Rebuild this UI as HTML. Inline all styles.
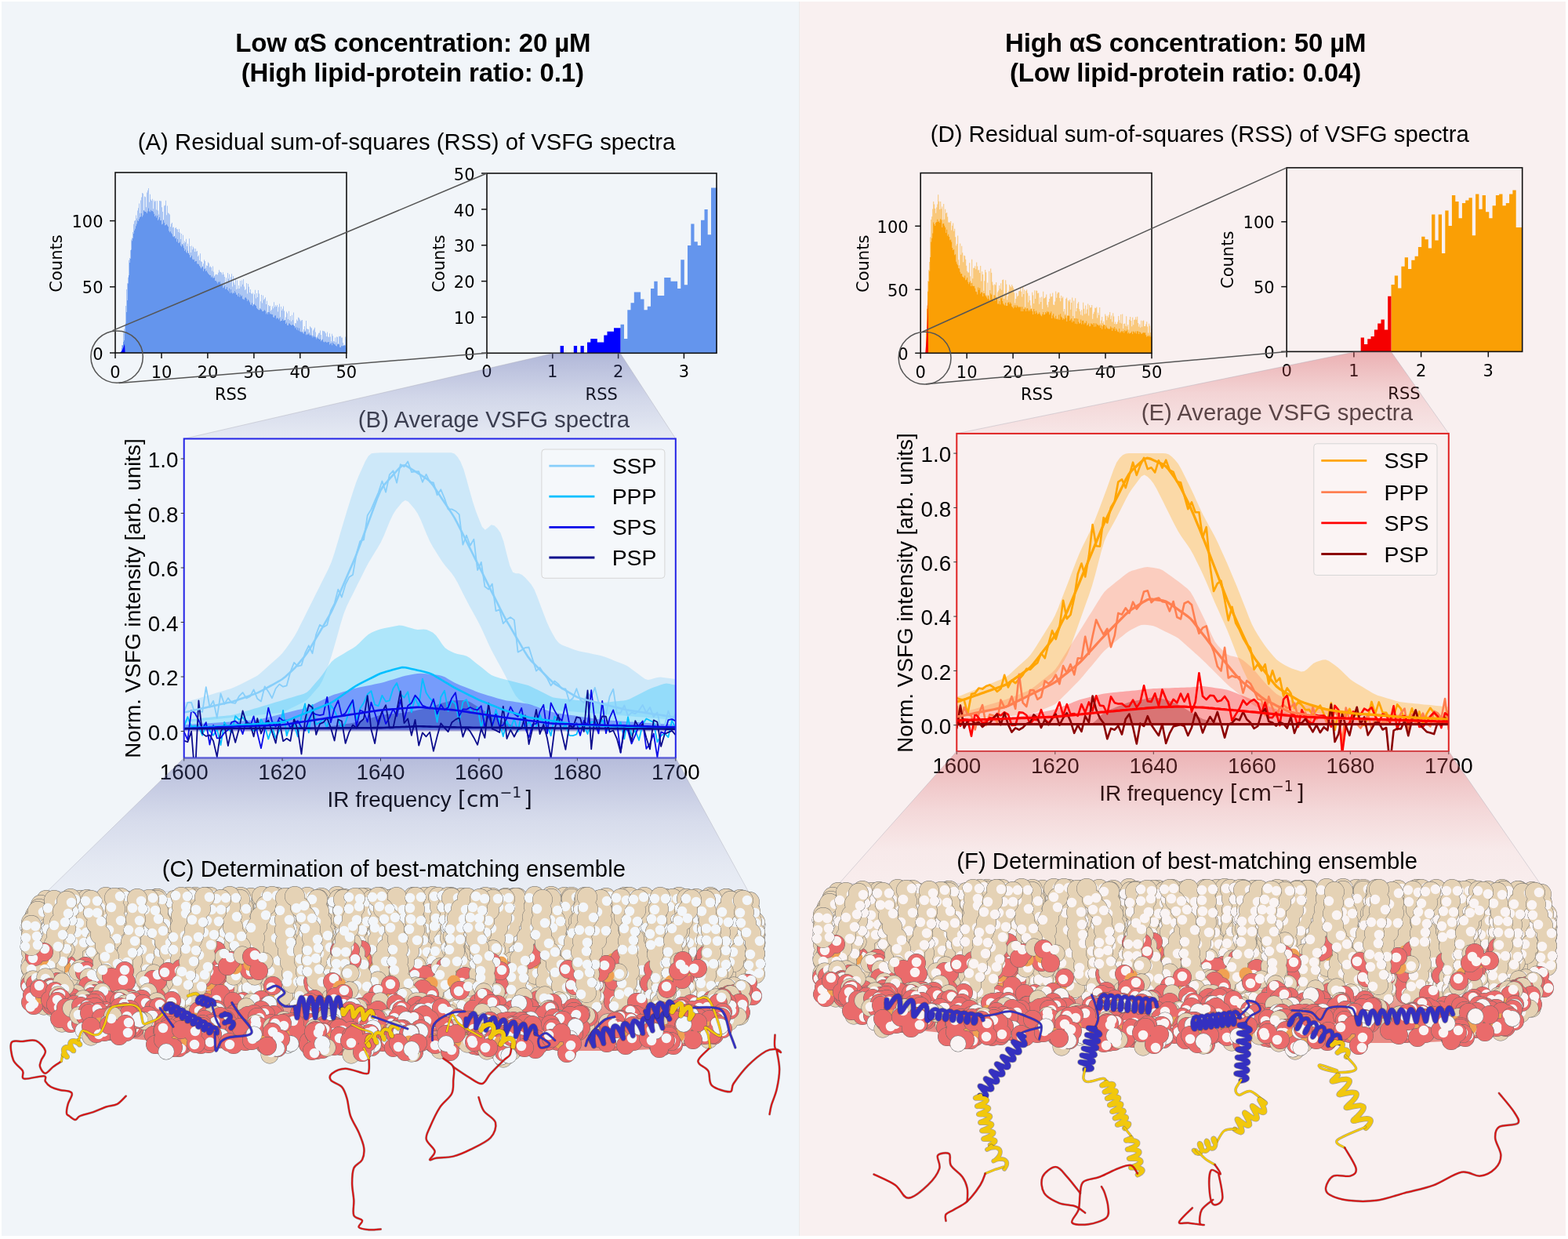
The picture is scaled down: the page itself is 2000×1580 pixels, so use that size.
<!DOCTYPE html><html><head><meta charset="utf-8"><title>VSFG figure</title><style>html,body{margin:0;padding:0;background:#fff;overflow:hidden}svg{display:block}</style></head><body><svg width="2000" height="1580" viewBox="0 0 2000 1580"><rect x="0" y="0" width="2000" height="1580" fill="#ffffff"/>
<rect x="2" y="2" width="1017" height="1574" fill="#f1f5f9"/>
<rect x="1019" y="2" width="1" height="1574" fill="#ebebeb"/>
<rect x="1020" y="2" width="977" height="1574" fill="#f9f0f0"/>
<text x="526.8" y="65.9" font-family="'Liberation Sans', Arial, Helvetica, sans-serif" font-size="33" font-weight="bold" text-anchor="middle" fill="#000" letter-spacing="-0.15">Low αS concentration: 20 µM</text>
<text x="526.3" y="103.9" font-family="'Liberation Sans', Arial, Helvetica, sans-serif" font-size="33" font-weight="bold" text-anchor="middle" fill="#000" letter-spacing="-0.15">(High lipid-protein ratio: 0.1)</text>
<text x="1512.2" y="66" font-family="'Liberation Sans', Arial, Helvetica, sans-serif" font-size="33" font-weight="bold" text-anchor="middle" fill="#000" letter-spacing="-0.15">High αS concentration: 50 µM</text>
<text x="1512" y="103.5" font-family="'Liberation Sans', Arial, Helvetica, sans-serif" font-size="33" font-weight="bold" text-anchor="middle" fill="#000" letter-spacing="-0.15">(Low lipid-protein ratio: 0.04)</text>
<text x="518.5" y="190.7" font-family="'Liberation Sans', Arial, Helvetica, sans-serif" font-size="29.3" font-weight="normal" text-anchor="middle" fill="#000" >(A) Residual sum-of-squares (RSS) of VSFG spectra</text>
<text x="1530.3" y="180.5" font-family="'Liberation Sans', Arial, Helvetica, sans-serif" font-size="29.3" font-weight="normal" text-anchor="middle" fill="#000" >(D) Residual sum-of-squares (RSS) of VSFG spectra</text>
<path d="M147 450v-0h1v-0h1v-0h1v-0h1v-0h1v-0h1v-0h1v-2.7h1v-7.2h1v-0.2h1v-15.7h1v-4.8h1v-4.1h1v-25.3h1v-21h1v-7.8h1v-7.4h1v-22h1v-2.9h1v-9.8h1v-13.7h1v-2.1h1v-7.2h1v-10.3h1v-4.1h1v-0.7h1v-6.5h1v4h1v-10.1h1v-3.1h1v-5.9h1v12.4h1v-16.2h1v-4h1v-5.7h1v0.8h1v21.5h1v-17.6h1v0.6h1v13.1h1v-18.8h1v-2.8h1v-2.6h1v17.6h1v-9.9h1v6.8h1v1.4h1v-2.2h1v12.5h1v-10.9h1v1.9h1v-1.2h1v11.4h1v-11.2h1v12.3h1v5h1v-17.6h1v0.3h1v0.3h1v7.7h1v5.6h1v15.6h1v-22.9h1v-0.9h1v-5.9h1v18.4h1v-11.7h1v9.1h1v0.6h1v1.2h1v15.9h1v-3.9h1v-1.5h1v6.3h1v-0.8h1v12.1h1v-10.6h1v-1h1v2h1v0.7h1v3.3h1v-3.8h1v4.7h1v8.2h1v-7.1h1v13.3h1v-11.5h1v10.5h1v-3h1v1.9h1v-4.4h1v9.4h1v-3.4h1v13.6h1v-20h1v9.6h1v8.2h1v-8.7h1v4.8h1v-3.5h1v2.1h1v4.1h1v-3.9h1v3.7h1v-0.6h1v6.9h1v-1.6h1v6.5h1v-8.6h1v9.9h1v0.8h1v5.3h1v-3.1h1v-5h1v1.7h1v8.9h1v-3.2h1v0.5h1v-4.7h1v1.3h1v5h1v-1.1h1v1.5h1v4.3h1v-5.9h1v7.1h1v5.3h1v-1.3h1v-0.8h1v0.2h1v0.6h1v-2.9h1v-3.5h1v2.4h1v0.3h1v0.9h1v2.4h1v-3h1v2.9h1v3h1v9.7h1v-8.5h1v5.7h1v-11.9h1v7.5h1v-5.8h1v10.5h1v-7.1h1v-3.9h1v16.2h1v-13.4h1v8.4h1v2.7h1v-8.3h1v14.2h1v-11.6h1v10.7h1v-4.2h1v4.1h1v-10h1v7.5h1v-8.1h1v5.2h1v-6.7h1v9.4h1v4.7h1v-1.3h1v-7.8h1v13.6h1v-12.5h1v3.7h1v7.2h1v-3.9h1v5h1v0.8h1v-1.4h1v14.8h1v-13.1h1v-5.4h1v10.6h1v-6.4h1v5h1v-9h1v4.6h1v18.3h1v-8.6h1v-8.2h1v10.4h1v-9.7h1v5.8h1v-1.5h1v-1.9h1v8.8h1v-4.3h1v14.3h1v-9.1h1v1.7h1v-0.7h1v6.7h1v-1.5h1v-4.5h1v2.7h1v-8.1h1v6.2h1v-2.2h1v1.7h1v-2h1v8.7h1v-6h1v-4h1v16.6h1v-13.2h1v5h1v-2.3h1v-3.1h1v5.8h1v12.8h1v-4.6h1v-7h1v1.9h1v7.5h1v-10.2h1v11.5h1v-5.4h1v6.9h1v-8.1h1v6.5h1v-9.7h1v16.9h1v-3.3h1v0.2h1v-4.7h1v1.7h1v-4.5h1v0.7h1v2h1v1.9h1v-1h1v-0.3h1v14.8h1v-3h1v-3.8h1v5.5h1v-12.7h1v10.3h1v0.5h1v0.2h1v4h1v-7.7h1v1.4h1v1h1v9.2h1v-6.3h1v-1.8h1v-1.9h1v5.7h1v7.1h1v-1.7h1v-2.2h1v-2h1v-0.1h1v-3h1v5.4h1v6.3h1v-11.6h1v0.5h1v-0h1v1h1v1.8h1v4.1h1v-5.7h1v5.8h1v0.8h1v-4.7h1v4.3h1v5.6h1v-9.5h1v2.6h1v6.8h1v0.3h1v-4.8h1v5.8h1v-7h1v0.4h1v9.3h1v-10.4h1v0.4h1v-0.7h1v2.1h1v-0h1v6.5h1v4.2h1v-1.4h1v-10.4h1v2.7h1V450Z" fill="#6495ed" opacity="0.5"/>
<path d="M147 450v-0h1v-0h1v-0h1v-0h1v-0h1v-0h1v-0h1v-1.8h1v-3.9h1v-3.8h1v-4.5h1v-1.9h1v-8.9h1v-13h1v-14.1h1v-15h1v-21.7h1v-10.3h1v-16h1v-5.2h1v-11.3h1v-11.4h1v-3.1h1v-6.1h1v-4h1v-2.3h1v-3.5h1v-2.6h1v-4.3h1v0.6h1v-2.6h1v-2.2h1v-0.9h1v-4.1h1v4.5h1v-2.1h1v-6h1v1.2h1v0.2h1v0.6h1v1.6h1v-2.7h1v-4h1v4h1v0.8h1v-2.5h1v1.5h1v-0.1h1v1.1h1v2.6h1v3.2h1v-1.3h1v2.9h1v-2.6h1v6h1v-1.6h1v-2.3h1v4.1h1v-0.3h1v5.3h1v-0.7h1v-5h1v3.5h1v3.6h1v-0.5h1v-1h1v1.5h1v1.3h1v5.6h1v1.7h1v-1.1h1v2.1h1v1.3h1v3h1v0.7h1v-1h1v3.1h1v-0.7h1v4.7h1v-3.3h1v4.8h1v-0.1h1v-1.1h1v4.6h1v1.3h1v-2.9h1v1.6h1v3.1h1v3.8h1v-1.9h1v3.2h1v1.4h1v-3.1h1v3h1v2.3h1v3.5h1v-0.6h1v-1.9h1v4.4h1v0.9h1v-0.6h1v3h1v-0.7h1v-0.1h1v3.6h1v-0h1v0.5h1v2.1h1v1.7h1v1.6h1v-1.3h1v-0.8h1v5.5h1v-3.1h1v0.5h1v2.9h1v-1h1v2.1h1v1.6h1v1.3h1v0.9h1v0.1h1v2.7h1v-1.3h1v1.9h1v-0h1v-0.5h1v4.2h1v-0h1v1.5h1v1.9h1v-2.2h1v0.7h1v-1.2h1v2.9h1v1.9h1v-2.1h1v5.8h1v-0.9h1v-1.9h1v4.3h1v-0.4h1v-2.3h1v3.9h1v1.4h1v-3.6h1v5.9h1v-4.6h1v4.2h1v1.3h1v-1.3h1v0.6h1v-2.7h1v2h1v2.6h1v-0.1h1v2.3h1v-4.1h1v4.8h1v-2.9h1v2.2h1v-1.3h1v4.6h1v0.1h1v0.9h1v-2.6h1v-0.4h1v1.5h1v3.3h1v-2h1v1.3h1v2.1h1v3h1v0.2h1v-2.5h1v4h1v-1.8h1v-1h1v1.6h1v0.9h1v2.8h1v1.4h1v1h1v0.5h1v-0.5h1v-1.4h1v1.4h1v1.8h1v-0h1v-0.4h1v-1.3h1v1.4h1v3.9h1v-1.8h1v2.1h1v-2.9h1v0.4h1v2.3h1v-0.4h1v0.9h1v-0.2h1v3.3h1v0.8h1v-2.2h1v-0.6h1v4.4h1v-1.3h1v0.6h1v1.5h1v-1.6h1v3.9h1v-0.7h1v0.1h1v-2.4h1v2.1h1v0.3h1v-1h1v4.9h1v-1.6h1v3.3h1v0.3h1v-2.4h1v-0.1h1v1.6h1v0.8h1v-0.5h1v-0.3h1v0.7h1v1.2h1v2.5h1v-1.2h1v3.3h1v-2.8h1v3.7h1v-3h1v4h1v0.7h1v0.2h1v-0.2h1v1.9h1v0.3h1v-2.5h1v0.2h1v4.1h1v-0.9h1v0.5h1v-1.4h1v1.2h1v1.5h1v-1.1h1v1.2h1v2h1v-1.9h1v1.7h1v-1.2h1v1.3h1v2.3h1v-1.9h1v1.1h1v0.5h1v0.9h1v-0.5h1v2.7h1v-1.3h1v-1.3h1v3.2h1v0.6h1v-0.6h1v-0.1h1v1h1v-0.1h1v-0.4h1v-0.1h1v3.3h1v-1.1h1v-0.7h1v2.7h1v-3.6h1v1.5h1v0.9h1v0.4h1v1.5h1v0.6h1v-2.3h1v-0.8h1v0.8h1v3.5h1v0.1h1v-1.7h1v-0h1v0.1h1v-0.9h1v0.2h1v-0.2h1v3h1V450Z" fill="#6495ed"/>
<path d="M152.5 450 L155 448.5 L157.5 443 L159 438.5 L159.6 450 Z" fill="#0000ff"/>
<rect x="147" y="220" width="295" height="230" fill="none" stroke="#111" stroke-width="1.6"/>
<line x1="147" y1="450" x2="147" y2="457" stroke="#111" stroke-width="1.5"/>
<text x="147" y="481.7" font-family="'DejaVu Sans', sans-serif" font-size="21" font-weight="normal" text-anchor="middle" fill="#000" >0</text>
<line x1="206" y1="450" x2="206" y2="457" stroke="#111" stroke-width="1.5"/>
<text x="206" y="481.7" font-family="'DejaVu Sans', sans-serif" font-size="21" font-weight="normal" text-anchor="middle" fill="#000" >10</text>
<line x1="264.9" y1="450" x2="264.9" y2="457" stroke="#111" stroke-width="1.5"/>
<text x="264.9" y="481.7" font-family="'DejaVu Sans', sans-serif" font-size="21" font-weight="normal" text-anchor="middle" fill="#000" >20</text>
<line x1="323.9" y1="450" x2="323.9" y2="457" stroke="#111" stroke-width="1.5"/>
<text x="323.9" y="481.7" font-family="'DejaVu Sans', sans-serif" font-size="21" font-weight="normal" text-anchor="middle" fill="#000" >30</text>
<line x1="382.8" y1="450" x2="382.8" y2="457" stroke="#111" stroke-width="1.5"/>
<text x="382.8" y="481.7" font-family="'DejaVu Sans', sans-serif" font-size="21" font-weight="normal" text-anchor="middle" fill="#000" >40</text>
<line x1="441.8" y1="450" x2="441.8" y2="457" stroke="#111" stroke-width="1.5"/>
<text x="441.8" y="481.7" font-family="'DejaVu Sans', sans-serif" font-size="21" font-weight="normal" text-anchor="middle" fill="#000" >50</text>
<line x1="140" y1="450" x2="147" y2="450" stroke="#111" stroke-width="1.5"/>
<text x="131.5" y="458.6" font-family="'DejaVu Sans', sans-serif" font-size="21" font-weight="normal" text-anchor="end" fill="#000" >0</text>
<line x1="140" y1="365.8" x2="147" y2="365.8" stroke="#111" stroke-width="1.5"/>
<text x="131.5" y="374.4" font-family="'DejaVu Sans', sans-serif" font-size="21" font-weight="normal" text-anchor="end" fill="#000" >50</text>
<line x1="140" y1="281.6" x2="147" y2="281.6" stroke="#111" stroke-width="1.5"/>
<text x="131.5" y="290.2" font-family="'DejaVu Sans', sans-serif" font-size="21" font-weight="normal" text-anchor="end" fill="#000" >100</text>
<text x="294.6" y="509.7" font-family="'DejaVu Sans', sans-serif" font-size="21" font-weight="normal" text-anchor="middle" fill="#000" >RSS</text>
<text x="79" y="336" font-family="'DejaVu Sans', sans-serif" font-size="21" font-weight="normal" text-anchor="middle" fill="#000" transform="rotate(-90 79 336)">Counts</text>
<path d="M791.5 450.3V413.7H796V450.3ZM796 450.3V432H800.3V450.3ZM800.3 450.3V395.3H804.5V450.3ZM804.5 450.3V386.2H808.8V450.3ZM808.8 450.3V372.4H817.1V450.3ZM817.1 450.3V381.6H821.5V450.3ZM821.5 450.3V395.3H825.8V450.3ZM825.8 450.3V390.8H830V450.3ZM830 450.3V367.9H834.3V450.3ZM834.3 450.3V358.7H838.7V450.3ZM838.7 450.3V377H847.2V450.3ZM847.2 450.3V354.1H855.5V450.3ZM855.5 450.3V358.7H864.1V450.3ZM864.1 450.3V367.9H868.3V450.3ZM868.3 450.3V331.2H872.8V450.3ZM872.8 450.3V363.3H877V450.3ZM877 450.3V312.9H881.3V450.3ZM881.3 450.3V285.4H885.5V450.3ZM885.5 450.3V308.3H889.8V450.3ZM889.8 450.3V312.9H894V450.3ZM894 450.3V280.8H898.5V450.3ZM898.5 450.3V267.1H902.7V450.3ZM902.7 450.3V299.2H907V450.3ZM907 450.3V239.6H914.7V450.3Z" fill="#6495ed"/>
<path d="M714.6 450.3V441.1H719V450.3ZM731.8 450.3V441.1H736.1V450.3ZM740.5 450.3V441.1H744.8V450.3ZM749 450.3V436.6H753.3V450.3ZM753.3 450.3V432H761.8V450.3ZM761.8 450.3V436.6H770.3V450.3ZM770.3 450.3V427.4H774.5V450.3ZM774.5 450.3V422.8H783V450.3ZM783 450.3V418.2H791.5V450.3Z" fill="#0000ff"/>
<rect x="621" y="221" width="293" height="229.3" fill="none" stroke="#111" stroke-width="1.6"/>
<line x1="621" y1="450.3" x2="621" y2="457.3" stroke="#111" stroke-width="1.5"/>
<text x="621" y="481" font-family="'DejaVu Sans', sans-serif" font-size="21" font-weight="normal" text-anchor="middle" fill="#000" >0</text>
<line x1="704.8" y1="450.3" x2="704.8" y2="457.3" stroke="#111" stroke-width="1.5"/>
<text x="704.8" y="481" font-family="'DejaVu Sans', sans-serif" font-size="21" font-weight="normal" text-anchor="middle" fill="#000" >1</text>
<line x1="788.6" y1="450.3" x2="788.6" y2="457.3" stroke="#111" stroke-width="1.5"/>
<text x="788.6" y="481" font-family="'DejaVu Sans', sans-serif" font-size="21" font-weight="normal" text-anchor="middle" fill="#000" >2</text>
<line x1="872.4" y1="450.3" x2="872.4" y2="457.3" stroke="#111" stroke-width="1.5"/>
<text x="872.4" y="481" font-family="'DejaVu Sans', sans-serif" font-size="21" font-weight="normal" text-anchor="middle" fill="#000" >3</text>
<line x1="614" y1="450.3" x2="621" y2="450.3" stroke="#111" stroke-width="1.5"/>
<text x="605.5" y="458.9" font-family="'DejaVu Sans', sans-serif" font-size="21" font-weight="normal" text-anchor="end" fill="#000" >0</text>
<line x1="614" y1="404.4" x2="621" y2="404.4" stroke="#111" stroke-width="1.5"/>
<text x="605.5" y="413" font-family="'DejaVu Sans', sans-serif" font-size="21" font-weight="normal" text-anchor="end" fill="#000" >10</text>
<line x1="614" y1="358.6" x2="621" y2="358.6" stroke="#111" stroke-width="1.5"/>
<text x="605.5" y="367.2" font-family="'DejaVu Sans', sans-serif" font-size="21" font-weight="normal" text-anchor="end" fill="#000" >20</text>
<line x1="614" y1="312.7" x2="621" y2="312.7" stroke="#111" stroke-width="1.5"/>
<text x="605.5" y="321.3" font-family="'DejaVu Sans', sans-serif" font-size="21" font-weight="normal" text-anchor="end" fill="#000" >30</text>
<line x1="614" y1="266.9" x2="621" y2="266.9" stroke="#111" stroke-width="1.5"/>
<text x="605.5" y="275.5" font-family="'DejaVu Sans', sans-serif" font-size="21" font-weight="normal" text-anchor="end" fill="#000" >40</text>
<line x1="614" y1="221" x2="621" y2="221" stroke="#111" stroke-width="1.5"/>
<text x="605.5" y="229.6" font-family="'DejaVu Sans', sans-serif" font-size="21" font-weight="normal" text-anchor="end" fill="#000" >50</text>
<text x="767.2" y="509.5" font-family="'DejaVu Sans', sans-serif" font-size="21" font-weight="normal" text-anchor="middle" fill="#000" >RSS</text>
<text x="567.3" y="336.2" font-family="'DejaVu Sans', sans-serif" font-size="21" font-weight="normal" text-anchor="middle" fill="#000" transform="rotate(-90 567.3 336.2)">Counts</text>
<path d="M1174.2 450.3v-0h1v-0h1v-0h1v-0h1v-0h1v-0h1v-0.4h1v-28.8h1v-31.7h1v-31.1h1v-14h1v-10.3h1v-31.5h1v-22.4h1v-3.8h1v-9.8h1v-9.4h1v3.5h1v5.4h1v5.7h1v-7.1h1v-4.2h1v-12.1h1v8.5h1v10.1h1v-9.9h1v9.2h1v-2.6h1v16.6h1v-20.2h1v19.7h1v-13h1v5.2h1v-1h1v5.6h1v7.3h1v-0.6h1v0.7h1v-2h1v11.7h1v-5.9h1v-3.1h1v10.1h1v-3h1v10.5h1v11.1h1v-2.3h1v-10.6h1v30.9h1v6.9h1v-27.7h1v14.3h1v-11h1v8.5h1v12h1v-8.6h1v0.6h1v4.5h1v7.9h1v7.1h1v1.6h1v0.1h1v-12.3h1v17h1v8.9h1v-30.3h1v24.4h1v-13.5h1v-0h1v-2.4h1v4h1v-8.8h1v4.9h1v5h1v-0.1h1v3.6h1v-8.9h1v19.4h1v-12.1h1v3.6h1v20.8h1v-12.4h1v-14.3h1v3.3h1v29.3h1v-16.1h1v17.7h1v-32.4h1v24.2h1v-27.4h1v5.2h1v11.6h1v4.1h1v12.8h1v-13.9h1v1.2h1v-3.5h1v23.3h1v-10.8h1v-2.1h1v-6.4h1v4.2h1v-7.1h1v8.6h1v-12.9h1v-0.3h1v24.3h1v-6.7h1v-17h1v5.4h1v20h1v-5h1v-6.7h1v-8h1v2h1v1.5h1v-3.3h1v2h1v2.5h1v5.9h1v13h1v-5.5h1v-7.2h1v4.4h1v-1.1h1v-5.8h1v-0.2h1v-4.1h1v4.7h1v6.8h1v-13.2h1v9.6h1v-5.3h1v21.8h1v-20.5h1v-1.6h1v4.5h1v11.6h1v-8.2h1v5.9h1v6.5h1v8.7h1v-25.6h1v3.9h1v10.4h1v-16.8h1v10.9h1v-10.7h1v0.4h1v3.2h1v-0.4h1v14.1h1v-8.2h1v5.5h1v-6.4h1v15.3h1v-22.1h1v8.7h1v-0.6h1v-1.1h1v-3.2h1v13.1h1v3.1h1v-6.9h1v-3.8h1v-6.5h1v4h1v-0.5h1v-4.5h1v15h1v0.3h1v-4.3h1v-13.2h1v8.4h1v-5.2h1v-1.9h1v0.2h1v7.2h1v4.2h1v-7.3h1v3.3h1v-1.9h1v18.9h1v-3.2h1v6.3h1v-19.4h1v-1.5h1v26.4h1v-22.9h1v1.4h1v-2.3h1v12.6h1v-8.7h1v-6.5h1v23.5h1v-19.5h1v22.2h1v-25.4h1v16.7h1v-4.1h1v-6h1v-1.9h1v9.3h1v2.7h1v4.5h1v-6.3h1v7.2h1v-16.6h1v8h1v6.8h1v-11h1v10.2h1v-5.4h1v-6.9h1v15.1h1v-13.3h1v3.3h1v-0.6h1v-3h1v17.8h1v-6.5h1v-2.6h1v-5.1h1v0.5h1v-1.6h1v13.9h1v-6.7h1v3h1v-9.6h1v20.3h1v-3.9h1v-4.5h1v8h1v-2.2h1v4.9h1v-14.2h1v2.3h1v5.4h1v-5.4h1v2h1v-3.4h1v-3.3h1v8.9h1v-4.6h1v8.1h1v-11.3h1v4.4h1v9.3h1v-2.3h1v2.8h1v-0.3h1v-2.7h1v-7.4h1v5.2h1v3.6h1v-10.9h1v11.7h1v-12.2h1v18.7h1v-6.2h1v-0.3h1v3.2h1v-12.6h1v13.1h1v-2.4h1v6.6h1v-12.8h1v-3.6h1v5h1v7.1h1v-11.5h1v9.6h1v-6.2h1v-0.5h1v-3.4h1v3.5h1v-4h1v8.2h1v4.6h1v-3h1v4.3h1v-9h1v8h1v-7.5h1v-0.9h1v7.5h1v0.2h1v-2.7h1v-3.2h1v6.4h1v7.8h1v-11.6h1v2.7h1v8.5h1v-5.1h1V450.3Z" fill="#fa9f05" opacity="0.5"/>
<path d="M1174.2 450.3v-0h1v-0h1v-0h1v-0h1v-0h1v-0h1v-0.4h1v-28.6h1v-27.6h1v-21.9h1v-12.8h1v-13.2h1v-17.9h1v-19.5h1v-4.6h1v-6.4h1v-14h1v2.3h1v2.2h1v-4h1v-0.9h1v-3.2h1v3.3h1v-1.4h1v2.3h1v-4.7h1v1.2h1v9.4h1v-4.6h1v-0.2h1v2.7h1v2.3h1v6.9h1v-4.3h1v8.1h1v-2h1v3.2h1v4.3h1v-0.7h1v2.9h1v7.6h1v2.8h1v-0.9h1v7.3h1v-1h1v9.4h1v2.9h1v1.7h1v3.7h1v0.4h1v4.3h1v2.5h1v-0.3h1v3.9h1v0.4h1v1.4h1v-3.1h1v5.7h1v-0.7h1v-2.5h1v5.6h1v2.6h1v-2.1h1v-1.9h1v6.7h1v-4.2h1v3.8h1v0.5h1v-0.3h1v3h1v4.1h1v0.5h1v3.1h1v-8.8h1v3.1h1v-2.5h1v7.3h1v-2h1v0.4h1v5.1h1v-3.9h1v-0h1v2.3h1v1.4h1v1.7h1v2.1h1v-4.8h1v4.6h1v1.7h1v-8.8h1v1.4h1v5.7h1v-0.7h1v3h1v-7.3h1v7.1h1v-4.8h1v1.2h1v7.5h1v0.1h1v-3.4h1v4.2h1v-8h1v-0h1v3.7h1v3.2h1v1.3h1v1.1h1v-3.5h1v4h1v-0.1h1v-3.9h1v-0.8h1v2.5h1v-2.2h1v1.6h1v3.5h1v1h1v1.6h1v-4h1v2.4h1v-2.5h1v3h1v-2.6h1v1.4h1v1.3h1v-1.1h1v0.3h1v5.5h1v-5.7h1v5.7h1v-3.2h1v0.7h1v-2h1v4.6h1v-3.7h1v-0.5h1v3.9h1v-1.7h1v1.6h1v-2.5h1v-0.7h1v3.2h1v4.2h1v-6.9h1v2.9h1v3.4h1v-4.1h1v2.5h1v2.4h1v-1h1v-1.9h1v2.4h1v1.7h1v0.9h1v-2.5h1v-2.6h1v3.3h1v-0.4h1v-3h1v1.5h1v-2.7h1v1.4h1v-0.8h1v3.9h1v-2.1h1v-1.9h1v8.8h1v-3.8h1v-2.3h1v4.8h1v1.6h1v-3.7h1v4.2h1v-0.7h1v1.2h1v-6h1v6.4h1v-7.6h1v3.5h1v1.6h1v2.5h1v-1.9h1v1.4h1v-5h1v3.3h1v4.5h1v-7.5h1v-0.1h1v0.2h1v6.3h1v-1.6h1v-1.5h1v5.2h1v-2.3h1v1.1h1v-4h1v6.8h1v-6.7h1v7.3h1v-6.7h1v3.8h1v2.3h1v-0.7h1v-4.4h1v5.9h1v-4.4h1v-0.3h1v4.6h1v-1.8h1v0.7h1v-2.7h1v5.6h1v-1.1h1v-1.8h1v4h1v-0.6h1v-3.5h1v1.1h1v0.8h1v-2h1v4.7h1v-4.6h1v4.4h1v-4h1v1.5h1v0.3h1v1h1v-1h1v3.5h1v-2.8h1v4.6h1v-3.6h1v-2.1h1v0.3h1v5.3h1v-4.4h1v2.3h1v1.3h1v0.6h1v-0.2h1v0.2h1v-3.2h1v1.5h1v4.3h1v-4h1v1.5h1v-2.5h1v4.9h1v-2.8h1v1.6h1v2.1h1v0.8h1v-4.7h1v5.7h1v-1.3h1v-1.2h1v1.3h1v-1.4h1v2.4h1v-3.4h1v1.4h1v-0.2h1v-1.7h1v4.8h1v-1.6h1v1.9h1v-0.6h1v-1.1h1v-1.3h1v3.5h1v-3.6h1v0.7h1v1.6h1v-2.2h1v2.8h1v-3.2h1v0.3h1v3.4h1v-3h1v1.2h1v1.6h1v-0.3h1v-0.9h1v-0.6h1v0.5h1v-0.1h1v3h1v2.1h1v-0.6h1v-1h1v1.5h1v-1.9h1v2h1v-0.7h1V450.3Z" fill="#fa9f05"/>
<path d="M1180.3 450.3 L1181 441 L1182 428 L1183 405 L1183.6 381 L1184 450.3 Z" fill="#f50000"/>
<rect x="1174.2" y="220.6" width="294.8" height="229.7" fill="none" stroke="#111" stroke-width="1.6"/>
<line x1="1174.2" y1="450.3" x2="1174.2" y2="457.3" stroke="#111" stroke-width="1.5"/>
<text x="1174.2" y="481.5" font-family="'DejaVu Sans', sans-serif" font-size="21" font-weight="normal" text-anchor="middle" fill="#000" >0</text>
<line x1="1233.2" y1="450.3" x2="1233.2" y2="457.3" stroke="#111" stroke-width="1.5"/>
<text x="1233.2" y="481.5" font-family="'DejaVu Sans', sans-serif" font-size="21" font-weight="normal" text-anchor="middle" fill="#000" >10</text>
<line x1="1292.1" y1="450.3" x2="1292.1" y2="457.3" stroke="#111" stroke-width="1.5"/>
<text x="1292.1" y="481.5" font-family="'DejaVu Sans', sans-serif" font-size="21" font-weight="normal" text-anchor="middle" fill="#000" >20</text>
<line x1="1351.1" y1="450.3" x2="1351.1" y2="457.3" stroke="#111" stroke-width="1.5"/>
<text x="1351.1" y="481.5" font-family="'DejaVu Sans', sans-serif" font-size="21" font-weight="normal" text-anchor="middle" fill="#000" >30</text>
<line x1="1410" y1="450.3" x2="1410" y2="457.3" stroke="#111" stroke-width="1.5"/>
<text x="1410" y="481.5" font-family="'DejaVu Sans', sans-serif" font-size="21" font-weight="normal" text-anchor="middle" fill="#000" >40</text>
<line x1="1469" y1="450.3" x2="1469" y2="457.3" stroke="#111" stroke-width="1.5"/>
<text x="1469" y="481.5" font-family="'DejaVu Sans', sans-serif" font-size="21" font-weight="normal" text-anchor="middle" fill="#000" >50</text>
<line x1="1167.2" y1="450.3" x2="1174.2" y2="450.3" stroke="#111" stroke-width="1.5"/>
<text x="1158.7" y="458.9" font-family="'DejaVu Sans', sans-serif" font-size="21" font-weight="normal" text-anchor="end" fill="#000" >0</text>
<line x1="1167.2" y1="369.3" x2="1174.2" y2="369.3" stroke="#111" stroke-width="1.5"/>
<text x="1158.7" y="377.9" font-family="'DejaVu Sans', sans-serif" font-size="21" font-weight="normal" text-anchor="end" fill="#000" >50</text>
<line x1="1167.2" y1="288.3" x2="1174.2" y2="288.3" stroke="#111" stroke-width="1.5"/>
<text x="1158.7" y="296.9" font-family="'DejaVu Sans', sans-serif" font-size="21" font-weight="normal" text-anchor="end" fill="#000" >100</text>
<text x="1322.6" y="509.7" font-family="'DejaVu Sans', sans-serif" font-size="21" font-weight="normal" text-anchor="middle" fill="#000" >RSS</text>
<text x="1107.8" y="336.3" font-family="'DejaVu Sans', sans-serif" font-size="21" font-weight="normal" text-anchor="middle" fill="#000" transform="rotate(-90 1107.8 336.3)">Counts</text>
<path d="M1774.5 448.4V363H1778.8V448.4ZM1778.8 448.4V351.4H1783.1V448.4ZM1783.1 448.4V367.4H1787.4V448.4ZM1787.4 448.4V339.8H1791.7V448.4ZM1791.7 448.4V328.3H1796V448.4ZM1796 448.4V342.9H1800.3V448.4ZM1800.3 448.4V331.7H1804.6V448.4ZM1804.6 448.4V326.7H1808.9V448.4ZM1808.9 448.4V315.1H1813.2V448.4ZM1813.2 448.4V301.8H1817.5V448.4ZM1817.5 448.4V305.2H1821.8V448.4ZM1821.8 448.4V316.4H1826.1V448.4ZM1826.1 448.4V273.4H1830.4V448.4ZM1830.4 448.4V306.6H1834.7V448.4ZM1834.7 448.4V273.4H1839V448.4ZM1839 448.4V322.9H1843.3V448.4ZM1843.3 448.4V268.6H1847.6V448.4ZM1847.6 448.4V288.1H1851.9V448.4ZM1851.9 448.4V249H1856.3V448.4ZM1856.3 448.4V257H1860.6V448.4ZM1860.6 448.4V278.3H1864.9V448.4ZM1864.9 448.4V259H1869.2V448.4ZM1869.2 448.4V255.5H1873.5V448.4ZM1873.5 448.4V252.2H1877.8V448.4ZM1877.8 448.4V300.2H1882.1V448.4ZM1882.1 448.4V247.4H1886.4V448.4ZM1886.4 448.4V266.7H1890.7V448.4ZM1890.7 448.4V249H1895V448.4ZM1895 448.4V270.2H1899.3V448.4ZM1899.3 448.4V278.3H1903.6V448.4ZM1903.6 448.4V262.3H1907.9V448.4ZM1907.9 448.4V249H1912.2V448.4ZM1912.2 448.4V247.4H1916.5V448.4ZM1916.5 448.4V262.3H1920.8V448.4ZM1920.8 448.4V259H1925.1V448.4ZM1925.1 448.4V247.4H1929.4V448.4ZM1929.4 448.4V242.4H1933.7V448.4ZM1933.7 448.4V290.1H1938V448.4ZM1938 448.4V290.1H1941.6V448.4Z" fill="#fa9f05"/>
<path d="M1735.7 448.4V430.5H1740V448.4ZM1740 448.4V439H1744.3V448.4ZM1744.3 448.4V432.3H1748.6V448.4ZM1748.6 448.4V428.9H1752.9V448.4ZM1752.9 448.4V420.6H1757.2V448.4ZM1757.2 448.4V412.6H1761.5V448.4ZM1761.5 448.4V407.5H1765.9V448.4ZM1765.9 448.4V420.6H1770.2V448.4ZM1770.2 448.4V377.7H1774.5V448.4Z" fill="#f50000"/>
<rect x="1641.2" y="213.9" width="300.5" height="234.5" fill="none" stroke="#111" stroke-width="1.6"/>
<line x1="1641.2" y1="448.4" x2="1641.2" y2="455.4" stroke="#111" stroke-width="1.5"/>
<text x="1641.2" y="480" font-family="'DejaVu Sans', sans-serif" font-size="21" font-weight="normal" text-anchor="middle" fill="#000" >0</text>
<line x1="1726.9" y1="448.4" x2="1726.9" y2="455.4" stroke="#111" stroke-width="1.5"/>
<text x="1726.9" y="480" font-family="'DejaVu Sans', sans-serif" font-size="21" font-weight="normal" text-anchor="middle" fill="#000" >1</text>
<line x1="1812.6" y1="448.4" x2="1812.6" y2="455.4" stroke="#111" stroke-width="1.5"/>
<text x="1812.6" y="480" font-family="'DejaVu Sans', sans-serif" font-size="21" font-weight="normal" text-anchor="middle" fill="#000" >2</text>
<line x1="1898.3" y1="448.4" x2="1898.3" y2="455.4" stroke="#111" stroke-width="1.5"/>
<text x="1898.3" y="480" font-family="'DejaVu Sans', sans-serif" font-size="21" font-weight="normal" text-anchor="middle" fill="#000" >3</text>
<line x1="1634.2" y1="448.4" x2="1641.2" y2="448.4" stroke="#111" stroke-width="1.5"/>
<text x="1625.7" y="457" font-family="'DejaVu Sans', sans-serif" font-size="21" font-weight="normal" text-anchor="end" fill="#000" >0</text>
<line x1="1634.2" y1="365.6" x2="1641.2" y2="365.6" stroke="#111" stroke-width="1.5"/>
<text x="1625.7" y="374.2" font-family="'DejaVu Sans', sans-serif" font-size="21" font-weight="normal" text-anchor="end" fill="#000" >50</text>
<line x1="1634.2" y1="282.8" x2="1641.2" y2="282.8" stroke="#111" stroke-width="1.5"/>
<text x="1625.7" y="291.4" font-family="'DejaVu Sans', sans-serif" font-size="21" font-weight="normal" text-anchor="end" fill="#000" >100</text>
<text x="1791" y="508.7" font-family="'DejaVu Sans', sans-serif" font-size="21" font-weight="normal" text-anchor="middle" fill="#000" >RSS</text>
<text x="1573" y="331.3" font-family="'DejaVu Sans', sans-serif" font-size="21" font-weight="normal" text-anchor="middle" fill="#000" transform="rotate(-90 1573 331.3)">Counts</text>
<circle cx="149.1" cy="455.1" r="33.2" fill="none" stroke="#555" stroke-width="1.5"/>
<line x1="143.5" y1="421.6" x2="621" y2="221" stroke="#555" stroke-width="1.5"/>
<line x1="151.5" y1="488.6" x2="621" y2="450.3" stroke="#555" stroke-width="1.5"/>
<circle cx="1179.6" cy="456.6" r="33.4" fill="none" stroke="#555" stroke-width="1.5"/>
<line x1="1176.5" y1="423.2" x2="1641.2" y2="213.9" stroke="#555" stroke-width="1.5"/>
<line x1="1181" y1="489.8" x2="1641.2" y2="448.4" stroke="#555" stroke-width="1.5"/>
<defs><linearGradient id="gL1" x1="0" y1="0" x2="0" y2="1"><stop offset="0" stop-color="#525ca8" stop-opacity="0.40"/><stop offset="0.5" stop-color="#525ca8" stop-opacity="0.20"/><stop offset="1" stop-color="#525ca8" stop-opacity="0.07"/></linearGradient><linearGradient id="gL2" x1="0" y1="0" x2="0" y2="1"><stop offset="0" stop-color="#525ca8" stop-opacity="0.37"/><stop offset="0.45" stop-color="#525ca8" stop-opacity="0.17"/><stop offset="0.8" stop-color="#525ca8" stop-opacity="0.08"/><stop offset="1" stop-color="#525ca8" stop-opacity="0.05"/></linearGradient><linearGradient id="gR1" x1="0" y1="0" x2="0" y2="1"><stop offset="0" stop-color="#d75257" stop-opacity="0.40"/><stop offset="0.5" stop-color="#d75257" stop-opacity="0.18"/><stop offset="1" stop-color="#d75257" stop-opacity="0.06"/></linearGradient><linearGradient id="gR2" x1="0" y1="0" x2="0" y2="1"><stop offset="0" stop-color="#d75257" stop-opacity="0.38"/><stop offset="0.45" stop-color="#d75257" stop-opacity="0.15"/><stop offset="0.75" stop-color="#d75257" stop-opacity="0.04"/><stop offset="1" stop-color="#d75257" stop-opacity="0.02"/></linearGradient></defs>
<path d="M704 451 L791.5 451 L861.8 559.5 L234.7 559.5 Z" fill="url(#gL1)" stroke="#a8a8b4" stroke-opacity="0.5" stroke-width="0.8"/>
<path d="M1726.9 449 L1774.7 449 L1847.8 552.9 L1220.3 552.9 Z" fill="url(#gR1)" stroke="#a8a8b4" stroke-opacity="0.5" stroke-width="0.8"/>
<clipPath id="clipB"><rect x="234.7" y="559.5" width="627.1" height="407"/></clipPath>
<g clip-path="url(#clipB)">
<path d="M234.7 895.8 L238.6 894.9 L242.5 893.7 L246.5 892.5 L250.4 891.4 L254.3 890.2 L258.2 889 L262.1 887.8 L266.1 886.7 L270 885.5 L273.9 884.3 L277.8 883.1 L281.7 882 L285.7 880.8 L289.6 879.6 L293.5 878.4 L297.4 877.1 L301.3 875.3 L305.2 873.4 L309.2 871.4 L313.1 869.4 L317 867.5 L320.9 865.5 L324.8 863.6 L328.8 861.2 L332.7 858.1 L336.6 854.6 L340.5 851.1 L344.4 847.5 L348.4 844 L352.3 840.5 L356.2 837 L360.1 833 L364 828 L368 822.5 L371.9 817.1 L375.8 811 L379.7 803.9 L383.6 796 L387.6 788.2 L391.5 780.3 L395.4 772.5 L399.3 764.7 L403.2 756.8 L407.2 749 L411.1 741.1 L415 733.3 L418.9 725.5 L422.8 716.4 L426.7 704.7 L430.7 691.4 L434.6 678 L438.5 664.9 L442.4 652.1 L446.3 639.6 L450.3 627 L454.2 615.3 L458.1 605.5 L462 596.9 L465.9 588.3 L469.9 581.4 L473.8 578.3 L477.7 577.7 L481.6 577.4 L485.5 577.3 L489.5 577.3 L493.4 577.3 L497.3 577.3 L501.2 577.3 L505.1 577.3 L509.1 577.3 L513 577.3 L516.9 577.3 L520.8 577.3 L524.7 577.3 L528.7 577.3 L532.6 577.3 L536.5 577.3 L540.4 577.3 L544.3 577.3 L548.2 577.3 L552.2 577.3 L556.1 577.3 L560 577.3 L563.9 577.3 L567.8 577.3 L571.8 577.3 L575.7 577.3 L579.6 578.5 L583.5 582.5 L587.4 588.8 L591.4 598.6 L595.3 612.1 L599.2 626.2 L603.1 640.1 L607 652.1 L611 662.3 L614.9 671.7 L618.8 675.8 L622.7 672.8 L626.6 669.3 L630.6 670.2 L634.5 674.1 L638.4 679.4 L642.3 690.2 L646.2 706 L650.2 721.2 L654.1 729.8 L658 731.2 L661.9 731.3 L665.8 732.9 L669.8 736.5 L673.7 740.8 L677.6 745.2 L681.5 751.8 L685.4 761.3 L689.3 771.8 L693.3 782.2 L697.2 792.5 L701.1 801.3 L705 808.5 L708.9 815.2 L712.9 820.1 L716.8 822.5 L720.7 824 L724.6 825.4 L728.5 826.9 L732.5 828.4 L736.4 829.7 L740.3 830.7 L744.2 831.5 L748.1 832.3 L752.1 833.1 L756 833.9 L759.9 834.7 L763.8 835.5 L767.7 836.4 L771.7 837.7 L775.6 839.2 L779.5 840.8 L783.4 842.4 L787.3 843.9 L791.3 845.5 L795.2 847.1 L799.1 848.8 L803 851.3 L806.9 854.2 L810.8 857.1 L814.8 860.1 L818.7 863 L822.6 865.8 L826.5 866.9 L830.4 866.2 L834.4 865 L838.3 863.9 L842.2 863.5 L846.1 863.9 L850 864.4 L854 865 L857.9 865.5 L861.8 866 L861.8 917.9 L857.9 917.7 L854 917.4 L850 917 L846.1 916.7 L842.2 916.4 L838.3 916.1 L834.4 915.8 L830.4 915.5 L826.5 915.2 L822.6 914.8 L818.7 914.5 L814.8 914.2 L810.8 913.9 L806.9 913.6 L803 913.3 L799.1 913 L795.2 912.6 L791.3 912.3 L787.3 912 L783.4 911.7 L779.5 911.4 L775.6 911.1 L771.7 910.8 L767.7 910.5 L763.8 910.1 L759.9 909.8 L756 909.5 L752.1 909.2 L748.1 908.9 L744.2 908.6 L740.3 908.3 L736.4 907.9 L732.5 907.6 L728.5 907.3 L724.6 907 L720.7 906.7 L716.8 906.4 L712.9 906.1 L708.9 905.7 L705 905.3 L701.1 904.6 L697.2 903.8 L693.3 903 L689.3 902.2 L685.4 901.4 L681.5 900.6 L677.6 899.8 L673.7 898.5 L669.8 896.5 L665.8 894.1 L661.9 891.7 L658 887.5 L654.1 880.7 L650.2 872.8 L646.2 865 L642.3 857.4 L638.4 850.2 L634.5 843.2 L630.6 836.1 L626.6 828.5 L622.7 820.2 L618.8 811.6 L614.9 803 L611 794.9 L607 787.5 L603.1 780.4 L599.2 773.4 L595.3 766.1 L591.4 758.4 L587.4 750.5 L583.5 742.7 L579.6 735.9 L575.7 730.6 L571.8 725.9 L567.8 721.2 L563.9 716 L560 710 L556.1 703.7 L552.2 697.4 L548.2 690.2 L544.3 681.4 L540.4 672 L536.5 662.6 L532.6 654.7 L528.7 649 L524.7 644.3 L520.8 639.7 L516.9 637.9 L513 640.6 L509.1 645.3 L505.1 650.1 L501.2 656.2 L497.3 664.6 L493.4 674 L489.5 683.4 L485.5 691.9 L481.6 698.8 L477.7 705.1 L473.8 711.4 L469.9 718.1 L465.9 725.6 L462 733.4 L458.1 741.3 L454.2 749.1 L450.3 757 L446.3 764.8 L442.4 772.7 L438.5 782.4 L434.6 795.1 L430.7 809.2 L426.7 823.3 L422.8 836.4 L418.9 848 L415 858.7 L411.1 868.3 L407.2 874.9 L403.2 879.5 L399.3 884.1 L395.4 888.6 L391.5 892.4 L387.6 895 L383.6 897 L379.7 898.9 L375.8 900.9 L371.9 902.8 L368 904.8 L364 906.8 L360.1 908.3 L356.2 909 L352.3 909.4 L348.4 909.8 L344.4 910.2 L340.5 910.6 L336.6 911 L332.7 911.4 L328.8 911.8 L324.8 912.2 L320.9 912.6 L317 913 L313.1 913.4 L309.2 913.7 L305.2 914.1 L301.3 914.5 L297.4 914.9 L293.5 915.3 L289.6 915.7 L285.7 916.1 L281.7 916.5 L277.8 916.9 L273.9 917.3 L270 917.7 L266.1 918.1 L262.1 918.5 L258.2 918.8 L254.3 919.2 L250.4 919.6 L246.5 920 L242.5 920.4 L238.6 920.8 L234.7 921.1 Z" fill="#87cefa" fill-opacity="0.33"/>
<path d="M234.7 918 L238.6 917.7 L242.5 917.3 L246.5 916.9 L250.4 916.5 L254.3 916.1 L258.2 915.7 L262.1 915.3 L266.1 914.9 L270 914.5 L273.9 914.1 L277.8 913.7 L281.7 913.3 L285.7 913 L289.6 912.6 L293.5 912.2 L297.4 911.6 L301.3 910.6 L305.2 909.4 L309.2 908.3 L313.1 907.1 L317 905.9 L320.9 904.7 L324.8 903.6 L328.8 902.4 L332.7 901.2 L336.6 900 L340.5 898.9 L344.4 897.7 L348.4 896.5 L352.3 895.3 L356.2 894.2 L360.1 893 L364 891.8 L368 890.6 L371.9 889.5 L375.8 888.3 L379.7 887.1 L383.6 885.9 L387.6 884.8 L391.5 882.8 L395.4 879.2 L399.3 874.6 L403.2 870.1 L407.2 865.5 L411.1 860.5 L415 854.9 L418.9 849 L422.8 843.9 L426.7 840.5 L430.7 838.1 L434.6 835.8 L438.5 833.4 L442.4 831.1 L446.3 828.7 L450.3 826.4 L454.2 823.7 L458.1 820.2 L462 816.3 L465.9 812.4 L469.9 809 L473.8 806.7 L477.7 805.1 L481.6 803.6 L485.5 802.2 L489.5 801.2 L493.4 800.5 L497.3 799.7 L501.2 799 L505.1 798.2 L509.1 797.6 L513 797.8 L516.9 798.8 L520.8 799.9 L524.7 801.1 L528.7 802.2 L532.6 802.9 L536.5 802.8 L540.4 802.4 L544.3 803 L548.2 804.8 L552.2 806.8 L556.1 810.3 L560 815.6 L563.9 821.5 L567.8 826.2 L571.8 829.1 L575.7 831 L579.6 832.8 L583.5 833.9 L587.4 834.7 L591.4 835.5 L595.3 836.7 L599.2 839.1 L603.1 842.2 L607 845.4 L611 848.5 L614.9 851.6 L618.8 854.8 L622.7 857.9 L626.6 860.7 L630.6 862.5 L634.5 863.7 L638.4 864.9 L642.3 866 L646.2 867.1 L650.2 868 L654.1 869 L658 870 L661.9 871 L665.8 872 L669.8 872.9 L673.7 874.1 L677.6 875.7 L681.5 877.7 L685.4 879.6 L689.3 881.6 L693.3 883.6 L697.2 885.5 L701.1 887.5 L705 889.2 L708.9 890.1 L712.9 890.5 L716.8 890.9 L720.7 891.3 L724.6 891.7 L728.5 892.1 L732.5 892.5 L736.4 892.9 L740.3 893.2 L744.2 893.6 L748.1 894 L752.1 894.4 L756 894.8 L759.9 895.2 L763.8 895.6 L767.7 895.9 L771.7 895.7 L775.6 895.4 L779.5 895 L783.4 894.6 L787.3 894.2 L791.3 893.8 L795.2 893.4 L799.1 892.8 L803 891.4 L806.9 889.4 L810.8 887.5 L814.8 885.5 L818.7 883.6 L822.6 881.6 L826.5 879.6 L830.4 877.8 L834.4 876.2 L838.3 874.9 L842.2 873.6 L846.1 872.3 L850 871.5 L854 871.9 L857.9 872.9 L861.8 873.6 L861.8 930 L857.9 930 L854 930 L850 930 L846.1 930 L842.2 930 L838.3 930 L834.4 930 L830.4 930 L826.5 930 L822.6 930 L818.7 930 L814.8 930 L810.8 930 L806.9 930 L803 930 L799.1 930 L795.2 930 L791.3 930 L787.3 930 L783.4 930 L779.5 930 L775.6 930 L771.7 930 L767.7 930 L763.8 930 L759.9 930 L756 930 L752.1 930 L748.1 930 L744.2 930 L740.3 930 L736.4 930 L732.5 930 L728.5 930 L724.6 930 L720.7 930 L716.8 930 L712.9 930 L708.9 930 L705 930 L701.1 930 L697.2 930 L693.3 930 L689.3 930 L685.4 930 L681.5 930 L677.6 930 L673.7 930 L669.8 930 L665.8 930 L661.9 930 L658 930 L654.1 930 L650.2 930 L646.2 930 L642.3 930 L638.4 930 L634.5 930 L630.6 930 L626.6 930 L622.7 930 L618.8 930 L614.9 930 L611 930 L607 930 L603.1 930 L599.2 930 L595.3 930 L591.4 930 L587.4 930 L583.5 930 L579.6 930 L575.7 930 L571.8 930 L567.8 930 L563.9 930 L560 930 L556.1 930 L552.2 930 L548.2 930 L544.3 930 L540.4 930 L536.5 930 L532.6 930 L528.7 930 L524.7 930 L520.8 930 L516.9 930 L513 930 L509.1 930 L505.1 930 L501.2 930 L497.3 930 L493.4 930 L489.5 930 L485.5 930 L481.6 930 L477.7 930 L473.8 930 L469.9 930 L465.9 930 L462 930 L458.1 930 L454.2 930 L450.3 930 L446.3 930 L442.4 930 L438.5 930 L434.6 930 L430.7 930 L426.7 930 L422.8 930 L418.9 930 L415 930 L411.1 930 L407.2 930 L403.2 930 L399.3 930 L395.4 930 L391.5 930 L387.6 930 L383.6 930 L379.7 930 L375.8 930 L371.9 930 L368 930 L364 930 L360.1 930 L356.2 930 L352.3 930 L348.4 930 L344.4 930 L340.5 930 L336.6 930 L332.7 930 L328.8 930 L324.8 930 L320.9 930 L317 930 L313.1 930 L309.2 930 L305.2 930 L301.3 930 L297.4 930 L293.5 930 L289.6 930 L285.7 930 L281.7 930 L277.8 930 L273.9 930 L270 930 L266.1 930 L262.1 930 L258.2 930 L254.3 930 L250.4 930 L246.5 930 L242.5 930 L238.6 930 L234.7 930 Z" fill="#00bfff" fill-opacity="0.28"/>
<path d="M234.7 924.3 L238.6 924.1 L242.5 923.8 L246.5 923.6 L250.4 923.3 L254.3 923 L258.2 922.8 L262.1 922.5 L266.1 922.2 L270 922 L273.9 921.7 L277.8 921.5 L281.7 921.2 L285.7 920.9 L289.6 920.7 L293.5 920.4 L297.4 920.2 L301.3 919.9 L305.2 919.6 L309.2 919.4 L313.1 919.1 L317 918.8 L320.9 918.6 L324.8 918.3 L328.8 917.9 L332.7 917.1 L336.6 916.1 L340.5 915.1 L344.4 914.2 L348.4 913.2 L352.3 912.2 L356.2 911.2 L360.1 910.2 L364 909.3 L368 908.3 L371.9 907.3 L375.8 906.3 L379.7 905.3 L383.6 904.4 L387.6 903.4 L391.5 902.2 L395.4 900.5 L399.3 898.5 L403.2 896.6 L407.2 894.6 L411.1 892.7 L415 890.7 L418.9 888.7 L422.8 887 L426.7 885.6 L430.7 884.4 L434.6 883.2 L438.5 882 L442.4 880.9 L446.3 879.7 L450.3 878.5 L454.2 877.4 L458.1 876.5 L462 875.7 L465.9 874.9 L469.9 874.2 L473.8 873.4 L477.7 872.6 L481.6 871.8 L485.5 870.9 L489.5 869.9 L493.4 868.7 L497.3 867.5 L501.2 866.4 L505.1 865.2 L509.1 864 L513 862.8 L516.9 861.8 L520.8 860.9 L524.7 860.3 L528.7 859.6 L532.6 859 L536.5 858.7 L540.4 858.9 L544.3 859.3 L548.2 859.7 L552.2 860.2 L556.1 860.6 L560 861 L563.9 861.9 L567.8 863.6 L571.8 865.9 L575.7 868.3 L579.6 870.5 L583.5 872.3 L587.4 873.9 L591.4 875.4 L595.3 877 L599.2 878.6 L603.1 880.1 L607 881.7 L611 883.2 L614.9 884.5 L618.8 885.7 L622.7 886.9 L626.6 888 L630.6 889.2 L634.5 890.4 L638.4 891.6 L642.3 892.6 L646.2 893.4 L650.2 894 L654.1 894.6 L658 895.2 L661.9 895.8 L665.8 896.4 L669.8 897 L673.7 897.7 L677.6 898.8 L681.5 900.2 L685.4 901.5 L689.3 902.9 L693.3 904.3 L697.2 905.6 L701.1 907 L705 908.2 L708.9 909.1 L712.9 909.7 L716.8 910.3 L720.7 910.9 L724.6 911.5 L728.5 912.1 L732.5 912.6 L736.4 913.2 L740.3 913.8 L744.2 914.4 L748.1 915 L752.1 915.6 L756 916.2 L759.9 916.8 L763.8 917.3 L767.7 917.9 L771.7 918.3 L775.6 918.5 L779.5 918.8 L783.4 919 L787.3 919.3 L791.3 919.6 L795.2 919.8 L799.1 920.1 L803 920.4 L806.9 920.6 L810.8 920.9 L814.8 921.1 L818.7 921.4 L822.6 921.7 L826.5 921.9 L830.4 922.2 L834.4 922.4 L838.3 922.7 L842.2 923 L846.1 923.2 L850 923.5 L854 923.7 L857.9 924 L861.8 924.2 L861.8 931.2 L857.9 931.2 L854 931.2 L850 931.2 L846.1 931.2 L842.2 931.2 L838.3 931.2 L834.4 931.2 L830.4 931.2 L826.5 931.2 L822.6 931.2 L818.7 931.2 L814.8 931.2 L810.8 931.2 L806.9 931.2 L803 931.2 L799.1 931.2 L795.2 931.2 L791.3 931.2 L787.3 931.2 L783.4 931.2 L779.5 931.2 L775.6 931.2 L771.7 931.2 L767.7 931.2 L763.8 931.2 L759.9 931.2 L756 931.2 L752.1 931.2 L748.1 931.2 L744.2 931.2 L740.3 931.2 L736.4 931.2 L732.5 931.2 L728.5 931.2 L724.6 931.2 L720.7 931.2 L716.8 931.2 L712.9 931.2 L708.9 931.2 L705 931.2 L701.1 931.2 L697.2 931.2 L693.3 931.2 L689.3 931.2 L685.4 931.2 L681.5 931.2 L677.6 931.2 L673.7 931.2 L669.8 931.2 L665.8 931.2 L661.9 931.2 L658 931.2 L654.1 931.2 L650.2 931.2 L646.2 931.2 L642.3 931.2 L638.4 931.2 L634.5 931.2 L630.6 931.2 L626.6 931.2 L622.7 931.2 L618.8 931.2 L614.9 931.2 L611 931.2 L607 931.2 L603.1 931.2 L599.2 931.2 L595.3 931.2 L591.4 931.2 L587.4 931.2 L583.5 931.2 L579.6 931.2 L575.7 931.2 L571.8 931.2 L567.8 931.2 L563.9 931.2 L560 931.2 L556.1 931.2 L552.2 931.2 L548.2 931.2 L544.3 931.2 L540.4 931.2 L536.5 931.2 L532.6 931.2 L528.7 931.2 L524.7 931.2 L520.8 931.2 L516.9 931.2 L513 931.2 L509.1 931.2 L505.1 931.2 L501.2 931.2 L497.3 931.2 L493.4 931.2 L489.5 931.2 L485.5 931.2 L481.6 931.2 L477.7 931.2 L473.8 931.2 L469.9 931.2 L465.9 931.2 L462 931.2 L458.1 931.2 L454.2 931.2 L450.3 931.2 L446.3 931.2 L442.4 931.2 L438.5 931.2 L434.6 931.2 L430.7 931.2 L426.7 931.2 L422.8 931.2 L418.9 931.2 L415 931.2 L411.1 931.2 L407.2 931.2 L403.2 931.2 L399.3 931.2 L395.4 931.2 L391.5 931.2 L387.6 931.2 L383.6 931.2 L379.7 931.2 L375.8 931.2 L371.9 931.2 L368 931.2 L364 931.2 L360.1 931.2 L356.2 931.2 L352.3 931.2 L348.4 931.2 L344.4 931.2 L340.5 931.2 L336.6 931.2 L332.7 931.2 L328.8 931.2 L324.8 931.2 L320.9 931.2 L317 931.2 L313.1 931.2 L309.2 931.2 L305.2 931.2 L301.3 931.2 L297.4 931.2 L293.5 931.2 L289.6 931.2 L285.7 931.2 L281.7 931.2 L277.8 931.2 L273.9 931.2 L270 931.2 L266.1 931.2 L262.1 931.2 L258.2 931.2 L254.3 931.2 L250.4 931.2 L246.5 931.2 L242.5 931.2 L238.6 931.2 L234.7 931.2 Z" fill="#0000ff" fill-opacity="0.32"/>
<path d="M234.7 931.2 L238.6 931.2 L242.5 931.2 L246.5 931.2 L250.4 931.2 L254.3 931.2 L258.2 931.1 L262.1 931.1 L266.1 931.1 L270 931.1 L273.9 931.1 L277.8 931.1 L281.7 931.1 L285.7 931 L289.6 931 L293.5 931 L297.4 931 L301.3 931 L305.2 931 L309.2 930.9 L313.1 930.9 L317 930.9 L320.9 930.9 L324.8 930.9 L328.8 930.9 L332.7 930.9 L336.6 930.8 L340.5 930.8 L344.4 930.8 L348.4 930.8 L352.3 930.8 L356.2 930.8 L360.1 930.7 L364 930.7 L368 930.7 L371.9 930.7 L375.8 930.7 L379.7 930.7 L383.6 930.6 L387.6 930.6 L391.5 930.5 L395.4 930.1 L399.3 929.5 L403.2 928.9 L407.2 928.3 L411.1 927.7 L415 927.1 L418.9 926.5 L422.8 925.9 L426.7 925.4 L430.7 924.8 L434.6 924.2 L438.5 923.6 L442.4 923 L446.3 922.4 L450.3 921.8 L454.2 921.1 L458.1 920.1 L462 918.9 L465.9 917.8 L469.9 916.6 L473.8 915.4 L477.7 914.2 L481.6 913.1 L485.5 912.1 L489.5 911.4 L493.4 911 L497.3 910.6 L501.2 910.2 L505.1 909.9 L509.1 909.5 L513 909.1 L516.9 908.6 L520.8 907.9 L524.7 907.1 L528.7 906.4 L532.6 905.6 L536.5 904.8 L540.4 904 L544.3 903.2 L548.2 902.3 L552.2 901 L556.1 899.4 L560 897.8 L563.9 896.4 L567.8 895.4 L571.8 894.6 L575.7 893.8 L579.6 893.2 L583.5 892.9 L587.4 892.9 L591.4 892.9 L595.3 893.4 L599.2 895 L603.1 897.3 L607 899.7 L611 902.1 L614.9 904.6 L618.8 907.2 L622.7 909.8 L626.6 912.4 L630.6 914.8 L634.5 916.7 L638.4 918.5 L642.3 920.2 L646.2 922 L650.2 923.7 L654.1 925.5 L658 926.9 L661.9 927.5 L665.8 927.6 L669.8 927.7 L673.7 927.8 L677.6 927.8 L681.5 927.9 L685.4 928 L689.3 928 L693.3 928.1 L697.2 928.2 L701.1 928.3 L705 928.3 L708.9 928.4 L712.9 928.5 L716.8 928.5 L720.7 928.6 L724.6 928.7 L728.5 928.8 L732.5 928.8 L736.4 928.9 L740.3 929 L744.2 929.1 L748.1 929.1 L752.1 929.2 L756 929.3 L759.9 929.3 L763.8 929.4 L767.7 929.5 L771.7 929.6 L775.6 929.6 L779.5 929.7 L783.4 929.8 L787.3 929.9 L791.3 929.9 L795.2 930 L799.1 930.1 L803 930.1 L806.9 930.2 L810.8 930.3 L814.8 930.4 L818.7 930.4 L822.6 930.5 L826.5 930.6 L830.4 930.6 L834.4 930.7 L838.3 930.8 L842.2 930.9 L846.1 930.9 L850 931 L854 931.1 L857.9 931.2 L861.8 931.2 L861.8 932.5 L857.9 932.5 L854 932.5 L850 932.5 L846.1 932.5 L842.2 932.5 L838.3 932.5 L834.4 932.5 L830.4 932.5 L826.5 932.5 L822.6 932.5 L818.7 932.5 L814.8 932.5 L810.8 932.5 L806.9 932.5 L803 932.5 L799.1 932.5 L795.2 932.5 L791.3 932.5 L787.3 932.5 L783.4 932.5 L779.5 932.5 L775.6 932.5 L771.7 932.5 L767.7 932.5 L763.8 932.5 L759.9 932.5 L756 932.5 L752.1 932.5 L748.1 932.5 L744.2 932.5 L740.3 932.5 L736.4 932.5 L732.5 932.5 L728.5 932.5 L724.6 932.5 L720.7 932.5 L716.8 932.5 L712.9 932.5 L708.9 932.5 L705 932.5 L701.1 932.5 L697.2 932.5 L693.3 932.5 L689.3 932.5 L685.4 932.5 L681.5 932.5 L677.6 932.5 L673.7 932.5 L669.8 932.5 L665.8 932.5 L661.9 932.5 L658 932.5 L654.1 932.5 L650.2 932.5 L646.2 932.5 L642.3 932.5 L638.4 932.5 L634.5 932.5 L630.6 932.5 L626.6 932.5 L622.7 932.5 L618.8 932.5 L614.9 932.5 L611 932.5 L607 932.5 L603.1 932.5 L599.2 932.5 L595.3 932.5 L591.4 932.5 L587.4 932.5 L583.5 932.5 L579.6 932.5 L575.7 932.5 L571.8 932.5 L567.8 932.5 L563.9 932.5 L560 932.5 L556.1 932.5 L552.2 932.5 L548.2 932.5 L544.3 932.5 L540.4 932.5 L536.5 932.5 L532.6 932.5 L528.7 932.5 L524.7 932.5 L520.8 932.5 L516.9 932.5 L513 932.5 L509.1 932.5 L505.1 932.5 L501.2 932.5 L497.3 932.5 L493.4 932.5 L489.5 932.5 L485.5 932.5 L481.6 932.5 L477.7 932.5 L473.8 932.5 L469.9 932.5 L465.9 932.5 L462 932.5 L458.1 932.5 L454.2 932.5 L450.3 932.5 L446.3 932.5 L442.4 932.5 L438.5 932.5 L434.6 932.5 L430.7 932.5 L426.7 932.5 L422.8 932.5 L418.9 932.5 L415 932.5 L411.1 932.5 L407.2 932.5 L403.2 932.5 L399.3 932.5 L395.4 932.5 L391.5 932.5 L387.6 932.5 L383.6 932.5 L379.7 932.5 L375.8 932.5 L371.9 932.5 L368 932.5 L364 932.5 L360.1 932.5 L356.2 932.5 L352.3 932.5 L348.4 932.5 L344.4 932.5 L340.5 932.5 L336.6 932.5 L332.7 932.5 L328.8 932.5 L324.8 932.5 L320.9 932.5 L317 932.5 L313.1 932.5 L309.2 932.5 L305.2 932.5 L301.3 932.5 L297.4 932.5 L293.5 932.5 L289.6 932.5 L285.7 932.5 L281.7 932.5 L277.8 932.5 L273.9 932.5 L270 932.5 L266.1 932.5 L262.1 932.5 L258.2 932.5 L254.3 932.5 L250.4 932.5 L246.5 932.5 L242.5 932.5 L238.6 932.5 L234.7 932.5 Z" fill="#000080" fill-opacity="0.3"/>
<path d="M234.7 908.1 L239.4 895.8 L244.1 895.9 L248.7 909.9 L253.4 907 L258.1 907.9 L262.8 876.2 L267.5 901.7 L272.1 893.7 L276.8 915.2 L281.5 884.5 L286.2 897.9 L290.9 890.1 L295.5 896.1 L300.2 896.8 L304.9 887.9 L309.6 883.1 L314.3 890.4 L318.9 888.3 L323.6 879.4 L328.3 891.1 L333 894.4 L337.7 875.3 L342.3 881.9 L347 890.2 L351.7 878 L356.4 872.5 L361.1 875.7 L365.7 874.3 L370.4 856.8 L375.1 844.9 L379.8 849.6 L384.5 848.4 L389.1 832.9 L393.8 823.3 L398.5 833.2 L403.2 809 L407.9 796.8 L412.5 799.7 L417.2 797 L421.9 778.6 L426.6 769.7 L431.3 751.6 L435.9 761.5 L440.6 745.4 L445.3 736.1 L450 733.1 L454.7 705.8 L459.3 690 L464 688.4 L468.7 657.3 L473.4 649.6 L478.1 638.6 L482.7 628 L487.4 613.5 L492.1 627.6 L496.8 605.4 L501.5 600.3 L506.1 615.7 L510.8 592.2 L515.5 595.3 L520.2 588.5 L524.9 602 L529.5 601.4 L534.2 601.2 L538.9 614.8 L543.6 604.9 L548.2 614.7 L552.9 615.5 L557.6 631.3 L562.3 624.3 L567 635.5 L571.6 649.4 L576.3 649.4 L581 651.7 L585.7 656.1 L590.4 694.7 L595 682.7 L599.7 695.7 L604.4 687.8 L609.1 727.2 L613.8 716.9 L618.4 748.1 L623.1 751.5 L627.8 744.6 L632.5 779.2 L637.2 777.3 L641.8 795.2 L646.5 790.1 L651.2 787.1 L655.9 790.6 L660.6 831.6 L665.2 829.1 L669.9 825.9 L674.6 825.5 L679.3 840.8 L684 855.7 L688.6 851.3 L693.3 858.7 L698 865 L702.7 874.3 L707.4 868.4 L712 872.1 L716.7 878.3 L721.4 878.5 L726.1 894.3 L730.8 890.2 L735.4 878.2 L740.1 892.2 L744.8 896.2 L749.5 883.3 L754.2 889.4 L758.8 876.9 L763.5 895.8 L768.2 901.6 L772.9 911.3 L777.6 888.4 L782.2 878.7 L786.9 909.4 L791.6 909 L796.3 899.4 L801 912.8 L805.6 908.7 L810.3 910.1 L815 906.1 L819.7 898.9 L824.4 909 L829 901.9 L833.7 914.2 L838.4 908.4 L843.1 930.5 L847.8 925.3 L852.4 906.5 L857.1 919.2 L861.8 909.6" fill="none" stroke="#87cefa" stroke-width="1.8" stroke-linejoin="round"/>
<path d="M234.7 926.8 L239.4 914.1 L244.1 926.6 L248.7 925.6 L253.4 926.1 L258.1 937.6 L262.8 924 L267.5 931.6 L272.1 937.8 L276.8 929.6 L281.5 950 L286.2 921 L290.9 929.1 L295.5 934 L300.2 913.2 L304.9 917.9 L309.6 914.8 L314.3 921.5 L318.9 928.8 L323.6 931.9 L328.3 930.3 L333 917.3 L337.7 925.9 L342.3 942.4 L347 927.1 L351.7 941.3 L356.4 931.2 L361.1 906 L365.7 938.3 L370.4 922.8 L375.1 923.8 L379.8 939.3 L384.5 913.2 L389.1 897.4 L393.8 934.4 L398.5 898.9 L403.2 924 L407.9 921 L412.5 916.7 L417.2 928.8 L421.9 899.1 L426.6 906 L431.3 917.2 L435.9 929.2 L440.6 921.5 L445.3 907.5 L450 892.4 L454.7 918.3 L459.3 903.6 L464 896.2 L468.7 885.5 L473.4 881.1 L478.1 898.7 L482.7 900.3 L487.4 886.9 L492.1 894.6 L496.8 893.3 L501.5 878.1 L506.1 871 L510.8 885.2 L515.5 889.7 L520.2 882.2 L524.9 908.4 L529.5 889.5 L534.2 901 L538.9 865.6 L543.6 883.6 L548.2 890.4 L552.9 895.2 L557.6 920.9 L562.3 888.8 L567 880.8 L571.6 906.9 L576.3 893.7 L581 897.7 L585.7 919.8 L590.4 895.2 L595 892.1 L599.7 905.1 L604.4 909.4 L609.1 901.8 L613.8 927.3 L618.4 911.3 L623.1 902.3 L627.8 927.3 L632.5 905 L637.2 920.7 L641.8 939.1 L646.5 919.3 L651.2 929.1 L655.9 916.5 L660.6 932.8 L665.2 910.4 L669.9 929.8 L674.6 919.1 L679.3 929.4 L684 927 L688.6 911.6 L693.3 922.2 L698 924.3 L702.7 938.2 L707.4 913.5 L712 918.3 L716.7 929.7 L721.4 924.2 L726.1 937.8 L730.8 938.1 L735.4 936.5 L740.1 924.4 L744.8 925.1 L749.5 936 L754.2 920.7 L758.8 920.3 L763.5 926.8 L768.2 917.8 L772.9 931.7 L777.6 930 L782.2 924 L786.9 929.4 L791.6 920.9 L796.3 942.3 L801 914.5 L805.6 937.6 L810.3 931.2 L815 944 L819.7 923.5 L824.4 916.5 L829 918.7 L833.7 921.3 L838.4 946.3 L843.1 938.3 L847.8 935.1 L852.4 940.1 L857.1 918.8 L861.8 928.6" fill="none" stroke="#00bfff" stroke-width="1.8" stroke-linejoin="round"/>
<path d="M234.7 933 L239.4 943.3 L244.1 906 L248.7 909.6 L253.4 918.4 L258.1 929.6 L262.8 921.1 L267.5 949.7 L272.1 924.8 L276.8 941.4 L281.5 941.1 L286.2 934.5 L290.9 930.6 L295.5 920.8 L300.2 919.3 L304.9 923.7 L309.6 936.1 L314.3 919 L318.9 927.1 L323.6 913.4 L328.3 935.1 L333 954.2 L337.7 930.2 L342.3 902.6 L347 919.9 L351.7 926.7 L356.4 915.3 L361.1 918.9 L365.7 918.7 L370.4 928.2 L375.1 921.3 L379.8 919.3 L384.5 927.4 L389.1 931.7 L393.8 917.9 L398.5 908.5 L403.2 911.2 L407.9 912.1 L412.5 911.2 L417.2 888.9 L421.9 921.3 L426.6 903.5 L431.3 893.3 L435.9 912.4 L440.6 909.5 L445.3 900.7 L450 892.7 L454.7 926 L459.3 905.7 L464 907.8 L468.7 920.6 L473.4 895.7 L478.1 909.3 L482.7 923.9 L487.4 906.9 L492.1 923 L496.8 915.1 L501.5 904 L506.1 913.4 L510.8 892.3 L515.5 918.4 L520.2 899.9 L524.9 896.5 L529.5 886.7 L534.2 892.2 L538.9 899.7 L543.6 901.6 L548.2 903.5 L552.9 891.4 L557.6 910.4 L562.3 898.5 L567 905.3 L571.6 902.2 L576.3 890.2 L581 883.3 L585.7 913.1 L590.4 904.3 L595 904.7 L599.7 902 L604.4 904.3 L609.1 905.3 L613.8 900.2 L618.4 926.8 L623.1 911.7 L627.8 925.4 L632.5 910.8 L637.2 926.3 L641.8 924.6 L646.5 915.9 L651.2 901.3 L655.9 910.4 L660.6 913.9 L665.2 902.9 L669.9 928 L674.6 940.5 L679.3 923.7 L684 922.8 L688.6 907.6 L693.3 898.8 L698 935.5 L702.7 896.4 L707.4 906.3 L712 914.1 L716.7 919.1 L721.4 897.8 L726.1 922.4 L730.8 928.3 L735.4 922.1 L740.1 937.9 L744.8 918.9 L749.5 925.1 L754.2 880.2 L758.8 920.5 L763.5 935.4 L768.2 894 L772.9 935.2 L777.6 915.5 L782.2 905.4 L786.9 921.2 L791.6 959.8 L796.3 924.9 L801 932.3 L805.6 948.4 L810.3 937.4 L815 925.2 L819.7 919.5 L824.4 954.8 L829 948.5 L833.7 935.5 L838.4 965.6 L843.1 933.3 L847.8 935.3 L852.4 918.1 L857.1 917.1 L861.8 919.5" fill="none" stroke="#0a0ae8" stroke-width="1.8" stroke-linejoin="round"/>
<path d="M234.7 944.6 L239.4 946.2 L244.1 932.7 L248.7 990.5 L253.4 893.4 L258.1 935.4 L262.8 938.9 L267.5 937.3 L272.1 944.9 L276.8 965.1 L281.5 933 L286.2 924.7 L290.9 951.1 L295.5 929.1 L300.2 946.8 L304.9 929.6 L309.6 906.4 L314.3 922 L318.9 922.7 L323.6 939.3 L328.3 916.2 L333 935.5 L337.7 923.9 L342.3 918.7 L347 933.4 L351.7 947.6 L356.4 919.9 L361.1 945.2 L365.7 941.8 L370.4 944.9 L375.1 916.5 L379.8 931.1 L384.5 961.6 L389.1 918 L393.8 898.5 L398.5 902.4 L403.2 936.9 L407.9 923.2 L412.5 921.2 L417.2 915.5 L421.9 928.1 L426.6 944.5 L431.3 917.5 L435.9 919.5 L440.6 947.9 L445.3 933.8 L450 924.5 L454.7 928.5 L459.3 920.7 L464 916.8 L468.7 887.2 L473.4 930 L478.1 948 L482.7 919.3 L487.4 907.7 L492.1 899.2 L496.8 928.3 L501.5 928.2 L506.1 906.4 L510.8 881.4 L515.5 922.1 L520.2 916.5 L524.9 937.8 L529.5 918 L534.2 950.7 L538.9 934.3 L543.6 939.3 L548.2 933.7 L552.9 957.8 L557.6 939.1 L562.3 922.3 L567 928.2 L571.6 933.2 L576.3 921.3 L581 917.6 L585.7 915.4 L590.4 939.6 L595 927.5 L599.7 932.7 L604.4 940.7 L609.1 949.8 L613.8 929.4 L618.4 940.8 L623.1 896.6 L627.8 929.5 L632.5 931.4 L637.2 934 L641.8 900.8 L646.5 942 L651.2 930.6 L655.9 939.5 L660.6 930.2 L665.2 928.9 L669.9 912.4 L674.6 949.1 L679.3 928.8 L684 904.9 L688.6 936 L693.3 923.7 L698 941.6 L702.7 966.9 L707.4 930.2 L712 911.6 L716.7 935.6 L721.4 955.8 L726.1 925 L730.8 927.7 L735.4 914.3 L740.1 915.7 L744.8 932.9 L749.5 880.5 L754.2 955.3 L758.8 912.9 L763.5 926.4 L768.2 913.3 L772.9 913.7 L777.6 933.5 L782.2 931.5 L786.9 942.1 L791.6 959.5 L796.3 931.3 L801 927.2 L805.6 945.3 L810.3 919.1 L815 928.1 L819.7 923 L824.4 940.9 L829 955.4 L833.7 918.3 L838.4 920.8 L843.1 951.9 L847.8 936 L852.4 933.9 L857.1 931.9 L861.8 937.3" fill="none" stroke="#0a0a8c" stroke-width="1.8" stroke-linejoin="round"/>
<path d="M234.7 908.4 L238.6 907.7 L242.5 906.9 L246.5 906 L250.4 905.1 L254.3 904.2 L258.2 903.3 L262.1 902.5 L266.1 901.6 L270 900.7 L273.9 899.8 L277.8 898.9 L281.7 898 L285.7 897.2 L289.6 896.3 L293.5 895.4 L297.4 894.4 L301.3 893.2 L305.2 891.8 L309.2 890.4 L313.1 889 L317 887.7 L320.9 886.3 L324.8 884.9 L328.8 883.4 L332.7 881.4 L336.6 879.3 L340.5 877.1 L344.4 875 L348.4 872.8 L352.3 870.7 L356.2 868.5 L360.1 866 L364 862.9 L368 859.3 L371.9 855.8 L375.8 852 L379.7 847.6 L383.6 842.9 L387.6 838.2 L391.5 833.1 L395.4 827 L399.3 820.3 L403.2 813.7 L407.2 807 L411.1 800.3 L415 793.7 L418.9 787 L422.8 779.8 L426.7 771.5 L430.7 762.5 L434.6 753.5 L438.5 744.5 L442.4 735.4 L446.3 726.4 L450.3 717.4 L454.2 708.1 L458.1 697.9 L462 687.4 L465.9 676.8 L469.9 666.2 L473.8 655.6 L477.7 645 L481.6 634.4 L485.5 625.2 L489.5 618.9 L493.4 614.6 L497.3 610.2 L501.2 605.8 L505.1 601.5 L509.1 597.1 L513 593.7 L516.9 593.4 L520.8 595.7 L524.7 598.2 L528.7 600.7 L532.6 603.1 L536.5 605.6 L540.4 608.1 L544.3 610.6 L548.2 613.8 L552.2 618.6 L556.1 624.5 L560 630.4 L563.9 636.2 L567.8 642.1 L571.8 648 L575.7 653.9 L579.6 660.1 L583.5 667.3 L587.4 675.2 L591.4 683 L595.3 690.9 L599.2 698.7 L603.1 706.5 L607 714.4 L611 722.2 L614.9 730 L618.8 737.9 L622.7 745.7 L626.6 753.6 L630.6 761.4 L634.5 769.2 L638.4 777.1 L642.3 784.7 L646.2 791.8 L650.2 798.4 L654.1 805.1 L658 811.8 L661.9 818.4 L665.8 825.1 L669.8 831.8 L673.7 837.9 L677.6 842.8 L681.5 846.7 L685.4 850.6 L689.3 854.6 L693.3 858.5 L697.2 862.4 L701.1 866.3 L705 870 L708.9 872.9 L712.9 875.2 L716.8 877.6 L720.7 879.9 L724.6 882.3 L728.5 884.6 L732.5 887 L736.4 889.1 L740.3 890.6 L744.2 891.6 L748.1 892.5 L752.1 893.5 L756 894.5 L759.9 895.5 L763.8 896.5 L767.7 897.4 L771.7 898.4 L775.6 899.4 L779.5 900.4 L783.4 901.4 L787.3 902.3 L791.3 903.3 L795.2 904.3 L799.1 905.2 L803 905.9 L806.9 906.5 L810.8 907.1 L814.8 907.7 L818.7 908.3 L822.6 908.9 L826.5 909.5 L830.4 910.1 L834.4 910.7 L838.3 911.2 L842.2 911.8 L846.1 912.4 L850 913 L854 913.6 L857.9 914.2 L861.8 914.6" fill="none" stroke="#87cefa" stroke-width="2.6"/>
<path d="M234.7 929 L238.6 928.8 L242.5 928.6 L246.5 928.3 L250.4 928.1 L254.3 927.8 L258.2 927.6 L262.1 927.3 L266.1 927.1 L270 926.8 L273.9 926.6 L277.8 926.4 L281.7 926.1 L285.7 925.9 L289.6 925.6 L293.5 925.4 L297.4 925.1 L301.3 924.9 L305.2 924.6 L309.2 924.4 L313.1 924.1 L317 923.9 L320.9 923.7 L324.8 923.4 L328.8 923.2 L332.7 922.9 L336.6 922.7 L340.5 922.4 L344.4 922.2 L348.4 921.9 L352.3 921.7 L356.2 921.5 L360.1 920.9 L364 919.7 L368 918.1 L371.9 916.6 L375.8 915 L379.7 913.4 L383.6 911.9 L387.6 910.3 L391.5 908.7 L395.4 907.2 L399.3 905.6 L403.2 904 L407.2 902.5 L411.1 900.9 L415 899.3 L418.9 897.8 L422.8 895.9 L426.7 893.5 L430.7 890.8 L434.6 888 L438.5 885.3 L442.4 882.5 L446.3 879.8 L450.3 877.1 L454.2 874.5 L458.1 872.3 L462 870.3 L465.9 868.4 L469.9 866.4 L473.8 864.5 L477.7 862.5 L481.6 860.5 L485.5 858.8 L489.5 857.4 L493.4 856.3 L497.3 855.2 L501.2 854.1 L505.1 853 L509.1 852 L513 851.1 L516.9 851.2 L520.8 852 L524.7 852.9 L528.7 853.8 L532.6 854.7 L536.5 855.6 L540.4 856.5 L544.3 857.4 L548.2 858.6 L552.2 860.5 L556.1 862.8 L560 865.2 L563.9 867.5 L567.8 869.9 L571.8 872.2 L575.7 874.6 L579.6 876.8 L583.5 878.9 L587.4 880.9 L591.4 882.8 L595.3 884.8 L599.2 886.8 L603.1 888.7 L607 890.7 L611 892.6 L614.9 894.3 L618.8 895.8 L622.7 897.4 L626.6 899 L630.6 900.5 L634.5 902.1 L638.4 903.7 L642.3 905.2 L646.2 906.5 L650.2 907.7 L654.1 908.8 L658 910 L661.9 911.2 L665.8 912.4 L669.8 913.5 L673.7 914.6 L677.6 915.4 L681.5 916 L685.4 916.6 L689.3 917.2 L693.3 917.8 L697.2 918.3 L701.1 918.9 L705 919.5 L708.9 920.1 L712.9 920.7 L716.8 921.3 L720.7 921.9 L724.6 922.5 L728.5 923 L732.5 923.6 L736.4 924.1 L740.3 924.4 L744.2 924.6 L748.1 924.7 L752.1 924.9 L756 925 L759.9 925.2 L763.8 925.3 L767.7 925.5 L771.7 925.6 L775.6 925.8 L779.5 925.9 L783.4 926.1 L787.3 926.2 L791.3 926.4 L795.2 926.5 L799.1 926.7 L803 926.8 L806.9 927 L810.8 927.1 L814.8 927.2 L818.7 927.4 L822.6 927.5 L826.5 927.7 L830.4 927.8 L834.4 928 L838.3 928.1 L842.2 928.3 L846.1 928.4 L850 928.6 L854 928.7 L857.9 928.9 L861.8 929" fill="none" stroke="#00bfff" stroke-width="2.6"/>
<path d="M234.7 929 L238.6 928.9 L242.5 928.8 L246.5 928.6 L250.4 928.5 L254.3 928.3 L258.2 928.2 L262.1 928 L266.1 927.9 L270 927.7 L273.9 927.6 L277.8 927.4 L281.7 927.3 L285.7 927.1 L289.6 927 L293.5 926.8 L297.4 926.7 L301.3 926.5 L305.2 926.4 L309.2 926.3 L313.1 926.1 L317 926 L320.9 925.8 L324.8 925.7 L328.8 925.5 L332.7 925.4 L336.6 925.2 L340.5 925.1 L344.4 924.9 L348.4 924.8 L352.3 924.6 L356.2 924.5 L360.1 924.2 L364 923.8 L368 923.2 L371.9 922.6 L375.8 922 L379.7 921.4 L383.6 920.8 L387.6 920.2 L391.5 919.7 L395.4 919.1 L399.3 918.5 L403.2 917.9 L407.2 917.3 L411.1 916.7 L415 916.1 L418.9 915.5 L422.8 915 L426.7 914.4 L430.7 913.8 L434.6 913.2 L438.5 912.6 L442.4 912 L446.3 911.4 L450.3 910.8 L454.2 910.3 L458.1 909.7 L462 909.1 L465.9 908.5 L469.9 907.9 L473.8 907.3 L477.7 906.7 L481.6 906.1 L485.5 905.6 L489.5 905.2 L493.4 904.9 L497.3 904.6 L501.2 904.3 L505.1 904 L509.1 903.6 L513 903.3 L516.9 903 L520.8 902.7 L524.7 902.4 L528.7 902.1 L532.6 901.9 L536.5 902 L540.4 902.3 L544.3 902.6 L548.2 902.9 L552.2 903.3 L556.1 903.6 L560 903.9 L563.9 904.2 L567.8 904.5 L571.8 904.8 L575.7 905.1 L579.6 905.5 L583.5 906 L587.4 906.6 L591.4 907.2 L595.3 907.8 L599.2 908.4 L603.1 908.9 L607 909.5 L611 910.1 L614.9 910.7 L618.8 911.3 L622.7 911.9 L626.6 912.5 L630.6 913.1 L634.5 913.6 L638.4 914.2 L642.3 914.8 L646.2 915.3 L650.2 915.8 L654.1 916.3 L658 916.8 L661.9 917.3 L665.8 917.8 L669.8 918.3 L673.7 918.8 L677.6 919.2 L681.5 919.7 L685.4 920.2 L689.3 920.7 L693.3 921.2 L697.2 921.7 L701.1 922.2 L705 922.6 L708.9 922.9 L712.9 923 L716.8 923.1 L720.7 923.2 L724.6 923.3 L728.5 923.4 L732.5 923.6 L736.4 923.7 L740.3 923.8 L744.2 923.9 L748.1 924 L752.1 924.2 L756 924.3 L759.9 924.4 L763.8 924.5 L767.7 924.6 L771.7 924.7 L775.6 924.9 L779.5 925 L783.4 925.1 L787.3 925.2 L791.3 925.3 L795.2 925.4 L799.1 925.6 L803 925.7 L806.9 925.8 L810.8 925.9 L814.8 926 L818.7 926.2 L822.6 926.3 L826.5 926.4 L830.4 926.5 L834.4 926.6 L838.3 926.7 L842.2 926.9 L846.1 927 L850 927.1 L854 927.2 L857.9 927.3 L861.8 927.4" fill="none" stroke="#0a0ae8" stroke-width="2.6"/>
<path d="M234.7 929.4 L238.6 929.3 L242.5 929.3 L246.5 929.3 L250.4 929.3 L254.3 929.3 L258.2 929.2 L262.1 929.2 L266.1 929.2 L270 929.2 L273.9 929.2 L277.8 929.1 L281.7 929.1 L285.7 929.1 L289.6 929.1 L293.5 929.1 L297.4 929 L301.3 929 L305.2 929 L309.2 929 L313.1 929 L317 928.9 L320.9 928.9 L324.8 928.9 L328.8 928.9 L332.7 928.9 L336.6 928.8 L340.5 928.8 L344.4 928.8 L348.4 928.8 L352.3 928.8 L356.2 928.8 L360.1 928.7 L364 928.7 L368 928.7 L371.9 928.7 L375.8 928.7 L379.7 928.6 L383.6 928.6 L387.6 928.6 L391.5 928.6 L395.4 928.6 L399.3 928.5 L403.2 928.5 L407.2 928.5 L411.1 928.5 L415 928.5 L418.9 928.4 L422.8 928.4 L426.7 928.4 L430.7 928.4 L434.6 928.4 L438.5 928.3 L442.4 928.3 L446.3 928.3 L450.3 928.3 L454.2 928.3 L458.1 928.2 L462 928.2 L465.9 928.2 L469.9 928.2 L473.8 928.2 L477.7 928.1 L481.6 928.1 L485.5 928.1 L489.5 928 L493.4 927.8 L497.3 927.6 L501.2 927.5 L505.1 927.3 L509.1 927.2 L513 927 L516.9 926.9 L520.8 926.7 L524.7 926.6 L528.7 926.4 L532.6 926.3 L536.5 926.3 L540.4 926.4 L544.3 926.5 L548.2 926.6 L552.2 926.7 L556.1 926.8 L560 926.9 L563.9 927 L567.8 927.1 L571.8 927.3 L575.7 927.4 L579.6 927.4 L583.5 927.5 L587.4 927.5 L591.4 927.6 L595.3 927.6 L599.2 927.6 L603.1 927.7 L607 927.7 L611 927.7 L614.9 927.7 L618.8 927.8 L622.7 927.8 L626.6 927.8 L630.6 927.9 L634.5 927.9 L638.4 927.9 L642.3 928 L646.2 928 L650.2 928 L654.1 928.1 L658 928.1 L661.9 928.1 L665.8 928.1 L669.8 928.2 L673.7 928.2 L677.6 928.2 L681.5 928.3 L685.4 928.3 L689.3 928.3 L693.3 928.4 L697.2 928.4 L701.1 928.4 L705 928.4 L708.9 928.5 L712.9 928.5 L716.8 928.5 L720.7 928.6 L724.6 928.6 L728.5 928.6 L732.5 928.7 L736.4 928.7 L740.3 928.7 L744.2 928.8 L748.1 928.8 L752.1 928.8 L756 928.8 L759.9 928.9 L763.8 928.9 L767.7 928.9 L771.7 929 L775.6 929 L779.5 929 L783.4 929.1 L787.3 929.1 L791.3 929.1 L795.2 929.1 L799.1 929.2 L803 929.2 L806.9 929.2 L810.8 929.3 L814.8 929.3 L818.7 929.3 L822.6 929.4 L826.5 929.4 L830.4 929.4 L834.4 929.5 L838.3 929.5 L842.2 929.5 L846.1 929.5 L850 929.6 L854 929.6 L857.9 929.6 L861.8 929.7" fill="none" stroke="#0a0a8c" stroke-width="2.6"/>
</g>
<rect x="234.7" y="559.5" width="627.1" height="407" fill="none" stroke="#2323e6" stroke-width="2"/>
<line x1="234.7" y1="966.5" x2="234.7" y2="970.5" stroke="#333" stroke-width="1"/>
<text x="234.7" y="994.3" font-family="'Liberation Sans', Arial, Helvetica, sans-serif" font-size="27.8" font-weight="normal" text-anchor="middle" fill="#000" >1600</text>
<line x1="360.1" y1="966.5" x2="360.1" y2="970.5" stroke="#333" stroke-width="1"/>
<text x="360.1" y="994.3" font-family="'Liberation Sans', Arial, Helvetica, sans-serif" font-size="27.8" font-weight="normal" text-anchor="middle" fill="#000" >1620</text>
<line x1="485.5" y1="966.5" x2="485.5" y2="970.5" stroke="#333" stroke-width="1"/>
<text x="485.5" y="994.3" font-family="'Liberation Sans', Arial, Helvetica, sans-serif" font-size="27.8" font-weight="normal" text-anchor="middle" fill="#000" >1640</text>
<line x1="611" y1="966.5" x2="611" y2="970.5" stroke="#333" stroke-width="1"/>
<text x="611" y="994.3" font-family="'Liberation Sans', Arial, Helvetica, sans-serif" font-size="27.8" font-weight="normal" text-anchor="middle" fill="#000" >1660</text>
<line x1="736.4" y1="966.5" x2="736.4" y2="970.5" stroke="#333" stroke-width="1"/>
<text x="736.4" y="994.3" font-family="'Liberation Sans', Arial, Helvetica, sans-serif" font-size="27.8" font-weight="normal" text-anchor="middle" fill="#000" >1680</text>
<line x1="861.8" y1="966.5" x2="861.8" y2="970.5" stroke="#333" stroke-width="1"/>
<text x="861.8" y="994.3" font-family="'Liberation Sans', Arial, Helvetica, sans-serif" font-size="27.8" font-weight="normal" text-anchor="middle" fill="#000" >1700</text>
<line x1="230.7" y1="932.5" x2="234.7" y2="932.5" stroke="#333" stroke-width="1"/>
<text x="227.5" y="943.7" font-family="'Liberation Sans', Arial, Helvetica, sans-serif" font-size="27.8" font-weight="normal" text-anchor="end" fill="#000" >0.0</text>
<line x1="230.7" y1="863" x2="234.7" y2="863" stroke="#333" stroke-width="1"/>
<text x="227.5" y="874.2" font-family="'Liberation Sans', Arial, Helvetica, sans-serif" font-size="27.8" font-weight="normal" text-anchor="end" fill="#000" >0.2</text>
<line x1="230.7" y1="793.5" x2="234.7" y2="793.5" stroke="#333" stroke-width="1"/>
<text x="227.5" y="804.7" font-family="'Liberation Sans', Arial, Helvetica, sans-serif" font-size="27.8" font-weight="normal" text-anchor="end" fill="#000" >0.4</text>
<line x1="230.7" y1="724" x2="234.7" y2="724" stroke="#333" stroke-width="1"/>
<text x="227.5" y="735.2" font-family="'Liberation Sans', Arial, Helvetica, sans-serif" font-size="27.8" font-weight="normal" text-anchor="end" fill="#000" >0.6</text>
<line x1="230.7" y1="654.5" x2="234.7" y2="654.5" stroke="#333" stroke-width="1"/>
<text x="227.5" y="665.7" font-family="'Liberation Sans', Arial, Helvetica, sans-serif" font-size="27.8" font-weight="normal" text-anchor="end" fill="#000" >0.8</text>
<line x1="230.7" y1="585" x2="234.7" y2="585" stroke="#333" stroke-width="1"/>
<text x="227.5" y="596.2" font-family="'Liberation Sans', Arial, Helvetica, sans-serif" font-size="27.8" font-weight="normal" text-anchor="end" fill="#000" >1.0</text>
<text x="178.5" y="763" font-family="'Liberation Sans', Arial, Helvetica, sans-serif" font-size="27.9" font-weight="normal" text-anchor="middle" fill="#000" transform="rotate(-90 178.5 763)">Norm. VSFG intensity [arb. units]</text>
<text y="1028.6" font-size="27.9" font-family="'Liberation Sans', Arial, Helvetica, sans-serif"><tspan x="417.5">IR frequency</tspan><tspan x="584" font-family="'DejaVu Sans', sans-serif">[cm</tspan><tspan dy="-11.2" font-size="18.8" font-family="'DejaVu Sans', sans-serif">−1</tspan><tspan dy="11.2" x="668" font-family="'DejaVu Sans', sans-serif">]</tspan></text>
<rect x="690.9" y="573" width="157" height="164.3" rx="4" fill="#ffffff" fill-opacity="0.3" stroke="#d6d6d6" stroke-width="1"/>
<line x1="700.4" y1="594.2" x2="758.4" y2="594.2" stroke="#87cefa" stroke-width="2.8"/>
<text x="780.7" y="604.2" font-family="'Liberation Sans', Arial, Helvetica, sans-serif" font-size="28.4" font-weight="normal" text-anchor="start" fill="#000" >SSP</text>
<line x1="700.4" y1="633.2" x2="758.4" y2="633.2" stroke="#00bfff" stroke-width="2.8"/>
<text x="780.7" y="643.2" font-family="'Liberation Sans', Arial, Helvetica, sans-serif" font-size="28.4" font-weight="normal" text-anchor="start" fill="#000" >PPP</text>
<line x1="700.4" y1="672.3" x2="758.4" y2="672.3" stroke="#0a0ae8" stroke-width="2.8"/>
<text x="780.7" y="682.3" font-family="'Liberation Sans', Arial, Helvetica, sans-serif" font-size="28.4" font-weight="normal" text-anchor="start" fill="#000" >SPS</text>
<line x1="700.4" y1="711" x2="758.4" y2="711" stroke="#0a0a8c" stroke-width="2.8"/>
<text x="780.7" y="721" font-family="'Liberation Sans', Arial, Helvetica, sans-serif" font-size="28.4" font-weight="normal" text-anchor="start" fill="#000" >PSP</text>
<text x="630" y="544.7" font-family="'Liberation Sans', Arial, Helvetica, sans-serif" font-size="29.3" font-weight="normal" text-anchor="middle" fill="#3b3e50" >(B) Average VSFG spectra</text>
<clipPath id="clipE"><rect x="1220.3" y="552.9" width="627.5" height="405.1"/></clipPath>
<g clip-path="url(#clipE)">
<path d="M1220.3 888.6 L1224.2 887.4 L1228.1 885.9 L1232.1 884.3 L1236 882.7 L1239.9 881.2 L1243.8 879.6 L1247.8 878 L1251.7 876.4 L1255.6 874.9 L1259.5 873.3 L1263.4 871.7 L1267.4 870.2 L1271.3 868.6 L1275.2 867 L1279.1 865.5 L1283 863.4 L1287 860.4 L1290.9 856.9 L1294.8 853.3 L1298.7 849.8 L1302.7 846.3 L1306.6 842.8 L1310.5 839.2 L1314.4 835 L1318.3 829.5 L1322.3 823.2 L1326.2 816.9 L1330.1 810.7 L1334 804.4 L1338 798.1 L1341.9 791.9 L1345.8 784.6 L1349.7 775.5 L1353.6 765.3 L1357.6 755.1 L1361.5 744.9 L1365.4 734.7 L1369.3 724.5 L1373.3 714.3 L1377.2 704.7 L1381.1 696.2 L1385 688.4 L1388.9 680.5 L1392.9 672.1 L1396.8 662.6 L1400.7 652.4 L1404.6 642.2 L1408.5 631.8 L1412.5 621.1 L1416.4 610.1 L1420.3 599.1 L1424.2 589.8 L1428.2 583.9 L1432.1 580.2 L1436 578.4 L1439.9 578.1 L1443.8 578.1 L1447.8 578.1 L1451.7 578.1 L1455.6 578.1 L1459.5 578.1 L1463.5 578.1 L1467.4 578.1 L1471.3 578.1 L1475.2 578.1 L1479.1 578.1 L1483.1 578.1 L1487 578.2 L1490.9 579.4 L1494.8 582.6 L1498.8 586.5 L1502.7 591.3 L1506.6 598 L1510.5 605.8 L1514.4 613.7 L1518.4 621.7 L1522.3 630.1 L1526.2 638.7 L1530.1 647.3 L1534 655.6 L1538 663.1 L1541.9 670.2 L1545.8 677.2 L1549.7 684.6 L1553.7 692.8 L1557.6 701.4 L1561.5 710 L1565.4 718.8 L1569.3 728 L1573.3 737.4 L1577.2 746.8 L1581.1 756.4 L1585 766.4 L1589 776.6 L1592.9 786.8 L1596.8 796.1 L1600.7 803.6 L1604.6 809.9 L1608.6 816.2 L1612.5 822.1 L1616.4 827.3 L1620.3 832 L1624.3 836.7 L1628.2 840.9 L1632.1 844 L1636 846.4 L1639.9 848.7 L1643.9 850.8 L1647.8 852.5 L1651.7 853.8 L1655.6 855.1 L1659.5 856.4 L1663.5 856.1 L1667.4 853.3 L1671.3 849.4 L1675.2 846.1 L1679.2 844 L1683.1 842.8 L1687 841.6 L1690.9 841.3 L1694.8 842.8 L1698.8 845.5 L1702.7 848.2 L1706.6 851.2 L1710.5 854.8 L1714.5 858.7 L1718.4 862.6 L1722.3 866.2 L1726.2 869.1 L1730.1 871.4 L1734.1 873.8 L1738 876.1 L1741.9 878.5 L1745.8 880.8 L1749.8 883.2 L1753.7 885.3 L1757.6 886.9 L1761.5 888 L1765.4 889.2 L1769.4 890.4 L1773.3 891.6 L1777.2 892.8 L1781.1 893.9 L1785 895 L1789 895.6 L1792.9 896 L1796.8 896.4 L1800.7 896.8 L1804.7 897.2 L1808.6 897.6 L1812.5 898 L1816.4 898.4 L1820.3 898.8 L1824.3 899.1 L1828.2 899.5 L1832.1 899.9 L1836 900.3 L1840 900.7 L1843.9 901.1 L1847.8 901.4 L1847.8 917.2 L1843.9 917.1 L1840 916.9 L1836 916.8 L1832.1 916.6 L1828.2 916.4 L1824.3 916.3 L1820.3 916.1 L1816.4 916 L1812.5 915.8 L1808.6 915.7 L1804.7 915.5 L1800.7 915.4 L1796.8 915.2 L1792.9 915 L1789 914.9 L1785 914.7 L1781.1 914.6 L1777.2 914.4 L1773.3 914.3 L1769.4 914.1 L1765.4 913.9 L1761.5 913.8 L1757.6 913.6 L1753.7 913.5 L1749.8 913.3 L1745.8 913.2 L1741.9 913 L1738 912.8 L1734.1 912.7 L1730.1 912.5 L1726.2 912.4 L1722.3 912.2 L1718.4 912.1 L1714.5 911.9 L1710.5 911.7 L1706.6 911.6 L1702.7 911.4 L1698.8 911.3 L1694.8 911.1 L1690.9 910.9 L1687 910.5 L1683.1 910.1 L1679.2 909.8 L1675.2 909.4 L1671.3 909 L1667.4 908.6 L1663.5 908.2 L1659.5 907.8 L1655.6 907.4 L1651.7 907 L1647.8 906.6 L1643.9 906.2 L1639.9 905.8 L1636 905.4 L1632.1 905 L1628.2 904.3 L1624.3 903 L1620.3 901.4 L1616.4 899.8 L1612.5 897.3 L1608.6 893.2 L1604.6 888.5 L1600.7 883.8 L1596.8 877.9 L1592.9 870.1 L1589 861.5 L1585 852.9 L1581.1 843.8 L1577.2 833.9 L1573.3 823.7 L1569.3 813.5 L1565.4 803.8 L1561.5 794.8 L1557.6 786.2 L1553.7 777.6 L1549.7 768.7 L1545.8 759.5 L1541.9 750.1 L1538 740.7 L1534 731.7 L1530.1 723.5 L1526.2 715.7 L1522.3 707.8 L1518.4 700.7 L1514.4 694.7 L1510.5 689.2 L1506.6 683.7 L1502.7 677.5 L1498.8 670.2 L1494.8 662.4 L1490.9 654.5 L1487 646.7 L1483.1 638.8 L1479.1 631 L1475.2 623.2 L1471.3 616.5 L1467.4 611.6 L1463.5 607.7 L1459.5 605.6 L1455.6 607.8 L1451.7 613 L1447.8 618.2 L1443.8 623.4 L1439.9 629.4 L1436 636.7 L1432.1 644.5 L1428.2 652.3 L1424.2 660 L1420.3 667.2 L1416.4 674.3 L1412.5 681.3 L1408.5 690.6 L1404.6 703.6 L1400.7 718.6 L1396.8 733.4 L1392.9 747.2 L1388.9 759.2 L1385 770.1 L1381.1 781.1 L1377.2 792.1 L1373.3 803.1 L1369.3 814.1 L1365.4 825 L1361.5 834.7 L1357.6 842.1 L1353.6 848.4 L1349.7 854.7 L1345.8 860.1 L1341.9 864 L1338 867.1 L1334 870.2 L1330.1 873.4 L1326.2 876.5 L1322.3 879.7 L1318.3 882.8 L1314.4 885.6 L1310.5 887.9 L1306.6 889.8 L1302.7 891.8 L1298.7 893.7 L1294.8 895.7 L1290.9 897.7 L1287 899.6 L1283 901.3 L1279.1 902.4 L1275.2 903.1 L1271.3 903.9 L1267.4 904.7 L1263.4 905.5 L1259.5 906.3 L1255.6 907.1 L1251.7 907.8 L1247.8 908.6 L1243.8 909.4 L1239.9 910.2 L1236 911 L1232.1 911.8 L1228.1 912.5 L1224.2 913.3 L1220.3 913.9 Z" fill="#ffa500" fill-opacity="0.3"/>
<path d="M1220.3 910.7 L1224.2 909.8 L1228.1 908.6 L1232.1 907.4 L1236 906.3 L1239.9 905.1 L1243.8 903.9 L1247.8 902.7 L1251.7 901.6 L1255.6 900.4 L1259.5 899.2 L1263.4 898 L1267.4 896.9 L1271.3 895.7 L1275.2 894.5 L1279.1 893.3 L1283 892.1 L1287 890.6 L1290.9 889 L1294.8 887.5 L1298.7 885.9 L1302.7 884.3 L1306.6 882.8 L1310.5 881.2 L1314.4 879.2 L1318.3 876.5 L1322.3 873.4 L1326.2 870.2 L1330.1 867.1 L1334 864 L1338 860.8 L1341.9 857.7 L1345.8 853.8 L1349.7 848.4 L1353.6 842.1 L1357.6 835.8 L1361.5 829.6 L1365.4 823.3 L1369.3 817 L1373.3 810.7 L1377.2 804.5 L1381.1 798.2 L1385 791.9 L1388.9 785.6 L1392.9 779.4 L1396.8 773.1 L1400.7 766.8 L1404.6 760.6 L1408.5 755 L1412.5 751 L1416.4 747.9 L1420.3 744.7 L1424.2 741.6 L1428.2 738.4 L1432.1 735.3 L1436 732.2 L1439.9 729.5 L1443.8 727.8 L1447.8 726.7 L1451.7 725.6 L1455.6 724.4 L1459.5 723.4 L1463.5 723 L1467.4 723.4 L1471.3 724.1 L1475.2 724.8 L1479.1 725.6 L1483.1 727.3 L1487 730 L1490.9 732.8 L1494.8 735.6 L1498.8 738.4 L1502.7 741.3 L1506.6 744.3 L1510.5 747.5 L1514.4 750.6 L1518.4 754.8 L1522.3 761.2 L1526.2 769.1 L1530.1 776.9 L1534 784.9 L1538 793.3 L1541.9 801.9 L1545.8 810.6 L1549.7 818.2 L1553.7 823.5 L1557.6 827.4 L1561.5 831.3 L1565.4 834.6 L1569.3 836.3 L1573.3 837.1 L1577.2 837.9 L1581.1 839.2 L1585 841.6 L1589 844.7 L1592.9 847.9 L1596.8 851.4 L1600.7 855.6 L1604.6 860.3 L1608.6 865 L1612.5 869.5 L1616.4 873.7 L1620.3 877.6 L1624.3 881.5 L1628.2 885 L1632.1 887.2 L1636 888.8 L1639.9 890.4 L1643.9 892 L1647.8 893.5 L1651.7 895.1 L1655.6 896.7 L1659.5 898 L1663.5 898.9 L1667.4 899.5 L1671.3 900.1 L1675.2 900.7 L1679.2 901.3 L1683.1 901.9 L1687 902.5 L1690.9 903.1 L1694.8 903.6 L1698.8 904.2 L1702.7 904.8 L1706.6 905.4 L1710.5 906 L1714.5 906.6 L1718.4 907.2 L1722.3 907.7 L1726.2 908 L1730.1 908.2 L1734.1 908.4 L1738 908.6 L1741.9 908.8 L1745.8 909 L1749.8 909.2 L1753.7 909.4 L1757.6 909.6 L1761.5 909.8 L1765.4 910 L1769.4 910.2 L1773.3 910.4 L1777.2 910.6 L1781.1 910.8 L1785 910.9 L1789 911.1 L1792.9 911.3 L1796.8 911.5 L1800.7 911.7 L1804.7 911.9 L1808.6 912.1 L1812.5 912.3 L1816.4 912.5 L1820.3 912.7 L1824.3 912.9 L1828.2 913.1 L1832.1 913.3 L1836 913.5 L1840 913.7 L1843.9 913.9 L1847.8 914 L1847.8 920.4 L1843.9 920.3 L1840 920.2 L1836 920 L1832.1 919.9 L1828.2 919.8 L1824.3 919.7 L1820.3 919.6 L1816.4 919.5 L1812.5 919.4 L1808.6 919.3 L1804.7 919.1 L1800.7 919 L1796.8 918.9 L1792.9 918.8 L1789 918.7 L1785 918.6 L1781.1 918.5 L1777.2 918.4 L1773.3 918.3 L1769.4 918.1 L1765.4 918 L1761.5 917.9 L1757.6 917.8 L1753.7 917.7 L1749.8 917.6 L1745.8 917.5 L1741.9 917.4 L1738 917.2 L1734.1 917.1 L1730.1 917 L1726.2 916.9 L1722.3 916.8 L1718.4 916.7 L1714.5 916.6 L1710.5 916.5 L1706.6 916.3 L1702.7 916.2 L1698.8 916.1 L1694.8 916 L1690.9 915.9 L1687 915.8 L1683.1 915.7 L1679.2 915.6 L1675.2 915.5 L1671.3 915.3 L1667.4 915.2 L1663.5 915.1 L1659.5 915 L1655.6 914.9 L1651.7 914.8 L1647.8 914.7 L1643.9 914.6 L1639.9 914.4 L1636 914.3 L1632.1 914.2 L1628.2 913.5 L1624.3 912 L1620.3 910 L1616.4 908 L1612.5 906.1 L1608.6 904.1 L1604.6 902.2 L1600.7 900.2 L1596.8 897.9 L1592.9 895 L1589 891.8 L1585 888.7 L1581.1 885.6 L1577.2 882.4 L1573.3 879.3 L1569.3 876.2 L1565.4 872.8 L1561.5 869 L1557.6 865.1 L1553.7 861.2 L1549.7 857.3 L1545.8 853.3 L1541.9 849.4 L1538 845.5 L1534 841.7 L1530.1 838.1 L1526.2 834.6 L1522.3 831 L1518.4 827.5 L1514.4 824 L1510.5 820.4 L1506.6 816.9 L1502.7 813.8 L1498.8 811.5 L1494.8 809.6 L1490.9 807.6 L1487 805.7 L1483.1 803.7 L1479.1 801.7 L1475.2 799.8 L1471.3 798.3 L1467.4 797.5 L1463.5 797.1 L1459.5 796.7 L1455.6 797 L1451.7 798.4 L1447.8 800.4 L1443.8 802.4 L1439.9 804.7 L1436 807.5 L1432.1 810.7 L1428.2 813.8 L1424.2 816.9 L1420.3 820.1 L1416.4 823.2 L1412.5 826.4 L1408.5 829.9 L1404.6 834.3 L1400.7 839 L1396.8 843.7 L1392.9 848.4 L1388.9 853.1 L1385 857.8 L1381.1 862.5 L1377.2 867 L1373.3 871.1 L1369.3 875 L1365.4 878.9 L1361.5 882.9 L1357.6 886.8 L1353.6 890.7 L1349.7 894.6 L1345.8 897.9 L1341.9 900 L1338 901.6 L1334 903.2 L1330.1 904.7 L1326.2 906.3 L1322.3 907.9 L1318.3 909.4 L1314.4 910.7 L1310.5 911.3 L1306.6 911.6 L1302.7 912 L1298.7 912.3 L1294.8 912.6 L1290.9 912.9 L1287 913.3 L1283 913.6 L1279.1 913.9 L1275.2 914.3 L1271.3 914.6 L1267.4 914.9 L1263.4 915.2 L1259.5 915.6 L1255.6 915.9 L1251.7 916.2 L1247.8 916.5 L1243.8 916.9 L1239.9 917.2 L1236 917.5 L1232.1 917.8 L1228.1 918.2 L1224.2 918.5 L1220.3 918.7 Z" fill="#ff7f50" fill-opacity="0.3"/>
<path d="M1220.3 920.3 L1224.2 920.2 L1228.1 920 L1232.1 919.8 L1236 919.6 L1239.9 919.4 L1243.8 919.2 L1247.8 919 L1251.7 918.8 L1255.6 918.6 L1259.5 918.4 L1263.4 918.2 L1267.4 918 L1271.3 917.8 L1275.2 917.7 L1279.1 917.5 L1283 917.1 L1287 916.5 L1290.9 915.7 L1294.8 914.9 L1298.7 914.1 L1302.7 913.3 L1306.6 912.6 L1310.5 911.8 L1314.4 911 L1318.3 910.2 L1322.3 909.4 L1326.2 908.6 L1330.1 907.9 L1334 907.1 L1338 906.3 L1341.9 905.5 L1345.8 904.5 L1349.7 903.2 L1353.6 901.6 L1357.6 900 L1361.5 898.5 L1365.4 896.9 L1369.3 895.3 L1373.3 893.8 L1377.2 892.3 L1381.1 891.2 L1385 890.2 L1388.9 889.2 L1392.9 888.3 L1396.8 887.3 L1400.7 886.3 L1404.6 885.3 L1408.5 884.5 L1412.5 883.9 L1416.4 883.5 L1420.3 883.1 L1424.2 882.7 L1428.2 882.3 L1432.1 882 L1436 881.6 L1439.9 881.2 L1443.8 880.8 L1447.8 880.4 L1451.7 880 L1455.6 879.6 L1459.5 879.2 L1463.5 878.8 L1467.4 878.4 L1471.3 878.1 L1475.2 877.9 L1479.1 877.8 L1483.1 877.6 L1487 877.5 L1490.9 877.4 L1494.8 877.2 L1498.8 877.1 L1502.7 877 L1506.6 876.8 L1510.5 876.7 L1514.4 876.6 L1518.4 876.4 L1522.3 876.1 L1526.2 875.7 L1530.1 875.3 L1534 875.1 L1538 875.4 L1541.9 876 L1545.8 876.6 L1549.7 877.2 L1553.7 877.8 L1557.6 878.3 L1561.5 878.9 L1565.4 879.7 L1569.3 881 L1573.3 882.6 L1577.2 884.1 L1581.1 885.7 L1585 887.3 L1589 888.8 L1592.9 890.4 L1596.8 892 L1600.7 893.6 L1604.6 895.1 L1608.6 896.7 L1612.5 898.3 L1616.4 899.8 L1620.3 901.4 L1624.3 903 L1628.2 904.5 L1632.1 905.7 L1636 906.9 L1639.9 908.1 L1643.9 909.3 L1647.8 910.5 L1651.7 911.6 L1655.6 912.8 L1659.5 913.8 L1663.5 914.2 L1667.4 914.4 L1671.3 914.5 L1675.2 914.6 L1679.2 914.8 L1683.1 914.9 L1687 915 L1690.9 915.1 L1694.8 915.3 L1698.8 915.4 L1702.7 915.5 L1706.6 915.7 L1710.5 915.8 L1714.5 915.9 L1718.4 916.1 L1722.3 916.2 L1726.2 916.3 L1730.1 916.5 L1734.1 916.6 L1738 916.7 L1741.9 916.8 L1745.8 917 L1749.8 917.1 L1753.7 917.2 L1757.6 917.4 L1761.5 917.5 L1765.4 917.6 L1769.4 917.8 L1773.3 917.9 L1777.2 918 L1781.1 918.2 L1785 918.3 L1789 918.4 L1792.9 918.5 L1796.8 918.7 L1800.7 918.8 L1804.7 918.9 L1808.6 919.1 L1812.5 919.2 L1816.4 919.3 L1820.3 919.5 L1824.3 919.6 L1828.2 919.7 L1832.1 919.9 L1836 920 L1840 920.1 L1843.9 920.2 L1847.8 920.3 L1847.8 922.9 L1843.9 922.9 L1840 922.9 L1836 922.9 L1832.1 922.9 L1828.2 922.9 L1824.3 922.9 L1820.3 922.9 L1816.4 922.9 L1812.5 922.9 L1808.6 922.9 L1804.7 922.9 L1800.7 922.9 L1796.8 922.9 L1792.9 922.9 L1789 922.9 L1785 922.9 L1781.1 922.9 L1777.2 922.9 L1773.3 922.9 L1769.4 922.9 L1765.4 922.9 L1761.5 922.9 L1757.6 922.9 L1753.7 922.9 L1749.8 922.9 L1745.8 922.9 L1741.9 922.9 L1738 922.9 L1734.1 922.9 L1730.1 922.9 L1726.2 922.9 L1722.3 922.9 L1718.4 922.9 L1714.5 922.9 L1710.5 922.9 L1706.6 922.9 L1702.7 922.9 L1698.8 922.9 L1694.8 922.9 L1690.9 922.9 L1687 922.9 L1683.1 922.9 L1679.2 922.9 L1675.2 922.9 L1671.3 922.9 L1667.4 922.9 L1663.5 922.9 L1659.5 922.9 L1655.6 922.9 L1651.7 922.9 L1647.8 922.9 L1643.9 922.9 L1639.9 922.9 L1636 922.9 L1632.1 922.9 L1628.2 922.9 L1624.3 922.9 L1620.3 922.9 L1616.4 922.9 L1612.5 922.9 L1608.6 922.9 L1604.6 922.9 L1600.7 922.9 L1596.8 922.9 L1592.9 922.9 L1589 922.9 L1585 922.9 L1581.1 922.9 L1577.2 922.9 L1573.3 922.9 L1569.3 922.9 L1565.4 922.9 L1561.5 922.9 L1557.6 922.9 L1553.7 922.9 L1549.7 922.9 L1545.8 922.9 L1541.9 922.9 L1538 922.9 L1534 922.9 L1530.1 922.9 L1526.2 922.9 L1522.3 922.9 L1518.4 922.9 L1514.4 922.9 L1510.5 922.9 L1506.6 922.9 L1502.7 922.9 L1498.8 922.9 L1494.8 922.9 L1490.9 922.9 L1487 922.9 L1483.1 922.9 L1479.1 922.9 L1475.2 922.9 L1471.3 922.9 L1467.4 922.9 L1463.5 922.9 L1459.5 922.9 L1455.6 922.9 L1451.7 922.9 L1447.8 922.9 L1443.8 922.9 L1439.9 922.9 L1436 922.9 L1432.1 922.9 L1428.2 922.9 L1424.2 922.9 L1420.3 922.9 L1416.4 922.9 L1412.5 922.9 L1408.5 922.9 L1404.6 922.9 L1400.7 922.9 L1396.8 922.9 L1392.9 922.9 L1388.9 922.9 L1385 922.9 L1381.1 922.9 L1377.2 922.9 L1373.3 922.9 L1369.3 922.9 L1365.4 922.9 L1361.5 922.9 L1357.6 922.9 L1353.6 922.9 L1349.7 922.9 L1345.8 922.9 L1341.9 922.9 L1338 922.9 L1334 922.9 L1330.1 922.9 L1326.2 922.9 L1322.3 922.9 L1318.3 922.9 L1314.4 922.9 L1310.5 922.9 L1306.6 922.9 L1302.7 922.9 L1298.7 922.9 L1294.8 922.9 L1290.9 922.9 L1287 922.9 L1283 922.9 L1279.1 922.9 L1275.2 922.9 L1271.3 922.9 L1267.4 922.9 L1263.4 922.9 L1259.5 922.9 L1255.6 922.9 L1251.7 922.9 L1247.8 922.9 L1243.8 922.9 L1239.9 922.9 L1236 922.9 L1232.1 922.9 L1228.1 922.9 L1224.2 922.9 L1220.3 922.9 Z" fill="#ff0000" fill-opacity="0.3"/>
<path d="M1220.3 924.2 L1224.2 924.2 L1228.1 924.1 L1232.1 924.1 L1236 924.1 L1239.9 924.1 L1243.8 924.1 L1247.8 924.1 L1251.7 924.1 L1255.6 924 L1259.5 924 L1263.4 924 L1267.4 924 L1271.3 924 L1275.2 924 L1279.1 924 L1283 923.9 L1287 923.9 L1290.9 923.9 L1294.8 923.9 L1298.7 923.9 L1302.7 923.9 L1306.6 923.9 L1310.5 923.8 L1314.4 923.8 L1318.3 923.8 L1322.3 923.8 L1326.2 923.8 L1330.1 923.8 L1334 923.8 L1338 923.7 L1341.9 923.7 L1345.8 923.7 L1349.7 923.7 L1353.6 923.7 L1357.6 923.7 L1361.5 923.7 L1365.4 923.6 L1369.3 923.6 L1373.3 923.6 L1377.2 923.6 L1381.1 923.6 L1385 923.6 L1388.9 923.6 L1392.9 922.6 L1396.8 919.8 L1400.7 915.9 L1404.6 911.9 L1408.5 908.6 L1412.5 906.4 L1416.4 904.8 L1420.3 903.2 L1424.2 901.6 L1428.2 900.1 L1432.1 898.5 L1436 896.9 L1439.9 895.5 L1443.8 894.5 L1447.8 893.8 L1451.7 893 L1455.6 892.2 L1459.5 891.4 L1463.5 890.6 L1467.4 889.8 L1471.3 889.4 L1475.2 889.7 L1479.1 890.5 L1483.1 891.3 L1487 892.3 L1490.9 893.6 L1494.8 895.2 L1498.8 896.7 L1502.7 898.5 L1506.6 900.6 L1510.5 903 L1514.4 905.3 L1518.4 907.7 L1522.3 910 L1526.2 912.4 L1530.1 914.7 L1534 916.7 L1538 918 L1541.9 918.8 L1545.8 919.5 L1549.7 920.3 L1553.7 921.1 L1557.6 921.9 L1561.5 922.7 L1565.4 923.3 L1569.3 923.5 L1573.3 923.6 L1577.2 923.6 L1581.1 923.6 L1585 923.6 L1589 923.6 L1592.9 923.6 L1596.8 923.6 L1600.7 923.6 L1604.6 923.6 L1608.6 923.6 L1612.5 923.6 L1616.4 923.7 L1620.3 923.7 L1624.3 923.7 L1628.2 923.7 L1632.1 923.7 L1636 923.7 L1639.9 923.7 L1643.9 923.7 L1647.8 923.7 L1651.7 923.7 L1655.6 923.7 L1659.5 923.7 L1663.5 923.8 L1667.4 923.8 L1671.3 923.8 L1675.2 923.8 L1679.2 923.8 L1683.1 923.8 L1687 923.8 L1690.9 923.8 L1694.8 923.8 L1698.8 923.8 L1702.7 923.8 L1706.6 923.9 L1710.5 923.9 L1714.5 923.9 L1718.4 923.9 L1722.3 923.9 L1726.2 923.9 L1730.1 923.9 L1734.1 923.9 L1738 923.9 L1741.9 923.9 L1745.8 923.9 L1749.8 923.9 L1753.7 924 L1757.6 924 L1761.5 924 L1765.4 924 L1769.4 924 L1773.3 924 L1777.2 924 L1781.1 924 L1785 924 L1789 924 L1792.9 924 L1796.8 924.1 L1800.7 924.1 L1804.7 924.1 L1808.6 924.1 L1812.5 924.1 L1816.4 924.1 L1820.3 924.1 L1824.3 924.1 L1828.2 924.1 L1832.1 924.1 L1836 924.1 L1840 924.1 L1843.9 924.2 L1847.8 924.2 L1847.8 925.4 L1843.9 925.4 L1840 925.4 L1836 925.4 L1832.1 925.4 L1828.2 925.4 L1824.3 925.4 L1820.3 925.4 L1816.4 925.4 L1812.5 925.4 L1808.6 925.4 L1804.7 925.4 L1800.7 925.4 L1796.8 925.4 L1792.9 925.4 L1789 925.4 L1785 925.4 L1781.1 925.4 L1777.2 925.4 L1773.3 925.4 L1769.4 925.4 L1765.4 925.4 L1761.5 925.4 L1757.6 925.4 L1753.7 925.4 L1749.8 925.4 L1745.8 925.4 L1741.9 925.4 L1738 925.4 L1734.1 925.4 L1730.1 925.4 L1726.2 925.4 L1722.3 925.4 L1718.4 925.4 L1714.5 925.4 L1710.5 925.4 L1706.6 925.4 L1702.7 925.4 L1698.8 925.4 L1694.8 925.4 L1690.9 925.4 L1687 925.4 L1683.1 925.4 L1679.2 925.4 L1675.2 925.4 L1671.3 925.4 L1667.4 925.4 L1663.5 925.4 L1659.5 925.4 L1655.6 925.4 L1651.7 925.4 L1647.8 925.4 L1643.9 925.4 L1639.9 925.4 L1636 925.4 L1632.1 925.4 L1628.2 925.4 L1624.3 925.4 L1620.3 925.4 L1616.4 925.4 L1612.5 925.4 L1608.6 925.4 L1604.6 925.4 L1600.7 925.4 L1596.8 925.4 L1592.9 925.4 L1589 925.4 L1585 925.4 L1581.1 925.4 L1577.2 925.4 L1573.3 925.4 L1569.3 925.4 L1565.4 925.4 L1561.5 925.4 L1557.6 925.4 L1553.7 925.4 L1549.7 925.4 L1545.8 925.4 L1541.9 925.4 L1538 925.4 L1534 925.4 L1530.1 925.4 L1526.2 925.4 L1522.3 925.4 L1518.4 925.4 L1514.4 925.4 L1510.5 925.4 L1506.6 925.4 L1502.7 925.4 L1498.8 925.4 L1494.8 925.4 L1490.9 925.4 L1487 925.4 L1483.1 925.4 L1479.1 925.4 L1475.2 925.4 L1471.3 925.4 L1467.4 925.4 L1463.5 925.4 L1459.5 925.4 L1455.6 925.4 L1451.7 925.4 L1447.8 925.4 L1443.8 925.4 L1439.9 925.4 L1436 925.4 L1432.1 925.4 L1428.2 925.4 L1424.2 925.4 L1420.3 925.4 L1416.4 925.4 L1412.5 925.4 L1408.5 925.4 L1404.6 925.4 L1400.7 925.4 L1396.8 925.4 L1392.9 925.4 L1388.9 925.4 L1385 925.4 L1381.1 925.4 L1377.2 925.4 L1373.3 925.4 L1369.3 925.4 L1365.4 925.4 L1361.5 925.4 L1357.6 925.4 L1353.6 925.4 L1349.7 925.4 L1345.8 925.4 L1341.9 925.4 L1338 925.4 L1334 925.4 L1330.1 925.4 L1326.2 925.4 L1322.3 925.4 L1318.3 925.4 L1314.4 925.4 L1310.5 925.4 L1306.6 925.4 L1302.7 925.4 L1298.7 925.4 L1294.8 925.4 L1290.9 925.4 L1287 925.4 L1283 925.4 L1279.1 925.4 L1275.2 925.4 L1271.3 925.4 L1267.4 925.4 L1263.4 925.4 L1259.5 925.4 L1255.6 925.4 L1251.7 925.4 L1247.8 925.4 L1243.8 925.4 L1239.9 925.4 L1236 925.4 L1232.1 925.4 L1228.1 925.4 L1224.2 925.4 L1220.3 925.4 Z" fill="#8b0000" fill-opacity="0.3"/>
<path d="M1220.3 890.1 L1225 891.8 L1229.7 892.5 L1234.3 910.5 L1239 885 L1243.7 883.9 L1248.4 877.6 L1253.1 878.6 L1257.8 875 L1262.4 873.4 L1267.1 876.3 L1271.8 881.9 L1276.5 878.3 L1281.2 860.8 L1285.9 876.4 L1290.5 867.5 L1295.2 871.1 L1299.9 866 L1304.6 860.9 L1309.3 852.8 L1314 853.8 L1318.6 849 L1323.3 845.2 L1328 833 L1332.7 839.3 L1337.4 821.2 L1342.1 804.2 L1346.7 815.1 L1351.4 799.9 L1356.1 765.7 L1360.8 789.1 L1365.5 783.9 L1370.2 762.3 L1374.8 731.8 L1379.5 718.5 L1384.2 735.5 L1388.9 708.8 L1393.6 669.1 L1398.2 696.3 L1402.9 696.8 L1407.6 660.1 L1412.3 666.4 L1417 647 L1421.7 639.5 L1426.3 614.6 L1431 611.3 L1435.7 622.1 L1440.4 606.3 L1445.1 589.7 L1449.8 605.9 L1454.4 593.4 L1459.1 583.8 L1463.8 598.1 L1468.5 596.3 L1473.2 602.4 L1477.9 587.2 L1482.5 596.6 L1487.2 586.7 L1491.9 599.4 L1496.6 601.9 L1501.3 614.4 L1506 615.3 L1510.6 632.1 L1515.3 649.1 L1520 640.4 L1524.7 653.2 L1529.4 653.3 L1534 685.5 L1538.7 672.2 L1543.4 721 L1548.1 754 L1552.8 744.1 L1557.5 740.7 L1562.1 764.8 L1566.8 791.1 L1571.5 773.9 L1576.2 794.6 L1580.9 802.9 L1585.6 813.8 L1590.2 821.5 L1594.9 826.4 L1599.6 853.7 L1604.3 846.8 L1609 855.4 L1613.7 847.2 L1618.3 872.1 L1623 855 L1627.7 869.6 L1632.4 864.6 L1637.1 887.6 L1641.8 877.4 L1646.4 884 L1651.1 902.9 L1655.8 895 L1660.5 899.1 L1665.2 905.2 L1669.9 904.9 L1674.5 912.1 L1679.2 905.1 L1683.9 899.6 L1688.6 910.6 L1693.3 918.5 L1697.9 896.6 L1702.6 931.1 L1707.3 906.8 L1712 909.8 L1716.7 913.2 L1721.4 903.9 L1726 914.2 L1730.7 909.8 L1735.4 922.9 L1740.1 924.9 L1744.8 914.4 L1749.5 894.9 L1754.1 910.2 L1758.8 895.4 L1763.5 908.5 L1768.2 908.9 L1772.9 918.2 L1777.6 913.7 L1782.2 898.3 L1786.9 903.9 L1791.6 919.8 L1796.3 918.7 L1801 903.3 L1805.7 919.6 L1810.3 907.4 L1815 923.5 L1819.7 910.4 L1824.4 902.8 L1829.1 909.1 L1833.8 914.4 L1838.4 915.5 L1843.1 917.7 L1847.8 906" fill="none" stroke="#ffa500" stroke-width="2.6" stroke-linejoin="round"/>
<path d="M1220.3 900.1 L1225 924 L1229.7 902 L1234.3 911.3 L1239 912.5 L1243.7 930.4 L1248.4 910.6 L1253.1 899 L1257.8 924.9 L1262.4 911.2 L1267.1 912.6 L1271.8 921.2 L1276.5 892.5 L1281.2 902.1 L1285.9 900.2 L1290.5 888.1 L1295.2 903.8 L1299.9 859.8 L1304.6 896.1 L1309.3 901 L1314 880 L1318.6 880.3 L1323.3 891.8 L1328 888.9 L1332.7 868.4 L1337.4 871.7 L1342.1 868 L1346.7 860.5 L1351.4 872.2 L1356.1 849.1 L1360.8 858.1 L1365.5 847.1 L1370.2 860.4 L1374.8 839.2 L1379.5 839.7 L1384.2 811.7 L1388.9 833.9 L1393.6 811.3 L1398.2 790.4 L1402.9 800.5 L1407.6 809.2 L1412.3 801.8 L1417 825.2 L1421.7 810.7 L1426.3 781.9 L1431 783.6 L1435.7 775.3 L1440.4 781.8 L1445.1 767.7 L1449.8 776.6 L1454.4 770.6 L1459.1 754.4 L1463.8 753.2 L1468.5 768.2 L1473.2 763.8 L1477.9 762.5 L1482.5 767.1 L1487.2 767.9 L1491.9 779.4 L1496.6 767 L1501.3 787 L1506 789.4 L1510.6 769.5 L1515.3 767.1 L1520 771.2 L1524.7 792.5 L1529.4 807.8 L1534 800.6 L1538.7 798.3 L1543.4 819.3 L1548.1 830.8 L1552.8 849.7 L1557.5 855.5 L1562.1 825.8 L1566.8 864.5 L1571.5 861.9 L1576.2 863.7 L1580.9 863.3 L1585.6 883.6 L1590.2 868 L1594.9 871.7 L1599.6 880.7 L1604.3 891.6 L1609 892.8 L1613.7 912.3 L1618.3 888.3 L1623 902.6 L1627.7 913.7 L1632.4 902.3 L1637.1 899.1 L1641.8 902.9 L1646.4 901.7 L1651.1 896.9 L1655.8 915.3 L1660.5 908.7 L1665.2 908.8 L1669.9 927.3 L1674.5 901.7 L1679.2 917.2 L1683.9 912.1 L1688.6 912.3 L1693.3 924.4 L1697.9 907.6 L1702.6 906.2 L1707.3 914.7 L1712 946.6 L1716.7 902.6 L1721.4 918.4 L1726 923.7 L1730.7 923.2 L1735.4 928.5 L1740.1 921.3 L1744.8 911.2 L1749.5 929.2 L1754.1 915.7 L1758.8 924.2 L1763.5 920.8 L1768.2 922.1 L1772.9 915.2 L1777.6 908.1 L1782.2 918.8 L1786.9 909.5 L1791.6 903.6 L1796.3 934.1 L1801 911.1 L1805.7 922.5 L1810.3 921.4 L1815 909.6 L1819.7 922.2 L1824.4 926.4 L1829.1 906.9 L1833.8 909.3 L1838.4 915.9 L1843.1 891.1 L1847.8 930.7" fill="none" stroke="#ff7f50" stroke-width="2.6" stroke-linejoin="round"/>
<path d="M1220.3 912.3 L1225 925.7 L1229.7 917.4 L1234.3 917.9 L1239 938.8 L1243.7 909.7 L1248.4 915.5 L1253.1 921.7 L1257.8 920.9 L1262.4 915.4 L1267.1 915.7 L1271.8 910.1 L1276.5 912.5 L1281.2 908.3 L1285.9 911.1 L1290.5 925 L1295.2 924.8 L1299.9 908.4 L1304.6 908.8 L1309.3 912 L1314 922.9 L1318.6 917.5 L1323.3 918.1 L1328 905.2 L1332.7 917.6 L1337.4 922 L1342.1 916.9 L1346.7 907.1 L1351.4 895.5 L1356.1 912.6 L1360.8 898.1 L1365.5 910.9 L1370.2 910 L1374.8 912.9 L1379.5 898.2 L1384.2 908.4 L1388.9 895.4 L1393.6 906.3 L1398.2 887.2 L1402.9 899.6 L1407.6 900.3 L1412.3 910.3 L1417 888.4 L1421.7 896.2 L1426.3 897.5 L1431 897.3 L1435.7 901.1 L1440.4 900.7 L1445.1 892.7 L1449.8 901.9 L1454.4 895.6 L1459.1 874.3 L1463.8 894.2 L1468.5 894.9 L1473.2 884.3 L1477.9 900.1 L1482.5 879.4 L1487.2 891.1 L1491.9 900.9 L1496.6 891.8 L1501.3 896.3 L1506 884.5 L1510.6 894.7 L1515.3 884.8 L1520 907.7 L1524.7 895.3 L1529.4 858.2 L1534 887.8 L1538.7 892.1 L1543.4 886.8 L1548.1 887.2 L1552.8 894.5 L1557.5 893.3 L1562.1 888 L1566.8 894.9 L1571.5 918.9 L1576.2 911.1 L1580.9 903.8 L1585.6 892.9 L1590.2 898.8 L1594.9 894.4 L1599.6 892 L1604.3 896.6 L1609 910.1 L1613.7 895.5 L1618.3 915 L1623 915.1 L1627.7 908.6 L1632.4 925.1 L1637.1 891.9 L1641.8 886.7 L1646.4 909.2 L1651.1 911.7 L1655.8 927.1 L1660.5 905.2 L1665.2 916.1 L1669.9 920.7 L1674.5 922.6 L1679.2 911.9 L1683.9 913 L1688.6 912.5 L1693.3 917 L1697.9 926.8 L1702.6 899.8 L1707.3 905.4 L1712 960.8 L1716.7 925.4 L1721.4 921.8 L1726 907.4 L1730.7 909.2 L1735.4 911.3 L1740.1 903.7 L1744.8 906.3 L1749.5 902.1 L1754.1 913.2 L1758.8 921.3 L1763.5 910.7 L1768.2 912.5 L1772.9 921.5 L1777.6 900.3 L1782.2 930.1 L1786.9 914 L1791.6 912.9 L1796.3 922.7 L1801 916.4 L1805.7 905.8 L1810.3 926.9 L1815 926.8 L1819.7 920.6 L1824.4 913.5 L1829.1 908.5 L1833.8 913.3 L1838.4 928.2 L1843.1 909.2 L1847.8 912.8" fill="none" stroke="#ff0000" stroke-width="2.6" stroke-linejoin="round"/>
<path d="M1220.3 929.4 L1225 899.6 L1229.7 928.3 L1234.3 919.2 L1239 917.9 L1243.7 922.9 L1248.4 921 L1253.1 927 L1257.8 922.8 L1262.4 922.4 L1267.1 915.5 L1271.8 910.9 L1276.5 924.2 L1281.2 909.2 L1285.9 923.9 L1290.5 933.6 L1295.2 928.3 L1299.9 930.6 L1304.6 927.9 L1309.3 922.9 L1314 921.3 L1318.6 911.4 L1323.3 915.8 L1328 928 L1332.7 917.8 L1337.4 924.2 L1342.1 915.5 L1346.7 910.6 L1351.4 924.7 L1356.1 915.5 L1360.8 909.2 L1365.5 919.6 L1370.2 934.8 L1374.8 924.6 L1379.5 932.8 L1384.2 913.1 L1388.9 921.4 L1393.6 887.6 L1398.2 905 L1402.9 915.7 L1407.6 922 L1412.3 942.3 L1417 928.9 L1421.7 930.7 L1426.3 925.5 L1431 936.5 L1435.7 917.1 L1440.4 910.5 L1445.1 927.3 L1449.8 948.4 L1454.4 922.5 L1459.1 926 L1463.8 913.2 L1468.5 924.2 L1473.2 931.3 L1477.9 938 L1482.5 923.5 L1487.2 947.9 L1491.9 935.1 L1496.6 926.5 L1501.3 925.2 L1506 924.1 L1510.6 926.1 L1515.3 938 L1520 927.7 L1524.7 908.9 L1529.4 918.2 L1534 934.4 L1538.7 922.8 L1543.4 914 L1548.1 921 L1552.8 907.9 L1557.5 923.5 L1562.1 940.6 L1566.8 923.7 L1571.5 922 L1576.2 916.6 L1580.9 918.4 L1585.6 907.8 L1590.2 917.3 L1594.9 921.5 L1599.6 929 L1604.3 926 L1609 910 L1613.7 903.8 L1618.3 919.9 L1623 921.5 L1627.7 925.6 L1632.4 921 L1637.1 922.9 L1641.8 928.6 L1646.4 914.1 L1651.1 934.9 L1655.8 922 L1660.5 921.8 L1665.2 916.7 L1669.9 925.1 L1674.5 933.4 L1679.2 924.5 L1683.9 934.2 L1688.6 927.2 L1693.3 931.4 L1697.9 898.4 L1702.6 946 L1707.3 936 L1712 910.8 L1716.7 925.7 L1721.4 937.8 L1726 917.1 L1730.7 901.8 L1735.4 923.2 L1740.1 914.5 L1744.8 937.4 L1749.5 929.6 L1754.1 921.4 L1758.8 921.7 L1763.5 930.5 L1768.2 928 L1772.9 975.6 L1777.6 931.7 L1782.2 929.2 L1786.9 929.5 L1791.6 918.9 L1796.3 938.3 L1801 918.4 L1805.7 905.5 L1810.3 921.9 L1815 928.4 L1819.7 933.2 L1824.4 934.6 L1829.1 936.1 L1833.8 921 L1838.4 924.6 L1843.1 915.7 L1847.8 920.7" fill="none" stroke="#8b0000" stroke-width="2.6" stroke-linejoin="round"/>
<path d="M1220.3 894.9 L1224.2 893.9 L1228.1 892.5 L1232.1 891.2 L1236 889.8 L1239.9 888.4 L1243.8 887 L1247.8 885.7 L1251.7 884.3 L1255.6 882.9 L1259.5 881.6 L1263.4 880.2 L1267.4 878.8 L1271.3 877.4 L1275.2 876.1 L1279.1 874.7 L1283 873 L1287 870.6 L1290.9 867.9 L1294.8 865.1 L1298.7 862.4 L1302.7 859.6 L1306.6 856.9 L1310.5 854.1 L1314.4 850.8 L1318.3 846.3 L1322.3 841.2 L1326.2 836.1 L1330.1 831 L1334 826 L1338 820.9 L1341.9 815.8 L1345.8 810 L1349.7 802.9 L1353.6 795.1 L1357.6 787.2 L1361.5 779 L1365.4 770 L1369.3 760.6 L1373.3 751.2 L1377.2 741.8 L1381.1 732.4 L1385 723 L1388.9 713.6 L1392.9 704.1 L1396.8 694.7 L1400.7 685.3 L1404.6 675.9 L1408.5 666.9 L1412.5 658.6 L1416.4 650.7 L1420.3 642.9 L1424.2 635.1 L1428.2 627.2 L1432.1 619.4 L1436 611.5 L1439.9 604.7 L1443.8 599.8 L1447.8 596.2 L1451.7 592.5 L1455.6 588.9 L1459.5 585.4 L1463.5 584.1 L1467.4 585.1 L1471.3 586.9 L1475.2 588.6 L1479.1 590.3 L1483.1 592 L1487 594.6 L1490.9 599 L1494.8 604.4 L1498.8 609.9 L1502.7 615.9 L1506.6 623.1 L1510.5 630.9 L1514.4 638.8 L1518.4 647 L1522.3 655.9 L1526.2 665.3 L1530.1 674.7 L1534 684.3 L1538 694.3 L1541.9 704.5 L1545.8 714.7 L1549.7 724.9 L1553.7 735.1 L1557.6 745.2 L1561.5 755.4 L1565.4 765.3 L1569.3 774.4 L1573.3 783 L1577.2 791.7 L1581.1 800.3 L1585 808.9 L1589 817.5 L1592.9 826.2 L1596.8 834 L1600.7 840.2 L1604.6 845.3 L1608.6 850.4 L1612.5 855.5 L1616.4 860.6 L1620.3 865.7 L1624.3 870.8 L1628.2 875.3 L1632.1 878.5 L1636 880.9 L1639.9 883.3 L1643.9 885.6 L1647.8 888 L1651.7 890.3 L1655.6 892.7 L1659.5 894.8 L1663.5 896.3 L1667.4 897.5 L1671.3 898.7 L1675.2 899.9 L1679.2 901 L1683.1 902.2 L1687 903.4 L1690.9 904.4 L1694.8 905.2 L1698.8 905.8 L1702.7 906.4 L1706.6 907 L1710.5 907.6 L1714.5 908.2 L1718.4 908.7 L1722.3 909.3 L1726.2 909.7 L1730.1 910 L1734.1 910.3 L1738 910.5 L1741.9 910.8 L1745.8 911.1 L1749.8 911.4 L1753.7 911.7 L1757.6 912 L1761.5 912.3 L1765.4 912.6 L1769.4 912.9 L1773.3 913.2 L1777.2 913.5 L1781.1 913.8 L1785 914.1 L1789 914.3 L1792.9 914.5 L1796.8 914.7 L1800.7 914.9 L1804.7 915.1 L1808.6 915.3 L1812.5 915.5 L1816.4 915.7 L1820.3 915.9 L1824.3 916.1 L1828.2 916.2 L1832.1 916.4 L1836 916.6 L1840 916.8 L1843.9 917 L1847.8 917.2" fill="none" stroke="#ffa500" stroke-width="3.2"/>
<path d="M1220.3 913.9 L1224.2 913.3 L1228.1 912.5 L1232.1 911.8 L1236 911 L1239.9 910.2 L1243.8 909.4 L1247.8 908.6 L1251.7 907.8 L1255.6 907.1 L1259.5 906.3 L1263.4 905.5 L1267.4 904.7 L1271.3 903.9 L1275.2 903.1 L1279.1 902.4 L1283 901.3 L1287 899.6 L1290.9 897.7 L1294.8 895.7 L1298.7 893.7 L1302.7 891.8 L1306.6 889.8 L1310.5 887.9 L1314.4 885.9 L1318.3 883.9 L1322.3 882 L1326.2 880 L1330.1 878.1 L1334 876.1 L1338 874.1 L1341.9 872.2 L1345.8 869.9 L1349.7 867.1 L1353.6 864 L1357.6 860.8 L1361.5 857.7 L1365.4 854.6 L1369.3 851.4 L1373.3 848.3 L1377.2 844.9 L1381.1 840.9 L1385 836.6 L1388.9 832.3 L1392.9 828 L1396.8 823.6 L1400.7 819.3 L1404.6 815 L1408.5 810.8 L1412.5 806.8 L1416.4 802.8 L1420.3 798.9 L1424.2 795 L1428.2 791.1 L1432.1 787.2 L1436 783.2 L1439.9 779.7 L1443.8 776.8 L1447.8 774.3 L1451.7 771.9 L1455.6 769.4 L1459.5 767 L1463.5 764.8 L1467.4 763.9 L1471.3 764.3 L1475.2 764.8 L1479.1 765.4 L1483.1 765.9 L1487 767 L1490.9 769.1 L1494.8 771.8 L1498.8 774.6 L1502.7 777.3 L1506.6 780.1 L1510.5 782.8 L1514.4 785.6 L1518.4 788.8 L1522.3 793.2 L1526.2 798.3 L1530.1 803.4 L1534 808.5 L1538 813.6 L1541.9 818.7 L1545.8 823.8 L1549.7 828.8 L1553.7 833.6 L1557.6 838.4 L1561.5 843.1 L1565.4 847.8 L1569.3 852.5 L1573.3 857.2 L1577.2 861.9 L1581.1 866.2 L1585 869.9 L1589 873 L1592.9 876.1 L1596.8 879.3 L1600.7 882.4 L1604.6 885.5 L1608.6 888.7 L1612.5 891.6 L1616.4 893.9 L1620.3 895.9 L1624.3 897.8 L1628.2 899.8 L1632.1 901.7 L1636 903.7 L1639.9 905.7 L1643.9 907.4 L1647.8 908.4 L1651.7 909.1 L1655.6 909.7 L1659.5 910.4 L1663.5 911 L1667.4 911.7 L1671.3 912.3 L1675.2 913 L1679.2 913.6 L1683.1 914.3 L1687 915 L1690.9 915.5 L1694.8 915.8 L1698.8 915.9 L1702.7 916 L1706.6 916.1 L1710.5 916.3 L1714.5 916.4 L1718.4 916.5 L1722.3 916.6 L1726.2 916.7 L1730.1 916.9 L1734.1 917 L1738 917.1 L1741.9 917.2 L1745.8 917.3 L1749.8 917.4 L1753.7 917.6 L1757.6 917.7 L1761.5 917.8 L1765.4 917.9 L1769.4 918 L1773.3 918.1 L1777.2 918.3 L1781.1 918.4 L1785 918.5 L1789 918.6 L1792.9 918.7 L1796.8 918.9 L1800.7 919 L1804.7 919.1 L1808.6 919.2 L1812.5 919.3 L1816.4 919.4 L1820.3 919.6 L1824.3 919.7 L1828.2 919.8 L1832.1 919.9 L1836 920 L1840 920.1 L1843.9 920.3 L1847.8 920.3" fill="none" stroke="#ff7f50" stroke-width="3.2"/>
<path d="M1220.3 918.8 L1224.2 918.7 L1228.1 918.5 L1232.1 918.4 L1236 918.2 L1239.9 918.1 L1243.8 917.9 L1247.8 917.8 L1251.7 917.7 L1255.6 917.5 L1259.5 917.4 L1263.4 917.2 L1267.4 917.1 L1271.3 916.9 L1275.2 916.8 L1279.1 916.6 L1283 916.5 L1287 916.3 L1290.9 916.2 L1294.8 916 L1298.7 915.9 L1302.7 915.7 L1306.6 915.6 L1310.5 915.4 L1314.4 915.3 L1318.3 915.2 L1322.3 915 L1326.2 914.9 L1330.1 914.7 L1334 914.6 L1338 914.4 L1341.9 914.3 L1345.8 914.1 L1349.7 913.7 L1353.6 913.3 L1357.6 913 L1361.5 912.6 L1365.4 912.2 L1369.3 911.8 L1373.3 911.4 L1377.2 911 L1381.1 910.6 L1385 910.2 L1388.9 909.8 L1392.9 909.4 L1396.8 909 L1400.7 908.6 L1404.6 908.2 L1408.5 907.9 L1412.5 907.5 L1416.4 907.1 L1420.3 906.8 L1424.2 906.4 L1428.2 906.1 L1432.1 905.7 L1436 905.4 L1439.9 905 L1443.8 904.7 L1447.8 904.3 L1451.7 904 L1455.6 903.6 L1459.5 903.3 L1463.5 902.9 L1467.4 902.6 L1471.3 902.3 L1475.2 902 L1479.1 901.9 L1483.1 901.7 L1487 901.6 L1490.9 901.4 L1494.8 901.3 L1498.8 901.1 L1502.7 901 L1506.6 901.1 L1510.5 901.2 L1514.4 901.4 L1518.4 901.5 L1522.3 901.7 L1526.2 901.9 L1530.1 902 L1534 902.2 L1538 902.5 L1541.9 902.9 L1545.8 903.2 L1549.7 903.6 L1553.7 903.9 L1557.6 904.3 L1561.5 904.6 L1565.4 905 L1569.3 905.3 L1573.3 905.7 L1577.2 906 L1581.1 906.4 L1585 906.7 L1589 907.1 L1592.9 907.5 L1596.8 907.8 L1600.7 908.2 L1604.6 908.6 L1608.6 909 L1612.5 909.4 L1616.4 909.8 L1620.3 910.2 L1624.3 910.5 L1628.2 910.9 L1632.1 911.3 L1636 911.7 L1639.9 912.1 L1643.9 912.5 L1647.8 912.9 L1651.7 913.3 L1655.6 913.7 L1659.5 914 L1663.5 914.2 L1667.4 914.4 L1671.3 914.5 L1675.2 914.6 L1679.2 914.8 L1683.1 914.9 L1687 915 L1690.9 915.1 L1694.8 915.3 L1698.8 915.4 L1702.7 915.5 L1706.6 915.7 L1710.5 915.8 L1714.5 915.9 L1718.4 916.1 L1722.3 916.2 L1726.2 916.3 L1730.1 916.5 L1734.1 916.6 L1738 916.7 L1741.9 916.8 L1745.8 917 L1749.8 917.1 L1753.7 917.2 L1757.6 917.4 L1761.5 917.5 L1765.4 917.6 L1769.4 917.8 L1773.3 917.9 L1777.2 918 L1781.1 918.2 L1785 918.3 L1789 918.4 L1792.9 918.5 L1796.8 918.7 L1800.7 918.8 L1804.7 918.9 L1808.6 919.1 L1812.5 919.2 L1816.4 919.3 L1820.3 919.5 L1824.3 919.6 L1828.2 919.7 L1832.1 919.9 L1836 920 L1840 920.1 L1843.9 920.2 L1847.8 920.3" fill="none" stroke="#ff0000" stroke-width="3.2"/>
<path d="M1220.3 923.5 L1224.2 923.5 L1228.1 923.5 L1232.1 923.5 L1236 923.5 L1239.9 923.5 L1243.8 923.5 L1247.8 923.5 L1251.7 923.5 L1255.6 923.5 L1259.5 923.5 L1263.4 923.5 L1267.4 923.5 L1271.3 923.5 L1275.2 923.5 L1279.1 923.5 L1283 923.5 L1287 923.5 L1290.9 923.5 L1294.8 923.5 L1298.7 923.5 L1302.7 923.5 L1306.6 923.5 L1310.5 923.5 L1314.4 923.5 L1318.3 923.5 L1322.3 923.5 L1326.2 923.5 L1330.1 923.5 L1334 923.5 L1338 923.5 L1341.9 923.5 L1345.8 923.5 L1349.7 923.5 L1353.6 923.5 L1357.6 923.5 L1361.5 923.5 L1365.4 923.5 L1369.3 923.5 L1373.3 923.5 L1377.2 923.5 L1381.1 923.5 L1385 923.5 L1388.9 923.5 L1392.9 923.5 L1396.8 923.5 L1400.7 923.5 L1404.6 923.5 L1408.5 923.5 L1412.5 923.5 L1416.4 923.5 L1420.3 923.5 L1424.2 923.5 L1428.2 923.5 L1432.1 923.5 L1436 923.5 L1439.9 923.5 L1443.8 923.5 L1447.8 923.5 L1451.7 923.5 L1455.6 923.5 L1459.5 923.5 L1463.5 923.5 L1467.4 923.5 L1471.3 923.5 L1475.2 923.5 L1479.1 923.5 L1483.1 923.5 L1487 923.5 L1490.9 923.5 L1494.8 923.5 L1498.8 923.5 L1502.7 923.5 L1506.6 923.5 L1510.5 923.5 L1514.4 923.5 L1518.4 923.5 L1522.3 923.5 L1526.2 923.5 L1530.1 923.5 L1534 923.5 L1538 923.5 L1541.9 923.5 L1545.8 923.5 L1549.7 923.5 L1553.7 923.5 L1557.6 923.5 L1561.5 923.5 L1565.4 923.5 L1569.3 923.5 L1573.3 923.5 L1577.2 923.5 L1581.1 923.5 L1585 923.5 L1589 923.5 L1592.9 923.5 L1596.8 923.5 L1600.7 923.5 L1604.6 923.5 L1608.6 923.5 L1612.5 923.5 L1616.4 923.5 L1620.3 923.5 L1624.3 923.5 L1628.2 923.5 L1632.1 923.5 L1636 923.5 L1639.9 923.5 L1643.9 923.5 L1647.8 923.5 L1651.7 923.5 L1655.6 923.5 L1659.5 923.5 L1663.5 923.5 L1667.4 923.5 L1671.3 923.5 L1675.2 923.5 L1679.2 923.5 L1683.1 923.5 L1687 923.5 L1690.9 923.5 L1694.8 923.5 L1698.8 923.5 L1702.7 923.5 L1706.6 923.5 L1710.5 923.5 L1714.5 923.5 L1718.4 923.5 L1722.3 923.5 L1726.2 923.5 L1730.1 923.5 L1734.1 923.5 L1738 923.5 L1741.9 923.5 L1745.8 923.5 L1749.8 923.5 L1753.7 923.5 L1757.6 923.5 L1761.5 923.5 L1765.4 923.5 L1769.4 923.5 L1773.3 923.5 L1777.2 923.5 L1781.1 923.5 L1785 923.5 L1789 923.5 L1792.9 923.5 L1796.8 923.5 L1800.7 923.5 L1804.7 923.5 L1808.6 923.5 L1812.5 923.5 L1816.4 923.5 L1820.3 923.5 L1824.3 923.5 L1828.2 923.5 L1832.1 923.5 L1836 923.5 L1840 923.5 L1843.9 923.5 L1847.8 923.5" fill="none" stroke="#8b0000" stroke-width="3.2"/>
</g>
<rect x="1220.3" y="552.9" width="627.5" height="405.1" fill="none" stroke="#e02424" stroke-width="2"/>
<line x1="1220.3" y1="958" x2="1220.3" y2="962" stroke="#333" stroke-width="1"/>
<text x="1220.3" y="985.8" font-family="'Liberation Sans', Arial, Helvetica, sans-serif" font-size="27.8" font-weight="normal" text-anchor="middle" fill="#000" >1600</text>
<line x1="1345.8" y1="958" x2="1345.8" y2="962" stroke="#333" stroke-width="1"/>
<text x="1345.8" y="985.8" font-family="'Liberation Sans', Arial, Helvetica, sans-serif" font-size="27.8" font-weight="normal" text-anchor="middle" fill="#000" >1620</text>
<line x1="1471.3" y1="958" x2="1471.3" y2="962" stroke="#333" stroke-width="1"/>
<text x="1471.3" y="985.8" font-family="'Liberation Sans', Arial, Helvetica, sans-serif" font-size="27.8" font-weight="normal" text-anchor="middle" fill="#000" >1640</text>
<line x1="1596.8" y1="958" x2="1596.8" y2="962" stroke="#333" stroke-width="1"/>
<text x="1596.8" y="985.8" font-family="'Liberation Sans', Arial, Helvetica, sans-serif" font-size="27.8" font-weight="normal" text-anchor="middle" fill="#000" >1660</text>
<line x1="1722.3" y1="958" x2="1722.3" y2="962" stroke="#333" stroke-width="1"/>
<text x="1722.3" y="985.8" font-family="'Liberation Sans', Arial, Helvetica, sans-serif" font-size="27.8" font-weight="normal" text-anchor="middle" fill="#000" >1680</text>
<line x1="1847.8" y1="958" x2="1847.8" y2="962" stroke="#333" stroke-width="1"/>
<text x="1847.8" y="985.8" font-family="'Liberation Sans', Arial, Helvetica, sans-serif" font-size="27.8" font-weight="normal" text-anchor="middle" fill="#000" >1700</text>
<line x1="1216.3" y1="924.7" x2="1220.3" y2="924.7" stroke="#333" stroke-width="1"/>
<text x="1213.2" y="935.9" font-family="'Liberation Sans', Arial, Helvetica, sans-serif" font-size="27.8" font-weight="normal" text-anchor="end" fill="#000" >0.0</text>
<line x1="1216.3" y1="855.4" x2="1220.3" y2="855.4" stroke="#333" stroke-width="1"/>
<text x="1213.2" y="866.6" font-family="'Liberation Sans', Arial, Helvetica, sans-serif" font-size="27.8" font-weight="normal" text-anchor="end" fill="#000" >0.2</text>
<line x1="1216.3" y1="786.1" x2="1220.3" y2="786.1" stroke="#333" stroke-width="1"/>
<text x="1213.2" y="797.3" font-family="'Liberation Sans', Arial, Helvetica, sans-serif" font-size="27.8" font-weight="normal" text-anchor="end" fill="#000" >0.4</text>
<line x1="1216.3" y1="716.7" x2="1220.3" y2="716.7" stroke="#333" stroke-width="1"/>
<text x="1213.2" y="727.9" font-family="'Liberation Sans', Arial, Helvetica, sans-serif" font-size="27.8" font-weight="normal" text-anchor="end" fill="#000" >0.6</text>
<line x1="1216.3" y1="647.4" x2="1220.3" y2="647.4" stroke="#333" stroke-width="1"/>
<text x="1213.2" y="658.6" font-family="'Liberation Sans', Arial, Helvetica, sans-serif" font-size="27.8" font-weight="normal" text-anchor="end" fill="#000" >0.8</text>
<line x1="1216.3" y1="578.1" x2="1220.3" y2="578.1" stroke="#333" stroke-width="1"/>
<text x="1213.2" y="589.3" font-family="'Liberation Sans', Arial, Helvetica, sans-serif" font-size="27.8" font-weight="normal" text-anchor="end" fill="#000" >1.0</text>
<text x="1164" y="756" font-family="'Liberation Sans', Arial, Helvetica, sans-serif" font-size="27.9" font-weight="normal" text-anchor="middle" fill="#000" transform="rotate(-90 1164 756)">Norm. VSFG intensity [arb. units]</text>
<text y="1020.6" font-size="27.9" font-family="'Liberation Sans', Arial, Helvetica, sans-serif"><tspan x="1402.2">IR frequency</tspan><tspan x="1568.7" font-family="'DejaVu Sans', sans-serif">[cm</tspan><tspan dy="-11.2" font-size="18.8" font-family="'DejaVu Sans', sans-serif">−1</tspan><tspan dy="11.2" x="1652.7" font-family="'DejaVu Sans', sans-serif">]</tspan></text>
<rect x="1675.8" y="565.8" width="157.2" height="167.7" rx="4" fill="#ffffff" fill-opacity="0.3" stroke="#d6d6d6" stroke-width="1"/>
<line x1="1685.3" y1="587.3" x2="1743.3" y2="587.3" stroke="#ffa500" stroke-width="2.8"/>
<text x="1765.6" y="597.3" font-family="'Liberation Sans', Arial, Helvetica, sans-serif" font-size="28.4" font-weight="normal" text-anchor="start" fill="#000" >SSP</text>
<line x1="1685.3" y1="627.6" x2="1743.3" y2="627.6" stroke="#ff7f50" stroke-width="2.8"/>
<text x="1765.6" y="637.6" font-family="'Liberation Sans', Arial, Helvetica, sans-serif" font-size="28.4" font-weight="normal" text-anchor="start" fill="#000" >PPP</text>
<line x1="1685.3" y1="666.9" x2="1743.3" y2="666.9" stroke="#ff0000" stroke-width="2.8"/>
<text x="1765.6" y="676.9" font-family="'Liberation Sans', Arial, Helvetica, sans-serif" font-size="28.4" font-weight="normal" text-anchor="start" fill="#000" >SPS</text>
<line x1="1685.3" y1="706.5" x2="1743.3" y2="706.5" stroke="#8b0000" stroke-width="2.8"/>
<text x="1765.6" y="716.5" font-family="'Liberation Sans', Arial, Helvetica, sans-serif" font-size="28.4" font-weight="normal" text-anchor="start" fill="#000" >PSP</text>
<text x="1628.8" y="536.1" font-family="'Liberation Sans', Arial, Helvetica, sans-serif" font-size="29.3" font-weight="normal" text-anchor="middle" fill="#5a4446" >(E) Average VSFG spectra</text>
<path d="M234.7 966.5 L861.8 966.5 L954.5 1137 L60 1137 Z" fill="url(#gL2)" stroke="#a8a8b4" stroke-opacity="0.5" stroke-width="0.8"/>
<path d="M1220.3 958 L1847.8 958 L1964.5 1127 L1070 1127 Z" fill="url(#gR2)" stroke="#a8a8b4" stroke-opacity="0.5" stroke-width="0.8"/>
<text x="502.4" y="1117.9" font-family="'Liberation Sans', Arial, Helvetica, sans-serif" font-size="29.3" font-weight="normal" text-anchor="middle" fill="#000" >(C) Determination of best-matching ensemble</text>
<text x="1514.2" y="1107.9" font-family="'Liberation Sans', Arial, Helvetica, sans-serif" font-size="29.3" font-weight="normal" text-anchor="middle" fill="#000" >(F) Determination of best-matching ensemble</text>
<defs><style>.m{fill:none;stroke-linecap:round}.m .c{stroke:#6a6a6a;stroke-width:25.8}.m .C{stroke:#e5d2b5;stroke-width:25}.m .h{stroke:#6a6a6a;stroke-width:13.2}.m .H{stroke:currentColor;stroke-width:12.5}.m .r{stroke:#666;stroke-width:23.9}.m .R{stroke:#ea6b6b;stroke-width:23}.m .O{stroke:#f0a152;stroke-width:17}.m .b{stroke:#666;stroke-width:22.9}.m .B{stroke:#e5d2b5;stroke-width:22}.m .w{stroke:#777;stroke-width:20.9}.m .W{stroke:currentColor;stroke-width:20}</style><linearGradient id="mbg" gradientUnits="userSpaceOnUse" x1="0" y1="1255" x2="0" y2="1300"><stop offset="0" stop-color="#e5d2b5"/><stop offset="1" stop-color="#e98a84"/></linearGradient><path id="c0" d="M542 1144h0M549 1158h0M556 1172h0M562 1187h0M564 1200h0M563 1212h0M562 1226h0M564 1241h0M568 1253h0M575 1266h0"/><path id="h0" d="M548 1142h0M534 1141h0M556 1161h0M563 1170h0M556 1186h0M570 1201h0M555 1209h0M569 1225h0M556 1228h0M558 1239h0M570 1240h0M576 1252h0M567 1264h0M581 1264h0"/><path id="c1" d="M59 1148h0M61 1163h0M65 1176h0M69 1190h0M71 1204h0M72 1218h0M71 1231h0M70 1243h0"/><path id="h1" d="M65 1150h0M55 1165h0M70 1174h0M62 1187h0M76 1201h0M77 1234h0M63 1242h0M75 1242h0"/><path id="c2" d="M720 1144h0M722 1157h0M726 1170h0M732 1182h0M740 1197h0M746 1210h0M749 1224h0M751 1238h0M752 1251h0M753 1264h0"/><path id="h2" d="M727 1147h0M714 1157h0M732 1170h0M721 1168h0M747 1196h0M752 1211h0M757 1223h0M744 1223h0M743 1241h0M760 1250h0M746 1249h0M748 1263h0"/><path id="c3" d="M628 1145h0M628 1159h0M630 1173h0M634 1188h0M640 1201h0M646 1216h0M650 1228h0M653 1242h0M653 1255h0M654 1269h0"/><path id="h3" d="M633 1147h0M621 1144h0M638 1175h0M628 1188h0M633 1198h0M654 1216h0M658 1227h0M647 1244h0M658 1242h0M659 1257h0M648 1271h0M659 1269h0"/><path id="c4" d="M175 1147h0M177 1160h0M177 1173h0M178 1187h0M177 1201h0M178 1214h0M179 1227h0M181 1240h0M183 1254h0M185 1267h0M185 1280h0"/><path id="h4" d="M182 1144h0M168 1149h0M170 1159h0M184 1161h0M185 1172h0M172 1187h0M185 1189h0M185 1203h0M170 1211h0M185 1215h0M186 1226h0M173 1227h0M174 1239h0M191 1253h0M179 1267h0M191 1279h0"/><path id="c5" d="M320 1145h0M323 1159h0M324 1172h0M325 1185h0M326 1197h0M327 1211h0M329 1224h0M333 1238h0M336 1251h0M338 1264h0M340 1279h0"/><path id="h5" d="M327 1147h0M316 1159h0M331 1173h0M318 1169h0M318 1186h0M333 1197h0M320 1214h0M332 1209h0M337 1222h0M327 1237h0M339 1238h0M343 1254h0M344 1262h0M346 1278h0M334 1280h0"/><path id="c6" d="M52 1154h0M45 1167h0M44 1180h0M45 1193h0M46 1207h0M44 1221h0M40 1236h0"/><path id="h6" d="M58 1156h0M38 1168h0M51 1178h0M40 1195h0M53 1192h0M53 1205h0M39 1209h0M51 1219h0M47 1239h0"/><path id="c7" d="M703 1148h0M703 1161h0M701 1174h0M698 1187h0M694 1200h0M691 1214h0M689 1227h0M688 1242h0M687 1256h0M687 1268h0M685 1282h0"/><path id="h7" d="M711 1149h0M707 1175h0M693 1187h0M703 1185h0M702 1201h0M684 1215h0M694 1230h0M681 1244h0M694 1257h0M681 1269h0M693 1270h0M693 1280h0"/><path id="c8" d="M773 1145h0M768 1159h0M760 1174h0M752 1189h0M747 1201h0M745 1214h0M744 1228h0M743 1241h0M740 1254h0"/><path id="h8" d="M778 1143h0M768 1147h0M761 1157h0M767 1172h0M753 1172h0M747 1186h0M752 1204h0M737 1214h0M753 1214h0M750 1230h0M736 1244h0"/><path id="c9" d="M86 1149h0M90 1164h0M93 1178h0M96 1192h0M97 1206h0M97 1218h0M97 1231h0M99 1246h0M103 1260h0"/><path id="h9" d="M91 1148h0M84 1162h0M100 1177h0M91 1192h0M104 1206h0M91 1218h0M103 1220h0M104 1230h0M91 1231h0M93 1249h0M108 1263h0"/><path id="c10" d="M430 1143h0M431 1158h0M435 1172h0M441 1187h0M445 1200h0M446 1213h0M443 1225h0M439 1239h0M437 1253h0M439 1266h0"/><path id="h10" d="M436 1142h0M424 1159h0M443 1171h0M435 1186h0M439 1197h0M440 1215h0M448 1225h0M437 1225h0M434 1239h0M433 1266h0M445 1269h0"/><path id="c11" d="M262 1144h0M258 1157h0M256 1170h0M257 1182h0M257 1196h0M256 1209h0M253 1222h0M248 1234h0M242 1249h0M238 1263h0"/><path id="h11" d="M251 1157h0M264 1159h0M264 1168h0M249 1167h0M250 1185h0M262 1183h0M263 1196h0M252 1194h0M249 1209h0M259 1222h0M246 1223h0M243 1236h0M253 1236h0M249 1250h0M235 1249h0M230 1261h0M243 1263h0"/><path id="c12" d="M906 1144h0M904 1158h0M899 1172h0M892 1184h0M884 1197h0M878 1210h0M875 1225h0M875 1238h0M875 1250h0M873 1262h0M868 1276h0"/><path id="h12" d="M914 1145h0M896 1159h0M907 1173h0M892 1175h0M886 1184h0M890 1196h0M872 1208h0M880 1224h0M869 1239h0M880 1236h0M883 1252h0M866 1261h0M873 1276h0M862 1273h0"/><path id="c13" d="M334 1146h0M337 1159h0M337 1173h0M338 1188h0M341 1203h0M348 1217h0M356 1230h0M364 1243h0M370 1257h0"/><path id="h13" d="M342 1145h0M328 1146h0M331 1160h0M344 1161h0M345 1175h0M331 1171h0M332 1188h0M344 1191h0M346 1206h0M333 1205h0M341 1219h0M359 1240h0M365 1254h0"/><path id="c14" d="M619 1144h0M625 1157h0M631 1169h0M637 1183h0M642 1198h0M645 1213h0M646 1225h0M647 1239h0M651 1251h0M656 1263h0M662 1277h0M668 1290h0"/><path id="h14" d="M625 1143h0M638 1170h0M632 1184h0M645 1185h0M649 1195h0M640 1212h0M640 1236h0M658 1253h0M650 1262h0M669 1278h0M663 1288h0"/><path id="c15" d="M528 1144h0M530 1159h0M533 1171h0M538 1184h0M544 1198h0M551 1211h0M556 1223h0M559 1236h0M561 1248h0M563 1263h0"/><path id="h15" d="M524 1158h0M538 1169h0M527 1170h0M530 1183h0M545 1181h0M549 1200h0M543 1212h0M553 1238h0M564 1238h0M566 1246h0M555 1249h0M558 1265h0"/><path id="c16" d="M145 1148h0M145 1162h0M144 1176h0M143 1190h0M144 1205h0M146 1219h0M149 1233h0M151 1246h0M152 1261h0"/><path id="h16" d="M152 1147h0M137 1164h0M149 1176h0M136 1189h0M149 1192h0M150 1205h0M140 1222h0M155 1235h0M143 1243h0M158 1260h0M146 1260h0"/><path id="c17" d="M102 1148h0M105 1161h0M109 1176h0M111 1189h0M110 1203h0M107 1216h0M104 1231h0M103 1243h0M106 1258h0M110 1270h0"/><path id="h17" d="M107 1146h0M99 1163h0M115 1178h0M104 1186h0M118 1205h0M104 1203h0M114 1218h0M112 1230h0M97 1243h0M109 1243h0M104 1269h0"/><path id="c18" d="M336 1144h0M336 1157h0M336 1170h0M334 1182h0M329 1194h0M322 1207h0M315 1221h0M310 1235h0M308 1247h0M308 1262h0M307 1276h0M304 1288h0"/><path id="h18" d="M343 1144h0M329 1143h0M331 1156h0M344 1154h0M342 1169h0M342 1181h0M334 1196h0M315 1209h0M322 1219h0M303 1237h0M314 1245h0M300 1262h0M313 1264h0M298 1289h0M311 1289h0"/><path id="c19" d="M307 1144h0M310 1157h0M316 1171h0M320 1184h0M322 1196h0M321 1208h0M320 1223h0M319 1236h0M321 1250h0M325 1263h0M330 1276h0M334 1289h0"/><path id="h19" d="M314 1146h0M300 1141h0M303 1154h0M321 1171h0M314 1186h0M329 1198h0M315 1205h0M327 1206h0M327 1222h0M313 1223h0M314 1239h0M327 1234h0M328 1249h0M331 1265h0M336 1277h0M327 1291h0"/><path id="c20" d="M591 1147h0M592 1160h0M595 1174h0M599 1186h0M606 1201h0M612 1214h0M616 1226h0M618 1238h0M619 1251h0M620 1264h0"/><path id="h20" d="M597 1148h0M584 1149h0M587 1161h0M599 1158h0M603 1176h0M593 1188h0M612 1201h0M599 1200h0M606 1215h0M617 1217h0M626 1249h0M613 1253h0M615 1266h0M628 1261h0"/><path id="c21" d="M111 1147h0M108 1160h0M106 1175h0M104 1188h0M100 1202h0M93 1217h0M85 1231h0M79 1244h0M74 1258h0M71 1272h0"/><path id="h21" d="M118 1148h0M101 1157h0M101 1177h0M98 1189h0M110 1189h0M107 1202h0M93 1201h0M86 1215h0M78 1234h0M72 1245h0M80 1259h0M65 1272h0"/><path id="c22" d="M249 1144h0M247 1158h0M245 1171h0M242 1186h0M241 1198h0M242 1211h0M243 1225h0M243 1239h0M242 1253h0M240 1268h0"/><path id="h22" d="M254 1143h0M241 1155h0M254 1160h0M236 1184h0M247 1198h0M236 1197h0M236 1211h0M247 1211h0M250 1227h0M237 1224h0M236 1236h0M249 1240h0M250 1251h0M236 1254h0M235 1268h0M248 1267h0"/><path id="c23" d="M378 1147h0M376 1160h0M377 1172h0M379 1185h0M380 1198h0M378 1211h0M373 1225h0M368 1238h0M365 1253h0M363 1267h0"/><path id="h23" d="M384 1149h0M370 1162h0M384 1157h0M385 1173h0M371 1174h0M373 1186h0M385 1196h0M373 1199h0M379 1227h0M368 1223h0M363 1238h0M370 1250h0M356 1265h0M368 1266h0"/><path id="c24" d="M288 1148h0M287 1160h0M285 1173h0M280 1186h0M273 1199h0M266 1212h0M259 1224h0M255 1237h0M252 1251h0M251 1266h0M248 1280h0"/><path id="h24" d="M295 1147h0M281 1163h0M293 1162h0M291 1171h0M277 1175h0M273 1188h0M286 1189h0M280 1201h0M266 1201h0M261 1214h0M273 1214h0M254 1224h0M250 1237h0M258 1252h0M244 1265h0M254 1278h0"/><path id="c25" d="M552 1143h0M552 1157h0M551 1170h0M549 1184h0M548 1198h0M549 1213h0M552 1226h0M554 1240h0M556 1254h0"/><path id="h25" d="M558 1141h0M546 1158h0M560 1159h0M558 1169h0M543 1184h0M556 1187h0M555 1199h0M541 1200h0M557 1213h0M545 1227h0M564 1254h0M550 1254h0"/><path id="c26" d="M200 1146h0M197 1159h0M191 1173h0M186 1188h0M184 1201h0M186 1214h0M189 1229h0M192 1241h0M192 1254h0M188 1267h0M182 1281h0"/><path id="h26" d="M208 1146h0M195 1148h0M192 1156h0M203 1162h0M198 1171h0M179 1187h0M193 1185h0M190 1202h0M177 1199h0M181 1215h0M193 1214h0M194 1228h0M187 1243h0M197 1242h0M199 1255h0M181 1266h0M188 1281h0M176 1280h0"/><path id="c27" d="M230 1146h0M233 1158h0M234 1172h0M234 1184h0M236 1197h0M240 1210h0M248 1225h0M256 1238h0M263 1252h0M266 1265h0"/><path id="h27" d="M236 1148h0M224 1145h0M227 1160h0M239 1174h0M227 1173h0M228 1183h0M241 1199h0M232 1210h0M254 1224h0M251 1240h0M259 1266h0"/><path id="c28" d="M703 1143h0M706 1156h0M708 1170h0M708 1184h0M708 1196h0M710 1210h0M714 1222h0M719 1235h0M725 1249h0M728 1263h0M730 1277h0"/><path id="h28" d="M709 1141h0M696 1140h0M700 1154h0M711 1154h0M715 1167h0M701 1185h0M714 1199h0M703 1212h0M720 1220h0M707 1219h0M712 1234h0M727 1236h0M732 1247h0M717 1248h0M722 1261h0M736 1277h0M724 1275h0"/><path id="c29" d="M248 1146h0M250 1159h0M250 1174h0M251 1186h0M254 1200h0M259 1215h0M265 1227h0M271 1241h0M275 1254h0M276 1268h0M276 1281h0"/><path id="h29" d="M254 1145h0M241 1146h0M243 1157h0M257 1176h0M245 1185h0M258 1188h0M260 1199h0M253 1212h0M264 1218h0M273 1229h0M264 1239h0M277 1242h0M283 1252h0M267 1256h0M270 1269h0M283 1269h0M271 1283h0"/><path id="c30" d="M392 1144h0M395 1156h0M397 1170h0M399 1183h0M401 1197h0M406 1212h0M411 1225h0M417 1239h0M421 1251h0M425 1266h0M426 1278h0"/><path id="h30" d="M397 1143h0M384 1142h0M388 1159h0M404 1171h0M390 1172h0M393 1182h0M405 1183h0M407 1196h0M395 1199h0M399 1210h0M414 1211h0M417 1227h0M428 1248h0M413 1252h0M419 1265h0M430 1267h0M433 1276h0M419 1280h0"/><path id="c31" d="M944 1147h0M940 1160h0M935 1174h0M930 1188h0M926 1202h0M925 1215h0M925 1227h0M925 1242h0"/><path id="h31" d="M937 1148h0M935 1157h0M941 1177h0M929 1176h0M923 1190h0M920 1202h0M920 1216h0M931 1218h0M932 1225h0M919 1225h0M918 1242h0M931 1244h0"/><path id="c32" d="M141 1147h0M144 1161h0M145 1175h0M145 1187h0M146 1200h0M149 1214h0M153 1228h0M158 1242h0M162 1255h0M164 1268h0"/><path id="h32" d="M146 1146h0M135 1149h0M136 1162h0M151 1177h0M151 1189h0M153 1202h0M140 1201h0M141 1217h0M154 1214h0M158 1228h0M147 1225h0M152 1244h0M168 1252h0M155 1257h0M156 1269h0M172 1265h0"/><path id="c33" d="M50 1159h0M43 1172h0M40 1186h0M40 1200h0M40 1214h0M40 1228h0"/><path id="h33" d="M56 1160h0M37 1174h0M32 1183h0M33 1201h0M48 1203h0M48 1212h0M33 1231h0M46 1227h0"/><path id="c34" d="M798 1144h0M798 1159h0M799 1172h0M802 1187h0M807 1200h0M810 1212h0M813 1227h0M813 1241h0M813 1256h0M813 1271h0M815 1285h0"/><path id="h34" d="M804 1143h0M792 1161h0M805 1162h0M806 1175h0M797 1184h0M810 1184h0M813 1201h0M801 1202h0M808 1242h0M819 1257h0M807 1270h0M819 1272h0M821 1283h0"/><path id="c35" d="M927 1146h0M928 1159h0M932 1174h0M935 1189h0M936 1202h0M933 1215h0M929 1229h0M926 1243h0M925 1258h0"/><path id="h35" d="M933 1143h0M920 1146h0M921 1156h0M934 1159h0M938 1176h0M943 1200h0M928 1202h0M928 1213h0M940 1215h0M935 1228h0M918 1242h0"/><path id="c36" d="M660 1145h0M656 1159h0M653 1172h0M653 1185h0M654 1198h0M655 1212h0M654 1224h0M651 1236h0M646 1251h0M641 1265h0M639 1277h0M639 1291h0"/><path id="h36" d="M666 1143h0M650 1159h0M660 1173h0M645 1170h0M648 1187h0M661 1197h0M648 1212h0M662 1226h0M649 1222h0M645 1234h0M657 1238h0M638 1249h0M636 1266h0M645 1277h0M632 1279h0M634 1291h0M647 1291h0"/><path id="c37" d="M559 1144h0M561 1156h0M561 1170h0M560 1182h0M560 1194h0M562 1209h0M567 1222h0M572 1236h0M575 1249h0M577 1263h0M577 1276h0"/><path id="h37" d="M565 1145h0M554 1143h0M568 1155h0M569 1169h0M556 1171h0M554 1181h0M566 1181h0M568 1197h0M557 1208h0M574 1222h0M561 1221h0M566 1234h0M583 1250h0M571 1260h0M584 1274h0M571 1277h0"/><path id="c38" d="M353 1144h0M352 1158h0M353 1170h0M356 1184h0M358 1196h0M359 1209h0M357 1221h0M355 1233h0M352 1247h0M352 1261h0M353 1275h0"/><path id="h38" d="M358 1142h0M347 1144h0M346 1157h0M361 1171h0M348 1181h0M364 1199h0M353 1206h0M364 1211h0M363 1222h0M347 1235h0M357 1246h0M347 1261h0M361 1278h0"/><path id="c39" d="M656 1145h0M651 1160h0M649 1172h0M648 1187h0M647 1202h0M646 1214h0M642 1228h0M636 1243h0M630 1257h0"/><path id="h39" d="M661 1145h0M650 1142h0M655 1171h0M640 1187h0M656 1187h0M640 1202h0M639 1212h0M652 1211h0M648 1229h0M629 1241h0"/><path id="c40" d="M527 1144h0M528 1157h0M529 1171h0M531 1185h0M534 1197h0M540 1212h0M545 1224h0M549 1238h0M552 1253h0M553 1266h0M554 1279h0"/><path id="h40" d="M535 1145h0M523 1157h0M535 1170h0M525 1187h0M540 1199h0M532 1214h0M545 1214h0M550 1226h0M544 1236h0M556 1236h0M559 1254h0M548 1266h0M560 1266h0M561 1277h0"/><path id="c41" d="M589 1145h0M585 1159h0M581 1171h0M574 1185h0M568 1197h0M562 1210h0M558 1223h0M556 1235h0M554 1248h0M551 1262h0M546 1275h0M538 1289h0"/><path id="h41" d="M580 1157h0M591 1158h0M588 1173h0M573 1172h0M568 1184h0M575 1196h0M560 1198h0M555 1213h0M568 1210h0M551 1225h0M548 1234h0M560 1249h0M544 1260h0M556 1259h0M540 1275h0M533 1291h0"/><path id="c42" d="M268 1144h0M266 1156h0M264 1171h0M261 1184h0M255 1199h0M248 1213h0M242 1226h0M237 1239h0M234 1253h0M232 1266h0M230 1280h0"/><path id="h42" d="M274 1142h0M262 1146h0M273 1156h0M269 1171h0M255 1184h0M263 1201h0M250 1201h0M241 1213h0M250 1223h0M237 1226h0M230 1240h0M239 1251h0M225 1266h0M238 1264h0M235 1278h0M223 1279h0"/><path id="c43" d="M575 1144h0M575 1156h0M575 1170h0M574 1183h0M574 1196h0M576 1210h0M578 1224h0M580 1237h0M581 1250h0M581 1263h0"/><path id="h43" d="M582 1145h0M568 1143h0M568 1159h0M581 1169h0M569 1186h0M582 1184h0M580 1195h0M569 1208h0M584 1225h0M573 1238h0M586 1253h0M575 1265h0"/><path id="c44" d="M831 1148h0M831 1162h0M830 1175h0M829 1189h0M831 1203h0M835 1217h0M842 1231h0M848 1244h0M850 1256h0M851 1271h0M849 1285h0"/><path id="h44" d="M825 1163h0M838 1159h0M835 1172h0M824 1172h0M824 1187h0M836 1202h0M825 1206h0M829 1220h0M848 1231h0M836 1233h0M840 1245h0M856 1254h0M845 1253h0M856 1284h0"/><path id="c45" d="M797 1144h0M801 1156h0M804 1171h0M806 1184h0M808 1198h0M810 1211h0M813 1226h0M817 1240h0M821 1254h0M825 1268h0M828 1281h0"/><path id="h45" d="M802 1141h0M795 1154h0M808 1154h0M811 1174h0M800 1185h0M814 1200h0M802 1200h0M802 1214h0M815 1210h0M820 1229h0M807 1227h0M810 1239h0M824 1240h0M827 1255h0M815 1256h0M818 1268h0M832 1266h0M833 1279h0"/><path id="c46" d="M645 1145h0M648 1157h0M653 1169h0M661 1184h0M667 1197h0M671 1210h0M673 1224h0M674 1237h0M676 1250h0M680 1262h0M686 1275h0"/><path id="h46" d="M651 1145h0M638 1144h0M642 1155h0M659 1167h0M647 1171h0M654 1181h0M668 1182h0M660 1195h0M665 1211h0M677 1213h0M669 1234h0M682 1247h0M669 1251h0M673 1262h0M685 1264h0M691 1275h0"/><path id="c47" d="M729 1144h0M731 1157h0M733 1170h0M735 1184h0M738 1197h0M743 1211h0M749 1224h0M755 1238h0M759 1252h0M762 1264h0"/><path id="h47" d="M724 1147h0M739 1172h0M726 1167h0M728 1186h0M742 1183h0M745 1199h0M750 1209h0M755 1222h0M749 1239h0M765 1249h0M752 1249h0M756 1262h0M767 1264h0"/><path id="c48" d="M467 1145h0M466 1159h0M462 1172h0M457 1186h0M452 1200h0M449 1214h0M449 1226h0M449 1240h0M450 1253h0M449 1266h0M445 1278h0"/><path id="h48" d="M473 1145h0M461 1145h0M460 1156h0M472 1159h0M470 1174h0M458 1203h0M442 1214h0M455 1253h0M442 1256h0M443 1267h0M451 1278h0M439 1277h0"/><path id="c49" d="M926 1146h0M921 1160h0M915 1173h0M912 1186h0M911 1201h0M912 1214h0M914 1228h0M913 1242h0M910 1255h0"/><path id="h49" d="M932 1145h0M920 1149h0M914 1157h0M922 1171h0M906 1187h0M918 1198h0M906 1216h0M918 1217h0M920 1228h0M909 1225h0M906 1242h0M915 1256h0"/><path id="c50" d="M501 1146h0M503 1161h0M506 1174h0M511 1189h0M516 1201h0M520 1214h0M522 1227h0M522 1240h0M522 1253h0M523 1265h0M527 1278h0"/><path id="h50" d="M507 1144h0M496 1159h0M513 1175h0M518 1190h0M523 1202h0M510 1204h0M514 1212h0M526 1211h0M529 1227h0M515 1240h0M530 1242h0M529 1254h0M516 1250h0M518 1263h0"/><path id="c51" d="M135 1144h0M134 1157h0M131 1171h0M126 1184h0M123 1198h0M124 1213h0M127 1227h0M132 1241h0M134 1256h0M133 1270h0"/><path id="h51" d="M143 1144h0M128 1157h0M138 1171h0M118 1182h0M131 1199h0M116 1200h0M116 1214h0M134 1227h0M124 1243h0M141 1253h0M140 1269h0"/><path id="c52" d="M201 1146h0M198 1160h0M197 1173h0M195 1186h0M192 1199h0M189 1212h0M185 1225h0M181 1237h0M178 1251h0M175 1266h0"/><path id="h52" d="M206 1144h0M193 1159h0M202 1172h0M187 1187h0M202 1183h0M200 1201h0M181 1211h0M192 1222h0M174 1240h0M187 1236h0M183 1250h0M172 1253h0M182 1268h0"/><path id="c53" d="M572 1144h0M571 1156h0M573 1171h0M577 1184h0M580 1197h0M581 1211h0M578 1225h0M573 1238h0M569 1253h0M568 1265h0"/><path id="h53" d="M579 1141h0M564 1142h0M564 1157h0M581 1169h0M566 1173h0M569 1183h0M582 1181h0M586 1197h0M575 1211h0M566 1238h0M577 1255h0M562 1255h0M561 1266h0M573 1268h0"/><path id="c54" d="M159 1148h0M159 1160h0M159 1173h0M160 1188h0M160 1202h0M159 1214h0M158 1226h0M156 1239h0M155 1253h0M155 1266h0"/><path id="h54" d="M166 1150h0M153 1149h0M152 1159h0M166 1157h0M165 1174h0M154 1187h0M166 1188h0M166 1204h0M152 1214h0M166 1216h0M150 1240h0M163 1242h0M160 1255h0M149 1254h0M150 1268h0M160 1269h0"/><path id="c55" d="M963 1181h0M963 1195h0"/><path id="h55" d="M970 1179h0M957 1193h0M970 1192h0"/><path id="c56" d="M888 1146h0M886 1160h0M883 1172h0M883 1185h0M886 1200h0M892 1214h0M897 1228h0M900 1241h0M899 1256h0M897 1270h0"/><path id="h56" d="M893 1143h0M881 1144h0M879 1158h0M894 1161h0M889 1171h0M890 1184h0M892 1199h0M879 1202h0M885 1214h0M903 1230h0M894 1239h0M906 1257h0M894 1254h0M890 1270h0M902 1268h0"/><path id="c57" d="M154 1145h0M153 1159h0M155 1172h0M159 1185h0M164 1198h0M168 1212h0M169 1225h0M168 1238h0M167 1250h0M166 1264h0"/><path id="h57" d="M161 1143h0M146 1143h0M146 1158h0M161 1170h0M171 1200h0M156 1199h0M162 1209h0M176 1213h0M162 1236h0M172 1251h0M159 1251h0M160 1266h0M171 1263h0"/><path id="c58" d="M240 1144h0M237 1158h0M235 1173h0M232 1186h0M226 1198h0M219 1210h0M212 1225h0M206 1239h0M203 1252h0M201 1266h0M199 1280h0"/><path id="h58" d="M245 1141h0M232 1161h0M242 1171h0M229 1172h0M239 1183h0M233 1197h0M219 1199h0M214 1210h0M224 1209h0M218 1226h0M199 1237h0M209 1255h0M195 1254h0M194 1264h0M206 1267h0M206 1277h0"/><path id="c59" d="M658 1145h0M658 1159h0M656 1171h0M650 1184h0M643 1198h0M637 1212h0M636 1227h0M637 1239h0M639 1254h0M639 1269h0"/><path id="h59" d="M651 1157h0M650 1171h0M644 1181h0M649 1197h0M642 1228h0M628 1229h0M631 1237h0M643 1242h0M644 1255h0M632 1251h0M631 1266h0M646 1270h0"/><path id="c60" d="M908 1146h0M905 1159h0M903 1171h0M902 1183h0M901 1198h0M901 1210h0M899 1225h0M897 1240h0M893 1254h0M890 1268h0M888 1280h0"/><path id="h60" d="M914 1146h0M900 1159h0M912 1157h0M896 1168h0M896 1186h0M907 1199h0M895 1199h0M906 1223h0M892 1227h0M890 1239h0M904 1238h0M900 1252h0M883 1270h0M896 1279h0"/><path id="c61" d="M223 1148h0M227 1162h0M230 1176h0M232 1188h0M231 1202h0M230 1217h0M229 1231h0M230 1244h0M233 1256h0"/><path id="h61" d="M229 1147h0M215 1151h0M221 1163h0M235 1165h0M238 1173h0M238 1189h0M239 1201h0M224 1218h0M235 1229h0M224 1245h0M240 1257h0"/><path id="c62" d="M371 1145h0M368 1158h0M365 1173h0M365 1185h0M367 1199h0M370 1212h0M374 1226h0M375 1240h0M374 1253h0M371 1268h0"/><path id="h62" d="M376 1144h0M365 1147h0M362 1161h0M375 1161h0M371 1172h0M359 1174h0M359 1184h0M372 1183h0M363 1214h0M378 1212h0M380 1228h0M368 1225h0M370 1240h0M381 1241h0M380 1251h0M364 1265h0M377 1265h0"/><path id="c63" d="M497 1147h0M495 1160h0M489 1174h0M483 1187h0M475 1202h0M471 1214h0M468 1228h0M466 1240h0M464 1255h0M461 1268h0M455 1282h0"/><path id="h63" d="M505 1150h0M488 1160h0M497 1172h0M484 1176h0M475 1190h0M488 1190h0M483 1199h0M465 1215h0M473 1226h0M461 1229h0M472 1239h0M471 1253h0M456 1270h0"/><path id="c64" d="M461 1145h0M455 1160h0M447 1174h0M442 1186h0M440 1199h0M440 1213h0M442 1225h0M442 1239h0M439 1252h0M433 1265h0M425 1279h0"/><path id="h64" d="M467 1147h0M455 1148h0M449 1162h0M460 1157h0M440 1175h0M435 1184h0M447 1199h0M434 1216h0M446 1215h0M450 1227h0M437 1225h0M437 1239h0M446 1251h0M425 1264h0M438 1267h0M430 1278h0"/><path id="c65" d="M69 1152h0M71 1165h0M73 1179h0M74 1193h0M73 1205h0M71 1219h0M69 1233h0M68 1247h0"/><path id="h65" d="M75 1153h0M78 1180h0M67 1180h0M69 1194h0M78 1205h0M67 1207h0M65 1217h0M76 1233h0M63 1234h0"/><path id="c66" d="M306 1147h0M308 1161h0M308 1176h0M307 1189h0M306 1201h0M305 1215h0M306 1228h0M308 1241h0M310 1256h0M311 1270h0"/><path id="h66" d="M299 1145h0M301 1159h0M314 1159h0M316 1179h0M300 1187h0M312 1202h0M299 1216h0M312 1227h0M313 1241h0M315 1254h0M305 1273h0M319 1271h0"/><path id="c67" d="M803 1144h0M811 1158h0M819 1172h0M825 1185h0M827 1197h0M827 1210h0M827 1224h0M830 1238h0M835 1251h0M843 1265h0"/><path id="h67" d="M809 1142h0M798 1144h0M825 1172h0M819 1182h0M820 1209h0M833 1208h0M834 1225h0M819 1225h0M824 1235h0M828 1252h0M837 1268h0M849 1267h0"/><path id="c68" d="M576 1145h0M579 1157h0M580 1169h0M579 1181h0M578 1194h0M580 1209h0M584 1222h0M590 1234h0M596 1248h0M599 1261h0M600 1276h0"/><path id="h68" d="M584 1145h0M573 1158h0M588 1170h0M574 1172h0M571 1182h0M583 1192h0M575 1206h0M590 1225h0M585 1237h0M602 1250h0M592 1260h0M605 1261h0M608 1275h0"/><path id="c69" d="M410 1145h0M406 1160h0M406 1175h0M409 1187h0M412 1199h0M414 1212h0M411 1226h0M407 1241h0M402 1253h0M399 1267h0M400 1281h0"/><path id="h69" d="M398 1160h0M413 1173h0M402 1189h0M419 1197h0M420 1209h0M406 1224h0M400 1242h0M414 1240h0M407 1254h0M393 1266h0M407 1280h0M392 1279h0"/><path id="c70" d="M334 1143h0M339 1157h0M342 1171h0M344 1186h0M344 1199h0M345 1213h0M348 1226h0M352 1240h0M357 1255h0M361 1270h0"/><path id="h70" d="M339 1142h0M331 1157h0M349 1174h0M352 1196h0M355 1225h0M344 1238h0M363 1257h0M354 1267h0"/><path id="c71" d="M347 1143h0M339 1155h0M332 1169h0M328 1181h0M325 1196h0M324 1210h0M322 1222h0M317 1235h0M311 1248h0M303 1262h0M296 1276h0"/><path id="h71" d="M353 1142h0M341 1143h0M334 1154h0M339 1167h0M320 1183h0M317 1210h0M327 1221h0M317 1248h0M296 1259h0M310 1261h0M301 1275h0M290 1278h0"/><path id="c72" d="M200 1148h0M202 1162h0M205 1175h0M208 1188h0M210 1202h0M209 1216h0M207 1229h0M205 1242h0M205 1255h0M207 1268h0"/><path id="h72" d="M207 1147h0M211 1178h0M198 1174h0M217 1200h0M204 1202h0M203 1214h0M216 1215h0M215 1228h0M198 1241h0M211 1241h0M198 1258h0"/><path id="c73" d="M849 1146h0M853 1159h0M855 1174h0M856 1188h0M857 1202h0M859 1216h0M864 1229h0M869 1242h0M874 1255h0M878 1269h0"/><path id="h73" d="M856 1145h0M842 1147h0M848 1158h0M860 1159h0M863 1185h0M864 1204h0M871 1230h0M857 1227h0M880 1255h0M883 1268h0"/><path id="c74" d="M475 1147h0M468 1160h0M461 1174h0M455 1187h0M452 1199h0M450 1213h0M448 1227h0M445 1239h0M439 1252h0M433 1264h0"/><path id="h74" d="M482 1145h0M468 1150h0M475 1162h0M468 1175h0M450 1187h0M462 1186h0M460 1200h0M445 1202h0M444 1214h0M455 1227h0M441 1227h0M437 1241h0M446 1249h0M427 1263h0M440 1265h0"/><path id="c75" d="M48 1162h0M40 1176h0M40 1188h0M42 1201h0M45 1213h0M44 1227h0"/><path id="h75" d="M55 1163h0M47 1177h0M48 1188h0M34 1190h0M35 1204h0M51 1215h0M37 1229h0"/><path id="c76" d="M364 1145h0M364 1159h0M363 1173h0M363 1186h0M364 1201h0M367 1214h0M370 1227h0M372 1241h0M373 1254h0"/><path id="h76" d="M371 1144h0M357 1161h0M369 1173h0M370 1189h0M371 1202h0M372 1213h0M367 1244h0M380 1252h0M366 1252h0"/><path id="c77" d="M792 1146h0M793 1158h0M796 1170h0M801 1184h0M809 1197h0M816 1210h0M822 1224h0M826 1238h0M828 1252h0M830 1267h0M833 1279h0"/><path id="h77" d="M799 1148h0M786 1145h0M787 1160h0M803 1169h0M796 1185h0M803 1199h0M809 1210h0M819 1237h0M835 1254h0M825 1265h0M835 1269h0M840 1277h0"/><path id="c78" d="M293 1143h0M294 1156h0M295 1169h0M297 1182h0M301 1194h0M307 1207h0M313 1221h0M318 1235h0M320 1248h0M321 1260h0M322 1273h0"/><path id="h78" d="M301 1145h0M287 1158h0M302 1169h0M308 1194h0M293 1195h0M299 1206h0M320 1220h0M307 1219h0M311 1236h0M327 1245h0M315 1259h0M326 1261h0M328 1276h0M314 1271h0"/><path id="c79" d="M90 1146h0M87 1159h0M85 1172h0M84 1184h0M82 1196h0M78 1211h0M74 1224h0M70 1237h0M66 1249h0M63 1263h0"/><path id="h79" d="M96 1147h0M84 1149h0M81 1158h0M94 1162h0M92 1174h0M76 1181h0M90 1197h0M77 1196h0M71 1210h0M85 1210h0M80 1226h0M62 1237h0M73 1250h0"/><path id="c80" d="M956 1159h0M956 1172h0M954 1186h0M949 1200h0M942 1215h0M936 1227h0"/><path id="h80" d="M962 1156h0M949 1172h0M961 1170h0M962 1185h0M947 1189h0M942 1200h0M935 1214h0M931 1227h0"/><path id="c81" d="M190 1147h0M192 1161h0M196 1174h0M202 1187h0M210 1201h0M216 1214h0M221 1227h0M224 1240h0M225 1253h0M227 1267h0M231 1279h0"/><path id="h81" d="M195 1145h0M185 1160h0M198 1161h0M202 1172h0M194 1190h0M208 1187h0M217 1202h0M211 1211h0M222 1216h0M228 1225h0M216 1229h0M218 1241h0M231 1254h0M236 1278h0"/><path id="c82" d="M846 1148h0M848 1162h0M848 1175h0M847 1188h0M846 1200h0M847 1214h0M849 1227h0M852 1240h0M855 1254h0M856 1268h0M856 1281h0"/><path id="h82" d="M853 1145h0M841 1149h0M841 1161h0M854 1174h0M841 1173h0M841 1190h0M852 1187h0M853 1200h0M841 1215h0M853 1215h0M856 1229h0M845 1243h0M860 1253h0M849 1267h0M863 1268h0M862 1283h0"/><path id="c83" d="M406 1147h0M405 1160h0M400 1173h0M394 1188h0M390 1200h0M387 1212h0M388 1225h0M390 1239h0M391 1253h0M388 1268h0M384 1281h0"/><path id="h83" d="M412 1146h0M399 1149h0M398 1160h0M406 1173h0M394 1172h0M388 1190h0M400 1191h0M396 1197h0M395 1222h0M383 1223h0M385 1237h0M398 1255h0M384 1251h0M382 1270h0M390 1283h0M376 1281h0"/><path id="c84" d="M146 1145h0M147 1159h0M148 1172h0M147 1184h0M143 1198h0M137 1213h0M131 1227h0M128 1240h0M127 1254h0M128 1267h0"/><path id="h84" d="M153 1143h0M142 1157h0M154 1174h0M139 1186h0M149 1197h0M136 1197h0M130 1211h0M136 1225h0M121 1242h0M134 1254h0M119 1256h0"/><path id="c85" d="M822 1144h0M827 1157h0M831 1171h0M832 1183h0M834 1197h0M838 1211h0M843 1224h0M849 1239h0M855 1253h0M860 1267h0"/><path id="h85" d="M828 1146h0M814 1146h0M835 1157h0M824 1183h0M840 1182h0M841 1200h0M832 1212h0M848 1222h0M835 1225h0M841 1239h0M854 1237h0M861 1253h0M847 1250h0M854 1269h0M867 1268h0"/><path id="c86" d="M644 1146h0M643 1158h0M640 1171h0M635 1183h0M632 1197h0M632 1211h0M635 1226h0M639 1239h0M641 1253h0"/><path id="h86" d="M649 1145h0M638 1146h0M636 1157h0M650 1158h0M627 1184h0M625 1213h0M637 1212h0M641 1223h0M628 1224h0M634 1238h0M648 1250h0"/><path id="c87" d="M764 1148h0M764 1162h0M761 1176h0M758 1189h0M756 1204h0M755 1217h0M756 1229h0M758 1244h0M759 1258h0M758 1272h0"/><path id="h87" d="M771 1150h0M759 1149h0M757 1164h0M768 1177h0M752 1192h0M766 1191h0M763 1201h0M748 1204h0M749 1214h0M761 1227h0M751 1226h0M764 1256h0M752 1269h0M764 1271h0"/><path id="c88" d="M69 1148h0M68 1161h0M68 1174h0M67 1187h0M64 1201h0M61 1214h0M58 1227h0M55 1240h0M54 1255h0"/><path id="h88" d="M76 1151h0M61 1158h0M75 1175h0M60 1185h0M70 1198h0M55 1213h0M64 1227h0M51 1229h0M47 1243h0M59 1255h0M48 1255h0"/><path id="c89" d="M485 1144h0M484 1158h0M484 1173h0M484 1185h0M482 1199h0M479 1213h0M476 1227h0M473 1242h0M472 1256h0M471 1270h0M471 1283h0"/><path id="h89" d="M490 1146h0M478 1144h0M477 1156h0M492 1156h0M476 1175h0M478 1183h0M489 1187h0M488 1200h0M474 1211h0M487 1214h0M484 1227h0M466 1242h0M465 1269h0M477 1283h0M465 1282h0"/><path id="c90" d="M405 1147h0M407 1162h0M410 1176h0M412 1190h0M414 1205h0M413 1218h0M412 1232h0M411 1245h0M411 1259h0M413 1273h0"/><path id="h90" d="M398 1147h0M401 1163h0M403 1175h0M418 1193h0M421 1208h0M407 1216h0M404 1245h0M417 1259h0M405 1261h0M406 1272h0"/><path id="c91" d="M231 1144h0M232 1156h0M231 1168h0M230 1182h0M229 1196h0M229 1210h0M230 1224h0M232 1237h0M234 1250h0M234 1265h0M233 1278h0"/><path id="h91" d="M239 1143h0M224 1142h0M237 1156h0M237 1165h0M236 1193h0M221 1195h0M221 1211h0M226 1238h0M238 1238h0M239 1252h0M227 1262h0M239 1280h0M226 1279h0"/><path id="c92" d="M858 1147h0M858 1160h0M860 1172h0M861 1186h0M862 1200h0M862 1214h0M860 1227h0M857 1242h0M856 1256h0"/><path id="h92" d="M864 1146h0M852 1149h0M853 1157h0M867 1173h0M854 1187h0M869 1197h0M856 1211h0M867 1226h0M851 1242h0M864 1257h0"/><path id="c93" d="M729 1146h0M728 1158h0M729 1173h0M732 1187h0M736 1200h0M740 1214h0M741 1226h0M741 1239h0M738 1251h0M737 1264h0M738 1278h0M742 1291h0"/><path id="h93" d="M735 1144h0M721 1156h0M734 1174h0M726 1189h0M728 1198h0M733 1214h0M748 1225h0M736 1225h0M734 1241h0M748 1237h0M746 1251h0M733 1252h0M731 1264h0M746 1275h0M735 1291h0"/><path id="c94" d="M866 1144h0M863 1159h0M859 1173h0M856 1188h0M857 1201h0M859 1214h0M862 1229h0M862 1243h0M860 1256h0M856 1270h0M852 1285h0"/><path id="h94" d="M873 1143h0M861 1143h0M856 1156h0M869 1160h0M866 1170h0M852 1175h0M849 1187h0M851 1203h0M851 1212h0M866 1212h0M854 1229h0M854 1242h0M868 1253h0M853 1258h0M851 1268h0M845 1283h0"/><path id="c95" d="M685 1147h0M687 1162h0M689 1176h0M693 1188h0M699 1202h0M705 1216h0M711 1230h0M715 1245h0M716 1259h0M718 1274h0"/><path id="h95" d="M692 1145h0M680 1149h0M679 1164h0M696 1175h0M685 1188h0M706 1203h0M691 1202h0M700 1214h0M713 1216h0M718 1232h0M707 1243h0M724 1256h0M711 1275h0"/><path id="c96" d="M85 1149h0M80 1162h0M76 1177h0M72 1191h0M69 1204h0M64 1219h0M59 1232h0M52 1247h0M46 1261h0"/><path id="h96" d="M91 1151h0M87 1165h0M83 1176h0M69 1180h0M80 1192h0M74 1207h0M59 1221h0M64 1231h0M44 1249h0M53 1259h0"/><path id="c97" d="M682 1143h0M681 1156h0M679 1169h0M677 1181h0M672 1195h0M668 1208h0M663 1223h0M661 1237h0M660 1249h0M659 1262h0M657 1277h0"/><path id="h97" d="M688 1146h0M675 1145h0M687 1159h0M682 1183h0M661 1208h0M670 1225h0M653 1234h0M666 1237h0M668 1247h0M652 1246h0M652 1262h0M663 1279h0M650 1279h0"/><path id="c98" d="M815 1147h0M811 1161h0M806 1174h0M802 1186h0M801 1200h0M801 1213h0M802 1226h0M803 1239h0M800 1253h0M796 1267h0M791 1281h0"/><path id="h98" d="M821 1144h0M808 1147h0M803 1162h0M813 1175h0M799 1173h0M796 1184h0M810 1188h0M808 1199h0M794 1211h0M807 1211h0M796 1242h0M793 1254h0M790 1268h0M802 1265h0M783 1283h0"/><path id="c99" d="M745 1148h0M742 1160h0M738 1175h0M735 1190h0M734 1203h0M734 1216h0M734 1229h0M733 1241h0M730 1254h0M726 1269h0"/><path id="h99" d="M751 1148h0M740 1148h0M735 1159h0M744 1176h0M729 1189h0M743 1191h0M742 1200h0M728 1215h0M741 1215h0M740 1229h0M729 1231h0M727 1242h0M736 1252h0M732 1268h0"/><path id="c100" d="M629 1147h0M624 1161h0M618 1175h0M614 1190h0M612 1204h0M612 1216h0M613 1229h0M611 1242h0M608 1255h0M602 1269h0M597 1281h0"/><path id="h100" d="M635 1146h0M616 1163h0M623 1174h0M606 1192h0M620 1189h0M618 1205h0M604 1205h0M606 1219h0M620 1229h0M605 1229h0M617 1240h0M600 1257h0M596 1266h0M607 1267h0M602 1281h0M589 1282h0"/><path id="c101" d="M596 1145h0M588 1159h0M583 1171h0M581 1184h0M581 1199h0M580 1213h0M576 1227h0M569 1241h0M561 1254h0M553 1266h0M549 1279h0"/><path id="h101" d="M594 1160h0M591 1172h0M574 1185h0M588 1183h0M587 1198h0M574 1197h0M573 1211h0M583 1226h0M568 1227h0M561 1243h0M568 1256h0M547 1266h0M543 1278h0"/><path id="c102" d="M506 1144h0M508 1157h0M509 1170h0M506 1185h0M500 1197h0M493 1210h0M487 1224h0M484 1239h0M485 1251h0M487 1264h0"/><path id="h102" d="M501 1159h0M514 1160h0M515 1171h0M498 1182h0M508 1198h0M492 1226h0M478 1237h0M491 1252h0M481 1261h0"/><path id="c103" d="M932 1149h0M926 1162h0M922 1174h0M919 1189h0M919 1201h0M919 1215h0M919 1228h0M916 1242h0M910 1256h0"/><path id="h103" d="M940 1149h0M921 1163h0M929 1176h0M916 1175h0M912 1189h0M926 1200h0M912 1216h0M926 1212h0M926 1230h0M912 1228h0M921 1240h0M916 1258h0"/><path id="c104" d="M40 1180h0M40 1193h0M40 1206h0"/><path id="h104" d="M45 1181h0M34 1180h0M33 1196h0M47 1194h0M48 1205h0M32 1207h0"/><path id="c105" d="M530 1144h0M529 1159h0M529 1173h0M529 1186h0M527 1199h0M522 1213h0M516 1227h0M510 1242h0M507 1255h0M507 1267h0"/><path id="h105" d="M537 1144h0M523 1145h0M523 1158h0M537 1174h0M524 1172h0M522 1185h0M532 1199h0M517 1214h0M504 1240h0M515 1255h0M501 1257h0M501 1265h0M513 1269h0"/><path id="c106" d="M175 1146h0M174 1159h0M173 1172h0M171 1186h0M167 1201h0M162 1214h0M157 1228h0M154 1242h0M152 1254h0"/><path id="h106" d="M180 1149h0M169 1158h0M182 1159h0M178 1174h0M164 1186h0M178 1188h0M172 1200h0M169 1215h0M162 1227h0M151 1228h0M159 1243h0M157 1254h0"/><path id="c107" d="M900 1148h0M901 1162h0M904 1174h0M907 1187h0M909 1201h0M907 1215h0M904 1230h0M901 1243h0M900 1257h0M901 1269h0"/><path id="h107" d="M906 1151h0M895 1162h0M910 1173h0M901 1184h0M913 1185h0M915 1200h0M901 1199h0M902 1215h0M910 1229h0M898 1230h0M894 1244h0M907 1257h0M894 1254h0M896 1270h0M908 1268h0"/><path id="c108" d="M858 1146h0M860 1158h0M862 1172h0M864 1185h0M865 1199h0M866 1213h0M865 1225h0M865 1239h0M866 1253h0M868 1266h0M870 1280h0"/><path id="h108" d="M864 1146h0M851 1146h0M854 1156h0M869 1169h0M859 1187h0M870 1183h0M873 1197h0M860 1212h0M873 1227h0M873 1238h0M872 1252h0M861 1250h0M862 1267h0M875 1280h0M864 1279h0"/><path id="c109" d="M116 1148h0M119 1163h0M123 1178h0M128 1192h0M134 1206h0M139 1220h0M142 1232h0M144 1244h0M146 1257h0M149 1269h0"/><path id="h109" d="M124 1149h0M109 1149h0M113 1164h0M124 1164h0M129 1175h0M140 1209h0M134 1220h0M150 1229h0M136 1234h0M139 1247h0M154 1259h0M141 1269h0M157 1270h0"/><path id="c110" d="M766 1147h0M768 1161h0M768 1174h0M766 1186h0M761 1199h0M756 1214h0M753 1229h0M752 1242h0M753 1256h0M754 1269h0M754 1282h0"/><path id="h110" d="M774 1149h0M762 1163h0M759 1187h0M773 1187h0M759 1230h0M745 1240h0M760 1257h0M749 1268h0M761 1284h0"/><path id="c111" d="M703 1146h0M704 1160h0M708 1173h0M710 1185h0M711 1198h0M707 1212h0M702 1225h0M698 1238h0M696 1252h0M698 1267h0"/><path id="h111" d="M697 1157h0M711 1161h0M715 1175h0M702 1173h0M705 1183h0M718 1199h0M701 1214h0M713 1211h0M709 1227h0M704 1236h0M703 1251h0M692 1266h0"/><path id="c112" d="M876 1146h0M873 1160h0M870 1174h0M867 1187h0M863 1201h0M857 1215h0M850 1230h0M844 1242h0M838 1256h0M835 1271h0M832 1284h0"/><path id="h112" d="M882 1146h0M867 1158h0M862 1172h0M861 1185h0M869 1202h0M849 1217h0M863 1215h0M855 1230h0M837 1244h0M852 1242h0M844 1254h0M829 1268h0"/><path id="c113" d="M963 1176h0M963 1190h0M963 1204h0"/><path id="h113" d="M969 1176h0M955 1190h0M970 1202h0"/><path id="c114" d="M842 1144h0M840 1159h0M838 1174h0M836 1188h0M836 1203h0M838 1217h0M841 1230h0M844 1244h0M844 1257h0M842 1272h0"/><path id="h114" d="M849 1146h0M835 1146h0M835 1160h0M844 1173h0M831 1172h0M829 1191h0M842 1186h0M841 1201h0M830 1205h0M848 1229h0M836 1247h0M850 1256h0M837 1260h0M836 1272h0"/><path id="c115" d="M432 1147h0M437 1161h0M440 1174h0M439 1187h0M436 1200h0M434 1213h0M435 1226h0M440 1241h0M446 1255h0M451 1268h0M454 1283h0"/><path id="h115" d="M437 1148h0M424 1150h0M444 1159h0M433 1176h0M432 1188h0M432 1242h0M445 1239h0M453 1255h0M445 1269h0M457 1267h0M459 1281h0M448 1284h0"/><path id="c116" d="M746 1144h0M744 1158h0M741 1173h0M737 1187h0M732 1201h0M728 1215h0M726 1229h0M725 1243h0M724 1258h0M722 1271h0"/><path id="h116" d="M753 1142h0M738 1160h0M747 1173h0M730 1190h0M737 1203h0M723 1217h0M734 1217h0M717 1240h0M731 1256h0M716 1268h0"/><path id="c117" d="M439 1146h0M438 1160h0M439 1172h0M440 1186h0M438 1201h0M435 1213h0M430 1226h0M426 1239h0M423 1253h0M423 1267h0"/><path id="h117" d="M446 1148h0M433 1163h0M444 1157h0M447 1175h0M435 1186h0M446 1183h0M429 1210h0M437 1223h0M423 1227h0M418 1242h0M431 1241h0M429 1251h0M429 1268h0"/><path id="c118" d="M692 1147h0M691 1161h0M690 1175h0M691 1190h0M695 1203h0M702 1215h0M709 1230h0M714 1243h0M716 1257h0M715 1271h0"/><path id="h118" d="M685 1159h0M695 1177h0M683 1192h0M700 1203h0M695 1218h0M708 1214h0M716 1230h0M708 1240h0M723 1259h0M707 1270h0M721 1273h0"/><path id="c119" d="M882 1147h0M877 1161h0M871 1174h0M864 1187h0M859 1199h0M858 1212h0M857 1226h0M857 1241h0M855 1255h0M850 1267h0M843 1280h0"/><path id="h119" d="M888 1150h0M875 1146h0M870 1162h0M877 1171h0M865 1174h0M857 1184h0M866 1198h0M852 1214h0M865 1226h0M850 1227h0M850 1241h0M860 1255h0M849 1257h0M843 1268h0M851 1277h0M838 1282h0"/><path id="c120" d="M438 1147h0M438 1161h0M438 1174h0M442 1189h0M446 1201h0M453 1216h0M458 1230h0M461 1244h0M462 1258h0M461 1271h0M462 1286h0"/><path id="h120" d="M446 1149h0M431 1161h0M445 1171h0M432 1173h0M435 1189h0M447 1191h0M453 1198h0M439 1204h0M446 1216h0M464 1230h0M454 1242h0M468 1258h0M455 1257h0M455 1272h0M469 1285h0"/><path id="c121" d="M956 1150h0M957 1162h0M959 1175h0M963 1189h0M963 1203h0M963 1216h0M963 1229h0"/><path id="h121" d="M950 1148h0M963 1164h0M964 1177h0M953 1174h0M957 1188h0M969 1188h0M968 1200h0M955 1202h0M957 1213h0M969 1215h0M968 1228h0M956 1230h0"/><path id="c122" d="M376 1143h0M383 1157h0M390 1169h0M396 1184h0M398 1196h0M398 1211h0M397 1224h0M399 1237h0M404 1250h0M412 1264h0"/><path id="h122" d="M378 1158h0M388 1155h0M398 1171h0M384 1170h0M389 1184h0M405 1198h0M392 1212h0M406 1209h0M403 1222h0M392 1225h0M392 1239h0M407 1236h0M411 1252h0"/><path id="c123" d="M453 1145h0M452 1158h0M449 1171h0M445 1184h0M440 1198h0M436 1212h0M434 1226h0M433 1241h0M433 1254h0M431 1267h0"/><path id="h123" d="M459 1146h0M445 1144h0M445 1159h0M458 1156h0M455 1173h0M439 1187h0M450 1181h0M446 1195h0M429 1214h0M441 1214h0M440 1229h0M429 1229h0M428 1240h0M440 1252h0M438 1266h0"/><path id="c124" d="M948 1148h0M949 1163h0M952 1177h0M958 1190h0M963 1203h0M963 1216h0M963 1229h0M963 1242h0"/><path id="h124" d="M953 1148h0M944 1164h0M945 1177h0M952 1189h0M969 1200h0M957 1217h0M970 1229h0M955 1231h0M957 1243h0M968 1241h0"/><path id="c125" d="M482 1144h0M489 1159h0M497 1171h0M503 1184h0M507 1198h0M508 1210h0M508 1225h0M509 1237h0M513 1252h0M521 1267h0M529 1282h0"/><path id="h125" d="M487 1143h0M475 1144h0M484 1156h0M497 1159h0M504 1170h0M490 1172h0M498 1183h0M514 1196h0M501 1211h0M500 1226h0M503 1237h0M521 1254h0M516 1267h0M528 1266h0M536 1280h0"/><path id="c126" d="M282 1147h0M276 1162h0M271 1176h0M267 1190h0M264 1204h0M262 1219h0M259 1233h0M256 1245h0M251 1259h0M246 1272h0M240 1287h0"/><path id="h126" d="M288 1145h0M276 1146h0M270 1160h0M282 1160h0M279 1175h0M264 1174h0M260 1189h0M273 1192h0M269 1205h0M254 1218h0M265 1233h0M248 1247h0M261 1243h0M257 1258h0M238 1275h0M246 1286h0"/><path id="c127" d="M749 1144h0M750 1159h0M749 1171h0M746 1185h0M743 1200h0M741 1214h0M742 1229h0M745 1242h0M747 1254h0M748 1266h0"/><path id="h127" d="M744 1157h0M757 1170h0M739 1186h0M752 1187h0M749 1202h0M748 1213h0M749 1230h0M737 1227h0M738 1243h0M752 1240h0M755 1253h0M741 1268h0"/><path id="c128" d="M612 1146h0M609 1159h0M606 1171h0M605 1184h0M607 1197h0M611 1209h0M616 1222h0M619 1235h0M619 1247h0M616 1259h0"/><path id="h128" d="M618 1146h0M607 1143h0M603 1157h0M615 1161h0M611 1171h0M600 1170h0M597 1183h0M612 1182h0M615 1198h0M606 1210h0M624 1219h0M609 1223h0M613 1238h0M613 1247h0M609 1258h0M623 1262h0"/><path id="c129" d="M261 1144h0M256 1159h0M251 1173h0M248 1186h0M245 1198h0M243 1213h0M241 1226h0M237 1241h0M233 1253h0M229 1266h0M224 1280h0"/><path id="h129" d="M267 1144h0M250 1160h0M259 1176h0M245 1173h0M253 1195h0M239 1199h0M237 1210h0M250 1212h0M247 1226h0M232 1239h0M243 1244h0M240 1256h0M226 1251h0M221 1267h0M230 1279h0M217 1280h0"/><g id="mem" class="m"><path d="M32 1181 L52 1158 L72 1150 L92 1148 L112 1147 L132 1147 L152 1147 L172 1147 L192 1147 L212 1147 L232 1147 L252 1147 L272 1147 L292 1147 L312 1146 L332 1146 L352 1146 L372 1146 L392 1146 L412 1146 L432 1146 L452 1146 L472 1146 L492 1146 L512 1146 L532 1146 L552 1146 L572 1146 L592 1146 L612 1146 L632 1146 L652 1146 L672 1146 L692 1146 L712 1147 L732 1147 L752 1147 L772 1147 L792 1147 L812 1147 L832 1147 L852 1147 L872 1147 L892 1147 L912 1148 L932 1149 L952 1152 L972 1185 L972 1232 L952 1270 L932 1291 L912 1312 L892 1323 L872 1331 L852 1336 L832 1338 L812 1339 L792 1340 L772 1340 L752 1340 L732 1340 L712 1339 L692 1339 L672 1339 L652 1339 L632 1339 L612 1338 L592 1338 L572 1338 L552 1337 L532 1337 L512 1337 L492 1337 L472 1337 L452 1336 L432 1336 L412 1336 L392 1336 L372 1335 L352 1335 L332 1334 L312 1334 L292 1334 L272 1333 L252 1332 L232 1330 L212 1328 L192 1327 L172 1325 L152 1319 L132 1312 L112 1306 L92 1299 L72 1289 L52 1276 L32 1246 Z" style="fill:url(#mbg);stroke:none"/><use href="#c0" class="c"/><use href="#h0" class="h"/><use href="#c0" class="C"/><use href="#h0" class="H"/><use href="#c1" class="c"/><use href="#h1" class="h"/><use href="#c1" class="C"/><use href="#h1" class="H"/><use href="#c2" class="c"/><use href="#h2" class="h"/><use href="#c2" class="C"/><use href="#h2" class="H"/><use href="#c3" class="c"/><use href="#h3" class="h"/><use href="#c3" class="C"/><use href="#h3" class="H"/><use href="#c4" class="c"/><use href="#h4" class="h"/><use href="#c4" class="C"/><use href="#h4" class="H"/><use href="#c5" class="c"/><use href="#h5" class="h"/><use href="#c5" class="C"/><use href="#h5" class="H"/><use href="#c6" class="c"/><use href="#h6" class="h"/><use href="#c6" class="C"/><use href="#h6" class="H"/><use href="#c7" class="c"/><use href="#h7" class="h"/><use href="#c7" class="C"/><use href="#h7" class="H"/><use href="#c8" class="c"/><use href="#h8" class="h"/><use href="#c8" class="C"/><use href="#h8" class="H"/><use href="#c9" class="c"/><use href="#h9" class="h"/><use href="#c9" class="C"/><use href="#h9" class="H"/><use href="#c10" class="c"/><use href="#h10" class="h"/><use href="#c10" class="C"/><use href="#h10" class="H"/><use href="#c11" class="c"/><use href="#h11" class="h"/><use href="#c11" class="C"/><use href="#h11" class="H"/><use href="#c12" class="c"/><use href="#h12" class="h"/><use href="#c12" class="C"/><use href="#h12" class="H"/><use href="#c13" class="c"/><use href="#h13" class="h"/><use href="#c13" class="C"/><use href="#h13" class="H"/><use href="#c14" class="c"/><use href="#h14" class="h"/><use href="#c14" class="C"/><use href="#h14" class="H"/><use href="#c15" class="c"/><use href="#h15" class="h"/><use href="#c15" class="C"/><use href="#h15" class="H"/><use href="#c16" class="c"/><use href="#h16" class="h"/><use href="#c16" class="C"/><use href="#h16" class="H"/><use href="#c17" class="c"/><use href="#h17" class="h"/><use href="#c17" class="C"/><use href="#h17" class="H"/><use href="#c18" class="c"/><use href="#h18" class="h"/><use href="#c18" class="C"/><use href="#h18" class="H"/><use href="#c19" class="c"/><use href="#h19" class="h"/><use href="#c19" class="C"/><use href="#h19" class="H"/><use href="#c20" class="c"/><use href="#h20" class="h"/><use href="#c20" class="C"/><use href="#h20" class="H"/><use href="#c21" class="c"/><use href="#h21" class="h"/><use href="#c21" class="C"/><use href="#h21" class="H"/><use href="#c22" class="c"/><use href="#h22" class="h"/><use href="#c22" class="C"/><use href="#h22" class="H"/><use href="#c23" class="c"/><use href="#h23" class="h"/><use href="#c23" class="C"/><use href="#h23" class="H"/><use href="#c24" class="c"/><use href="#h24" class="h"/><use href="#c24" class="C"/><use href="#h24" class="H"/><use href="#c25" class="c"/><use href="#h25" class="h"/><use href="#c25" class="C"/><use href="#h25" class="H"/><use href="#c26" class="c"/><use href="#h26" class="h"/><use href="#c26" class="C"/><use href="#h26" class="H"/><use href="#c27" class="c"/><use href="#h27" class="h"/><use href="#c27" class="C"/><use href="#h27" class="H"/><use href="#c28" class="c"/><use href="#h28" class="h"/><use href="#c28" class="C"/><use href="#h28" class="H"/><use href="#c29" class="c"/><use href="#h29" class="h"/><use href="#c29" class="C"/><use href="#h29" class="H"/><use href="#c30" class="c"/><use href="#h30" class="h"/><use href="#c30" class="C"/><use href="#h30" class="H"/><use href="#c31" class="c"/><use href="#h31" class="h"/><use href="#c31" class="C"/><use href="#h31" class="H"/><use href="#c32" class="c"/><use href="#h32" class="h"/><use href="#c32" class="C"/><use href="#h32" class="H"/><use href="#c33" class="c"/><use href="#h33" class="h"/><use href="#c33" class="C"/><use href="#h33" class="H"/><use href="#c34" class="c"/><use href="#h34" class="h"/><use href="#c34" class="C"/><use href="#h34" class="H"/><use href="#c35" class="c"/><use href="#h35" class="h"/><use href="#c35" class="C"/><use href="#h35" class="H"/><use href="#c36" class="c"/><use href="#h36" class="h"/><use href="#c36" class="C"/><use href="#h36" class="H"/><use href="#c37" class="c"/><use href="#h37" class="h"/><use href="#c37" class="C"/><use href="#h37" class="H"/><use href="#c38" class="c"/><use href="#h38" class="h"/><use href="#c38" class="C"/><use href="#h38" class="H"/><use href="#c39" class="c"/><use href="#h39" class="h"/><use href="#c39" class="C"/><use href="#h39" class="H"/><use href="#c40" class="c"/><use href="#h40" class="h"/><use href="#c40" class="C"/><use href="#h40" class="H"/><path class="b" d="M208 1251h0"/><path class="B" d="M208 1251h0"/><path class="O" d="M207 1272h0"/><path class="r" d="M219 1263h0M207 1259h0M216 1278h0M216 1261h0"/><path class="R" d="M219 1263h0M207 1259h0M216 1278h0M216 1261h0"/><path class="H" d="M205 1252h0M218 1261h0M212 1263h0M212 1258h0"/><use href="#c41" class="c"/><use href="#h41" class="h"/><use href="#c41" class="C"/><use href="#h41" class="H"/><path class="b" d="M93 1262h0"/><path class="B" d="M93 1262h0"/><path class="O" d="M100 1247h0"/><path class="r" d="M91 1242h0M89 1252h0M92 1255h0"/><path class="R" d="M91 1242h0M89 1252h0M92 1255h0"/><path class="H" d="M94 1259h0M90 1254h0"/><use href="#c42" class="c"/><use href="#h42" class="h"/><use href="#c42" class="C"/><use href="#h42" class="H"/><use href="#c43" class="c"/><use href="#h43" class="h"/><use href="#c43" class="C"/><use href="#h43" class="H"/><use href="#c44" class="c"/><use href="#h44" class="h"/><use href="#c44" class="C"/><use href="#h44" class="H"/><use href="#c45" class="c"/><use href="#h45" class="h"/><use href="#c45" class="C"/><use href="#h45" class="H"/><use href="#c46" class="c"/><use href="#h46" class="h"/><use href="#c46" class="C"/><use href="#h46" class="H"/><path class="b" d="M560 1251h0"/><path class="B" d="M560 1251h0"/><path class="O" d="M545 1250h0"/><path class="r" d="M533 1247h0M550 1241h0"/><path class="R" d="M533 1247h0M550 1241h0"/><path class="H" d="M562 1253h0M546 1241h0"/><path class="b" d="M454 1206h0"/><path class="B" d="M454 1206h0"/><path class="O" d="M449 1225h0"/><path class="r" d="M459 1220h0M459 1221h0M458 1223h0M456 1237h0"/><path class="R" d="M459 1220h0M459 1221h0M458 1223h0M456 1237h0"/><path class="H" d="M455 1204h0M455 1221h0M457 1216h0M453 1218h0M452 1234h0"/><path class="b" d="M682 1244h0"/><path class="B" d="M682 1244h0"/><path class="O" d="M687 1228h0"/><path class="r" d="M679 1221h0M674 1224h0M684 1216h0M688 1216h0"/><path class="R" d="M679 1221h0M674 1224h0M684 1216h0M688 1216h0"/><path class="H" d="M685 1241h0M676 1221h0"/><path class="b" d="M571 1267h0"/><path class="B" d="M571 1267h0"/><path class="O" d="M571 1246h0"/><path class="r" d="M580 1252h0M563 1253h0M569 1258h0M560 1241h0"/><path class="R" d="M580 1252h0M563 1253h0M569 1258h0M560 1241h0"/><path class="H" d="M571 1263h0M570 1260h0"/><use href="#c47" class="c"/><use href="#h47" class="h"/><use href="#c47" class="C"/><use href="#h47" class="H"/><use href="#c48" class="c"/><use href="#h48" class="h"/><use href="#c48" class="C"/><use href="#h48" class="H"/><use href="#c49" class="c"/><use href="#h49" class="h"/><use href="#c49" class="C"/><use href="#h49" class="H"/><use href="#c50" class="c"/><use href="#h50" class="h"/><use href="#c50" class="C"/><use href="#h50" class="H"/><path class="b" d="M263 1213h0"/><path class="B" d="M263 1213h0"/><path class="O" d="M276 1226h0"/><path class="r" d="M280 1235h0M264 1228h0M264 1218h0M276 1212h0"/><path class="R" d="M280 1235h0M264 1228h0M264 1218h0M276 1212h0"/><path class="H" d="M260 1209h0M278 1236h0M264 1223h0"/><use href="#c51" class="c"/><use href="#h51" class="h"/><use href="#c51" class="C"/><use href="#h51" class="H"/><path class="b" d="M453 1299h0M449 1293h0"/><path class="B" d="M453 1299h0M449 1293h0"/><path class="O" d="M462 1282h0"/><path class="r" d="M465 1267h0M465 1291h0M450 1289h0"/><path class="R" d="M465 1267h0M465 1291h0M450 1289h0"/><path class="H" d="M457 1300h0M449 1290h0"/><path class="b" d="M251 1218h0"/><path class="B" d="M251 1218h0"/><path class="O" d="M233 1220h0"/><path class="r" d="M228 1232h0M237 1234h0M246 1223h0M238 1212h0"/><path class="R" d="M228 1232h0M237 1234h0M246 1223h0M238 1212h0"/><path class="H" d="M250 1214h0M226 1231h0M234 1233h0M244 1218h0M240 1214h0"/><use href="#c52" class="c"/><use href="#h52" class="h"/><use href="#c52" class="C"/><use href="#h52" class="H"/><use href="#c53" class="c"/><use href="#h53" class="h"/><use href="#c53" class="C"/><use href="#h53" class="H"/><path class="b" d="M849 1251h0M856 1267h0"/><path class="B" d="M849 1251h0M856 1267h0"/><path class="O" d="M840 1264h0"/><path class="r" d="M835 1251h0M839 1251h0"/><path class="R" d="M835 1251h0M839 1251h0"/><path class="H" d="M845 1249h0M857 1267h0"/><path class="b" d="M425 1266h0"/><path class="B" d="M425 1266h0"/><path class="O" d="M438 1253h0"/><path class="r" d="M427 1254h0M443 1262h0"/><path class="R" d="M427 1254h0M443 1262h0"/><path class="H" d="M421 1264h0M425 1255h0M442 1263h0"/><use href="#c54" class="c"/><use href="#h54" class="h"/><use href="#c54" class="C"/><use href="#h54" class="H"/><use href="#c55" class="c"/><use href="#h55" class="h"/><use href="#c55" class="C"/><use href="#h55" class="H"/><path class="b" d="M109 1251h0"/><path class="B" d="M109 1251h0"/><path class="O" d="M100 1234h0"/><path class="r" d="M86 1230h0M109 1232h0"/><path class="R" d="M86 1230h0M109 1232h0"/><path class="H" d="M90 1230h0M106 1236h0"/><path class="b" d="M102 1235h0M89 1247h0"/><path class="B" d="M102 1235h0M89 1247h0"/><path class="O" d="M82 1232h0"/><path class="r" d="M69 1236h0M79 1220h0"/><path class="R" d="M69 1236h0M79 1220h0"/><path class="H" d="M104 1235h0M93 1243h0M77 1222h0"/><use href="#c56" class="c"/><use href="#h56" class="h"/><use href="#c56" class="C"/><use href="#h56" class="H"/><use href="#c57" class="c"/><use href="#h57" class="h"/><use href="#c57" class="C"/><use href="#h57" class="H"/><path class="b" d="M784 1245h0M760 1267h0"/><path class="B" d="M784 1245h0M760 1267h0"/><path class="O" d="M779 1264h0"/><path class="r" d="M785 1273h0M788 1272h0M767 1263h0"/><path class="R" d="M785 1273h0M788 1272h0M767 1263h0"/><path class="H" d="M788 1243h0M756 1263h0M789 1271h0M792 1268h0"/><use href="#c58" class="c"/><use href="#h58" class="h"/><use href="#c58" class="C"/><use href="#h58" class="H"/><path class="b" d="M354 1230h0"/><path class="B" d="M354 1230h0"/><path class="O" d="M369 1221h0"/><path class="r" d="M381 1216h0M375 1228h0"/><path class="R" d="M381 1216h0M375 1228h0"/><path class="H" d="M350 1227h0M386 1217h0M380 1229h0"/><use href="#c59" class="c"/><use href="#h59" class="h"/><use href="#c59" class="C"/><use href="#h59" class="H"/><path class="b" d="M484 1251h0M471 1267h0"/><path class="B" d="M484 1251h0M471 1267h0"/><path class="O" d="M489 1269h0"/><path class="r" d="M482 1262h0M490 1284h0M493 1281h0M493 1261h0"/><path class="R" d="M482 1262h0M490 1284h0M493 1281h0M493 1261h0"/><path class="H" d="M487 1250h0M494 1259h0"/><path class="b" d="M469 1245h0"/><path class="B" d="M469 1245h0"/><path class="O" d="M449 1240h0"/><path class="r" d="M456 1252h0M442 1233h0M448 1230h0"/><path class="R" d="M456 1252h0M442 1233h0M448 1230h0"/><path class="H" d="M468 1247h0M437 1229h0M451 1229h0"/><use href="#c60" class="c"/><use href="#h60" class="h"/><use href="#c60" class="C"/><use href="#h60" class="H"/><path class="b" d="M253 1239h0"/><path class="B" d="M253 1239h0"/><path class="O" d="M239 1233h0"/><path class="r" d="M247 1242h0M251 1236h0M230 1229h0"/><path class="R" d="M247 1242h0M251 1236h0M230 1229h0"/><path class="H" d="M254 1234h0"/><path class="b" d="M630 1246h0M653 1225h0"/><path class="B" d="M630 1246h0M653 1225h0"/><path class="O" d="M636 1232h0"/><path class="r" d="M646 1238h0M643 1241h0M624 1239h0M626 1224h0"/><path class="R" d="M646 1238h0M643 1241h0M624 1239h0M626 1224h0"/><path class="H" d="M657 1226h0M643 1243h0"/><path class="b" d="M60 1206h0M84 1211h0"/><path class="B" d="M60 1206h0M84 1211h0"/><path class="O" d="M67 1220h0"/><path class="r" d="M60 1228h0M56 1215h0"/><path class="R" d="M60 1228h0M56 1215h0"/><path class="H" d="M60 1206h0M65 1226h0"/><use href="#c61" class="c"/><use href="#h61" class="h"/><use href="#c61" class="C"/><use href="#h61" class="H"/><use href="#c62" class="c"/><use href="#h62" class="h"/><use href="#c62" class="C"/><use href="#h62" class="H"/><use href="#c63" class="c"/><use href="#h63" class="h"/><use href="#c63" class="C"/><use href="#h63" class="H"/><use href="#c64" class="c"/><use href="#h64" class="h"/><use href="#c64" class="C"/><use href="#h64" class="H"/><use href="#c65" class="c"/><use href="#h65" class="h"/><use href="#c65" class="C"/><use href="#h65" class="H"/><use href="#c66" class="c"/><use href="#h66" class="h"/><use href="#c66" class="C"/><use href="#h66" class="H"/><use href="#c67" class="c"/><use href="#h67" class="h"/><use href="#c67" class="C"/><use href="#h67" class="H"/><path class="b" d="M530 1274h0M521 1259h0"/><path class="B" d="M530 1274h0M521 1259h0"/><path class="O" d="M540 1263h0"/><path class="r" d="M526 1264h0M548 1267h0M543 1273h0"/><path class="R" d="M526 1264h0M548 1267h0M543 1273h0"/><path class="H" d="M532 1275h0M523 1254h0M525 1260h0M551 1268h0"/><path class="b" d="M575 1228h0"/><path class="B" d="M575 1228h0"/><path class="O" d="M588 1245h0"/><path class="r" d="M600 1244h0M584 1255h0"/><path class="R" d="M600 1244h0M584 1255h0"/><path class="H" d="M574 1223h0M598 1240h0"/><use href="#c68" class="c"/><use href="#h68" class="h"/><use href="#c68" class="C"/><use href="#h68" class="H"/><use href="#c69" class="c"/><use href="#h69" class="h"/><use href="#c69" class="C"/><use href="#h69" class="H"/><use href="#c70" class="c"/><use href="#h70" class="h"/><use href="#c70" class="C"/><use href="#h70" class="H"/><path class="b" d="M872 1242h0M886 1253h0"/><path class="B" d="M872 1242h0M886 1253h0"/><path class="O" d="M890 1232h0"/><path class="r" d="M905 1233h0M897 1225h0M879 1241h0M891 1244h0"/><path class="R" d="M905 1233h0M897 1225h0M879 1241h0M891 1244h0"/><path class="H" d="M870 1239h0M888 1254h0M902 1233h0M883 1238h0M891 1243h0"/><path class="b" d="M453 1273h0M478 1243h0"/><path class="B" d="M453 1273h0M478 1243h0"/><path class="O" d="M465 1255h0"/><path class="r" d="M473 1245h0M459 1247h0M455 1252h0"/><path class="R" d="M473 1245h0M459 1247h0M455 1252h0"/><path class="H" d="M457 1276h0M471 1249h0M463 1243h0"/><use href="#c71" class="c"/><use href="#h71" class="h"/><use href="#c71" class="C"/><use href="#h71" class="H"/><use href="#c72" class="c"/><use href="#h72" class="h"/><use href="#c72" class="C"/><use href="#h72" class="H"/><path class="b" d="M914 1222h0M904 1213h0"/><path class="B" d="M914 1222h0M904 1213h0"/><path class="O" d="M906 1233h0"/><path class="r" d="M911 1221h0M910 1223h0M899 1221h0M897 1239h0"/><path class="R" d="M911 1221h0M910 1223h0M899 1221h0M897 1239h0"/><path class="H" d="M905 1215h0M907 1224h0M907 1220h0"/><use href="#c73" class="c"/><use href="#h73" class="h"/><use href="#c73" class="C"/><use href="#h73" class="H"/><use href="#c74" class="c"/><use href="#h74" class="h"/><use href="#c74" class="C"/><use href="#h74" class="H"/><path class="b" d="M775 1262h0M802 1278h0"/><path class="B" d="M775 1262h0M802 1278h0"/><path class="O" d="M788 1270h0"/><path class="r" d="M777 1263h0M795 1263h0M797 1272h0M782 1278h0"/><path class="R" d="M777 1263h0M795 1263h0M797 1272h0M782 1278h0"/><path class="H" d="M795 1264h0M793 1268h0M784 1276h0"/><path class="b" d="M292 1260h0"/><path class="B" d="M292 1260h0"/><path class="O" d="M276 1250h0"/><path class="r" d="M271 1258h0M287 1253h0M287 1261h0"/><path class="R" d="M271 1258h0M287 1253h0M287 1261h0"/><path class="H" d="M293 1256h0M287 1259h0"/><use href="#c75" class="c"/><use href="#h75" class="h"/><use href="#c75" class="C"/><use href="#h75" class="H"/><path class="b" d="M851 1261h0M848 1258h0"/><path class="B" d="M851 1261h0M848 1258h0"/><path class="O" d="M832 1267h0"/><path class="r" d="M834 1278h0M841 1267h0M841 1272h0"/><path class="R" d="M834 1278h0M841 1267h0M841 1272h0"/><path class="H" d="M853 1256h0M846 1260h0M840 1271h0"/><use href="#c76" class="c"/><use href="#h76" class="h"/><use href="#c76" class="C"/><use href="#h76" class="H"/><path class="b" d="M424 1264h0M445 1282h0"/><path class="B" d="M424 1264h0M445 1282h0"/><path class="O" d="M426 1280h0"/><path class="r" d="M428 1267h0M432 1271h0M416 1276h0M433 1274h0"/><path class="R" d="M428 1267h0M432 1271h0M416 1276h0M433 1274h0"/><path class="H" d="M444 1285h0"/><use href="#c77" class="c"/><use href="#h77" class="h"/><use href="#c77" class="C"/><use href="#h77" class="H"/><path class="b" d="M532 1231h0M520 1263h0"/><path class="B" d="M532 1231h0M520 1263h0"/><path class="O" d="M534 1248h0"/><path class="r" d="M542 1243h0M538 1257h0M526 1243h0M523 1248h0"/><path class="R" d="M542 1243h0M538 1257h0M526 1243h0M523 1248h0"/><path class="H" d="M533 1229h0M525 1262h0M536 1260h0M529 1243h0M522 1246h0"/><use href="#c78" class="c"/><use href="#h78" class="h"/><use href="#c78" class="C"/><use href="#h78" class="H"/><use href="#c79" class="c"/><use href="#h79" class="h"/><use href="#c79" class="C"/><use href="#h79" class="H"/><use href="#c80" class="c"/><use href="#h80" class="h"/><use href="#c80" class="C"/><use href="#h80" class="H"/><path class="b" d="M877 1257h0"/><path class="B" d="M877 1257h0"/><path class="O" d="M860 1254h0"/><path class="r" d="M861 1264h0M851 1244h0M856 1242h0M873 1247h0"/><path class="R" d="M861 1264h0M851 1244h0M856 1242h0M873 1247h0"/><path class="H" d="M879 1258h0M855 1247h0M873 1245h0"/><use href="#c81" class="c"/><use href="#h81" class="h"/><use href="#c81" class="C"/><use href="#h81" class="H"/><path class="b" d="M561 1233h0M591 1252h0"/><path class="B" d="M561 1233h0M591 1252h0"/><path class="O" d="M579 1241h0"/><path class="r" d="M568 1233h0M568 1237h0M593 1245h0"/><path class="R" d="M568 1233h0M568 1237h0M593 1245h0"/><path class="H" d="M557 1236h0M589 1253h0M571 1236h0M565 1237h0"/><path class="b" d="M620 1264h0"/><path class="B" d="M620 1264h0"/><path class="O" d="M634 1257h0"/><path class="r" d="M622 1254h0M642 1261h0M640 1264h0M640 1245h0"/><path class="R" d="M622 1254h0M642 1261h0M640 1264h0M640 1245h0"/><path class="H" d="M620 1264h0"/><use href="#c82" class="c"/><use href="#h82" class="h"/><use href="#c82" class="C"/><use href="#h82" class="H"/><path class="b" d="M99 1239h0M123 1268h0"/><path class="B" d="M99 1239h0M123 1268h0"/><path class="O" d="M112 1250h0"/><path class="r" d="M108 1240h0M110 1238h0M124 1252h0M111 1241h0"/><path class="R" d="M108 1240h0M110 1238h0M124 1252h0M111 1241h0"/><path class="H" d="M100 1234h0M127 1271h0M111 1237h0"/><use href="#c83" class="c"/><use href="#h83" class="h"/><use href="#c83" class="C"/><use href="#h83" class="H"/><use href="#c84" class="c"/><use href="#h84" class="h"/><use href="#c84" class="C"/><use href="#h84" class="H"/><use href="#c85" class="c"/><use href="#h85" class="h"/><use href="#c85" class="C"/><use href="#h85" class="H"/><path class="b" d="M785 1252h0"/><path class="B" d="M785 1252h0"/><path class="O" d="M773 1241h0"/><path class="r" d="M781 1233h0M778 1230h0M762 1245h0M783 1251h0"/><path class="R" d="M781 1233h0M778 1230h0M762 1245h0M783 1251h0"/><path class="H" d="M779 1229h0M760 1246h0"/><use href="#c86" class="c"/><use href="#h86" class="h"/><use href="#c86" class="C"/><use href="#h86" class="H"/><use href="#c87" class="c"/><use href="#h87" class="h"/><use href="#c87" class="C"/><use href="#h87" class="H"/><use href="#c88" class="c"/><use href="#h88" class="h"/><use href="#c88" class="C"/><use href="#h88" class="H"/><path class="b" d="M650 1270h0M657 1264h0"/><path class="B" d="M650 1270h0M657 1264h0"/><path class="O" d="M656 1249h0"/><path class="r" d="M644 1252h0M653 1259h0M659 1239h0"/><path class="R" d="M644 1252h0M653 1259h0M659 1239h0"/><path class="H" d="M652 1270h0M656 1261h0M656 1237h0"/><path class="b" d="M733 1257h0M753 1228h0"/><path class="B" d="M733 1257h0M753 1228h0"/><path class="O" d="M750 1246h0"/><path class="r" d="M738 1253h0M758 1255h0"/><path class="R" d="M738 1253h0M758 1255h0"/><path class="H" d="M732 1261h0M757 1227h0M763 1256h0"/><use href="#c89" class="c"/><use href="#h89" class="h"/><use href="#c89" class="C"/><use href="#h89" class="H"/><path class="b" d="M924 1238h0"/><path class="B" d="M924 1238h0"/><path class="O" d="M910 1223h0"/><path class="r" d="M900 1218h0M916 1213h0M900 1224h0"/><path class="R" d="M900 1218h0M916 1213h0M900 1224h0"/><path class="H" d="M926 1234h0M901 1215h0M903 1220h0"/><path class="b" d="M433 1279h0"/><path class="B" d="M433 1279h0"/><path class="O" d="M450 1272h0"/><path class="r" d="M436 1278h0M439 1278h0"/><path class="R" d="M436 1278h0M439 1278h0"/><path class="H" d="M437 1277h0"/><path class="b" d="M787 1240h0"/><path class="B" d="M787 1240h0"/><path class="O" d="M782 1224h0"/><path class="r" d="M787 1238h0M791 1222h0M793 1221h0"/><path class="R" d="M787 1238h0M791 1222h0M793 1221h0"/><path class="H" d="M790 1241h0M789 1241h0"/><path class="b" d="M555 1267h0M546 1300h0"/><path class="B" d="M555 1267h0M546 1300h0"/><path class="O" d="M544 1282h0"/><path class="r" d="M553 1291h0M535 1271h0"/><path class="R" d="M553 1291h0M535 1271h0"/><path class="H" d="M548 1299h0M557 1287h0"/><path class="b" d="M485 1246h0M479 1237h0"/><path class="B" d="M485 1246h0M479 1237h0"/><path class="O" d="M494 1233h0"/><path class="r" d="M481 1234h0M506 1231h0"/><path class="R" d="M481 1234h0M506 1231h0"/><path class="H" d="M488 1242h0M479 1235h0"/><use href="#c90" class="c"/><use href="#h90" class="h"/><use href="#c90" class="C"/><use href="#h90" class="H"/><use href="#c91" class="c"/><use href="#h91" class="h"/><use href="#c91" class="C"/><use href="#h91" class="H"/><use href="#c92" class="c"/><use href="#h92" class="h"/><use href="#c92" class="C"/><use href="#h92" class="H"/><path class="b" d="M486 1246h0M475 1253h0"/><path class="B" d="M486 1246h0M475 1253h0"/><path class="O" d="M469 1235h0"/><path class="r" d="M482 1243h0M463 1224h0"/><path class="R" d="M482 1243h0M463 1224h0"/><path class="H" d="M488 1248h0M477 1243h0M461 1219h0"/><path class="b" d="M471 1252h0"/><path class="B" d="M471 1252h0"/><path class="O" d="M453 1251h0"/><path class="r" d="M462 1241h0M454 1239h0M450 1261h0"/><path class="R" d="M462 1241h0M454 1239h0M450 1261h0"/><path class="H" d="M474 1254h0M465 1240h0M457 1237h0M449 1261h0"/><path class="b" d="M402 1243h0"/><path class="B" d="M402 1243h0"/><path class="O" d="M408 1262h0"/><path class="r" d="M407 1274h0M400 1256h0M412 1249h0M399 1252h0"/><path class="R" d="M407 1274h0M400 1256h0M412 1249h0M399 1252h0"/><path class="H" d="M404 1278h0M399 1259h0M408 1245h0"/><path class="b" d="M710 1252h0M712 1258h0"/><path class="B" d="M710 1252h0M712 1258h0"/><path class="O" d="M725 1266h0"/><path class="r" d="M736 1268h0M710 1270h0M714 1273h0"/><path class="R" d="M736 1268h0M710 1270h0M714 1273h0"/><path class="H" d="M706 1253h0M714 1265h0M712 1276h0"/><use href="#c93" class="c"/><use href="#h93" class="h"/><use href="#c93" class="C"/><use href="#h93" class="H"/><use href="#c94" class="c"/><use href="#h94" class="h"/><use href="#c94" class="C"/><use href="#h94" class="H"/><use href="#c95" class="c"/><use href="#h95" class="h"/><use href="#c95" class="C"/><use href="#h95" class="H"/><use href="#c96" class="c"/><use href="#h96" class="h"/><use href="#c96" class="C"/><use href="#h96" class="H"/><path class="b" d="M38 1234h0M53 1239h0"/><path class="B" d="M38 1234h0M53 1239h0"/><path class="O" d="M54 1223h0"/><path class="r" d="M56 1214h0M44 1220h0"/><path class="R" d="M56 1214h0M44 1220h0"/><path class="H" d="M40 1236h0M57 1236h0M57 1210h0M42 1222h0"/><use href="#c97" class="c"/><use href="#h97" class="h"/><use href="#c97" class="C"/><use href="#h97" class="H"/><use href="#c98" class="c"/><use href="#h98" class="h"/><use href="#c98" class="C"/><use href="#h98" class="H"/><use href="#c99" class="c"/><use href="#h99" class="h"/><use href="#c99" class="C"/><use href="#h99" class="H"/><path class="b" d="M483 1263h0"/><path class="B" d="M483 1263h0"/><path class="O" d="M473 1273h0"/><path class="r" d="M478 1281h0M482 1284h0M482 1263h0M473 1261h0"/><path class="R" d="M478 1281h0M482 1284h0M482 1263h0M473 1261h0"/><path class="H" d="M481 1266h0M477 1281h0M470 1258h0"/><path class="b" d="M760 1241h0M789 1240h0"/><path class="B" d="M760 1241h0M789 1240h0"/><path class="O" d="M775 1244h0"/><path class="r" d="M773 1230h0M765 1240h0"/><path class="R" d="M773 1230h0M765 1240h0"/><path class="H" d="M790 1242h0M771 1231h0"/><use href="#c100" class="c"/><use href="#h100" class="h"/><use href="#c100" class="C"/><use href="#h100" class="H"/><path class="b" d="M832 1268h0"/><path class="B" d="M832 1268h0"/><path class="O" d="M841 1248h0"/><path class="r" d="M828 1254h0M833 1236h0"/><path class="R" d="M828 1254h0M833 1236h0"/><path class="H" d="M837 1272h0"/><use href="#c101" class="c"/><use href="#h101" class="h"/><use href="#c101" class="C"/><use href="#h101" class="H"/><use href="#c102" class="c"/><use href="#h102" class="h"/><use href="#c102" class="C"/><use href="#h102" class="H"/><path class="b" d="M495 1291h0"/><path class="B" d="M495 1291h0"/><path class="O" d="M491 1273h0"/><path class="r" d="M500 1272h0M484 1263h0M505 1267h0M502 1270h0"/><path class="R" d="M500 1272h0M484 1263h0M505 1267h0M502 1270h0"/><path class="H" d="M491 1290h0M506 1271h0"/><path class="b" d="M599 1259h0"/><path class="B" d="M599 1259h0"/><path class="O" d="M579 1252h0"/><path class="r" d="M587 1263h0M586 1263h0"/><path class="R" d="M587 1263h0M586 1263h0"/><path class="H" d="M597 1258h0M585 1264h0"/><path class="b" d="M184 1249h0M196 1241h0"/><path class="B" d="M184 1249h0M196 1241h0"/><path class="O" d="M200 1262h0"/><path class="r" d="M195 1249h0M201 1251h0M200 1272h0"/><path class="R" d="M195 1249h0M201 1251h0M200 1272h0"/><path class="H" d="M184 1251h0M201 1243h0"/><use href="#c103" class="c"/><use href="#h103" class="h"/><use href="#c103" class="C"/><use href="#h103" class="H"/><use href="#c104" class="c"/><use href="#h104" class="h"/><use href="#c104" class="C"/><use href="#h104" class="H"/><use href="#c105" class="c"/><use href="#h105" class="h"/><use href="#c105" class="C"/><use href="#h105" class="H"/><path class="b" d="M123 1251h0M113 1246h0"/><path class="B" d="M123 1251h0M113 1246h0"/><path class="O" d="M119 1267h0"/><path class="r" d="M110 1268h0M112 1257h0M121 1258h0"/><path class="R" d="M110 1268h0M112 1257h0M121 1258h0"/><path class="H" d="M122 1246h0M117 1243h0M110 1271h0"/><path class="b" d="M707 1258h0M723 1231h0"/><path class="B" d="M707 1258h0M723 1231h0"/><path class="O" d="M723 1247h0"/><path class="r" d="M714 1258h0M729 1257h0M732 1242h0"/><path class="R" d="M714 1258h0M729 1257h0M732 1242h0"/><path class="H" d="M708 1259h0M726 1226h0M711 1257h0M732 1244h0"/><use href="#c106" class="c"/><use href="#h106" class="h"/><use href="#c106" class="C"/><use href="#h106" class="H"/><path class="b" d="M530 1257h0"/><path class="B" d="M530 1257h0"/><path class="O" d="M537 1271h0"/><path class="r" d="M538 1281h0M542 1259h0M525 1271h0"/><path class="R" d="M538 1281h0M542 1259h0M525 1271h0"/><path class="H" d="M532 1254h0M536 1285h0M537 1259h0"/><path class="b" d="M298 1245h0M264 1261h0"/><path class="B" d="M298 1245h0M264 1261h0"/><path class="O" d="M278 1255h0"/><path class="r" d="M268 1254h0M277 1246h0"/><path class="R" d="M268 1254h0M277 1246h0"/><path class="H" d="M301 1244h0M265 1257h0M273 1245h0"/><use href="#c107" class="c"/><use href="#h107" class="h"/><use href="#c107" class="C"/><use href="#h107" class="H"/><path class="b" d="M85 1273h0"/><path class="B" d="M85 1273h0"/><path class="O" d="M72 1263h0"/><path class="r" d="M74 1254h0M78 1252h0"/><path class="R" d="M74 1254h0M78 1252h0"/><path class="H" d="M81 1271h0M77 1250h0"/><use href="#c108" class="c"/><use href="#h108" class="h"/><use href="#c108" class="C"/><use href="#h108" class="H"/><path class="b" d="M118 1262h0M127 1279h0"/><path class="B" d="M118 1262h0M127 1279h0"/><path class="O" d="M108 1273h0"/><path class="r" d="M115 1279h0M121 1267h0"/><path class="R" d="M115 1279h0M121 1267h0"/><path class="H" d="M115 1262h0M125 1271h0"/><path class="b" d="M460 1238h0"/><path class="B" d="M460 1238h0"/><path class="O" d="M463 1220h0"/><path class="r" d="M461 1211h0M452 1216h0"/><path class="R" d="M461 1211h0M452 1216h0"/><path class="H" d="M459 1213h0"/><path class="b" d="M75 1249h0M69 1246h0"/><path class="B" d="M75 1249h0M69 1246h0"/><path class="O" d="M72 1264h0"/><path class="r" d="M66 1254h0M80 1275h0M70 1278h0"/><path class="R" d="M66 1254h0M80 1275h0M70 1278h0"/><path class="H" d="M67 1246h0M62 1254h0M82 1278h0M72 1276h0"/><use href="#c109" class="c"/><use href="#h109" class="h"/><use href="#c109" class="C"/><use href="#h109" class="H"/><use href="#c110" class="c"/><use href="#h110" class="h"/><use href="#c110" class="C"/><use href="#h110" class="H"/><path class="b" d="M262 1291h0"/><path class="B" d="M262 1291h0"/><path class="O" d="M268 1272h0"/><path class="r" d="M277 1277h0M281 1267h0M262 1278h0M260 1281h0"/><path class="R" d="M277 1277h0M281 1267h0M262 1278h0M260 1281h0"/><path class="H" d="M263 1287h0M276 1275h0M265 1282h0M260 1278h0"/><path class="b" d="M449 1264h0M456 1288h0"/><path class="B" d="M449 1264h0M456 1288h0"/><path class="O" d="M466 1271h0"/><path class="r" d="M476 1269h0M476 1268h0M476 1273h0"/><path class="R" d="M476 1269h0M476 1268h0M476 1273h0"/><path class="H" d="M452 1289h0M479 1270h0M477 1269h0M476 1269h0"/><use href="#c111" class="c"/><use href="#h111" class="h"/><use href="#c111" class="C"/><use href="#h111" class="H"/><path class="b" d="M261 1241h0"/><path class="B" d="M261 1241h0"/><path class="O" d="M266 1254h0"/><path class="r" d="M260 1247h0M265 1239h0M276 1244h0M252 1257h0"/><path class="R" d="M260 1247h0M265 1239h0M276 1244h0M252 1257h0"/><path class="H" d="M261 1238h0M259 1250h0M266 1239h0"/><use href="#c112" class="c"/><use href="#h112" class="h"/><use href="#c112" class="C"/><use href="#h112" class="H"/><path class="b" d="M333 1278h0"/><path class="B" d="M333 1278h0"/><path class="O" d="M343 1266h0"/><path class="r" d="M333 1275h0M348 1257h0"/><path class="R" d="M333 1275h0M348 1257h0"/><path class="H" d="M329 1280h0M346 1259h0"/><path class="b" d="M482 1250h0M468 1282h0"/><path class="B" d="M482 1250h0M468 1282h0"/><path class="O" d="M469 1261h0"/><path class="r" d="M467 1273h0M456 1266h0M464 1270h0"/><path class="R" d="M467 1273h0M456 1266h0M464 1270h0"/><path class="H" d="M477 1252h0M458 1267h0"/><use href="#c113" class="c"/><use href="#h113" class="h"/><use href="#c113" class="C"/><use href="#h113" class="H"/><use href="#c114" class="c"/><use href="#h114" class="h"/><use href="#c114" class="C"/><use href="#h114" class="H"/><use href="#c115" class="c"/><use href="#h115" class="h"/><use href="#c115" class="C"/><use href="#h115" class="H"/><path class="b" d="M240 1253h0"/><path class="B" d="M240 1253h0"/><path class="O" d="M227 1246h0"/><path class="r" d="M231 1235h0M236 1243h0M214 1239h0"/><path class="R" d="M231 1235h0M236 1243h0M214 1239h0"/><path class="H" d="M236 1251h0M229 1238h0M235 1246h0M210 1240h0"/><path class="b" d="M629 1210h0"/><path class="B" d="M629 1210h0"/><path class="O" d="M639 1228h0"/><path class="r" d="M638 1238h0M627 1227h0"/><path class="R" d="M638 1238h0M627 1227h0"/><path class="H" d="M633 1209h0M640 1237h0M632 1227h0"/><use href="#c116" class="c"/><use href="#h116" class="h"/><use href="#c116" class="C"/><use href="#h116" class="H"/><use href="#c117" class="c"/><use href="#h117" class="h"/><use href="#c117" class="C"/><use href="#h117" class="H"/><use href="#c118" class="c"/><use href="#h118" class="h"/><use href="#c118" class="C"/><use href="#h118" class="H"/><use href="#c119" class="c"/><use href="#h119" class="h"/><use href="#c119" class="C"/><use href="#h119" class="H"/><path class="b" d="M325 1245h0"/><path class="B" d="M325 1245h0"/><path class="O" d="M312 1227h0"/><path class="r" d="M318 1237h0M325 1231h0"/><path class="R" d="M318 1237h0M325 1231h0"/><path class="H" d="M320 1239h0"/><use href="#c120" class="c"/><use href="#h120" class="h"/><use href="#c120" class="C"/><use href="#h120" class="H"/><path class="b" d="M535 1258h0"/><path class="B" d="M535 1258h0"/><path class="O" d="M550 1254h0"/><path class="r" d="M548 1268h0M539 1261h0"/><path class="R" d="M548 1268h0M539 1261h0"/><path class="H" d="M551 1269h0"/><path class="b" d="M633 1265h0"/><path class="B" d="M633 1265h0"/><path class="O" d="M625 1278h0"/><path class="r" d="M636 1286h0M616 1290h0M635 1281h0M610 1279h0"/><path class="R" d="M636 1286h0M616 1290h0M635 1281h0M610 1279h0"/><path class="H" d="M633 1262h0M617 1287h0M610 1278h0"/><use href="#c121" class="c"/><use href="#h121" class="h"/><use href="#c121" class="C"/><use href="#h121" class="H"/><path class="b" d="M98 1267h0"/><path class="B" d="M98 1267h0"/><path class="O" d="M106 1279h0"/><path class="r" d="M97 1285h0M118 1271h0M115 1290h0M92 1272h0"/><path class="R" d="M97 1285h0M118 1271h0M115 1290h0M92 1272h0"/><path class="H" d="M92 1285h0M114 1289h0"/><use href="#c122" class="c"/><use href="#h122" class="h"/><use href="#c122" class="C"/><use href="#h122" class="H"/><path class="b" d="M733 1260h0M735 1258h0"/><path class="B" d="M733 1260h0M735 1258h0"/><path class="O" d="M730 1243h0"/><path class="r" d="M725 1236h0M733 1257h0"/><path class="R" d="M725 1236h0M733 1257h0"/><path class="H" d="M737 1260h0M721 1236h0M728 1256h0"/><path class="b" d="M849 1268h0"/><path class="B" d="M849 1268h0"/><path class="O" d="M856 1252h0"/><path class="r" d="M870 1249h0M851 1261h0"/><path class="R" d="M870 1249h0M851 1261h0"/><path class="H" d="M850 1258h0"/><path class="b" d="M450 1202h0M435 1205h0"/><path class="B" d="M450 1202h0M435 1205h0"/><path class="O" d="M440 1220h0"/><path class="r" d="M447 1212h0M449 1225h0M435 1228h0M433 1212h0"/><path class="R" d="M447 1212h0M449 1225h0M435 1228h0M433 1212h0"/><path class="H" d="M432 1202h0M445 1208h0M453 1223h0"/><path class="b" d="M189 1265h0M190 1296h0"/><path class="B" d="M189 1265h0M190 1296h0"/><path class="O" d="M182 1282h0"/><path class="r" d="M182 1296h0M174 1293h0M194 1289h0"/><path class="R" d="M182 1296h0M174 1293h0M194 1289h0"/><path class="H" d="M186 1265h0M194 1298h0M178 1296h0"/><use href="#c123" class="c"/><use href="#h123" class="h"/><use href="#c123" class="C"/><use href="#h123" class="H"/><path class="b" d="M285 1221h0"/><path class="B" d="M285 1221h0"/><path class="O" d="M300 1234h0"/><path class="r" d="M290 1232h0M295 1225h0"/><path class="R" d="M290 1232h0M295 1225h0"/><path class="H" d="M286 1216h0M294 1221h0"/><use href="#c124" class="c"/><use href="#h124" class="h"/><use href="#c124" class="C"/><use href="#h124" class="H"/><path class="b" d="M421 1273h0M447 1241h0"/><path class="B" d="M421 1273h0M447 1241h0"/><path class="O" d="M433 1255h0"/><path class="r" d="M424 1252h0M429 1266h0M428 1264h0M430 1267h0"/><path class="R" d="M424 1252h0M429 1266h0M428 1264h0M430 1267h0"/><path class="H" d="M421 1276h0M443 1241h0M426 1248h0M428 1264h0M426 1269h0"/><use href="#c125" class="c"/><use href="#h125" class="h"/><use href="#c125" class="C"/><use href="#h125" class="H"/><path class="b" d="M426 1275h0M446 1263h0"/><path class="B" d="M426 1275h0M446 1263h0"/><path class="O" d="M433 1259h0"/><path class="r" d="M438 1267h0M428 1271h0"/><path class="R" d="M438 1267h0M428 1271h0"/><path class="H" d="M439 1263h0M426 1274h0"/><use href="#c126" class="c"/><use href="#h126" class="h"/><use href="#c126" class="C"/><use href="#h126" class="H"/><path class="b" d="M134 1241h0"/><path class="B" d="M134 1241h0"/><path class="O" d="M152 1244h0"/><path class="r" d="M159 1238h0M142 1246h0M161 1252h0M151 1257h0"/><path class="R" d="M159 1238h0M142 1246h0M161 1252h0M151 1257h0"/><path class="H" d="M131 1237h0M159 1237h0M157 1250h0"/><path class="b" d="M866 1226h0"/><path class="B" d="M866 1226h0"/><path class="O" d="M878 1236h0"/><path class="r" d="M865 1238h0M871 1225h0M869 1235h0M890 1235h0"/><path class="R" d="M865 1238h0M871 1225h0M869 1235h0M890 1235h0"/><path class="H" d="M868 1230h0M873 1236h0M885 1235h0"/><path class="b" d="M516 1271h0"/><path class="B" d="M516 1271h0"/><path class="O" d="M494 1270h0"/><path class="r" d="M505 1278h0M499 1284h0M498 1256h0M482 1267h0"/><path class="R" d="M505 1278h0M499 1284h0M498 1256h0M482 1267h0"/><path class="H" d="M513 1267h0M501 1274h0M495 1286h0M498 1255h0M482 1262h0"/><use href="#c127" class="c"/><use href="#h127" class="h"/><use href="#c127" class="C"/><use href="#h127" class="H"/><use href="#c128" class="c"/><use href="#h128" class="h"/><use href="#c128" class="C"/><use href="#h128" class="H"/><path class="b" d="M309 1218h0M337 1226h0"/><path class="B" d="M309 1218h0M337 1226h0"/><path class="O" d="M319 1230h0"/><path class="r" d="M321 1220h0M330 1238h0"/><path class="R" d="M321 1220h0M330 1238h0"/><path class="H" d="M335 1221h0M325 1218h0"/><use href="#c129" class="c"/><use href="#h129" class="h"/><use href="#c129" class="C"/><use href="#h129" class="H"/><path class="b" d="M38 1251h0M38 1256h0"/><path class="B" d="M38 1251h0M38 1256h0"/><path class="O" d="M52 1255h0"/><path class="r" d="M59 1263h0M42 1253h0M38 1256h0"/><path class="R" d="M59 1263h0M42 1253h0M38 1256h0"/><path class="H" d="M37 1250h0M41 1252h0M61 1265h0M45 1255h0M34 1258h0"/><path class="b" d="M78 1269h0"/><path class="B" d="M78 1269h0"/><path class="O" d="M61 1261h0"/><path class="r" d="M51 1252h0M55 1252h0M72 1267h0M52 1255h0M53 1265h0"/><path class="R" d="M51 1252h0M55 1252h0M72 1267h0M52 1255h0M53 1265h0"/><path class="H" d="M74 1272h0M59 1254h0M54 1252h0M56 1262h0"/><path class="b" d="M46 1279h0M42 1249h0"/><path class="B" d="M46 1279h0M42 1249h0"/><path class="O" d="M56 1262h0"/><path class="r" d="M67 1253h0M45 1271h0M45 1255h0M55 1276h0M66 1263h0"/><path class="R" d="M67 1253h0M45 1271h0M45 1255h0M55 1276h0M66 1263h0"/><path class="H" d="M50 1282h0M46 1247h0M70 1249h0M41 1269h0M57 1275h0M70 1261h0"/><path class="b" d="M42 1275h0"/><path class="B" d="M42 1275h0"/><path class="O" d="M57 1265h0"/><path class="r" d="M55 1256h0M59 1255h0M48 1274h0"/><path class="R" d="M55 1256h0M59 1255h0M48 1274h0"/><path class="H" d="M43 1273h0M54 1253h0M45 1274h0"/><path class="b" d="M67 1285h0M50 1259h0"/><path class="B" d="M67 1285h0M50 1259h0"/><path class="O" d="M70 1265h0"/><path class="r" d="M79 1256h0M77 1271h0M73 1252h0"/><path class="R" d="M79 1256h0M77 1271h0M73 1252h0"/><path class="H" d="M67 1280h0M49 1257h0M79 1254h0M72 1255h0"/><path class="b" d="M67 1278h0M58 1246h0"/><path class="B" d="M67 1278h0M58 1246h0"/><path class="O" d="M50 1266h0"/><path class="r" d="M62 1266h0M45 1276h0M53 1276h0M57 1260h0"/><path class="R" d="M62 1266h0M45 1276h0M53 1276h0M57 1260h0"/><path class="H" d="M58 1248h0M59 1263h0M43 1272h0M59 1255h0"/><path class="b" d="M950 1253h0"/><path class="B" d="M950 1253h0"/><path class="O" d="M947 1267h0"/><path class="r" d="M936 1268h0M954 1254h0M960 1270h0"/><path class="R" d="M936 1268h0M954 1254h0M960 1270h0"/><path class="H" d="M947 1249h0M940 1268h0M958 1250h0M965 1270h0"/><path class="b" d="M72 1278h0"/><path class="B" d="M72 1278h0"/><path class="O" d="M62 1267h0"/><path class="r" d="M64 1259h0M69 1274h0M75 1260h0M74 1274h0"/><path class="R" d="M64 1259h0M69 1274h0M75 1260h0M74 1274h0"/><path class="H" d="M72 1282h0M65 1276h0M70 1258h0"/><path class="b" d="M56 1283h0M75 1285h0"/><path class="B" d="M56 1283h0M75 1285h0"/><path class="O" d="M67 1270h0"/><path class="r" d="M75 1278h0M65 1282h0M62 1261h0"/><path class="R" d="M75 1278h0M65 1282h0M62 1261h0"/><path class="H" d="M73 1284h0M79 1275h0M62 1280h0M58 1260h0"/><path class="b" d="M938 1287h0M932 1285h0"/><path class="B" d="M938 1287h0M932 1285h0"/><path class="O" d="M930 1271h0"/><path class="r" d="M933 1280h0M921 1273h0M935 1262h0"/><path class="R" d="M933 1280h0M921 1273h0M935 1262h0"/><path class="H" d="M939 1288h0M934 1288h0M936 1257h0"/><path class="b" d="M71 1275h0M65 1261h0"/><path class="B" d="M71 1275h0M65 1261h0"/><path class="O" d="M51 1271h0"/><path class="r" d="M41 1269h0M43 1275h0M39 1278h0M43 1282h0"/><path class="R" d="M41 1269h0M43 1275h0M39 1278h0M43 1282h0"/><path class="H" d="M65 1256h0M39 1272h0M43 1280h0M39 1284h0"/><path class="b" d="M76 1274h0M74 1264h0"/><path class="B" d="M76 1274h0M74 1264h0"/><path class="O" d="M54 1272h0"/><path class="r" d="M50 1261h0M67 1280h0M63 1269h0"/><path class="R" d="M50 1261h0M67 1280h0M63 1269h0"/><path class="H" d="M75 1269h0M50 1257h0M65 1265h0"/><path class="b" d="M79 1252h0M83 1258h0"/><path class="B" d="M79 1252h0M83 1258h0"/><path class="O" d="M75 1273h0"/><path class="r" d="M64 1275h0M77 1284h0M70 1264h0M76 1286h0"/><path class="R" d="M64 1275h0M77 1284h0M70 1264h0M76 1286h0"/><path class="H" d="M82 1261h0M72 1261h0"/><path class="b" d="M931 1263h0M936 1257h0"/><path class="B" d="M931 1263h0M936 1257h0"/><path class="O" d="M941 1274h0"/><path class="r" d="M934 1287h0M948 1263h0M929 1281h0"/><path class="R" d="M934 1287h0M948 1263h0M929 1281h0"/><path class="H" d="M932 1267h0M932 1255h0M950 1261h0M929 1277h0"/><path class="b" d="M941 1270h0M918 1268h0"/><path class="B" d="M941 1270h0M918 1268h0"/><path class="O" d="M928 1278h0"/><path class="r" d="M937 1270h0M928 1288h0M934 1286h0M937 1267h0M916 1276h0"/><path class="R" d="M937 1270h0M928 1288h0M934 1286h0M937 1267h0M916 1276h0"/><path class="H" d="M940 1268h0M921 1268h0M931 1288h0"/><path class="b" d="M934 1294h0M927 1259h0"/><path class="B" d="M934 1294h0M927 1259h0"/><path class="O" d="M936 1279h0"/><path class="r" d="M937 1267h0M930 1268h0M927 1288h0M944 1289h0M945 1274h0"/><path class="R" d="M937 1267h0M930 1268h0M927 1288h0M944 1289h0M945 1274h0"/><path class="H" d="M938 1291h0M938 1265h0M932 1288h0M943 1286h0M943 1277h0"/><path class="b" d="M946 1261h0M947 1275h0"/><path class="B" d="M946 1261h0M947 1275h0"/><path class="O" d="M934 1279h0"/><path class="r" d="M928 1272h0M933 1291h0M934 1269h0"/><path class="R" d="M928 1272h0M933 1291h0M934 1269h0"/><path class="H" d="M945 1257h0M923 1271h0M934 1287h0M937 1267h0"/><path class="b" d="M74 1269h0"/><path class="B" d="M74 1269h0"/><path class="O" d="M87 1281h0"/><path class="r" d="M78 1273h0M97 1279h0M78 1288h0M79 1290h0M76 1272h0"/><path class="R" d="M78 1273h0M97 1279h0M78 1288h0M79 1290h0M76 1272h0"/><path class="H" d="M77 1268h0M94 1276h0M76 1290h0M80 1285h0M73 1269h0"/><path class="b" d="M944 1296h0"/><path class="B" d="M944 1296h0"/><path class="O" d="M929 1281h0"/><path class="r" d="M925 1290h0M938 1288h0M922 1271h0"/><path class="R" d="M925 1290h0M938 1288h0M922 1271h0"/><path class="H" d="M947 1292h0M936 1291h0M922 1272h0"/><path class="b" d="M908 1292h0M914 1295h0"/><path class="B" d="M908 1292h0M914 1295h0"/><path class="O" d="M919 1282h0"/><path class="r" d="M911 1290h0M906 1284h0M906 1284h0M926 1277h0"/><path class="R" d="M911 1290h0M906 1284h0M906 1284h0M926 1277h0"/><path class="H" d="M904 1289h0M916 1298h0M908 1287h0M905 1282h0M924 1275h0"/><path class="b" d="M83 1302h0M103 1284h0"/><path class="B" d="M83 1302h0M103 1284h0"/><path class="O" d="M84 1282h0"/><path class="r" d="M71 1281h0M73 1283h0M81 1290h0M73 1277h0M98 1287h0"/><path class="R" d="M71 1281h0M73 1283h0M81 1290h0M73 1277h0M98 1287h0"/><path class="H" d="M79 1301h0M75 1285h0M85 1288h0M73 1275h0M102 1283h0"/><path class="b" d="M932 1268h0M923 1294h0"/><path class="B" d="M932 1268h0M923 1294h0"/><path class="O" d="M934 1282h0"/><path class="r" d="M943 1279h0M923 1280h0M945 1291h0"/><path class="R" d="M943 1279h0M923 1280h0M945 1291h0"/><path class="H" d="M923 1296h0M947 1281h0M919 1279h0M946 1286h0"/><path class="b" d="M905 1295h0M898 1285h0"/><path class="B" d="M905 1295h0M898 1285h0"/><path class="O" d="M915 1283h0"/><path class="r" d="M902 1283h0M908 1292h0M915 1293h0M902 1284h0M908 1275h0"/><path class="R" d="M902 1283h0M908 1292h0M915 1293h0M902 1284h0M908 1275h0"/><path class="H" d="M901 1282h0M920 1294h0M905 1287h0M911 1272h0"/><path class="b" d="M133 1272h0M129 1270h0"/><path class="B" d="M133 1272h0M129 1270h0"/><path class="O" d="M121 1283h0"/><path class="r" d="M130 1277h0M117 1275h0M117 1271h0M109 1281h0M115 1294h0"/><path class="R" d="M130 1277h0M117 1275h0M117 1271h0M109 1281h0M115 1294h0"/><path class="H" d="M135 1268h0M129 1270h0M134 1277h0M120 1290h0"/><path class="b" d="M343 1285h0M327 1302h0"/><path class="B" d="M343 1285h0M327 1302h0"/><path class="O" d="M327 1283h0"/><path class="r" d="M313 1286h0M320 1290h0M314 1289h0M340 1283h0M331 1295h0"/><path class="R" d="M313 1286h0M320 1290h0M314 1289h0M340 1283h0M331 1295h0"/><path class="H" d="M326 1297h0M317 1285h0M316 1292h0M344 1284h0"/><path class="b" d="M164 1301h0M168 1301h0"/><path class="B" d="M164 1301h0M168 1301h0"/><path class="O" d="M160 1284h0"/><path class="r" d="M160 1293h0M166 1273h0M169 1287h0M163 1274h0"/><path class="R" d="M160 1293h0M166 1273h0M169 1287h0M163 1274h0"/><path class="H" d="M167 1304h0M167 1301h0M169 1283h0"/><path class="b" d="M151 1274h0"/><path class="B" d="M151 1274h0"/><path class="O" d="M140 1284h0"/><path class="r" d="M132 1279h0M127 1288h0M134 1272h0M127 1280h0M127 1284h0"/><path class="R" d="M132 1279h0M127 1288h0M134 1272h0M127 1280h0M127 1284h0"/><path class="H" d="M153 1270h0M127 1282h0M130 1272h0M131 1288h0"/><path class="b" d="M122 1276h0M119 1294h0"/><path class="B" d="M122 1276h0M119 1294h0"/><path class="O" d="M106 1284h0"/><path class="r" d="M118 1276h0M118 1287h0M115 1276h0M93 1283h0"/><path class="R" d="M118 1276h0M118 1287h0M115 1276h0M93 1283h0"/><path class="H" d="M124 1278h0M122 1293h0M117 1287h0"/><path class="b" d="M172 1295h0"/><path class="B" d="M172 1295h0"/><path class="O" d="M183 1284h0"/><path class="r" d="M181 1274h0M180 1294h0M181 1294h0"/><path class="R" d="M181 1274h0M180 1294h0M181 1294h0"/><path class="H" d="M174 1293h0M177 1291h0"/><path class="b" d="M381 1298h0"/><path class="B" d="M381 1298h0"/><path class="O" d="M396 1285h0"/><path class="r" d="M401 1274h0M389 1297h0M386 1294h0"/><path class="R" d="M401 1274h0M389 1297h0M386 1294h0"/><path class="H" d="M393 1296h0"/><path class="b" d="M195 1292h0"/><path class="B" d="M195 1292h0"/><path class="O" d="M210 1285h0"/><path class="r" d="M217 1293h0M200 1280h0M201 1294h0M219 1276h0"/><path class="R" d="M217 1293h0M200 1280h0M201 1294h0M219 1276h0"/><path class="H" d="M216 1293h0M203 1295h0M219 1278h0"/><path class="b" d="M134 1301h0"/><path class="B" d="M134 1301h0"/><path class="O" d="M136 1285h0"/><path class="r" d="M125 1295h0M142 1276h0M143 1292h0M142 1277h0"/><path class="R" d="M125 1295h0M142 1276h0M143 1292h0M142 1277h0"/><path class="H" d="M137 1297h0M124 1299h0M145 1287h0M145 1276h0"/><path class="b" d="M449 1290h0"/><path class="B" d="M449 1290h0"/><path class="O" d="M431 1285h0"/><path class="r" d="M422 1288h0M433 1298h0M440 1282h0M422 1291h0M423 1291h0"/><path class="R" d="M422 1288h0M433 1298h0M440 1282h0M422 1291h0M423 1291h0"/><path class="H" d="M454 1289h0M438 1301h0M438 1280h0M419 1286h0M418 1294h0"/><path class="b" d="M930 1303h0M941 1296h0"/><path class="B" d="M930 1303h0M941 1296h0"/><path class="O" d="M923 1285h0"/><path class="r" d="M918 1299h0M910 1292h0M922 1272h0M915 1278h0M911 1282h0"/><path class="R" d="M918 1299h0M910 1292h0M922 1272h0M915 1278h0M911 1282h0"/><path class="H" d="M930 1301h0M919 1269h0M910 1285h0"/><path class="b" d="M686 1270h0"/><path class="B" d="M686 1270h0"/><path class="O" d="M684 1286h0"/><path class="r" d="M677 1279h0M671 1291h0M686 1275h0M693 1279h0M697 1288h0"/><path class="R" d="M677 1279h0M671 1291h0M686 1275h0M693 1279h0M697 1288h0"/><path class="H" d="M669 1290h0M693 1278h0M693 1290h0"/><path class="b" d="M145 1283h0M130 1265h0"/><path class="B" d="M145 1283h0M130 1265h0"/><path class="O" d="M130 1286h0"/><path class="r" d="M137 1275h0M128 1277h0M126 1278h0"/><path class="R" d="M137 1275h0M128 1277h0M126 1278h0"/><path class="H" d="M132 1264h0"/><path class="b" d="M617 1265h0"/><path class="B" d="M617 1265h0"/><path class="O" d="M616 1286h0"/><path class="r" d="M617 1272h0M620 1274h0M625 1291h0M603 1287h0"/><path class="R" d="M617 1272h0M620 1274h0M625 1291h0M603 1287h0"/><path class="H" d="M615 1267h0"/><path class="b" d="M131 1297h0M103 1289h0"/><path class="B" d="M131 1297h0M103 1289h0"/><path class="O" d="M118 1287h0"/><path class="r" d="M123 1275h0M120 1300h0M126 1283h0M107 1285h0M109 1297h0"/><path class="R" d="M123 1275h0M120 1300h0M126 1283h0M107 1285h0M109 1297h0"/><path class="H" d="M103 1287h0M125 1275h0"/><path class="b" d="M901 1280h0"/><path class="B" d="M901 1280h0"/><path class="O" d="M917 1287h0"/><path class="r" d="M916 1273h0M905 1289h0M927 1278h0"/><path class="R" d="M916 1273h0M905 1289h0M927 1278h0"/><path class="H" d="M916 1274h0"/><path class="b" d="M402 1301h0M391 1306h0"/><path class="B" d="M402 1301h0M391 1306h0"/><path class="O" d="M397 1287h0"/><path class="r" d="M400 1297h0M407 1295h0M403 1298h0M391 1297h0"/><path class="R" d="M400 1297h0M407 1295h0M403 1298h0M391 1297h0"/><path class="H" d="M407 1304h0M388 1303h0M402 1297h0M402 1296h0"/><path class="b" d="M676 1301h0M668 1271h0"/><path class="B" d="M676 1301h0M668 1271h0"/><path class="O" d="M665 1287h0"/><path class="r" d="M672 1299h0M664 1297h0M661 1295h0M669 1300h0M654 1287h0"/><path class="R" d="M672 1299h0M664 1297h0M661 1295h0M669 1300h0M654 1287h0"/><path class="H" d="M680 1304h0M674 1301h0M656 1287h0"/><path class="b" d="M806 1292h0"/><path class="B" d="M806 1292h0"/><path class="O" d="M821 1287h0"/><path class="r" d="M833 1292h0M824 1298h0M825 1296h0"/><path class="R" d="M833 1292h0M824 1298h0M825 1296h0"/><path class="H" d="M809 1294h0M821 1299h0M824 1292h0"/><path class="b" d="M156 1273h0M170 1275h0"/><path class="B" d="M156 1273h0M170 1275h0"/><path class="O" d="M160 1288h0"/><path class="r" d="M152 1277h0M172 1282h0M167 1298h0"/><path class="R" d="M152 1277h0M172 1282h0M167 1298h0"/><path class="H" d="M152 1272h0M165 1296h0"/><path class="b" d="M205 1292h0M201 1282h0"/><path class="B" d="M205 1292h0M201 1282h0"/><path class="O" d="M188 1288h0"/><path class="r" d="M186 1300h0M180 1297h0M188 1297h0"/><path class="R" d="M186 1300h0M180 1297h0M188 1297h0"/><path class="H" d="M197 1282h0M183 1300h0M183 1298h0"/><path class="b" d="M159 1280h0"/><path class="B" d="M159 1280h0"/><path class="O" d="M172 1288h0"/><path class="r" d="M186 1285h0M171 1277h0M181 1291h0"/><path class="R" d="M186 1285h0M171 1277h0M181 1291h0"/><path class="H" d="M161 1281h0M186 1288h0M167 1273h0"/><path class="b" d="M904 1281h0M913 1272h0"/><path class="B" d="M904 1281h0M913 1272h0"/><path class="O" d="M917 1288h0"/><path class="r" d="M931 1288h0M922 1277h0M928 1285h0M920 1298h0"/><path class="R" d="M931 1288h0M922 1277h0M928 1285h0M920 1298h0"/><path class="H" d="M910 1274h0M933 1289h0M933 1282h0"/><path class="b" d="M905 1306h0M921 1273h0"/><path class="B" d="M905 1306h0M921 1273h0"/><path class="O" d="M913 1289h0"/><path class="r" d="M900 1291h0M916 1303h0M916 1279h0"/><path class="R" d="M900 1291h0M916 1303h0M916 1279h0"/><path class="H" d="M920 1272h0"/><path class="b" d="M327 1296h0"/><path class="B" d="M327 1296h0"/><path class="O" d="M310 1289h0"/><path class="r" d="M302 1282h0M319 1281h0M315 1303h0M310 1277h0"/><path class="R" d="M302 1282h0M319 1281h0M315 1303h0M310 1277h0"/><path class="H" d="M325 1295h0M307 1274h0"/><path class="b" d="M713 1276h0"/><path class="B" d="M713 1276h0"/><path class="O" d="M722 1289h0"/><path class="r" d="M719 1302h0M713 1282h0M733 1288h0M729 1299h0M732 1299h0"/><path class="R" d="M719 1302h0M713 1282h0M733 1288h0M729 1299h0M732 1299h0"/><path class="H" d="M717 1274h0M723 1303h0M710 1284h0"/><path class="b" d="M694 1270h0M695 1269h0"/><path class="B" d="M694 1270h0M695 1269h0"/><path class="O" d="M697 1289h0"/><path class="r" d="M705 1279h0M708 1291h0M707 1290h0M688 1298h0"/><path class="R" d="M705 1279h0M708 1291h0M707 1290h0M688 1298h0"/><path class="H" d="M694 1273h0M700 1274h0M705 1292h0"/><path class="b" d="M200 1277h0"/><path class="B" d="M200 1277h0"/><path class="O" d="M184 1290h0"/><path class="r" d="M173 1291h0M197 1291h0M182 1280h0"/><path class="R" d="M173 1291h0M197 1291h0M182 1280h0"/><path class="H" d="M197 1281h0M177 1293h0M186 1279h0"/><path class="b" d="M531 1277h0M537 1277h0"/><path class="B" d="M531 1277h0M537 1277h0"/><path class="O" d="M520 1290h0"/><path class="r" d="M530 1283h0M527 1297h0M530 1294h0M532 1282h0"/><path class="R" d="M530 1283h0M527 1297h0M530 1294h0M532 1282h0"/><path class="H" d="M540 1281h0M531 1299h0"/><path class="b" d="M537 1294h0"/><path class="B" d="M537 1294h0"/><path class="O" d="M551 1290h0"/><path class="r" d="M556 1282h0M549 1280h0M543 1284h0M539 1286h0"/><path class="R" d="M556 1282h0M549 1280h0M543 1284h0M539 1286h0"/><path class="b" d="M890 1289h0"/><path class="B" d="M890 1289h0"/><path class="O" d="M876 1290h0"/><path class="r" d="M882 1296h0M865 1286h0M864 1288h0M885 1285h0M881 1280h0"/><path class="R" d="M882 1296h0M865 1286h0M864 1288h0M885 1285h0M881 1280h0"/><path class="H" d="M885 1284h0M881 1299h0M863 1288h0M881 1288h0M886 1278h0"/><path class="b" d="M848 1304h0"/><path class="B" d="M848 1304h0"/><path class="O" d="M861 1290h0"/><path class="r" d="M870 1283h0M871 1292h0M855 1304h0"/><path class="R" d="M870 1283h0M871 1292h0M855 1304h0"/><path class="H" d="M865 1280h0"/><path class="O" d="M808 1290h0"/><path class="r" d="M815 1300h0M814 1278h0M812 1278h0"/><path class="R" d="M815 1300h0M814 1278h0M812 1278h0"/><path class="H" d="M818 1273h0"/><path class="b" d="M106 1274h0"/><path class="B" d="M106 1274h0"/><path class="O" d="M103 1291h0"/><path class="r" d="M106 1301h0M98 1282h0M93 1284h0M95 1281h0M113 1280h0"/><path class="R" d="M106 1301h0M98 1282h0M93 1284h0M95 1281h0M113 1280h0"/><path class="H" d="M105 1274h0M88 1280h0"/><path class="O" d="M479 1291h0"/><path class="r" d="M467 1296h0M490 1293h0M473 1277h0"/><path class="R" d="M467 1296h0M490 1293h0M473 1277h0"/><path class="b" d="M634 1306h0"/><path class="B" d="M634 1306h0"/><path class="O" d="M631 1291h0"/><path class="r" d="M626 1280h0M621 1285h0M642 1293h0"/><path class="R" d="M626 1280h0M621 1285h0M642 1293h0"/><path class="H" d="M628 1278h0M622 1287h0"/><path class="b" d="M916 1305h0"/><path class="B" d="M916 1305h0"/><path class="O" d="M908 1291h0"/><path class="r" d="M899 1300h0M920 1296h0M922 1291h0M901 1297h0"/><path class="R" d="M899 1300h0M920 1296h0M922 1291h0M901 1297h0"/><path class="w" d="M922 1294h0"/><path class="W" d="M922 1294h0"/><path class="H" d="M915 1305h0M918 1293h0M898 1293h0"/><path class="O" d="M397 1291h0"/><path class="r" d="M407 1300h0M408 1289h0M383 1292h0M405 1281h0M395 1278h0"/><path class="R" d="M407 1300h0M408 1289h0M383 1292h0M405 1281h0M395 1278h0"/><path class="w" d="M404 1296h0"/><path class="W" d="M404 1296h0"/><path class="H" d="M407 1304h0M403 1292h0M390 1276h0"/><path class="O" d="M295 1292h0"/><path class="r" d="M297 1277h0M308 1285h0M286 1301h0"/><path class="R" d="M297 1277h0M308 1285h0M286 1301h0"/><path class="w" d="M302 1297h0"/><path class="W" d="M302 1297h0"/><path class="H" d="M290 1301h0"/><path class="b" d="M747 1309h0"/><path class="B" d="M747 1309h0"/><path class="O" d="M737 1292h0"/><path class="r" d="M743 1301h0M731 1285h0M751 1297h0M742 1303h0M724 1299h0"/><path class="R" d="M743 1301h0M731 1285h0M751 1297h0M742 1303h0M724 1299h0"/><path class="H" d="M745 1310h0M747 1299h0M738 1302h0"/><path class="b" d="M79 1305h0"/><path class="B" d="M79 1305h0"/><path class="O" d="M90 1292h0"/><path class="r" d="M102 1294h0M90 1305h0M79 1297h0M84 1285h0M76 1299h0"/><path class="R" d="M102 1294h0M90 1305h0M79 1297h0M84 1285h0M76 1299h0"/><path class="H" d="M98 1298h0M92 1307h0"/><path class="b" d="M482 1288h0"/><path class="B" d="M482 1288h0"/><path class="O" d="M467 1293h0"/><path class="r" d="M460 1284h0M460 1285h0M480 1299h0"/><path class="R" d="M460 1284h0M460 1285h0M480 1299h0"/><path class="w" d="M452 1289h0"/><path class="W" d="M452 1289h0"/><path class="H" d="M481 1286h0M462 1282h0M480 1299h0"/><path class="b" d="M136 1302h0"/><path class="B" d="M136 1302h0"/><path class="O" d="M124 1293h0"/><path class="r" d="M134 1289h0M118 1285h0M120 1279h0M115 1302h0M134 1297h0"/><path class="R" d="M134 1289h0M118 1285h0M120 1279h0M115 1302h0M134 1297h0"/><path class="H" d="M137 1287h0M121 1279h0M112 1298h0"/><path class="O" d="M548 1293h0"/><path class="r" d="M559 1298h0M555 1303h0M545 1282h0"/><path class="R" d="M559 1298h0M555 1303h0M545 1282h0"/><path class="w" d="M557 1287h0"/><path class="W" d="M557 1287h0"/><path class="H" d="M546 1285h0"/><path class="b" d="M485 1277h0"/><path class="B" d="M485 1277h0"/><path class="O" d="M498 1293h0"/><path class="r" d="M484 1298h0M507 1290h0M505 1280h0M508 1301h0M491 1301h0"/><path class="R" d="M484 1298h0M507 1290h0M505 1280h0M508 1301h0M491 1301h0"/><path class="w" d="M507 1287h0"/><path class="W" d="M507 1287h0"/><path class="H" d="M481 1293h0M509 1281h0M489 1301h0"/><path class="b" d="M573 1292h0"/><path class="B" d="M573 1292h0"/><path class="O" d="M557 1293h0"/><path class="r" d="M565 1300h0M568 1293h0M563 1285h0M554 1303h0"/><path class="R" d="M565 1300h0M568 1293h0M563 1285h0M554 1303h0"/><path class="H" d="M573 1290h0M565 1286h0M555 1305h0"/><path class="b" d="M245 1293h0"/><path class="B" d="M245 1293h0"/><path class="O" d="M228 1293h0"/><path class="r" d="M216 1295h0M216 1302h0M234 1306h0"/><path class="R" d="M216 1295h0M216 1302h0M234 1306h0"/><path class="H" d="M240 1295h0M214 1294h0M233 1309h0"/><path class="b" d="M91 1286h0"/><path class="B" d="M91 1286h0"/><path class="O" d="M107 1295h0"/><path class="r" d="M119 1302h0M103 1283h0M119 1292h0"/><path class="R" d="M119 1302h0M103 1283h0M119 1292h0"/><path class="H" d="M124 1306h0M104 1286h0"/><path class="b" d="M399 1308h0"/><path class="B" d="M399 1308h0"/><path class="O" d="M411 1295h0"/><path class="r" d="M412 1284h0M401 1304h0M403 1287h0"/><path class="R" d="M412 1284h0M401 1304h0M403 1287h0"/><path class="w" d="M421 1288h0"/><path class="W" d="M421 1288h0"/><path class="H" d="M400 1304h0M407 1287h0"/><path class="b" d="M689 1312h0"/><path class="B" d="M689 1312h0"/><path class="O" d="M678 1295h0"/><path class="r" d="M676 1285h0M669 1286h0M663 1296h0M665 1290h0M668 1293h0"/><path class="R" d="M676 1285h0M669 1286h0M663 1296h0M665 1290h0M668 1293h0"/><path class="H" d="M669 1283h0M662 1298h0M670 1290h0"/><path class="O" d="M155 1295h0"/><path class="r" d="M152 1309h0M145 1291h0M145 1297h0M147 1305h0"/><path class="R" d="M152 1309h0M145 1291h0M145 1297h0M147 1305h0"/><path class="w" d="M169 1300h0"/><path class="W" d="M169 1300h0"/><path class="H" d="M150 1309h0M148 1286h0M146 1301h0"/><path class="b" d="M320 1278h0"/><path class="B" d="M320 1278h0"/><path class="O" d="M313 1295h0"/><path class="r" d="M300 1292h0M319 1287h0M325 1293h0"/><path class="R" d="M300 1292h0M319 1287h0M325 1293h0"/><path class="w" d="M317 1287h0"/><path class="W" d="M317 1287h0"/><path class="H" d="M325 1274h0M305 1291h0M323 1293h0"/><path class="b" d="M650 1302h0"/><path class="B" d="M650 1302h0"/><path class="O" d="M669 1295h0"/><path class="r" d="M683 1295h0M666 1307h0M662 1289h0M668 1282h0"/><path class="R" d="M683 1295h0M666 1307h0M662 1289h0M668 1282h0"/><path class="w" d="M662 1279h0"/><path class="W" d="M662 1279h0"/><path class="H" d="M660 1284h0"/><path class="O" d="M199 1295h0"/><path class="r" d="M210 1304h0M195 1309h0M196 1286h0"/><path class="R" d="M210 1304h0M195 1309h0M196 1286h0"/><path class="w" d="M193 1306h0"/><path class="W" d="M193 1306h0"/><path class="H" d="M209 1300h0"/><path class="O" d="M894 1295h0"/><path class="r" d="M887 1304h0M893 1286h0M880 1302h0M897 1285h0M883 1288h0"/><path class="R" d="M887 1304h0M893 1286h0M880 1302h0M897 1285h0M883 1288h0"/><path class="H" d="M892 1285h0M877 1297h0M902 1284h0"/><path class="b" d="M872 1305h0"/><path class="B" d="M872 1305h0"/><path class="O" d="M887 1296h0"/><path class="r" d="M897 1296h0M896 1302h0M899 1296h0M898 1303h0M883 1310h0"/><path class="R" d="M897 1296h0M896 1302h0M899 1296h0M898 1303h0M883 1310h0"/><path class="w" d="M895 1299h0"/><path class="W" d="M895 1299h0"/><path class="H" d="M867 1303h0M894 1298h0M897 1297h0M885 1313h0"/><path class="b" d="M218 1313h0"/><path class="B" d="M218 1313h0"/><path class="O" d="M210 1296h0"/><path class="r" d="M202 1284h0M211 1306h0M200 1295h0"/><path class="R" d="M202 1284h0M211 1306h0M200 1295h0"/><path class="w" d="M216 1306h0"/><path class="W" d="M216 1306h0"/><path class="H" d="M216 1309h0M204 1281h0M198 1295h0"/><path class="b" d="M331 1311h0"/><path class="B" d="M331 1311h0"/><path class="O" d="M339 1296h0"/><path class="r" d="M334 1309h0M345 1286h0M335 1304h0M350 1290h0"/><path class="R" d="M334 1309h0M345 1286h0M335 1304h0M350 1290h0"/><path class="w" d="M343 1280h0"/><path class="W" d="M343 1280h0"/><path class="H" d="M327 1308h0M334 1309h0M346 1281h0"/><path class="b" d="M467 1302h0"/><path class="B" d="M467 1302h0"/><path class="O" d="M454 1296h0"/><path class="r" d="M458 1306h0M459 1288h0M444 1305h0M458 1307h0M458 1309h0"/><path class="R" d="M458 1306h0M459 1288h0M444 1305h0M458 1307h0M458 1309h0"/><path class="H" d="M463 1298h0M462 1303h0M447 1301h0"/><path class="b" d="M141 1299h0"/><path class="B" d="M141 1299h0"/><path class="O" d="M156 1296h0"/><path class="r" d="M166 1287h0M165 1301h0M144 1302h0M153 1284h0M150 1309h0"/><path class="R" d="M166 1287h0M165 1301h0M144 1302h0M153 1284h0M150 1309h0"/><path class="H" d="M139 1303h0M170 1298h0M158 1280h0"/><path class="b" d="M227 1294h0"/><path class="B" d="M227 1294h0"/><path class="O" d="M208 1296h0"/><path class="r" d="M218 1293h0M218 1292h0M217 1307h0M219 1295h0"/><path class="R" d="M218 1293h0M218 1292h0M217 1307h0M219 1295h0"/><path class="H" d="M219 1294h0"/><path class="O" d="M114 1297h0"/><path class="r" d="M114 1285h0M103 1305h0M121 1284h0"/><path class="R" d="M114 1285h0M103 1305h0M121 1284h0"/><path class="w" d="M125 1308h0"/><path class="W" d="M125 1308h0"/><path class="H" d="M110 1282h0"/><path class="b" d="M855 1293h0"/><path class="B" d="M855 1293h0"/><path class="O" d="M874 1297h0"/><path class="r" d="M863 1293h0M886 1303h0M866 1286h0M868 1286h0M885 1294h0"/><path class="R" d="M863 1293h0M886 1303h0M866 1286h0M868 1286h0M885 1294h0"/><path class="H" d="M855 1291h0M869 1282h0"/><path class="b" d="M320 1300h0"/><path class="B" d="M320 1300h0"/><path class="O" d="M339 1297h0"/><path class="r" d="M349 1294h0M333 1310h0M333 1288h0"/><path class="R" d="M349 1294h0M333 1310h0M333 1288h0"/><path class="H" d="M315 1298h0"/><path class="O" d="M269 1298h0"/><path class="r" d="M266 1288h0M257 1291h0M280 1305h0M279 1300h0M274 1311h0"/><path class="R" d="M266 1288h0M257 1291h0M280 1305h0M279 1300h0M274 1311h0"/><path class="w" d="M264 1311h0"/><path class="W" d="M264 1311h0"/><path class="H" d="M270 1289h0M277 1310h0"/><path class="O" d="M263 1298h0"/><path class="r" d="M271 1308h0M253 1289h0M264 1287h0M256 1288h0M257 1291h0"/><path class="R" d="M271 1308h0M253 1289h0M264 1287h0M256 1288h0M257 1291h0"/><path class="H" d="M275 1309h0M254 1289h0"/><path class="O" d="M521 1298h0"/><path class="r" d="M512 1288h0M533 1293h0M530 1297h0M525 1311h0M514 1289h0"/><path class="R" d="M512 1288h0M533 1293h0M530 1297h0M525 1311h0M514 1289h0"/><path class="w" d="M513 1304h0"/><path class="W" d="M513 1304h0"/><path class="H" d="M512 1285h0M536 1293h0M523 1315h0"/><path class="O" d="M163 1299h0"/><path class="r" d="M164 1308h0M159 1290h0M172 1311h0M155 1291h0"/><path class="R" d="M164 1308h0M159 1290h0M172 1311h0M155 1291h0"/><path class="O" d="M482 1299h0"/><path class="r" d="M468 1296h0M471 1293h0M482 1288h0"/><path class="R" d="M468 1296h0M471 1293h0M482 1288h0"/><path class="w" d="M497 1302h0"/><path class="W" d="M497 1302h0"/><path class="O" d="M708 1299h0"/><path class="r" d="M701 1287h0M695 1292h0M722 1302h0"/><path class="R" d="M701 1287h0M695 1292h0M722 1302h0"/><path class="H" d="M693 1291h0M724 1301h0"/><path class="O" d="M275 1299h0"/><path class="r" d="M263 1296h0M276 1287h0M266 1294h0"/><path class="R" d="M263 1296h0M276 1287h0M266 1294h0"/><path class="w" d="M288 1304h0"/><path class="W" d="M288 1304h0"/><path class="b" d="M457 1285h0"/><path class="B" d="M457 1285h0"/><path class="O" d="M445 1299h0"/><path class="r" d="M458 1298h0M432 1302h0M456 1297h0M434 1305h0"/><path class="R" d="M458 1298h0M432 1302h0M456 1297h0M434 1305h0"/><path class="w" d="M450 1283h0"/><path class="W" d="M450 1283h0"/><path class="H" d="M458 1286h0M435 1306h0M437 1302h0"/><path class="b" d="M158 1296h0"/><path class="B" d="M158 1296h0"/><path class="O" d="M180 1300h0"/><path class="r" d="M169 1310h0M189 1295h0M171 1307h0"/><path class="R" d="M169 1310h0M189 1295h0M171 1307h0"/><path class="w" d="M165 1293h0"/><path class="W" d="M165 1293h0"/><path class="H" d="M171 1311h0M168 1309h0"/><path class="b" d="M266 1300h0"/><path class="B" d="M266 1300h0"/><path class="O" d="M250 1300h0"/><path class="r" d="M241 1309h0M257 1310h0M254 1312h0"/><path class="R" d="M241 1309h0M257 1310h0M254 1312h0"/><path class="H" d="M249 1311h0"/><path class="b" d="M699 1287h0"/><path class="B" d="M699 1287h0"/><path class="O" d="M707 1300h0"/><path class="r" d="M714 1311h0M694 1294h0M701 1289h0M693 1304h0"/><path class="R" d="M714 1311h0M694 1294h0M701 1289h0M693 1304h0"/><path class="w" d="M718 1305h0"/><path class="W" d="M718 1305h0"/><path class="H" d="M715 1309h0M702 1285h0"/><path class="b" d="M847 1311h0"/><path class="B" d="M847 1311h0"/><path class="O" d="M838 1300h0"/><path class="r" d="M844 1310h0M845 1290h0M826 1298h0M850 1304h0M844 1289h0"/><path class="R" d="M844 1310h0M845 1290h0M826 1298h0M850 1304h0M844 1289h0"/><path class="w" d="M846 1308h0"/><path class="W" d="M846 1308h0"/><path class="H" d="M847 1310h0"/><path class="O" d="M209 1301h0"/><path class="r" d="M218 1307h0M213 1311h0M217 1289h0M204 1309h0M215 1313h0"/><path class="R" d="M218 1307h0M213 1311h0M217 1289h0M204 1309h0M215 1313h0"/><path class="H" d="M218 1291h0M204 1310h0M216 1315h0"/><path class="O" d="M290 1301h0"/><path class="r" d="M297 1313h0M284 1314h0M301 1305h0M301 1292h0"/><path class="R" d="M297 1313h0M284 1314h0M301 1305h0M301 1292h0"/><path class="w" d="M277 1289h0"/><path class="W" d="M277 1289h0"/><path class="H" d="M295 1313h0M300 1309h0"/><path class="b" d="M383 1313h0"/><path class="B" d="M383 1313h0"/><path class="O" d="M400 1301h0"/><path class="r" d="M394 1314h0M399 1287h0M390 1307h0M389 1306h0"/><path class="R" d="M394 1314h0M399 1287h0M390 1307h0M389 1306h0"/><path class="w" d="M393 1307h0"/><path class="W" d="M393 1307h0"/><path class="H" d="M388 1316h0M404 1287h0M388 1304h0"/><path class="O" d="M527 1301h0"/><path class="r" d="M535 1294h0M533 1291h0M527 1312h0M539 1310h0"/><path class="R" d="M535 1294h0M533 1291h0M527 1312h0M539 1310h0"/><path class="w" d="M537 1290h0"/><path class="W" d="M537 1290h0"/><path class="H" d="M538 1291h0M530 1309h0M538 1310h0"/><path class="O" d="M865 1301h0"/><path class="r" d="M865 1311h0M853 1293h0M867 1312h0M852 1298h0M871 1308h0"/><path class="R" d="M865 1311h0M853 1293h0M867 1312h0M852 1298h0M871 1308h0"/><path class="H" d="M867 1314h0M848 1302h0M876 1303h0"/><path class="O" d="M447 1302h0"/><path class="r" d="M446 1289h0M439 1306h0M441 1294h0M455 1292h0M437 1312h0"/><path class="R" d="M446 1289h0M439 1306h0M441 1294h0M455 1292h0M437 1312h0"/><path class="b" d="M100 1295h0"/><path class="B" d="M100 1295h0"/><path class="O" d="M115 1302h0"/><path class="r" d="M109 1296h0M112 1289h0M118 1316h0"/><path class="R" d="M109 1296h0M112 1289h0M118 1316h0"/><path class="w" d="M106 1314h0"/><path class="W" d="M106 1314h0"/><path class="H" d="M100 1294h0M116 1286h0M118 1319h0"/><path class="O" d="M327 1302h0"/><path class="r" d="M334 1313h0M339 1294h0M322 1315h0M314 1299h0M320 1315h0"/><path class="R" d="M334 1313h0M339 1294h0M322 1315h0M314 1299h0M320 1315h0"/><path class="H" d="M335 1308h0M337 1292h0M320 1312h0M317 1313h0"/><path class="b" d="M116 1322h0"/><path class="B" d="M116 1322h0"/><path class="O" d="M119 1302h0"/><path class="r" d="M119 1313h0M125 1296h0M114 1292h0M126 1290h0"/><path class="R" d="M119 1313h0M125 1296h0M114 1292h0M126 1290h0"/><path class="H" d="M117 1309h0M124 1287h0"/><path class="b" d="M362 1301h0"/><path class="B" d="M362 1301h0"/><path class="O" d="M384 1303h0"/><path class="r" d="M398 1298h0M384 1291h0M383 1293h0M382 1292h0M396 1298h0"/><path class="R" d="M398 1298h0M384 1291h0M383 1293h0M382 1292h0M396 1298h0"/><path class="w" d="M391 1291h0"/><path class="W" d="M391 1291h0"/><path class="H" d="M397 1298h0M386 1291h0M381 1290h0M397 1294h0"/><path class="b" d="M748 1295h0"/><path class="B" d="M748 1295h0"/><path class="O" d="M731 1303h0"/><path class="r" d="M732 1290h0M741 1293h0M738 1315h0M741 1311h0"/><path class="R" d="M732 1290h0M741 1293h0M738 1315h0M741 1311h0"/><path class="H" d="M728 1292h0M746 1293h0"/><path class="b" d="M194 1317h0"/><path class="B" d="M194 1317h0"/><path class="O" d="M208 1303h0"/><path class="r" d="M198 1300h0M214 1295h0M214 1293h0M194 1306h0M197 1300h0"/><path class="R" d="M198 1300h0M214 1295h0M214 1293h0M194 1306h0M197 1300h0"/><path class="H" d="M196 1321h0M195 1295h0M213 1295h0M190 1305h0M193 1295h0"/><path class="O" d="M806 1303h0"/><path class="r" d="M811 1294h0M813 1315h0M817 1297h0M807 1317h0M816 1304h0"/><path class="R" d="M811 1294h0M813 1315h0M817 1297h0M807 1317h0M816 1304h0"/><path class="w" d="M798 1317h0"/><path class="W" d="M798 1317h0"/><path class="H" d="M818 1311h0M804 1320h0M816 1303h0"/><path class="b" d="M314 1284h0"/><path class="B" d="M314 1284h0"/><path class="O" d="M322 1303h0"/><path class="r" d="M333 1307h0M326 1295h0M324 1293h0M316 1295h0M309 1299h0"/><path class="R" d="M333 1307h0M326 1295h0M324 1293h0M316 1295h0M309 1299h0"/><path class="H" d="M329 1298h0"/><path class="b" d="M788 1320h0"/><path class="B" d="M788 1320h0"/><path class="O" d="M800 1304h0"/><path class="r" d="M791 1307h0M814 1304h0M798 1313h0M803 1293h0M805 1295h0"/><path class="R" d="M791 1307h0M814 1304h0M798 1313h0M803 1293h0M805 1295h0"/><path class="w" d="M791 1298h0"/><path class="W" d="M791 1298h0"/><path class="H" d="M786 1305h0M799 1309h0M804 1289h0M809 1298h0"/><path class="O" d="M883 1304h0"/><path class="r" d="M876 1292h0M891 1298h0M880 1293h0"/><path class="R" d="M876 1292h0M891 1298h0M880 1293h0"/><path class="w" d="M881 1294h0"/><path class="W" d="M881 1294h0"/><path class="b" d="M366 1320h0"/><path class="B" d="M366 1320h0"/><path class="O" d="M379 1304h0"/><path class="r" d="M386 1314h0M371 1314h0M390 1294h0M393 1309h0"/><path class="R" d="M386 1314h0M371 1314h0M390 1294h0M393 1309h0"/><path class="H" d="M361 1322h0M390 1314h0M370 1315h0M393 1294h0"/><path class="b" d="M414 1321h0"/><path class="B" d="M414 1321h0"/><path class="O" d="M422 1304h0"/><path class="r" d="M413 1295h0M412 1301h0M430 1311h0M412 1306h0"/><path class="R" d="M413 1295h0M412 1301h0M430 1311h0M412 1306h0"/><path class="w" d="M426 1294h0"/><path class="W" d="M426 1294h0"/><path class="H" d="M413 1317h0M410 1298h0M416 1297h0"/><path class="b" d="M713 1299h0"/><path class="B" d="M713 1299h0"/><path class="O" d="M729 1305h0"/><path class="r" d="M740 1294h0M716 1306h0M727 1295h0"/><path class="R" d="M740 1294h0M716 1306h0M727 1295h0"/><path class="H" d="M711 1295h0M735 1294h0M717 1309h0M731 1299h0"/><path class="b" d="M651 1322h0"/><path class="B" d="M651 1322h0"/><path class="O" d="M645 1305h0"/><path class="r" d="M631 1310h0M653 1300h0M654 1310h0M637 1310h0M636 1298h0"/><path class="R" d="M631 1310h0M653 1300h0M654 1310h0M637 1310h0M636 1298h0"/><path class="w" d="M638 1292h0"/><path class="W" d="M638 1292h0"/><path class="H" d="M656 1319h0M630 1310h0M652 1313h0M637 1311h0M639 1301h0"/><path class="O" d="M140 1305h0"/><path class="r" d="M129 1298h0M142 1295h0M140 1315h0"/><path class="R" d="M129 1298h0M142 1295h0M140 1315h0"/><path class="H" d="M144 1313h0"/><path class="b" d="M272 1293h0"/><path class="B" d="M272 1293h0"/><path class="O" d="M282 1305h0"/><path class="r" d="M290 1317h0M270 1312h0M292 1297h0M274 1312h0"/><path class="R" d="M290 1317h0M270 1312h0M292 1297h0M274 1312h0"/><path class="H" d="M274 1294h0M295 1314h0M272 1314h0"/><path class="b" d="M184 1302h0"/><path class="B" d="M184 1302h0"/><path class="O" d="M169 1306h0"/><path class="r" d="M176 1300h0M164 1293h0M164 1295h0M160 1313h0M162 1315h0"/><path class="R" d="M176 1300h0M164 1293h0M164 1295h0M160 1313h0M162 1315h0"/><path class="w" d="M178 1300h0"/><path class="W" d="M178 1300h0"/><path class="H" d="M182 1300h0M174 1299h0M162 1296h0M159 1316h0"/><path class="O" d="M127 1306h0"/><path class="r" d="M133 1316h0M140 1309h0M133 1316h0M123 1318h0M116 1309h0"/><path class="R" d="M133 1316h0M140 1309h0M133 1316h0M123 1318h0M116 1309h0"/><path class="w" d="M138 1304h0"/><path class="W" d="M138 1304h0"/><path class="H" d="M132 1316h0M142 1304h0M126 1319h0"/><path class="b" d="M256 1308h0"/><path class="B" d="M256 1308h0"/><path class="O" d="M274 1306h0"/><path class="r" d="M261 1300h0M267 1317h0M283 1315h0"/><path class="R" d="M261 1300h0M267 1317h0M283 1315h0"/><path class="H" d="M258 1309h0M266 1302h0"/><path class="O" d="M847 1306h0"/><path class="r" d="M834 1308h0M860 1311h0M858 1299h0"/><path class="R" d="M834 1308h0M860 1311h0M858 1299h0"/><path class="b" d="M221 1323h0"/><path class="B" d="M221 1323h0"/><path class="O" d="M220 1307h0"/><path class="r" d="M210 1303h0M234 1306h0M227 1297h0M221 1320h0"/><path class="R" d="M210 1303h0M234 1306h0M227 1297h0M221 1320h0"/><path class="w" d="M229 1311h0"/><path class="W" d="M229 1311h0"/><path class="H" d="M226 1325h0M237 1308h0"/><path class="b" d="M904 1326h0"/><path class="B" d="M904 1326h0"/><path class="O" d="M912 1307h0"/><path class="r" d="M904 1304h0M922 1312h0M920 1297h0M911 1320h0M898 1307h0"/><path class="R" d="M904 1304h0M922 1312h0M920 1297h0M911 1320h0M898 1307h0"/><path class="H" d="M901 1321h0M922 1315h0M919 1297h0M906 1322h0M896 1306h0"/><path class="b" d="M615 1324h0"/><path class="B" d="M615 1324h0"/><path class="O" d="M619 1307h0"/><path class="r" d="M630 1312h0M634 1307h0M628 1301h0"/><path class="R" d="M630 1312h0M634 1307h0M628 1301h0"/><path class="H" d="M615 1320h0"/><path class="b" d="M608 1323h0"/><path class="B" d="M608 1323h0"/><path class="O" d="M608 1307h0"/><path class="r" d="M608 1320h0M596 1305h0M598 1301h0M606 1321h0M597 1303h0"/><path class="R" d="M608 1320h0M596 1305h0M598 1301h0M606 1321h0M597 1303h0"/><path class="w" d="M603 1314h0"/><path class="W" d="M603 1314h0"/><path class="H" d="M610 1324h0M605 1323h0M601 1306h0"/><path class="O" d="M874 1308h0"/><path class="r" d="M878 1318h0M868 1317h0M877 1317h0M860 1303h0"/><path class="R" d="M878 1318h0M868 1317h0M877 1317h0M860 1303h0"/><path class="H" d="M870 1312h0M880 1313h0M860 1306h0"/><path class="b" d="M494 1298h0"/><path class="B" d="M494 1298h0"/><path class="O" d="M506 1308h0"/><path class="r" d="M513 1315h0M516 1318h0M515 1311h0M492 1311h0"/><path class="R" d="M513 1315h0M516 1318h0M515 1311h0M492 1311h0"/><path class="H" d="M495 1295h0M518 1312h0M519 1315h0M513 1313h0M490 1307h0"/><path class="b" d="M484 1300h0"/><path class="B" d="M484 1300h0"/><path class="O" d="M469 1308h0"/><path class="r" d="M479 1305h0M462 1300h0M467 1319h0M465 1298h0"/><path class="R" d="M479 1305h0M462 1300h0M467 1319h0M465 1298h0"/><path class="w" d="M475 1302h0"/><path class="W" d="M475 1302h0"/><path class="H" d="M482 1304h0M481 1308h0M463 1302h0"/><path class="O" d="M415 1308h0"/><path class="r" d="M407 1317h0M407 1302h0M404 1317h0"/><path class="R" d="M407 1317h0M407 1302h0M404 1317h0"/><path class="H" d="M405 1312h0M404 1302h0M402 1319h0"/><path class="O" d="M538 1308h0"/><path class="r" d="M539 1318h0M541 1294h0M536 1297h0M548 1300h0"/><path class="R" d="M539 1318h0M541 1294h0M536 1297h0M548 1300h0"/><path class="w" d="M529 1317h0"/><path class="W" d="M529 1317h0"/><path class="H" d="M544 1302h0"/><path class="O" d="M881 1308h0"/><path class="r" d="M875 1318h0M891 1310h0M874 1300h0M876 1320h0M893 1309h0"/><path class="R" d="M875 1318h0M891 1310h0M874 1300h0M876 1320h0M893 1309h0"/><path class="H" d="M871 1304h0"/><path class="b" d="M264 1312h0"/><path class="B" d="M264 1312h0"/><path class="O" d="M282 1308h0"/><path class="r" d="M281 1296h0M293 1307h0M278 1320h0M288 1300h0"/><path class="R" d="M281 1296h0M293 1307h0M278 1320h0M288 1300h0"/><path class="H" d="M265 1310h0M294 1308h0M279 1323h0M287 1301h0"/><path class="O" d="M513 1308h0"/><path class="r" d="M510 1294h0M527 1308h0M507 1298h0"/><path class="R" d="M510 1294h0M527 1308h0M507 1298h0"/><path class="H" d="M503 1298h0"/><path class="O" d="M782 1308h0"/><path class="r" d="M791 1304h0M787 1322h0M792 1300h0M794 1314h0"/><path class="R" d="M791 1304h0M787 1322h0M792 1300h0M794 1314h0"/><path class="H" d="M794 1307h0"/><path class="b" d="M786 1312h0"/><path class="B" d="M786 1312h0"/><path class="O" d="M805 1309h0"/><path class="r" d="M816 1310h0M818 1305h0M810 1320h0"/><path class="R" d="M816 1310h0M818 1305h0M810 1320h0"/><path class="w" d="M811 1319h0"/><path class="W" d="M811 1319h0"/><path class="H" d="M785 1316h0"/><path class="O" d="M899 1309h0"/><path class="r" d="M905 1300h0M890 1319h0M889 1318h0M912 1303h0"/><path class="R" d="M905 1300h0M890 1319h0M889 1318h0M912 1303h0"/><path class="b" d="M715 1300h0"/><path class="B" d="M715 1300h0"/><path class="O" d="M698 1309h0"/><path class="r" d="M706 1298h0M708 1310h0M699 1324h0"/><path class="R" d="M706 1298h0M708 1310h0M699 1324h0"/><path class="w" d="M704 1320h0"/><path class="W" d="M704 1320h0"/><path class="H" d="M713 1300h0M706 1301h0"/><path class="b" d="M657 1295h0"/><path class="B" d="M657 1295h0"/><path class="O" d="M651 1309h0"/><path class="r" d="M652 1321h0M660 1315h0M637 1309h0M666 1310h0M661 1306h0"/><path class="R" d="M652 1321h0M660 1315h0M637 1309h0M666 1310h0M661 1306h0"/><path class="w" d="M659 1307h0"/><path class="W" d="M659 1307h0"/><path class="H" d="M647 1316h0M658 1304h0"/><path class="b" d="M465 1312h0"/><path class="B" d="M465 1312h0"/><path class="O" d="M485 1309h0"/><path class="r" d="M480 1299h0M498 1307h0M471 1308h0M470 1308h0M472 1306h0"/><path class="R" d="M480 1299h0M498 1307h0M471 1308h0M470 1308h0M472 1306h0"/><path class="H" d="M467 1316h0M476 1300h0M499 1305h0M476 1304h0M467 1312h0"/><path class="O" d="M636 1309h0"/><path class="r" d="M627 1317h0M644 1306h0M625 1316h0M641 1322h0M650 1311h0"/><path class="R" d="M627 1317h0M644 1306h0M625 1316h0M641 1322h0M650 1311h0"/><path class="H" d="M628 1314h0M624 1319h0M637 1322h0M645 1312h0"/><path class="O" d="M814 1310h0"/><path class="r" d="M820 1319h0M820 1317h0M801 1315h0M824 1316h0"/><path class="R" d="M820 1319h0M820 1317h0M801 1315h0M824 1316h0"/><path class="w" d="M827 1315h0"/><path class="W" d="M827 1315h0"/><path class="O" d="M207 1310h0"/><path class="r" d="M216 1308h0M196 1320h0M200 1322h0"/><path class="R" d="M216 1308h0M196 1320h0M200 1322h0"/><path class="w" d="M221 1312h0"/><path class="W" d="M221 1312h0"/><path class="H" d="M212 1308h0M203 1320h0"/><path class="O" d="M792 1310h0"/><path class="r" d="M791 1321h0M791 1320h0M803 1303h0M791 1301h0"/><path class="R" d="M791 1321h0M791 1320h0M803 1303h0M791 1301h0"/><path class="H" d="M805 1299h0M791 1296h0"/><path class="O" d="M722 1310h0"/><path class="r" d="M731 1309h0M731 1310h0M720 1323h0"/><path class="R" d="M731 1309h0M731 1310h0M720 1323h0"/><path class="w" d="M714 1300h0"/><path class="W" d="M714 1300h0"/><path class="H" d="M726 1312h0M716 1322h0"/><path class="b" d="M629 1295h0"/><path class="B" d="M629 1295h0"/><path class="O" d="M634 1311h0"/><path class="r" d="M623 1313h0M633 1322h0M622 1307h0M644 1319h0M644 1311h0"/><path class="R" d="M623 1313h0M633 1322h0M622 1307h0M644 1319h0M644 1311h0"/><path class="w" d="M624 1301h0"/><path class="W" d="M624 1301h0"/><path class="H" d="M631 1298h0M648 1312h0"/><path class="b" d="M615 1291h0"/><path class="B" d="M615 1291h0"/><path class="O" d="M621 1311h0"/><path class="r" d="M631 1311h0M625 1302h0M620 1324h0M621 1323h0M612 1306h0"/><path class="R" d="M631 1311h0M625 1302h0M620 1324h0M621 1323h0M612 1306h0"/><path class="w" d="M636 1310h0"/><path class="W" d="M636 1310h0"/><path class="H" d="M626 1310h0M628 1305h0M624 1323h0"/><path class="O" d="M904 1311h0"/><path class="r" d="M899 1320h0M898 1320h0M917 1307h0M909 1319h0"/><path class="R" d="M899 1320h0M898 1320h0M917 1307h0M909 1319h0"/><path class="w" d="M919 1309h0"/><path class="W" d="M919 1309h0"/><path class="H" d="M899 1319h0M899 1322h0M913 1304h0"/><path class="O" d="M333 1311h0"/><path class="r" d="M328 1297h0M346 1315h0M345 1305h0M324 1315h0"/><path class="R" d="M328 1297h0M346 1315h0M345 1305h0M324 1315h0"/><path class="H" d="M331 1298h0M345 1311h0"/><path class="O" d="M620 1311h0"/><path class="r" d="M609 1306h0M624 1320h0M631 1311h0"/><path class="R" d="M609 1306h0M624 1320h0M631 1311h0"/><path class="w" d="M619 1301h0"/><path class="W" d="M619 1301h0"/><path class="H" d="M627 1323h0M634 1309h0"/><path class="b" d="M144 1295h0"/><path class="B" d="M144 1295h0"/><path class="O" d="M149 1312h0"/><path class="r" d="M152 1321h0M139 1307h0M160 1306h0M161 1316h0"/><path class="R" d="M152 1321h0M139 1307h0M160 1306h0M161 1316h0"/><path class="H" d="M142 1299h0M164 1304h0M163 1317h0"/><path class="O" d="M519 1312h0"/><path class="r" d="M510 1309h0M530 1303h0M525 1301h0"/><path class="R" d="M510 1309h0M530 1303h0M525 1301h0"/><path class="w" d="M518 1300h0"/><path class="W" d="M518 1300h0"/><path class="H" d="M513 1309h0M528 1297h0"/><path class="O" d="M589 1312h0"/><path class="r" d="M603 1317h0M577 1316h0M584 1298h0"/><path class="R" d="M603 1317h0M577 1316h0M584 1298h0"/><path class="H" d="M605 1313h0M584 1296h0"/><path class="b" d="M850 1307h0"/><path class="B" d="M850 1307h0"/><path class="O" d="M867 1312h0"/><path class="r" d="M872 1322h0M854 1317h0M863 1301h0"/><path class="R" d="M872 1322h0M854 1317h0M863 1301h0"/><path class="H" d="M874 1319h0"/><path class="O" d="M367 1313h0"/><path class="r" d="M364 1304h0M373 1303h0M360 1324h0M375 1320h0"/><path class="R" d="M364 1304h0M373 1303h0M360 1324h0M375 1320h0"/><path class="H" d="M365 1304h0M362 1322h0"/><path class="O" d="M723 1313h0"/><path class="r" d="M732 1318h0M718 1301h0M718 1302h0M725 1323h0"/><path class="R" d="M732 1318h0M718 1301h0M718 1302h0M725 1323h0"/><path class="w" d="M734 1309h0"/><path class="W" d="M734 1309h0"/><path class="H" d="M734 1315h0M714 1299h0M722 1321h0"/><path class="b" d="M769 1317h0"/><path class="B" d="M769 1317h0"/><path class="O" d="M784 1313h0"/><path class="r" d="M776 1308h0M775 1306h0M794 1324h0"/><path class="R" d="M776 1308h0M775 1306h0M794 1324h0"/><path class="w" d="M775 1309h0"/><path class="W" d="M775 1309h0"/><path class="H" d="M766 1318h0M774 1306h0M779 1307h0"/><path class="b" d="M300 1327h0"/><path class="B" d="M300 1327h0"/><path class="O" d="M305 1314h0"/><path class="r" d="M293 1314h0M295 1323h0M300 1323h0"/><path class="R" d="M293 1314h0M295 1323h0M300 1323h0"/><path class="w" d="M312 1321h0"/><path class="W" d="M312 1321h0"/><path class="H" d="M302 1329h0M295 1326h0"/><path class="O" d="M845 1314h0"/><path class="r" d="M853 1324h0M853 1323h0M842 1327h0"/><path class="R" d="M853 1324h0M853 1323h0M842 1327h0"/><path class="w" d="M857 1324h0"/><path class="W" d="M857 1324h0"/><path class="H" d="M851 1323h0M857 1320h0"/><path class="b" d="M421 1312h0"/><path class="B" d="M421 1312h0"/><path class="O" d="M406 1314h0"/><path class="r" d="M391 1313h0M398 1310h0M415 1318h0M404 1328h0"/><path class="R" d="M391 1313h0M398 1310h0M415 1318h0M404 1328h0"/><path class="w" d="M392 1318h0"/><path class="W" d="M392 1318h0"/><path class="H" d="M420 1314h0M400 1311h0M413 1321h0"/><path class="b" d="M866 1321h0"/><path class="B" d="M866 1321h0"/><path class="O" d="M886 1314h0"/><path class="r" d="M872 1308h0M890 1304h0M884 1326h0"/><path class="R" d="M872 1308h0M890 1304h0M884 1326h0"/><path class="H" d="M867 1323h0"/><path class="b" d="M632 1314h0"/><path class="B" d="M632 1314h0"/><path class="O" d="M647 1314h0"/><path class="r" d="M645 1304h0M647 1302h0M655 1302h0M641 1303h0"/><path class="R" d="M645 1304h0M647 1302h0M655 1302h0M641 1303h0"/><path class="H" d="M628 1312h0M647 1306h0M646 1305h0M658 1303h0"/><path class="b" d="M689 1329h0"/><path class="B" d="M689 1329h0"/><path class="O" d="M676 1314h0"/><path class="r" d="M669 1302h0M677 1326h0M686 1308h0M689 1309h0"/><path class="R" d="M669 1302h0M677 1326h0M686 1308h0M689 1309h0"/><path class="w" d="M677 1300h0"/><path class="W" d="M677 1300h0"/><path class="H" d="M672 1305h0M687 1311h0"/><path class="b" d="M326 1305h0"/><path class="B" d="M326 1305h0"/><path class="O" d="M339 1315h0"/><path class="r" d="M330 1310h0M331 1309h0M326 1308h0M352 1310h0M350 1315h0"/><path class="R" d="M330 1310h0M331 1309h0M326 1308h0M352 1310h0M350 1315h0"/><path class="H" d="M326 1301h0M327 1306h0M326 1307h0"/><path class="b" d="M775 1304h0"/><path class="B" d="M775 1304h0"/><path class="O" d="M786 1315h0"/><path class="r" d="M799 1320h0M782 1328h0M776 1324h0M785 1302h0"/><path class="R" d="M799 1320h0M782 1328h0M776 1324h0M785 1302h0"/><path class="w" d="M803 1316h0"/><path class="W" d="M803 1316h0"/><path class="H" d="M780 1302h0M786 1328h0M772 1322h0M781 1303h0"/><path class="O" d="M619 1315h0"/><path class="r" d="M630 1318h0M625 1306h0M625 1302h0"/><path class="R" d="M630 1318h0M625 1306h0M625 1302h0"/><path class="w" d="M621 1304h0"/><path class="W" d="M621 1304h0"/><path class="H" d="M626 1310h0M623 1304h0"/><path class="O" d="M235 1315h0"/><path class="r" d="M229 1305h0M245 1310h0M248 1320h0M225 1316h0"/><path class="R" d="M229 1305h0M245 1310h0M248 1320h0M225 1316h0"/><path class="w" d="M235 1301h0"/><path class="W" d="M235 1301h0"/><path class="H" d="M230 1308h0"/><path class="O" d="M372 1315h0"/><path class="r" d="M357 1319h0M380 1322h0M381 1319h0M362 1322h0M360 1318h0"/><path class="R" d="M357 1319h0M380 1322h0M381 1319h0M362 1322h0M360 1318h0"/><path class="H" d="M376 1320h0M357 1320h0M355 1317h0"/><path class="b" d="M657 1332h0"/><path class="B" d="M657 1332h0"/><path class="O" d="M663 1315h0"/><path class="r" d="M654 1307h0M665 1302h0M663 1330h0"/><path class="R" d="M654 1307h0M665 1302h0M663 1330h0"/><path class="w" d="M656 1323h0"/><path class="W" d="M656 1323h0"/><path class="H" d="M652 1304h0M663 1303h0M665 1325h0"/><path class="O" d="M488 1315h0"/><path class="r" d="M499 1316h0M488 1329h0M497 1320h0"/><path class="R" d="M499 1316h0M488 1329h0M497 1320h0"/><path class="H" d="M487 1325h0"/><path class="O" d="M267 1315h0"/><path class="r" d="M256 1311h0M280 1322h0M258 1312h0M270 1305h0"/><path class="R" d="M256 1311h0M280 1322h0M258 1312h0M270 1305h0"/><path class="H" d="M253 1312h0M276 1320h0"/><path class="b" d="M461 1318h0"/><path class="B" d="M461 1318h0"/><path class="O" d="M445 1316h0"/><path class="r" d="M450 1324h0M431 1310h0M433 1322h0"/><path class="R" d="M450 1324h0M431 1310h0M433 1322h0"/><path class="w" d="M459 1324h0"/><path class="W" d="M459 1324h0"/><path class="H" d="M462 1314h0M435 1322h0"/><path class="b" d="M249 1316h0"/><path class="B" d="M249 1316h0"/><path class="O" d="M269 1316h0"/><path class="r" d="M274 1325h0M279 1325h0M263 1325h0M277 1307h0"/><path class="R" d="M274 1325h0M279 1325h0M263 1325h0M277 1307h0"/><path class="w" d="M282 1322h0"/><path class="W" d="M282 1322h0"/><path class="H" d="M271 1320h0M274 1303h0"/><path class="O" d="M594 1316h0"/><path class="r" d="M607 1315h0M584 1312h0M580 1310h0M592 1302h0"/><path class="R" d="M607 1315h0M584 1312h0M580 1310h0M592 1302h0"/><path class="w" d="M580 1305h0"/><path class="W" d="M580 1305h0"/><path class="H" d="M579 1314h0M577 1311h0"/><path class="O" d="M250 1316h0"/><path class="r" d="M263 1318h0M240 1307h0M258 1306h0M244 1307h0M261 1312h0"/><path class="R" d="M263 1318h0M240 1307h0M258 1306h0M244 1307h0M261 1312h0"/><path class="w" d="M253 1325h0"/><path class="W" d="M253 1325h0"/><path class="H" d="M260 1318h0M263 1312h0"/><path class="b" d="M437 1323h0"/><path class="B" d="M437 1323h0"/><path class="O" d="M418 1316h0"/><path class="r" d="M409 1322h0M407 1322h0M428 1320h0M417 1327h0"/><path class="R" d="M409 1322h0M407 1322h0M428 1320h0M417 1327h0"/><path class="w" d="M424 1302h0"/><path class="W" d="M424 1302h0"/><path class="H" d="M404 1324h0M424 1323h0M415 1327h0"/><path class="O" d="M667 1316h0"/><path class="r" d="M670 1305h0M656 1308h0M667 1326h0M658 1320h0"/><path class="R" d="M670 1305h0M656 1308h0M667 1326h0M658 1320h0"/><path class="w" d="M654 1320h0"/><path class="W" d="M654 1320h0"/><path class="H" d="M653 1304h0"/><path class="O" d="M399 1317h0"/><path class="r" d="M391 1326h0M406 1307h0M393 1325h0M396 1304h0M396 1328h0"/><path class="R" d="M391 1326h0M406 1307h0M393 1325h0M396 1304h0M396 1328h0"/><path class="H" d="M389 1321h0M400 1303h0M400 1324h0"/><path class="b" d="M416 1297h0"/><path class="B" d="M416 1297h0"/><path class="O" d="M420 1317h0"/><path class="r" d="M411 1325h0M409 1324h0M425 1307h0M420 1329h0M414 1307h0"/><path class="R" d="M411 1325h0M409 1324h0M425 1307h0M420 1329h0M414 1307h0"/><path class="w" d="M429 1328h0"/><path class="W" d="M429 1328h0"/><path class="H" d="M420 1301h0M411 1324h0"/><path class="O" d="M502 1317h0"/><path class="r" d="M514 1312h0M497 1326h0M496 1326h0"/><path class="R" d="M514 1312h0M497 1326h0M496 1326h0"/><path class="w" d="M515 1329h0"/><path class="W" d="M515 1329h0"/><path class="H" d="M509 1310h0M494 1327h0M493 1326h0"/><path class="b" d="M611 1330h0"/><path class="B" d="M611 1330h0"/><path class="O" d="M628 1318h0"/><path class="r" d="M621 1324h0M625 1309h0M618 1319h0"/><path class="R" d="M621 1324h0M625 1309h0M618 1319h0"/><path class="H" d="M613 1332h0M625 1308h0M614 1318h0"/><path class="O" d="M704 1318h0"/><path class="r" d="M712 1328h0M702 1306h0M693 1322h0M692 1323h0"/><path class="R" d="M712 1328h0M702 1306h0M693 1322h0M692 1323h0"/><path class="H" d="M714 1328h0M693 1320h0M688 1326h0"/><path class="O" d="M374 1318h0"/><path class="r" d="M365 1311h0M376 1305h0M384 1319h0"/><path class="R" d="M365 1311h0M376 1305h0M384 1319h0"/><path class="w" d="M367 1333h0"/><path class="W" d="M367 1333h0"/><path class="H" d="M365 1308h0M374 1302h0"/><path class="O" d="M773 1319h0"/><path class="r" d="M762 1324h0M774 1330h0M786 1312h0M777 1311h0"/><path class="R" d="M762 1324h0M774 1330h0M786 1312h0M777 1311h0"/><path class="H" d="M791 1309h0M782 1306h0"/><path class="O" d="M688 1319h0"/><path class="r" d="M680 1313h0M679 1307h0M699 1322h0M683 1327h0"/><path class="R" d="M680 1313h0M679 1307h0M699 1322h0M683 1327h0"/><path class="w" d="M674 1330h0"/><path class="W" d="M674 1330h0"/><path class="H" d="M696 1321h0"/><path class="b" d="M347 1309h0"/><path class="B" d="M347 1309h0"/><path class="O" d="M361 1319h0"/><path class="r" d="M355 1310h0M360 1305h0M350 1313h0M354 1306h0M352 1312h0"/><path class="R" d="M355 1310h0M360 1305h0M350 1313h0M354 1306h0M352 1312h0"/><path class="w" d="M371 1331h0"/><path class="W" d="M371 1331h0"/><path class="H" d="M362 1308h0M351 1305h0M349 1315h0"/><path class="O" d="M625 1319h0"/><path class="r" d="M611 1318h0M639 1316h0M629 1330h0M629 1308h0"/><path class="R" d="M611 1318h0M639 1316h0M629 1330h0M629 1308h0"/><path class="w" d="M621 1311h0"/><path class="W" d="M621 1311h0"/><path class="H" d="M632 1331h0"/><path class="O" d="M803 1320h0"/><path class="r" d="M807 1308h0M808 1328h0M798 1333h0"/><path class="R" d="M807 1308h0M808 1328h0M798 1333h0"/><path class="w" d="M816 1310h0"/><path class="W" d="M816 1310h0"/><path class="H" d="M810 1305h0M806 1324h0"/><path class="O" d="M418 1320h0"/><path class="r" d="M427 1309h0M423 1307h0M404 1324h0"/><path class="R" d="M427 1309h0M423 1307h0M404 1324h0"/><path class="H" d="M429 1307h0M421 1302h0"/><path class="O" d="M843 1321h0"/><path class="r" d="M853 1319h0M846 1334h0M854 1328h0M839 1332h0"/><path class="R" d="M853 1319h0M846 1334h0M854 1328h0M839 1332h0"/><path class="H" d="M848 1320h0M847 1338h0M835 1331h0"/><path class="O" d="M259 1321h0"/><path class="r" d="M266 1331h0M271 1319h0M256 1332h0M250 1315h0M245 1318h0"/><path class="R" d="M266 1331h0M271 1319h0M256 1332h0M250 1315h0M245 1318h0"/><path class="w" d="M249 1313h0"/><path class="W" d="M249 1313h0"/><path class="H" d="M268 1328h0M267 1316h0M249 1316h0M248 1321h0"/><path class="O" d="M865 1321h0"/><path class="r" d="M853 1321h0M855 1330h0M859 1333h0"/><path class="R" d="M853 1321h0M855 1330h0M859 1333h0"/><path class="w" d="M872 1306h0"/><path class="W" d="M872 1306h0"/><path class="H" d="M863 1331h0"/><path class="b" d="M249 1310h0"/><path class="B" d="M249 1310h0"/><path class="O" d="M231 1321h0"/><path class="r" d="M241 1313h0M236 1329h0M230 1308h0M234 1332h0"/><path class="R" d="M241 1313h0M236 1329h0M230 1308h0M234 1332h0"/><path class="w" d="M240 1325h0"/><path class="W" d="M240 1325h0"/><path class="H" d="M244 1315h0M239 1325h0"/><path class="O" d="M641 1321h0"/><path class="r" d="M643 1311h0M645 1333h0M652 1320h0"/><path class="R" d="M643 1311h0M645 1333h0M652 1320h0"/><path class="w" d="M648 1316h0"/><path class="W" d="M648 1316h0"/><path class="H" d="M644 1311h0M640 1329h0M655 1322h0"/><path class="b" d="M245 1306h0"/><path class="B" d="M245 1306h0"/><path class="O" d="M258 1321h0"/><path class="r" d="M257 1311h0M249 1314h0M264 1314h0M258 1309h0M268 1328h0"/><path class="R" d="M257 1311h0M249 1314h0M264 1314h0M258 1309h0M268 1328h0"/><path class="w" d="M246 1323h0"/><path class="W" d="M246 1323h0"/><path class="H" d="M246 1304h0M257 1311h0M268 1329h0"/><path class="O" d="M232 1321h0"/><path class="r" d="M228 1336h0M243 1323h0M240 1313h0M222 1321h0"/><path class="R" d="M228 1336h0M243 1323h0M240 1313h0M222 1321h0"/><path class="H" d="M231 1337h0M244 1321h0"/><path class="O" d="M432 1322h0"/><path class="r" d="M435 1334h0M421 1313h0M419 1324h0M429 1311h0"/><path class="R" d="M435 1334h0M421 1313h0M419 1324h0M429 1311h0"/><path class="O" d="M413 1322h0"/><path class="r" d="M406 1315h0M421 1315h0M425 1313h0M408 1334h0M416 1334h0"/><path class="R" d="M406 1315h0M421 1315h0M425 1313h0M408 1334h0M416 1334h0"/><path class="H" d="M411 1311h0M426 1312h0M409 1338h0M419 1330h0"/><path class="b" d="M575 1311h0"/><path class="B" d="M575 1311h0"/><path class="O" d="M564 1322h0"/><path class="r" d="M568 1333h0M552 1330h0M567 1308h0"/><path class="R" d="M568 1333h0M552 1330h0M567 1308h0"/><path class="H" d="M555 1329h0M572 1310h0"/><path class="O" d="M711 1322h0"/><path class="r" d="M718 1327h0M698 1328h0M720 1327h0M705 1311h0"/><path class="R" d="M718 1327h0M698 1328h0M720 1327h0M705 1311h0"/><path class="w" d="M727 1324h0"/><path class="W" d="M727 1324h0"/><path class="H" d="M693 1331h0M703 1310h0"/><path class="O" d="M421 1322h0"/><path class="r" d="M412 1328h0M413 1311h0M429 1332h0M414 1333h0"/><path class="R" d="M412 1328h0M413 1311h0M429 1332h0M414 1333h0"/><path class="H" d="M429 1329h0M416 1334h0"/><path class="b" d="M561 1339h0"/><path class="B" d="M561 1339h0"/><path class="O" d="M547 1323h0"/><path class="r" d="M539 1314h0M537 1329h0M536 1312h0M555 1332h0"/><path class="R" d="M539 1314h0M537 1329h0M536 1312h0M555 1332h0"/><path class="w" d="M536 1315h0"/><path class="W" d="M536 1315h0"/><path class="H" d="M565 1336h0M535 1314h0M536 1327h0M555 1333h0"/><path class="O" d="M613 1323h0"/><path class="r" d="M605 1333h0M607 1309h0M619 1331h0M624 1319h0M610 1334h0"/><path class="R" d="M605 1333h0M607 1309h0M619 1331h0M624 1319h0M610 1334h0"/><path class="w" d="M616 1336h0"/><path class="W" d="M616 1336h0"/><path class="H" d="M605 1333h0M604 1312h0M623 1327h0M624 1323h0"/><path class="O" d="M514 1323h0"/><path class="r" d="M506 1331h0M510 1333h0M511 1312h0M523 1327h0M513 1333h0"/><path class="R" d="M506 1331h0M510 1333h0M511 1312h0M523 1327h0M513 1333h0"/><path class="H" d="M512 1310h0M508 1333h0"/><path class="O" d="M842 1323h0"/><path class="r" d="M839 1332h0M856 1328h0M832 1316h0"/><path class="R" d="M839 1332h0M856 1328h0M832 1316h0"/><path class="H" d="M843 1330h0M856 1327h0M833 1314h0"/><path class="b" d="M439 1327h0"/><path class="B" d="M439 1327h0"/><path class="O" d="M418 1323h0"/><path class="r" d="M428 1323h0M419 1334h0M426 1313h0M413 1332h0"/><path class="R" d="M428 1323h0M419 1334h0M426 1313h0M413 1332h0"/><path class="H" d="M439 1330h0M421 1335h0M428 1311h0M415 1331h0"/><path class="O" d="M440 1323h0"/><path class="r" d="M432 1311h0M448 1314h0M431 1313h0"/><path class="R" d="M432 1311h0M448 1314h0M431 1313h0"/><path class="w" d="M429 1323h0"/><path class="W" d="M429 1323h0"/><path class="H" d="M437 1314h0M426 1317h0"/><path class="O" d="M405 1323h0"/><path class="r" d="M412 1316h0M394 1328h0M414 1328h0M393 1332h0"/><path class="R" d="M412 1316h0M394 1328h0M414 1328h0M393 1332h0"/><path class="H" d="M414 1312h0M417 1332h0"/><path class="O" d="M466 1323h0"/><path class="r" d="M474 1335h0M475 1328h0M460 1336h0"/><path class="R" d="M474 1335h0M475 1328h0M460 1336h0"/><path class="w" d="M476 1311h0"/><path class="W" d="M476 1311h0"/><path class="H" d="M474 1333h0M473 1326h0M460 1334h0"/><path class="O" d="M203 1324h0"/><path class="r" d="M198 1332h0M207 1315h0M206 1333h0M207 1315h0"/><path class="R" d="M198 1332h0M207 1315h0M206 1333h0M207 1315h0"/><path class="H" d="M206 1312h0"/><path class="O" d="M653 1324h0"/><path class="r" d="M665 1330h0M641 1321h0M663 1335h0M657 1310h0M664 1321h0"/><path class="R" d="M665 1330h0M641 1321h0M663 1335h0M657 1310h0M664 1321h0"/><path class="H" d="M644 1320h0M668 1319h0"/><path class="O" d="M213 1324h0"/><path class="r" d="M216 1335h0M211 1315h0M217 1313h0"/><path class="R" d="M216 1335h0M211 1315h0M217 1313h0"/><path class="H" d="M216 1332h0M214 1313h0M217 1308h0"/><path class="O" d="M305 1324h0"/><path class="r" d="M298 1332h0M317 1327h0M292 1329h0M313 1328h0M307 1310h0"/><path class="R" d="M298 1332h0M317 1327h0M292 1329h0M313 1328h0M307 1310h0"/><path class="H" d="M293 1332h0M320 1325h0"/><path class="b" d="M621 1310h0"/><path class="B" d="M621 1310h0"/><path class="O" d="M617 1324h0"/><path class="r" d="M607 1323h0M613 1333h0M631 1321h0"/><path class="R" d="M607 1323h0M613 1333h0M631 1321h0"/><path class="w" d="M625 1320h0"/><path class="W" d="M625 1320h0"/><path class="H" d="M616 1311h0M603 1325h0M611 1332h0M630 1319h0"/><path class="b" d="M404 1326h0"/><path class="B" d="M404 1326h0"/><path class="O" d="M424 1325h0"/><path class="r" d="M411 1330h0M426 1334h0M433 1321h0M434 1324h0"/><path class="R" d="M411 1330h0M426 1334h0M433 1321h0M434 1324h0"/><path class="H" d="M408 1324h0M433 1324h0M433 1324h0"/><path class="O" d="M218 1325h0"/><path class="r" d="M214 1334h0M208 1314h0M216 1311h0M208 1326h0M221 1336h0"/><path class="R" d="M214 1334h0M208 1314h0M216 1311h0M208 1326h0M221 1336h0"/><path class="w" d="M212 1341h0"/><path class="W" d="M212 1341h0"/><path class="H" d="M208 1311h0"/><path class="O" d="M239 1325h0"/><path class="r" d="M242 1311h0M231 1313h0M250 1331h0M246 1317h0"/><path class="R" d="M242 1311h0M231 1313h0M250 1331h0M246 1317h0"/><path class="H" d="M248 1332h0M249 1315h0"/><path class="O" d="M461 1325h0"/><path class="r" d="M472 1318h0M456 1336h0M471 1318h0"/><path class="R" d="M472 1318h0M456 1336h0M471 1318h0"/><path class="w" d="M476 1332h0"/><path class="W" d="M476 1332h0"/><path class="H" d="M469 1317h0M475 1315h0"/><path class="O" d="M459 1326h0"/><path class="r" d="M454 1317h0M464 1336h0M448 1321h0M450 1321h0"/><path class="R" d="M454 1317h0M464 1336h0M448 1321h0M450 1321h0"/><path class="w" d="M467 1339h0"/><path class="W" d="M467 1339h0"/><path class="O" d="M839 1326h0"/><path class="r" d="M841 1337h0M849 1327h0M827 1324h0M831 1314h0"/><path class="R" d="M841 1337h0M849 1327h0M827 1324h0M831 1314h0"/><path class="w" d="M836 1315h0"/><path class="W" d="M836 1315h0"/><path class="H" d="M850 1324h0M831 1327h0M831 1313h0"/><path class="b" d="M503 1313h0"/><path class="B" d="M503 1313h0"/><path class="O" d="M511 1326h0"/><path class="r" d="M516 1338h0M504 1319h0M521 1331h0M502 1336h0M522 1334h0"/><path class="R" d="M516 1338h0M504 1319h0M521 1331h0M502 1336h0M522 1334h0"/><path class="w" d="M511 1317h0"/><path class="W" d="M511 1317h0"/><path class="b" d="M653 1341h0"/><path class="B" d="M653 1341h0"/><path class="O" d="M651 1326h0"/><path class="r" d="M655 1315h0M639 1330h0M641 1319h0M658 1319h0"/><path class="R" d="M655 1315h0M639 1330h0M641 1319h0M658 1319h0"/><path class="w" d="M648 1336h0"/><path class="W" d="M648 1336h0"/><path class="H" d="M654 1337h0M635 1328h0M639 1321h0M663 1321h0"/><path class="b" d="M401 1311h0"/><path class="B" d="M401 1311h0"/><path class="O" d="M405 1327h0"/><path class="r" d="M411 1338h0M402 1314h0M401 1318h0M410 1334h0M404 1339h0"/><path class="R" d="M411 1338h0M402 1314h0M401 1318h0M410 1334h0M404 1339h0"/><path class="H" d="M405 1310h0M415 1333h0M408 1330h0"/><path class="b" d="M596 1331h0"/><path class="B" d="M596 1331h0"/><path class="O" d="M580 1328h0"/><path class="r" d="M582 1318h0M574 1341h0M569 1319h0"/><path class="R" d="M582 1318h0M574 1341h0M569 1319h0"/><path class="w" d="M569 1331h0"/><path class="W" d="M569 1331h0"/><path class="H" d="M597 1328h0M576 1339h0"/><path class="b" d="M344 1345h0"/><path class="B" d="M344 1345h0"/><path class="O" d="M347 1328h0"/><path class="r" d="M358 1325h0M338 1332h0M347 1316h0M354 1336h0M358 1325h0"/><path class="R" d="M358 1325h0M338 1332h0M347 1316h0M354 1336h0M358 1325h0"/><path class="w" d="M353 1337h0"/><path class="W" d="M353 1337h0"/><path class="H" d="M346 1342h0M356 1323h0M348 1316h0M351 1340h0M354 1322h0"/><path class="O" d="M333 1329h0"/><path class="r" d="M341 1334h0M321 1327h0M321 1325h0"/><path class="R" d="M341 1334h0M321 1327h0M321 1325h0"/><path class="w" d="M324 1319h0"/><path class="W" d="M324 1319h0"/><path class="H" d="M322 1325h0"/><path class="O" d="M529 1329h0"/><path class="r" d="M523 1317h0M528 1342h0M521 1318h0"/><path class="R" d="M523 1317h0M528 1342h0M521 1318h0"/><path class="w" d="M524 1317h0"/><path class="W" d="M524 1317h0"/><path class="H" d="M523 1315h0"/><path class="b" d="M642 1350h0"/><path class="B" d="M642 1350h0"/><path class="O" d="M644 1329h0"/><path class="r" d="M645 1344h0M638 1321h0M647 1340h0"/><path class="R" d="M645 1344h0M638 1321h0M647 1340h0"/><path class="H" d="M645 1336h0"/><path class="b" d="M417 1336h0"/><path class="B" d="M417 1336h0"/><path class="O" d="M402 1329h0"/><path class="r" d="M401 1318h0M398 1340h0M400 1316h0M405 1315h0"/><path class="R" d="M401 1318h0M398 1340h0M400 1316h0M405 1315h0"/><path class="w" d="M411 1331h0"/><path class="W" d="M411 1331h0"/><path class="H" d="M414 1339h0M406 1317h0M401 1343h0M408 1311h0"/><path class="b" d="M525 1343h0"/><path class="B" d="M525 1343h0"/><path class="O" d="M522 1329h0"/><path class="r" d="M517 1341h0M533 1330h0M511 1335h0M508 1330h0"/><path class="R" d="M517 1341h0M533 1330h0M511 1335h0M508 1330h0"/><path class="w" d="M525 1338h0"/><path class="W" d="M525 1338h0"/><path class="H" d="M527 1346h0M508 1335h0"/><path class="b" d="M448 1345h0"/><path class="B" d="M448 1345h0"/><path class="O" d="M457 1330h0"/><path class="r" d="M451 1320h0M469 1329h0M446 1327h0M462 1342h0"/><path class="R" d="M451 1320h0M469 1329h0M446 1327h0M462 1342h0"/><path class="H" d="M448 1330h0M464 1346h0"/><path class="b" d="M622 1330h0"/><path class="B" d="M622 1330h0"/><path class="O" d="M643 1330h0"/><path class="r" d="M631 1338h0M630 1324h0M650 1319h0"/><path class="R" d="M631 1338h0M630 1324h0M650 1319h0"/><path class="w" d="M639 1348h0"/><path class="W" d="M639 1348h0"/><path class="H" d="M624 1327h0M628 1336h0M628 1327h0"/><path class="O" d="M676 1330h0"/><path class="r" d="M683 1338h0M687 1333h0M684 1325h0M663 1331h0"/><path class="R" d="M683 1338h0M687 1333h0M684 1325h0M663 1331h0"/><path class="H" d="M665 1334h0"/><path class="b" d="M621 1340h0"/><path class="B" d="M621 1340h0"/><path class="O" d="M638 1330h0"/><path class="r" d="M649 1336h0M643 1342h0M649 1336h0"/><path class="R" d="M649 1336h0M643 1342h0M649 1336h0"/><path class="w" d="M648 1325h0"/><path class="W" d="M648 1325h0"/><path class="H" d="M642 1345h0"/><path class="O" d="M716 1330h0"/><path class="r" d="M716 1317h0M723 1343h0M730 1331h0M703 1324h0"/><path class="R" d="M716 1317h0M723 1343h0M730 1331h0M703 1324h0"/><path class="H" d="M727 1346h0M728 1333h0M700 1320h0"/><path class="O" d="M614 1333h0"/><path class="r" d="M623 1336h0M607 1327h0M605 1329h0"/><path class="R" d="M623 1336h0M607 1327h0M605 1329h0"/><path class="H" d="M619 1336h0M602 1327h0M603 1330h0"/><path class="O" d="M658 1333h0"/><path class="r" d="M652 1322h0M669 1336h0M652 1319h0"/><path class="R" d="M652 1322h0M669 1336h0M652 1319h0"/><path class="w" d="M649 1346h0"/><path class="W" d="M649 1346h0"/><path class="H" d="M653 1324h0M665 1334h0M648 1321h0"/></g></defs>
<use href="#mem" style="color:#f3f6fa"/>
<defs><path id="p1" d="M160.7 1397.7C158.8 1399.4 153.7 1405.6 149.6 1407.9C145.5 1410.2 141.1 1409.6 136 1411.3C130.9 1413 124.7 1416.1 119 1418.1C113.3 1420.1 105.8 1421.5 102 1423.2C98.2 1424.9 98.3 1428 96 1428C93.7 1428 90.2 1424.6 88.4 1423.2C86.6 1421.8 85.3 1422.3 85 1419.8C84.7 1417.2 85.6 1411.9 86.7 1407.9C87.8 1403.9 91.5 1398.7 91.8 1396C92.1 1393.3 91 1392.8 88.4 1391.8C85.9 1390.8 80.5 1391 76.5 1390C72.5 1389 67.7 1387.6 64.6 1385.8C61.5 1384 59.2 1381.3 57.8 1379C56.4 1376.7 60.6 1372.8 56.1 1372.2C51.6 1371.6 35.1 1376.7 30.6 1375.6C26.1 1374.5 31.2 1369.4 28.9 1365.4C26.6 1361.4 19.4 1357.8 17 1351.8C14.6 1345.8 12.5 1333.7 14.5 1329.7C16.5 1325.7 23.7 1328.4 28.9 1328C34.1 1327.6 41.1 1325.2 45.9 1327.2C50.7 1329.2 56.7 1335.8 57.8 1339.9C58.9 1344 53.8 1348.4 52.7 1351.8C51.6 1355.2 50.1 1357.5 51 1360.3C51.9 1363.1 55 1368.8 57.8 1368.8C60.6 1368.8 64.6 1362.8 68 1360.3C71.4 1357.8 76.5 1354.6 78.2 1353.5"/><path id="p2" d="M78.2 1353.5 L79.9 1345"/><path id="p3" d="M81.3 1344.6C81.8 1344.9 83.3 1345.8 84 1346.3C84.7 1346.7 85.1 1347.3 85.3 1347.5C85.5 1347.7 85.4 1347.7 85.1 1347.4C84.9 1347.1 84.3 1346.5 83.8 1345.7C83.3 1345 82.6 1343.8 82.3 1342.8C81.9 1341.8 81.5 1340.5 81.5 1339.5C81.5 1338.5 81.7 1337.5 82.2 1336.9C82.7 1336.2 83.5 1335.8 84.4 1335.6C85.3 1335.5 86.5 1335.7 87.5 1336C88.6 1336.2 89.8 1336.9 90.7 1337.4C91.6 1337.9 92.4 1338.6 92.9 1339C93.4 1339.4 93.6 1339.7 93.6 1339.7C93.6 1339.8 93.2 1339.5 92.8 1339C92.5 1338.5 91.8 1337.7 91.3 1336.8C90.8 1335.9 90.2 1334.7 90 1333.6C89.7 1332.5 89.6 1331.3 89.8 1330.4C90 1329.6 90.4 1328.8 91.1 1328.3C91.8 1327.8 92.8 1327.7 93.8 1327.7C94.7 1327.7 96 1328.1 97 1328.6C98 1329 99.1 1329.7 99.9 1330.2C100.6 1330.7 101.2 1331.3 101.5 1331.6C101.8 1331.8 101.8 1332 101.6 1331.8C101.4 1331.6 100.9 1331.1 100.4 1330.4C100 1329.7 99.1 1328.1 98.9 1327.7"/><path id="p4" d="M100.3 1326.3C101.2 1324.3 102.3 1315.5 105.4 1314.4C108.5 1313.3 115.3 1318.9 119 1319.5C122.7 1320.1 125 1320.3 127.5 1317.8C130.1 1315.2 132.6 1308.5 134.3 1304.2C136 1300 136 1295.7 137.7 1292.3C139.4 1288.9 139.7 1285.6 144.5 1283.8C149.3 1282 161.2 1281 166.6 1281.3C172 1281.6 174.5 1283.4 176.8 1285.5C179.1 1287.6 179.2 1290.8 180.2 1294C181.2 1297.2 181.4 1303.2 182.8 1305C184.2 1306.8 185.4 1305.6 188.7 1304.5C191.9 1303.4 198.6 1300.9 202.3 1298.3C206 1295.7 209.4 1290.5 210.8 1288.9"/><path id="p5" d="M204 1285.5 L221 1309.3"/><path id="p6" d="M215.1 1283.7C214.8 1284.1 214.2 1285.8 213.6 1286.5C213.1 1287.1 212.3 1287.5 211.8 1287.5C211.3 1287.4 210.8 1287 210.7 1286.4C210.6 1285.8 210.8 1284.7 211.2 1283.9C211.7 1283 212.5 1281.9 213.4 1281.3C214.3 1280.6 215.6 1280 216.6 1279.9C217.7 1279.8 218.9 1280 219.8 1280.6C220.7 1281.1 221.4 1282.1 221.8 1283.2C222.2 1284.2 222.3 1285.6 222.1 1286.7C222 1287.8 221.4 1289 220.9 1289.8C220.4 1290.5 219.6 1291.1 219 1291.2C218.5 1291.3 217.9 1291 217.7 1290.5C217.5 1290.1 217.5 1289.1 217.8 1288.3C218.2 1287.4 218.9 1286.3 219.7 1285.6C220.5 1284.8 221.7 1284.1 222.8 1283.8C223.8 1283.6 225.1 1283.6 226.1 1284C227 1284.4 227.9 1285.3 228.4 1286.2C228.9 1287.2 229.1 1288.6 229.1 1289.7C229.1 1290.8 228.6 1292.1 228.2 1293C227.7 1293.8 226.9 1294.6 226.3 1294.8C225.8 1295.1 225.1 1295 224.8 1294.6C224.5 1294.3 224.3 1293.4 224.5 1292.6C224.7 1291.8 225.3 1290.7 226 1289.9C226.8 1289.1 227.9 1288.2 228.9 1287.9C230 1287.5 231.3 1287.3 232.3 1287.6C233.3 1287.8 234.3 1288.5 234.9 1289.4C235.5 1290.2 235.9 1291.5 236 1292.6C236.1 1293.8 235.8 1295.1 235.4 1296.1C235 1297.1 234.2 1297.9 233.7 1298.4C233.1 1298.8 232.3 1298.9 231.9 1298.6C231.6 1298.4 231.3 1297.7 231.3 1297C231.4 1296.2 231.8 1295.1 232.4 1294.3C233.1 1293.4 234.1 1292.5 235.1 1292C236.1 1291.5 237.4 1291.1 238.4 1291.2C239.5 1291.3 240.6 1291.9 241.3 1292.6C242 1293.3 242.6 1294.5 242.8 1295.6C243 1296.7 242.8 1298.1 242.5 1299.2C242.2 1300.2 241.5 1301.2 241 1301.8C240.4 1302.4 239.6 1302.6 239.2 1302.5C238.7 1302.5 238.3 1301.9 238.2 1301.2C238.2 1300.6 238.4 1299.5 238.9 1298.7C239.4 1297.8 240.3 1296.8 241.3 1296.2C242.2 1295.5 243.5 1295 244.6 1295C245.6 1295 246.8 1295.3 247.7 1295.9C248.5 1296.5 249.2 1297.6 249.5 1298.6C249.8 1299.7 249.8 1301.1 249.6 1302.2C249.4 1303.3 248.8 1304.4 248.3 1305.1C247.7 1305.8 246.9 1306.3 246.4 1306.3C245.9 1306.4 245.3 1306 245.2 1305.5C245 1304.9 245.1 1303.9 245.5 1303.1C245.9 1302.2 246.7 1301.1 247.5 1300.4C248.4 1299.7 249.6 1299.1 250.7 1298.9C251.8 1298.7 253 1298.8 253.9 1299.3C254.8 1299.8 255.7 1300.7 256.1 1301.7C256.6 1302.7 256.7 1304.1 256.6 1305.2C256.5 1306.3 256 1307.6 255.5 1308.4C255 1309.2 254.2 1309.8 253.7 1310C253.1 1310.2 252.5 1310 252.2 1309.6C252 1309.2 251.9 1308.3 252.2 1307.5C252.4 1306.6 253.1 1305.5 253.8 1304.7C254.6 1304 255.8 1303.2 256.8 1302.8C257.9 1302.5 259.2 1302.5 260.2 1302.8C261.1 1303.1 262.1 1303.9 262.7 1304.8C263.2 1305.7 263.5 1307 263.5 1308.2C263.6 1309.3 263.2 1310.6 262.8 1311.5C262.3 1312.4 261.6 1313.3 261 1313.6C260.4 1314 259.7 1314 259.4 1313.7C259 1313.3 258.8 1312.6 258.9 1311.8C259.1 1311 259.5 1309.9 260.2 1309.1C260.9 1308.3 262 1307.3 263 1306.9C264 1306.4 265.3 1306.2 266.3 1306.4C267.4 1306.6 268.4 1307.2 269.1 1308C269.8 1308.8 270.3 1310 270.4 1311.1C270.5 1312.2 270.3 1313.6 269.9 1314.6C269.6 1315.6 268.9 1316.6 268.3 1317.1C267.7 1317.6 267 1317.8 266.5 1317.6C266.1 1317.4 265.8 1316.8 265.8 1316.1C265.8 1315.4 266.1 1314.3 266.7 1313.5C267.2 1312.6 268.2 1311.6 269.2 1311C270.1 1310.5 271.4 1310.1 272.5 1310.1C273.6 1310.1 274.7 1310.6 275.5 1311.2C276.3 1311.9 276.9 1313.1 277.2 1314.1C277.4 1315.2 277.1 1317.1 277.1 1317.7"/><path id="p7" d="M274 1316C274.2 1320 274 1337.9 275.4 1339.9C276.8 1341.9 279.4 1330.8 282.2 1328C285 1325.2 286.4 1324.3 292.4 1322.9C298.3 1321.5 313.4 1321.5 317.9 1319.5C322.4 1317.5 321.6 1315.2 319.6 1311C317.6 1306.8 310 1299.4 306 1294C302 1288.6 297.5 1281.2 295.8 1278.7"/><path id="p8" d="M286.8 1292.8C286.4 1293.1 285.1 1294.2 284.4 1294.6C283.7 1295 283 1295.2 282.7 1295.3C282.4 1295.4 282.3 1295.2 282.6 1295.1C282.9 1294.9 283.5 1294.5 284.3 1294.3C285 1294.1 286.2 1293.8 287.2 1293.7C288.2 1293.6 289.5 1293.5 290.4 1293.7C291.4 1293.9 292.3 1294.3 292.9 1294.8C293.5 1295.3 293.8 1296.1 293.8 1296.8C293.8 1297.6 293.4 1298.6 292.9 1299.4C292.4 1300.2 291.6 1301.1 290.8 1301.8C290.1 1302.5 289.1 1303.2 288.4 1303.6C287.7 1304 287 1304.2 286.7 1304.3C286.4 1304.4 286.3 1304.2 286.6 1304.1C286.9 1303.9 287.5 1303.5 288.3 1303.3C289 1303.1 290.2 1302.8 291.2 1302.7C292.2 1302.6 293.5 1302.5 294.4 1302.7C295.4 1302.9 296.3 1303.3 296.9 1303.8C297.5 1304.3 297.8 1305.1 297.8 1305.8C297.8 1306.6 297.4 1307.6 296.9 1308.4C296.4 1309.2 295.2 1310.4 294.8 1310.8"/><path id="p9" d="M240 1270C241.7 1269.5 247.5 1266.7 250 1267C252.5 1267.3 254.2 1271.2 255 1272"/><path id="p10" d="M256.8 1275.3C256.6 1275.8 256.1 1277.5 255.6 1278.1C255 1278.8 254.2 1279.2 253.6 1279.3C253 1279.4 252.2 1279 251.8 1278.5C251.4 1278 251.2 1277 251.3 1276.1C251.3 1275.2 251.7 1274 252.4 1273.2C253 1272.4 254 1271.5 254.9 1271C255.9 1270.6 257.1 1270.4 258.1 1270.6C259.1 1270.8 260.2 1271.4 260.9 1272.1C261.6 1272.9 262.2 1274 262.4 1275.1C262.6 1276.1 262.5 1277.4 262.2 1278.4C261.9 1279.3 261.2 1280.3 260.6 1280.7C260 1281.2 259.2 1281.4 258.6 1281.3C258 1281.1 257.4 1280.5 257.1 1279.8C256.9 1279.2 256.8 1278.1 257.1 1277.1C257.4 1276.2 258 1275.1 258.7 1274.3C259.5 1273.6 260.6 1272.9 261.6 1272.7C262.7 1272.4 263.9 1272.5 264.8 1272.9C265.8 1273.3 266.7 1274.1 267.3 1275C267.8 1275.9 268.1 1277.2 268.2 1278.2C268.2 1279.3 267.9 1280.5 267.4 1281.3C267 1282.1 266.2 1282.9 265.6 1283.1C265 1283.4 264.1 1283.3 263.6 1283C263.1 1282.6 262.7 1281.8 262.6 1281C262.5 1280.2 262.7 1279.1 263.1 1278.2C263.6 1277.2 264.4 1276.2 265.3 1275.6C266.2 1275 267.4 1274.5 268.4 1274.5C269.4 1274.5 270.6 1274.8 271.4 1275.4C272.3 1276 273 1277 273.4 1278C273.8 1279 273.7 1280.8 273.8 1281.3"/><path id="p11" d="M270 1280C270.9 1283.2 273.6 1294.2 275.4 1299.1C277.1 1304 279.6 1307.6 280.5 1309.3"/><path id="p12" d="M470.6 1349.7C470.6 1352.2 471.3 1361.6 470.6 1364.8C469.9 1368 471.3 1369.4 466.3 1369.1C461.3 1368.8 447.7 1362.7 440.5 1362.7C433.3 1362.7 426.4 1366.6 423.3 1369.1C420.2 1371.6 420.1 1374.8 422.2 1377.7C424.3 1380.6 432.8 1382.3 436.2 1386.3C439.6 1390.2 440.9 1395.3 442.7 1401.4C444.5 1407.5 444.5 1415.7 447 1422.9C449.5 1430.1 454.8 1437.6 457.7 1444.4C460.6 1451.2 463.5 1458 464.2 1463.8C464.9 1469.5 464.1 1474.6 462 1478.9C459.9 1483.2 453.4 1484.6 451.3 1489.6C449.2 1494.6 449.1 1502.2 449.1 1509C449.1 1515.8 450.9 1523.7 451.3 1530.5C451.7 1537.3 449.5 1545.6 451.3 1549.9C453.1 1554.2 460.9 1553.8 462 1556.3C463.1 1558.8 456.3 1563 457.7 1565C459.1 1567 465.9 1567.8 470.6 1568.2C475.3 1568.6 483.2 1567.6 485.7 1567.5"/><path id="p13" d="M470.6 1349.7 L464.2 1336.8"/><path id="p14" d="M468.8 1328.8C469.1 1329.3 470.3 1331.1 470.7 1332C471.1 1332.9 471.1 1333.8 471.1 1334.1C471 1334.5 470.5 1334.6 470.2 1334.2C469.8 1333.8 469.2 1332.9 468.8 1331.9C468.5 1330.9 468.1 1329.3 468 1328C468 1326.7 468.1 1325.2 468.5 1324.1C469 1323 469.7 1322 470.6 1321.5C471.4 1321 472.6 1320.9 473.7 1321.2C474.8 1321.4 476.1 1322.2 477.1 1323.1C478 1323.9 479 1325.2 479.6 1326.2C480.3 1327.2 480.7 1328.4 480.8 1329C480.9 1329.7 480.7 1330.2 480.5 1330.2C480.2 1330.2 479.6 1329.8 479.2 1329C478.8 1328.3 478.3 1327 478.1 1325.8C477.8 1324.6 477.7 1323 477.8 1321.7C478 1320.5 478.5 1319.1 479.1 1318.3C479.8 1317.5 480.8 1316.9 481.8 1316.8C482.8 1316.7 484.1 1317 485.2 1317.6C486.2 1318.2 487.4 1319.3 488.3 1320.3C489.1 1321.3 489.8 1322.6 490.2 1323.5C490.6 1324.4 490.6 1325.3 490.6 1325.6C490.5 1326 490 1326.1 489.7 1325.7C489.3 1325.3 488.7 1324.4 488.3 1323.4C488 1322.4 487.6 1320.8 487.5 1319.5C487.5 1318.2 487.6 1316.7 488 1315.6C488.5 1314.5 489.2 1313.5 490.1 1313C490.9 1312.5 492.1 1312.4 493.2 1312.7C494.3 1312.9 495.6 1313.7 496.6 1314.6C497.5 1315.4 498.5 1316.7 499.1 1317.7C499.8 1318.7 500.2 1319.9 500.3 1320.5C500.4 1321.2 500.2 1321.7 500 1321.7C499.7 1321.7 499.1 1321.3 498.7 1320.5C498.3 1319.8 497.8 1318.5 497.6 1317.3C497.3 1316.1 497.2 1314.5 497.3 1313.2C497.5 1312 498 1310.6 498.6 1309.8C499.3 1309 500.3 1308.4 501.3 1308.3C502.3 1308.2 503.6 1308.5 504.7 1309.1C505.7 1309.7 507.2 1311.4 507.8 1311.8"/><path id="p15" d="M341.5 1261.5C343.3 1260.8 348.7 1256.5 352.3 1257.2C355.9 1257.9 362.6 1262.9 363 1265.8C363.4 1268.7 354.4 1271.5 354.4 1274.4C354.4 1277.3 359.4 1281.6 363 1283C366.6 1284.4 373.8 1283 376 1283"/><path id="p16" d="M377 1285C377.2 1286.3 377.7 1290.9 378 1293.1C378.3 1295.2 378.5 1297 378.7 1297.6C378.9 1298.3 379.1 1297.9 379.3 1296.8C379.5 1295.7 379.7 1293.3 380 1290.9C380.4 1288.5 380.7 1285 381.2 1282.4C381.6 1279.8 382.2 1276.8 382.8 1275.1C383.3 1273.3 384 1272.1 384.6 1272C385.2 1271.9 385.9 1272.9 386.5 1274.5C387 1276.1 387.6 1279 388.1 1281.6C388.5 1284.2 388.9 1287.6 389.3 1290.1C389.6 1292.5 389.8 1295.1 390.1 1296.4C390.3 1297.7 390.4 1298.3 390.6 1297.8C390.8 1297.4 391 1295.7 391.3 1293.7C391.6 1291.7 391.9 1288.5 392.3 1285.9C392.7 1283.2 393.2 1279.9 393.7 1277.6C394.2 1275.4 394.8 1273.4 395.4 1272.6C396.1 1271.8 396.7 1271.9 397.3 1272.9C397.9 1273.8 398.6 1276.1 399.1 1278.4C399.6 1280.7 400.1 1284.1 400.4 1286.7C400.8 1289.4 401.1 1292.5 401.4 1294.3C401.6 1296.2 401.8 1297.7 402 1297.9C402.2 1298.2 402.4 1297.4 402.6 1296C402.8 1294.5 403.1 1291.8 403.4 1289.3C403.8 1286.7 404.2 1283.3 404.7 1280.7C405.2 1278.2 405.7 1275.5 406.3 1274C406.9 1272.6 407.6 1271.8 408.2 1272.1C408.8 1272.3 409.5 1273.8 410 1275.7C410.6 1277.5 411.1 1280.6 411.5 1283.3C412 1285.9 412.3 1289.3 412.6 1291.6C413 1293.9 413.2 1296.2 413.4 1297.1C413.6 1298.1 413.7 1298.2 414 1297.4C414.2 1296.6 414.4 1294.6 414.7 1292.4C415 1290.1 415.3 1286.8 415.7 1284.1C416.2 1281.5 416.7 1278.3 417.2 1276.3C417.8 1274.3 418.4 1272.6 419 1272.2C419.6 1271.7 420.3 1272.3 420.9 1273.6C421.5 1274.9 422.1 1277.5 422.6 1279.9C423.1 1282.4 423.5 1285.8 423.9 1288.4C424.2 1291 424.5 1293.9 424.7 1295.5C425 1297.1 425.1 1298.1 425.3 1298C425.5 1297.9 425.7 1296.7 426 1294.9C426.2 1293.2 426.5 1290.2 426.8 1287.6C427.2 1285 427.7 1281.5 428.2 1279.1C428.7 1276.7 429.3 1274.3 429.9 1273.2C430.5 1272.1 431.2 1271.7 431.8 1272.4C432.4 1273 433 1274.8 433.6 1276.9C434.1 1279.1 434.8 1283.7 435 1285"/><path id="p17" d="M437 1287.2C437 1287.9 437.2 1290 437.3 1291C437.4 1292 437.5 1292.9 437.7 1293.3C437.8 1293.7 438.1 1293.7 438.4 1293.3C438.8 1292.9 439.3 1292 439.8 1291.1C440.4 1290.1 441.2 1288.8 441.9 1287.7C442.6 1286.6 443.5 1285.4 444.3 1284.7C445.1 1284 445.9 1283.4 446.6 1283.4C447.3 1283.3 447.9 1283.7 448.4 1284.4C448.9 1285.1 449.3 1286.3 449.6 1287.5C449.8 1288.7 450 1290.3 450.1 1291.6C450.3 1292.8 450.3 1294.2 450.4 1295C450.5 1295.8 450.6 1296.5 450.8 1296.6C451.1 1296.7 451.4 1296.3 451.8 1295.7C452.3 1295.2 452.8 1294 453.5 1293C454.1 1292 454.9 1290.6 455.7 1289.6C456.4 1288.6 457.3 1287.5 458.1 1287C458.9 1286.5 459.6 1286.2 460.3 1286.5C460.9 1286.7 461.4 1287.4 461.9 1288.3C462.3 1289.2 462.6 1290.6 462.8 1291.9C463 1293.1 463.1 1294.7 463.2 1295.9C463.3 1297 463.4 1298.2 463.5 1298.8C463.7 1299.4 463.8 1299.7 464.1 1299.6C464.4 1299.4 464.8 1298.8 465.3 1298C465.8 1297.2 466.5 1295.9 467.2 1294.9C467.9 1293.8 468.7 1292.4 469.5 1291.6C470.3 1290.7 471.1 1289.8 471.9 1289.6C472.6 1289.3 473.3 1289.3 473.9 1289.8C474.4 1290.3 474.9 1291.3 475.2 1292.3C475.6 1293.4 475.9 1295.6 476 1296.2"/><path id="p18" d="M475 1296C479.2 1297.5 492.5 1302.3 500 1305C507.5 1307.7 516.7 1310.8 520 1312"/><path id="p19" d="M449.1 1306.7C450.9 1307.6 455.7 1310.1 460 1312C464.3 1313.9 474 1315 475 1318C476 1321 467.5 1328 466 1330"/><path id="p20" d="M565.3 1349.7C567.4 1351.5 576.1 1355.8 578.2 1360.5C580.4 1365.2 578.6 1372 578.2 1377.7C577.9 1383.4 579 1389.2 576.1 1394.9C573.2 1400.7 565.7 1405 561 1412.2C556.3 1419.4 551 1431.2 548.1 1438C545.2 1444.8 542.7 1448 543.8 1453C544.9 1458 553.9 1463.8 554.6 1468.1C555.3 1472.4 547.8 1477.5 548.1 1478.9C548.5 1480.3 551.7 1477.4 556.7 1476.7C561.7 1476 571 1476.4 578.2 1474.6C585.4 1472.8 591.9 1470 599.8 1466C607.7 1462 620.2 1456.7 625.6 1450.9C631 1445.2 633.4 1437.2 632 1431.5C630.6 1425.8 620.6 1421.9 617 1416.5C613.4 1411.1 611.6 1402.1 610.5 1399.2"/><path id="p21" d="M578.2 1360.5C581.4 1362.7 591.5 1369.8 597.6 1373.4C603.7 1377 610.1 1382.7 614.8 1382C619.5 1381.3 620.9 1374.1 625.6 1369.1C630.3 1364.1 638.7 1355.9 642.8 1351.9C646.9 1347.9 648.8 1348.1 650.4 1345.1C652 1342.1 652.1 1335.8 652.5 1334"/><path id="p22" d="M551.5 1326.7C551.9 1323.2 550 1311.8 553.8 1306C557.6 1300.2 568 1294.9 574.5 1292.2C581 1289.5 589.8 1290.3 592.9 1289.9"/><path id="p23" d="M569.9 1315.2C571 1311.8 574.1 1296 576.8 1294.5C579.5 1293 579.9 1301.4 586 1306C592.1 1310.6 609 1319.4 613.6 1322.1"/><path id="p24" d="M594.5 1299.3C594.4 1300.3 594.4 1303.6 594.3 1305C594.3 1306.5 594.1 1307.8 594.2 1308.2C594.3 1308.7 594.4 1308.4 594.8 1307.6C595.1 1306.9 595.7 1305.2 596.4 1303.6C597 1302 598 1299.7 598.9 1298.1C599.8 1296.4 600.9 1294.5 601.8 1293.6C602.8 1292.6 603.7 1292 604.5 1292.3C605.3 1292.5 605.9 1293.5 606.3 1294.8C606.8 1296.1 607 1298.3 607.1 1300.2C607.3 1302.2 607.2 1304.6 607.1 1306.3C607.1 1308 606.9 1309.6 606.9 1310.4C606.9 1311.2 607 1311.4 607.2 1310.9C607.5 1310.5 607.9 1309.1 608.5 1307.7C609.1 1306.3 609.9 1304.1 610.8 1302.4C611.7 1300.6 612.7 1298.5 613.7 1297.3C614.6 1296.1 615.7 1295.1 616.5 1294.9C617.3 1294.8 618.1 1295.4 618.6 1296.4C619.2 1297.5 619.5 1299.4 619.7 1301.2C619.9 1303.1 619.9 1305.5 619.9 1307.4C619.9 1309.2 619.7 1311.2 619.7 1312.3C619.7 1313.4 619.6 1314 619.8 1313.9C620 1313.8 620.2 1312.9 620.7 1311.7C621.2 1310.5 622 1308.4 622.8 1306.7C623.6 1305 624.6 1302.7 625.5 1301.3C626.5 1299.8 627.6 1298.5 628.5 1298C629.3 1297.5 630.2 1297.6 630.8 1298.3C631.5 1299.1 631.9 1300.7 632.2 1302.3C632.5 1304 632.6 1306.4 632.6 1308.3C632.7 1310.3 632.5 1312.5 632.4 1313.8C632.4 1315.2 632.3 1316.3 632.4 1316.5C632.5 1316.8 632.7 1316.3 633.1 1315.4C633.5 1314.4 634.1 1312.6 634.8 1311C635.5 1309.3 636.5 1307 637.4 1305.4C638.4 1303.8 639.5 1302.1 640.4 1301.3C641.3 1300.5 642.3 1300.1 643 1300.5C643.7 1300.9 644.3 1302.1 644.7 1303.6C645 1305.1 645.2 1307.3 645.3 1309.3C645.4 1311.2 645.3 1313.6 645.2 1315.2C645.2 1316.8 645 1318.3 645.1 1318.9C645.1 1319.5 645.2 1319.4 645.5 1318.8C645.8 1318.2 646.3 1316.7 646.9 1315.2C647.6 1313.7 648.4 1311.4 649.3 1309.7C650.2 1308 651.3 1306 652.3 1304.9C653.2 1303.8 654.2 1303 655 1303.1C655.8 1303.1 656.5 1303.9 657 1305.1C657.5 1306.3 657.8 1308.4 657.9 1310.2C658.1 1312.1 658 1314.6 658 1316.3C658 1318.1 657.8 1319.9 657.8 1320.9C657.8 1321.8 657.8 1322.2 658 1321.9C658.2 1321.7 658.6 1320.5 659.1 1319.2C659.7 1317.9 660.4 1315.8 661.3 1314C662.1 1312.3 663.2 1310.1 664.1 1308.8C665.1 1307.4 666.1 1306.2 667 1305.9C667.9 1305.6 668.7 1305.9 669.2 1306.8C669.8 1307.7 670.2 1309.5 670.5 1311.3C670.7 1313 670.7 1315.5 670.8 1317.4C670.8 1319.3 670.6 1321.4 670.6 1322.6C670.5 1323.8 670.4 1324.7 670.6 1324.8C670.7 1324.8 670.9 1324.1 671.4 1323C671.9 1322 672.5 1320 673.3 1318.3C674 1316.6 675 1314.4 676 1312.8C676.9 1311.3 678 1309.8 678.9 1309.1C679.8 1308.4 680.7 1308.3 681.4 1308.9C682.1 1309.4 682.6 1310.9 683 1312.4C683.3 1314 683.4 1317.3 683.5 1318.3"/><path id="p25" d="M616.4 1307.7C616.2 1308.4 615.3 1310.8 614.8 1311.8C614.3 1312.8 613.6 1313.5 613.4 1313.8C613.1 1314.1 613 1313.9 613.3 1313.5C613.5 1313 614.2 1312 615.1 1311.2C615.9 1310.3 617.3 1309.1 618.6 1308.3C619.9 1307.5 621.5 1306.7 622.9 1306.4C624.2 1306.1 625.7 1306.1 626.8 1306.6C627.8 1307.1 628.7 1308.1 629.2 1309.2C629.7 1310.4 629.8 1312.1 629.7 1313.6C629.6 1315.1 629.1 1316.9 628.6 1318.2C628.2 1319.6 627.4 1320.9 626.9 1321.7C626.4 1322.5 625.9 1322.9 625.8 1323C625.7 1323 625.8 1322.5 626.3 1321.9C626.8 1321.2 627.7 1320.1 628.7 1319.2C629.8 1318.3 631.3 1317.2 632.6 1316.5C634 1315.8 635.6 1315.2 636.9 1315.2C638.3 1315.2 639.6 1315.5 640.5 1316.2C641.3 1316.9 642 1318.2 642.3 1319.5C642.5 1320.9 642.4 1322.7 642.2 1324.2C641.9 1325.7 641.2 1327.4 640.7 1328.6C640.2 1329.8 639.5 1330.9 639.1 1331.4C638.7 1331.9 638.3 1332.1 638.4 1331.8C638.5 1331.6 638.9 1330.8 639.6 1330.1C640.3 1329.3 641.4 1328.1 642.6 1327.2C643.8 1326.4 645.4 1325.3 646.8 1324.8C648.1 1324.3 649.7 1324.1 650.9 1324.3C652.1 1324.5 653.2 1325.1 653.9 1326.1C654.6 1327.1 655 1328.6 655.1 1330C655.2 1331.4 654.6 1333.9 654.4 1334.7"/><path id="p26" d="M682 1318C685.2 1320.2 699.8 1328.3 701 1331.3C702.2 1334.3 691.8 1337 689.5 1335.9C687.2 1334.9 685.9 1328.1 687 1325C688.1 1321.9 692.9 1317.2 696.4 1317.5C699.9 1317.8 706 1325.2 707.9 1326.7"/><path id="p27" d="M905.7 1335.9C903.4 1338.2 894.2 1346.2 891.9 1349.7C889.6 1353.2 890 1353.9 891.9 1356.6C893.8 1359.3 900.7 1361.2 903.4 1365.8C906.1 1370.4 903.4 1379.8 908 1384.2C912.6 1388.6 926.4 1392.6 931 1392.2C935.6 1391.8 931.8 1387.5 935.6 1381.9C939.4 1376.4 947.1 1365.8 954 1358.9C960.9 1352 970.9 1344 977 1340.5C983.1 1337 987.6 1338 990.8 1338.2C994 1338.5 996.4 1342.4 996 1342C995.6 1341.6 989.8 1339.7 988.5 1336C987.2 1332.3 988.5 1322.5 988.5 1319.8"/><path id="p28" d="M990.8 1340C991.4 1343.9 994.2 1355.4 994.2 1363.5C994.2 1371.6 992.5 1381.1 990.8 1388.8C989.1 1396.5 985.4 1404.1 983.9 1409.5C982.4 1414.9 982 1419.1 981.6 1421"/><path id="p29" d="M747 1333.6C747.8 1331.7 747.8 1327.5 751.6 1322.1C755.4 1316.7 764.6 1305.6 770 1301.4C775.4 1297.2 781.5 1297.6 783.8 1296.8"/><path id="p30" d="M753.9 1325.5C754.3 1326.4 755.7 1329.4 756.3 1330.7C756.8 1332.1 757.2 1333.3 757.3 1333.7C757.5 1334.1 757.3 1333.8 757.2 1333C757.1 1332.1 756.7 1330.4 756.6 1328.6C756.4 1326.9 756.2 1324.4 756.3 1322.5C756.4 1320.6 756.6 1318.5 757.1 1317.2C757.6 1315.9 758.4 1315 759.3 1314.8C760.2 1314.7 761.3 1315.3 762.4 1316.3C763.5 1317.3 764.7 1319.2 765.7 1320.9C766.7 1322.5 767.6 1324.8 768.3 1326.3C769 1327.8 769.4 1329.4 769.7 1330C769.9 1330.7 769.9 1330.8 769.8 1330.3C769.7 1329.7 769.4 1328.3 769.2 1326.7C769.1 1325.2 768.8 1322.8 768.8 1320.8C768.8 1318.9 768.9 1316.6 769.3 1315.1C769.7 1313.6 770.3 1312.3 771.1 1311.8C771.9 1311.3 773 1311.6 774.1 1312.3C775.1 1313.1 776.4 1314.7 777.4 1316.3C778.4 1317.9 779.5 1320.1 780.3 1321.8C781 1323.4 781.6 1325.2 782 1326.1C782.3 1327.1 782.4 1327.6 782.4 1327.3C782.4 1327.1 782.1 1326 781.9 1324.7C781.7 1323.3 781.4 1321.1 781.3 1319.2C781.3 1317.2 781.3 1314.8 781.6 1313.1C781.8 1311.4 782.4 1309.8 783.1 1309C783.8 1308.3 784.8 1308.1 785.8 1308.6C786.8 1309.1 788 1310.4 789.1 1311.8C790.1 1313.3 791.3 1315.4 792.1 1317.1C793 1318.8 793.7 1320.8 794.2 1322C794.6 1323.2 794.8 1324.1 794.9 1324.1C795 1324.2 794.7 1323.5 794.6 1322.4C794.4 1321.3 794.1 1319.3 793.9 1317.4C793.8 1315.6 793.7 1313.1 793.9 1311.3C794.1 1309.5 794.5 1307.5 795.1 1306.5C795.7 1305.5 796.5 1304.9 797.5 1305.1C798.4 1305.2 799.7 1306.3 800.7 1307.5C801.8 1308.7 803 1310.8 803.9 1312.5C804.9 1314.2 805.7 1316.4 806.3 1317.7C806.8 1319.1 807.2 1320.3 807.3 1320.7C807.5 1321.1 807.3 1320.8 807.2 1320C807.1 1319.1 806.7 1317.4 806.6 1315.6C806.4 1313.9 806.2 1311.4 806.3 1309.5C806.4 1307.6 806.6 1305.5 807.1 1304.2C807.6 1302.9 808.4 1302 809.3 1301.8C810.2 1301.7 811.3 1302.3 812.4 1303.3C813.5 1304.3 814.7 1306.2 815.7 1307.9C816.7 1309.5 817.6 1311.8 818.3 1313.3C819 1314.8 819.4 1316.4 819.7 1317C819.9 1317.7 819.9 1317.8 819.8 1317.3C819.7 1316.7 819.4 1315.3 819.2 1313.7C819.1 1312.2 818.8 1309.8 818.8 1307.8C818.8 1305.9 818.9 1303.6 819.3 1302.1C819.7 1300.6 820.3 1299.3 821.1 1298.8C821.9 1298.3 823 1298.6 824.1 1299.3C825.1 1300.1 826.4 1301.7 827.4 1303.3C828.4 1304.9 829.5 1307.1 830.3 1308.8C831 1310.4 831.6 1312.2 832 1313.1C832.3 1314.1 832.4 1314.6 832.4 1314.3C832.4 1314.1 832.1 1313 831.9 1311.7C831.7 1310.3 831.4 1308.1 831.3 1306.2C831.3 1304.2 831.3 1301.8 831.6 1300.1C831.8 1298.4 832.4 1296.8 833.1 1296C833.8 1295.3 834.8 1295.1 835.8 1295.6C836.8 1296.1 838 1297.4 839.1 1298.8C840.1 1300.3 841.3 1302.4 842.1 1304.1C843 1305.8 843.7 1307.8 844.2 1309C844.6 1310.2 844.8 1311.1 844.9 1311.1C845 1311.2 844.7 1310.5 844.6 1309.4C844.4 1308.3 844.1 1306.3 843.9 1304.4C843.8 1302.6 843.7 1300.1 843.9 1298.3C844.1 1296.5 844.5 1294.5 845.1 1293.5C845.7 1292.5 846.5 1291.9 847.5 1292.1C848.4 1292.2 849.7 1293.3 850.7 1294.5C851.8 1295.7 853.4 1298.7 853.9 1299.5"/><path id="p31" d="M823.5 1289.8C823.8 1290.6 824.7 1293.2 825.1 1294.5C825.5 1295.7 825.8 1296.8 825.9 1297.2C826.1 1297.6 826.1 1297.5 826.2 1296.9C826.2 1296.3 826.2 1295 826.3 1293.6C826.3 1292.2 826.4 1290.1 826.6 1288.5C826.8 1286.8 827.2 1284.9 827.6 1283.7C828.1 1282.4 828.7 1281.4 829.4 1281C830 1280.6 830.9 1280.9 831.7 1281.5C832.4 1282.2 833.3 1283.6 834.1 1284.9C834.8 1286.3 835.5 1288.3 836.1 1289.8C836.7 1291.3 837.1 1293 837.5 1294C837.8 1295 837.9 1295.8 838.1 1295.8C838.2 1295.9 838.2 1295.4 838.2 1294.4C838.3 1293.5 838.2 1291.9 838.3 1290.3C838.4 1288.8 838.6 1286.7 838.9 1285.1C839.2 1283.5 839.6 1281.8 840.1 1280.8C840.7 1279.8 841.4 1279.2 842.1 1279.1C842.8 1279.1 843.7 1279.8 844.5 1280.7C845.3 1281.7 846.1 1283.3 846.8 1284.8C847.5 1286.3 848.1 1288.3 848.6 1289.7C849.1 1291.1 849.5 1292.6 849.7 1293.3C850 1294 850.1 1294.3 850.2 1294.1C850.2 1293.8 850.2 1292.8 850.2 1291.6C850.3 1290.4 850.3 1288.6 850.4 1286.9C850.6 1285.3 850.8 1283.2 851.2 1281.8C851.6 1280.3 852.1 1278.9 852.7 1278.2C853.3 1277.5 854.1 1277.3 854.9 1277.7C855.6 1278 856.5 1279 857.3 1280.2C858 1281.4 859.1 1284 859.5 1284.8"/><path id="p32" d="M858.4 1283.5C858.3 1284.3 857.9 1286.7 857.7 1287.9C857.5 1289 857.2 1290 857.2 1290.4C857.2 1290.7 857.3 1290.6 857.6 1290.2C857.9 1289.7 858.5 1288.7 859.2 1287.6C859.9 1286.6 860.8 1285 861.8 1283.9C862.7 1282.8 863.9 1281.5 864.8 1280.8C865.8 1280.1 866.8 1279.6 867.5 1279.7C868.3 1279.8 868.9 1280.4 869.2 1281.3C869.6 1282.2 869.8 1283.7 869.8 1285.1C869.8 1286.6 869.5 1288.4 869.4 1289.8C869.2 1291.2 868.8 1292.7 868.7 1293.5C868.5 1294.4 868.3 1295 868.4 1295C868.5 1295.1 868.8 1294.5 869.3 1293.8C869.8 1293.1 870.5 1291.7 871.3 1290.6C872.1 1289.4 873.2 1287.9 874.2 1286.9C875.2 1285.8 876.3 1284.8 877.2 1284.4C878.1 1284 879 1284 879.6 1284.4C880.2 1284.8 880.6 1285.9 880.8 1287C881 1288.2 881 1289.9 880.9 1291.4C880.8 1292.9 880.5 1294.7 880.3 1295.9C880.1 1297.1 879.7 1298.3 879.7 1298.9C879.6 1299.4 879.6 1299.5 879.8 1299.2C880.1 1298.9 880.5 1298 881.2 1297.1C881.8 1296.1 883.2 1294.1 883.6 1293.5"/><path id="p33" d="M889.6 1273.8C892.2 1274.2 900 1268.3 905 1276C910 1283.7 920.3 1314.1 919.5 1319.8C918.7 1325.5 902.7 1310 900 1310C897.3 1310 902.4 1315.5 903.4 1319.8C904.4 1324.1 905.3 1333.2 905.7 1335.9"/><path id="p34" d="M885 1285C890.8 1285.4 911.8 1282.2 919.5 1287.6C927.2 1293 927.9 1309.5 931 1317.5C934.1 1325.5 936.8 1332.8 937.9 1335.9"/></defs><g fill="none" stroke-linecap="round" stroke-linejoin="round"><use href="#p1" stroke="#222" stroke-opacity="0.4" stroke-width="2.9"/><use href="#p1" stroke="#d81414" stroke-width="2"/><use href="#p2" stroke="#222" stroke-opacity="0.4" stroke-width="3.5"/><use href="#p2" stroke="#f2c80c" stroke-width="2.6"/><use href="#p3" stroke="#222" stroke-opacity="0.4" stroke-width="7.3"/><use href="#p3" stroke="#f2c80c" stroke-width="5.9"/><use href="#p4" stroke="#222" stroke-opacity="0.4" stroke-width="3.5"/><use href="#p4" stroke="#f2c80c" stroke-width="2.6"/><use href="#p5" stroke="#222" stroke-opacity="0.4" stroke-width="3.3"/><use href="#p5" stroke="#3430c0" stroke-width="2.4"/><use href="#p6" stroke="#222" stroke-opacity="0.4" stroke-width="6.1"/><use href="#p6" stroke="#3430c0" stroke-width="4.7"/><use href="#p7" stroke="#222" stroke-opacity="0.4" stroke-width="3.5"/><use href="#p7" stroke="#3430c0" stroke-width="2.6"/><use href="#p8" stroke="#222" stroke-opacity="0.4" stroke-width="7.3"/><use href="#p8" stroke="#3430c0" stroke-width="5.9"/><use href="#p9" stroke="#222" stroke-opacity="0.4" stroke-width="4.4"/><use href="#p9" stroke="#f2c80c" stroke-width="3.5"/><use href="#p10" stroke="#222" stroke-opacity="0.4" stroke-width="5.6"/><use href="#p10" stroke="#3430c0" stroke-width="4.2"/><use href="#p11" stroke="#222" stroke-opacity="0.4" stroke-width="3.3"/><use href="#p11" stroke="#3430c0" stroke-width="2.4"/><use href="#p12" stroke="#222" stroke-opacity="0.4" stroke-width="2.9"/><use href="#p12" stroke="#d81414" stroke-width="2"/><use href="#p13" stroke="#222" stroke-opacity="0.4" stroke-width="3.3"/><use href="#p13" stroke="#f2c80c" stroke-width="2.4"/><use href="#p14" stroke="#222" stroke-opacity="0.4" stroke-width="5.6"/><use href="#p14" stroke="#f2c80c" stroke-width="4.2"/><use href="#p15" stroke="#222" stroke-opacity="0.4" stroke-width="3.5"/><use href="#p15" stroke="#3430c0" stroke-width="2.6"/><use href="#p16" stroke="#222" stroke-opacity="0.4" stroke-width="6.9"/><use href="#p16" stroke="#3430c0" stroke-width="5.5"/><use href="#p17" stroke="#222" stroke-opacity="0.4" stroke-width="6.9"/><use href="#p17" stroke="#f2c80c" stroke-width="5.5"/><use href="#p18" stroke="#222" stroke-opacity="0.4" stroke-width="3.3"/><use href="#p18" stroke="#3430c0" stroke-width="2.4"/><use href="#p19" stroke="#222" stroke-opacity="0.4" stroke-width="3.1"/><use href="#p19" stroke="#f2c80c" stroke-width="2.2"/><use href="#p20" stroke="#222" stroke-opacity="0.4" stroke-width="2.9"/><use href="#p20" stroke="#d81414" stroke-width="2"/><use href="#p21" stroke="#222" stroke-opacity="0.4" stroke-width="2.9"/><use href="#p21" stroke="#d81414" stroke-width="2"/><use href="#p22" stroke="#222" stroke-opacity="0.4" stroke-width="3.3"/><use href="#p22" stroke="#3430c0" stroke-width="2.4"/><use href="#p23" stroke="#222" stroke-opacity="0.4" stroke-width="3.3"/><use href="#p23" stroke="#f2c80c" stroke-width="2.4"/><use href="#p24" stroke="#222" stroke-opacity="0.4" stroke-width="6.6"/><use href="#p24" stroke="#3430c0" stroke-width="5.2"/><use href="#p25" stroke="#222" stroke-opacity="0.4" stroke-width="7.1"/><use href="#p25" stroke="#f2c80c" stroke-width="5.7"/><use href="#p26" stroke="#222" stroke-opacity="0.4" stroke-width="3.3"/><use href="#p26" stroke="#3430c0" stroke-width="2.4"/><use href="#p27" stroke="#222" stroke-opacity="0.4" stroke-width="2.9"/><use href="#p27" stroke="#d81414" stroke-width="2"/><use href="#p28" stroke="#222" stroke-opacity="0.4" stroke-width="2.9"/><use href="#p28" stroke="#d81414" stroke-width="2"/><use href="#p29" stroke="#222" stroke-opacity="0.4" stroke-width="3.5"/><use href="#p29" stroke="#3430c0" stroke-width="2.6"/><use href="#p30" stroke="#222" stroke-opacity="0.4" stroke-width="7.1"/><use href="#p30" stroke="#3430c0" stroke-width="5.7"/><use href="#p31" stroke="#222" stroke-opacity="0.4" stroke-width="7.1"/><use href="#p31" stroke="#3430c0" stroke-width="5.7"/><use href="#p32" stroke="#222" stroke-opacity="0.4" stroke-width="7.1"/><use href="#p32" stroke="#f2c80c" stroke-width="5.7"/><use href="#p33" stroke="#222" stroke-opacity="0.4" stroke-width="3.5"/><use href="#p33" stroke="#f2c80c" stroke-width="2.6"/><use href="#p34" stroke="#222" stroke-opacity="0.4" stroke-width="3.5"/><use href="#p34" stroke="#3430c0" stroke-width="2.6"/></g>
<use href="#mem" x="1010" y="-10" style="color:#faf4f4"/>
<defs><path id="p35" d="M1131 1275.3C1130.9 1276.3 1130.8 1279.6 1130.9 1281.1C1130.9 1282.7 1130.9 1284 1131.2 1284.6C1131.5 1285.1 1131.9 1285 1132.6 1284.4C1133.2 1283.8 1134.2 1282.4 1135.2 1281C1136.2 1279.6 1137.5 1277.5 1138.7 1276C1139.9 1274.4 1141.2 1272.7 1142.3 1271.8C1143.5 1270.9 1144.6 1270.3 1145.4 1270.4C1146.2 1270.6 1146.9 1271.5 1147.3 1272.8C1147.8 1274.1 1147.9 1276.1 1148 1278.1C1148.2 1280 1148 1282.4 1148.1 1284.2C1148.1 1286 1148 1287.9 1148.1 1288.9C1148.3 1289.9 1148.5 1290.5 1149 1290.4C1149.5 1290.2 1150.2 1289.3 1151.1 1288.2C1151.9 1287.1 1153.1 1285.1 1154.2 1283.6C1155.4 1282 1156.8 1280 1157.9 1278.7C1159.1 1277.5 1160.4 1276.3 1161.3 1276C1162.3 1275.7 1163.2 1275.9 1163.8 1276.8C1164.4 1277.6 1164.8 1279.3 1165 1281C1165.2 1282.7 1165.2 1285.1 1165.2 1287.1C1165.3 1289 1165.1 1291.2 1165.2 1292.7C1165.2 1294.1 1165.3 1295.2 1165.6 1295.6C1166 1296 1166.5 1295.7 1167.2 1294.9C1167.9 1294.2 1168.9 1292.6 1169.9 1291.2C1171 1289.7 1172.3 1287.6 1173.5 1286.1C1174.7 1284.6 1176 1283 1177.1 1282.2C1178.2 1281.4 1179.3 1281.1 1180 1281.4C1180.8 1281.8 1181.4 1282.9 1181.8 1284.3C1182.2 1285.7 1182.3 1287.9 1182.4 1289.8C1182.5 1291.7 1182.3 1294.2 1182.3 1295.9C1182.3 1297.6 1182.3 1299.3 1182.5 1300.2C1182.7 1301.1 1183 1301.4 1183.5 1301.1C1184 1300.8 1184.8 1299.7 1185.8 1298.5C1186.7 1297.3 1188.5 1294.5 1189 1293.7"/><path id="p36" d="M1190 1292.5C1189.9 1293.1 1189.9 1295.3 1189.6 1296.2C1189.3 1297.2 1188.6 1298 1188.1 1298.2C1187.6 1298.4 1186.9 1298.1 1186.5 1297.5C1186.2 1296.9 1185.9 1295.7 1186 1294.6C1186.1 1293.4 1186.6 1291.8 1187.2 1290.7C1187.9 1289.6 1189 1288.3 1190.1 1287.7C1191.2 1287.1 1192.6 1286.7 1193.7 1286.9C1194.9 1287.1 1196.1 1287.8 1197 1288.8C1197.9 1289.7 1198.6 1291.2 1198.9 1292.5C1199.2 1293.7 1199.2 1295.3 1199 1296.4C1198.8 1297.5 1198.2 1298.6 1197.7 1299C1197.2 1299.5 1196.5 1299.5 1196.1 1299.1C1195.6 1298.7 1195.2 1297.7 1195.2 1296.7C1195.1 1295.7 1195.3 1294.1 1195.9 1292.9C1196.4 1291.7 1197.3 1290.3 1198.3 1289.5C1199.3 1288.7 1200.6 1288.1 1201.8 1288C1203 1288 1204.3 1288.4 1205.3 1289.1C1206.3 1289.9 1207.2 1291.2 1207.7 1292.4C1208.2 1293.7 1208.4 1295.3 1208.3 1296.5C1208.2 1297.7 1207.8 1299 1207.3 1299.6C1206.9 1300.3 1206.1 1300.6 1205.6 1300.5C1205.2 1300.3 1204.6 1299.6 1204.4 1298.7C1204.2 1297.8 1204.2 1296.4 1204.6 1295.2C1205 1294 1205.7 1292.5 1206.6 1291.5C1207.5 1290.5 1208.7 1289.6 1209.9 1289.3C1211.1 1289 1212.5 1289.2 1213.5 1289.7C1214.6 1290.2 1215.7 1291.3 1216.3 1292.5C1217 1293.6 1217.4 1295.2 1217.4 1296.5C1217.5 1297.8 1217.2 1299.2 1216.9 1300.1C1216.5 1300.9 1215.8 1301.6 1215.3 1301.7C1214.8 1301.8 1214.1 1301.3 1213.8 1300.6C1213.5 1299.9 1213.3 1298.6 1213.5 1297.4C1213.7 1296.3 1214.2 1294.7 1215 1293.6C1215.7 1292.5 1216.9 1291.4 1218 1290.9C1219.1 1290.3 1220.5 1290.2 1221.7 1290.5C1222.8 1290.8 1224 1291.6 1224.8 1292.6C1225.6 1293.6 1226.2 1295.2 1226.5 1296.5C1226.7 1297.8 1226.6 1299.3 1226.3 1300.4C1226.1 1301.4 1225.4 1302.3 1224.9 1302.6C1224.4 1302.9 1223.7 1302.8 1223.3 1302.3C1222.9 1301.8 1222.5 1300.7 1222.6 1299.6C1222.6 1298.6 1222.9 1297 1223.5 1295.8C1224.1 1294.6 1225.1 1293.3 1226.2 1292.6C1227.2 1291.9 1228.6 1291.4 1229.8 1291.4C1230.9 1291.5 1232.3 1292.1 1233.2 1292.9C1234.1 1293.8 1234.9 1295.2 1235.3 1296.4C1235.7 1297.7 1235.8 1299.3 1235.7 1300.5C1235.5 1301.6 1235 1302.8 1234.5 1303.4C1234.1 1303.9 1233.3 1304.1 1232.8 1303.8C1232.4 1303.5 1231.9 1302.7 1231.8 1301.7C1231.7 1300.8 1231.8 1299.3 1232.2 1298.1C1232.7 1296.9 1233.5 1295.4 1234.4 1294.5C1235.4 1293.6 1236.7 1292.8 1237.9 1292.6C1239 1292.5 1240.4 1292.8 1241.4 1293.4C1242.5 1294 1243.4 1295.3 1244 1296.4C1244.6 1297.6 1244.9 1299.3 1244.9 1300.5C1244.9 1301.8 1244.5 1303.1 1244.1 1303.9C1243.7 1304.6 1243 1305.1 1242.5 1305.1C1242 1305.1 1241.3 1304.5 1241.1 1303.7C1240.9 1302.9 1240.8 1301.5 1241 1300.3C1241.3 1299.1 1242 1297.6 1242.8 1296.5C1243.6 1295.5 1244.8 1294.5 1246 1294.1C1247.1 1293.7 1248.5 1293.6 1249.6 1294C1250.7 1294.5 1251.9 1295.5 1252.6 1296.5C1253.3 1297.6 1253.7 1299.8 1254 1300.5"/><path id="p37" d="M1250.4 1296C1253.2 1295.7 1260.8 1295 1267.1 1293.9C1273.4 1292.9 1281 1289.4 1288 1289.7C1295 1290 1302.3 1293.2 1308.9 1296C1315.5 1298.8 1324.9 1301.5 1327.7 1306.4C1330.5 1311.3 1325.9 1322.1 1325.6 1325.2"/><path id="p38" d="M1327 1310C1324 1310.8 1313.3 1313.3 1308.9 1314.8C1304.5 1316.3 1300.8 1317.9 1300.5 1318.9C1300.2 1319.9 1305.8 1320.7 1306.8 1321"/><path id="p39" d="M1306.2 1321.8C1305.5 1321.5 1303.1 1320.5 1302.1 1320C1301 1319.5 1300.1 1319.1 1299.7 1319.1C1299.3 1319.1 1299.4 1319.4 1299.8 1319.9C1300.2 1320.5 1301.1 1321.5 1302 1322.6C1302.9 1323.7 1304.1 1325.1 1305 1326.4C1305.8 1327.6 1306.7 1329 1307.1 1330C1307.4 1331 1307.5 1331.9 1307 1332.3C1306.6 1332.8 1305.6 1332.9 1304.5 1332.8C1303.4 1332.7 1301.7 1332.1 1300.3 1331.6C1298.9 1331.1 1297.1 1330.3 1295.9 1329.8C1294.7 1329.3 1293.6 1328.7 1293 1328.6C1292.4 1328.4 1292.3 1328.5 1292.5 1328.9C1292.7 1329.4 1293.5 1330.2 1294.3 1331.2C1295 1332.2 1296.3 1333.6 1297.2 1334.8C1298.1 1336 1299.2 1337.5 1299.7 1338.6C1300.2 1339.7 1300.5 1340.7 1300.2 1341.3C1300 1341.9 1299.3 1342.3 1298.3 1342.3C1297.3 1342.3 1295.8 1341.9 1294.4 1341.4C1293 1341 1291.2 1340.2 1289.9 1339.7C1288.6 1339.1 1287.2 1338.4 1286.5 1338.2C1285.7 1337.9 1285.3 1337.8 1285.3 1338.1C1285.3 1338.4 1285.9 1339 1286.6 1339.9C1287.3 1340.7 1288.5 1342 1289.4 1343.2C1290.3 1344.4 1291.5 1345.9 1292.1 1347.1C1292.8 1348.2 1293.3 1349.4 1293.3 1350.2C1293.2 1350.9 1292.8 1351.5 1292 1351.6C1291.1 1351.8 1289.8 1351.5 1288.4 1351.2C1287.1 1350.8 1285.3 1350.1 1283.9 1349.5C1282.5 1349 1281 1348.2 1280.1 1347.8C1279.2 1347.5 1278.5 1347.2 1278.3 1347.3C1278.1 1347.5 1278.5 1347.9 1279 1348.7C1279.6 1349.4 1280.7 1350.5 1281.6 1351.7C1282.5 1352.8 1283.7 1354.3 1284.5 1355.5C1285.3 1356.7 1286 1358.1 1286.2 1358.9C1286.3 1359.8 1286.1 1360.5 1285.5 1360.8C1284.8 1361.2 1283.7 1361.1 1282.4 1360.8C1281.2 1360.6 1279.4 1359.9 1278 1359.4C1276.6 1358.9 1274.9 1358.1 1273.9 1357.6C1272.8 1357.1 1271.9 1356.7 1271.5 1356.7C1271.1 1356.7 1271.2 1357 1271.6 1357.5C1272 1358.1 1272.9 1359.1 1273.8 1360.2C1274.7 1361.3 1275.9 1362.7 1276.8 1364C1277.6 1365.2 1278.5 1366.6 1278.9 1367.6C1279.2 1368.6 1279.3 1369.5 1278.8 1369.9C1278.4 1370.4 1277.4 1370.5 1276.3 1370.4C1275.2 1370.3 1273.5 1369.7 1272.1 1369.2C1270.7 1368.7 1268.9 1367.9 1267.7 1367.4C1266.5 1366.9 1265.4 1366.3 1264.8 1366.2C1264.2 1366 1264.1 1366.1 1264.3 1366.5C1264.5 1367 1265.3 1367.8 1266.1 1368.8C1266.8 1369.8 1268.1 1371.2 1269 1372.4C1269.9 1373.6 1271 1375.1 1271.5 1376.2C1272 1377.3 1272.3 1378.3 1272 1378.9C1271.8 1379.5 1271.1 1379.9 1270.1 1379.9C1269.1 1379.9 1267.6 1379.5 1266.2 1379C1264.8 1378.6 1263 1377.8 1261.7 1377.3C1260.4 1376.7 1259 1376 1258.3 1375.8C1257.5 1375.5 1257.1 1375.4 1257.1 1375.7C1257.1 1376 1257.7 1376.6 1258.4 1377.5C1259.1 1378.3 1260.3 1379.6 1261.2 1380.8C1262.1 1382 1263.3 1383.5 1263.9 1384.7C1264.6 1385.8 1265.1 1387 1265.1 1387.8C1265 1388.5 1264.6 1389.1 1263.8 1389.2C1262.9 1389.4 1261.6 1389.1 1260.2 1388.8C1258.9 1388.4 1257.1 1387.7 1255.7 1387.1C1254.3 1386.6 1252.8 1385.8 1251.9 1385.4C1251 1385.1 1250.3 1384.8 1250.1 1384.9C1249.9 1385.1 1250.3 1385.5 1250.8 1386.3C1251.4 1387 1252.5 1388.1 1253.4 1389.3C1254.3 1390.4 1255.5 1391.9 1256.3 1393.1C1257.1 1394.3 1257.8 1395.7 1258 1396.5C1258.1 1397.4 1257.9 1398.1 1257.3 1398.4C1256.6 1398.8 1255.5 1398.7 1254.2 1398.4C1253 1398.2 1250.5 1397.2 1249.8 1397"/><path id="p40" d="M1250.6 1397.2C1249.9 1397.5 1247.6 1398.5 1246.5 1398.9C1245.4 1399.4 1244.5 1399.8 1244.2 1400C1243.9 1400.2 1244.1 1400.3 1244.8 1400.4C1245.5 1400.4 1246.8 1400.4 1248.1 1400.4C1249.5 1400.4 1251.4 1400.4 1252.9 1400.5C1254.3 1400.7 1256 1400.9 1257 1401.2C1258 1401.6 1258.7 1402.1 1258.8 1402.7C1258.9 1403.2 1258.5 1404 1257.7 1404.7C1256.9 1405.4 1255.4 1406.2 1254.1 1406.9C1252.8 1407.6 1251.1 1408.3 1249.8 1408.9C1248.6 1409.4 1247.3 1409.9 1246.8 1410.2C1246.2 1410.5 1246 1410.6 1246.3 1410.8C1246.7 1410.9 1247.7 1410.8 1248.9 1410.8C1250 1410.9 1251.8 1410.8 1253.3 1410.9C1254.8 1411 1256.7 1411.1 1257.9 1411.4C1259.1 1411.7 1260.2 1412.1 1260.6 1412.6C1261.1 1413.1 1261 1413.7 1260.5 1414.4C1260 1415.1 1258.8 1415.9 1257.6 1416.6C1256.4 1417.4 1254.6 1418.1 1253.3 1418.7C1252 1419.3 1250.5 1419.9 1249.6 1420.3C1248.8 1420.7 1248.2 1420.9 1248.2 1421.1C1248.3 1421.3 1248.9 1421.3 1249.8 1421.3C1250.8 1421.3 1252.4 1421.2 1253.8 1421.3C1255.3 1421.4 1257.2 1421.4 1258.6 1421.6C1259.9 1421.8 1261.4 1422.1 1262.1 1422.5C1262.8 1423 1263.1 1423.6 1262.9 1424.2C1262.7 1424.8 1261.9 1425.6 1260.9 1426.3C1259.8 1427.1 1258.2 1427.9 1256.8 1428.5C1255.5 1429.2 1253.8 1429.8 1252.7 1430.3C1251.7 1430.8 1250.7 1431.1 1250.4 1431.3C1250.2 1431.6 1250.4 1431.7 1251 1431.7C1251.7 1431.8 1253 1431.7 1254.4 1431.7C1255.7 1431.8 1257.6 1431.7 1259.1 1431.9C1260.6 1432 1262.2 1432.2 1263.2 1432.6C1264.2 1432.9 1265 1433.4 1265.1 1434C1265.2 1434.6 1264.7 1435.3 1263.9 1436C1263.1 1436.8 1261.7 1437.6 1260.4 1438.3C1259.1 1439 1257.3 1439.7 1256.1 1440.2C1254.9 1440.8 1253.6 1441.2 1253 1441.5C1252.4 1441.8 1252.2 1442 1252.6 1442.1C1252.9 1442.2 1254 1442.2 1255.1 1442.2C1256.3 1442.2 1258.1 1442.2 1259.6 1442.2C1261.1 1442.3 1262.9 1442.4 1264.1 1442.7C1265.3 1443 1266.4 1443.4 1266.9 1443.9C1267.3 1444.4 1267.2 1445.1 1266.7 1445.8C1266.2 1446.5 1265 1447.3 1263.8 1448C1262.6 1448.7 1260.9 1449.5 1259.6 1450.1C1258.2 1450.7 1256.7 1451.2 1255.9 1451.6C1255 1452 1254.4 1452.3 1254.5 1452.4C1254.5 1452.6 1255.1 1452.6 1256.1 1452.6C1257 1452.7 1258.6 1452.6 1260.1 1452.7C1261.5 1452.7 1263.4 1452.7 1264.8 1452.9C1266.2 1453.1 1267.6 1453.4 1268.3 1453.9C1269.1 1454.3 1269.4 1454.9 1269.2 1455.5C1269 1456.2 1268.1 1457 1267.1 1457.7C1266.1 1458.4 1263.8 1459.5 1263.1 1459.9"/><path id="p41" d="M1264.4 1461.5C1263.9 1462 1262.2 1463.8 1261.4 1464.5C1260.5 1465.2 1259.6 1465.7 1259.3 1465.9C1258.9 1466.1 1258.8 1466 1259.2 1465.8C1259.5 1465.6 1260.4 1465 1261.5 1464.7C1262.5 1464.3 1264.1 1463.8 1265.6 1463.6C1267.1 1463.4 1268.9 1463.3 1270.3 1463.5C1271.7 1463.7 1273.1 1464.2 1274.1 1465C1275 1465.8 1275.6 1466.9 1275.8 1468.1C1276 1469.3 1275.7 1470.8 1275.2 1472.1C1274.7 1473.4 1273.7 1474.9 1272.7 1476.1C1271.8 1477.3 1270.6 1478.4 1269.7 1479.1C1268.9 1479.8 1268 1480.3 1267.6 1480.5C1267.2 1480.7 1267.1 1480.6 1267.5 1480.4C1267.9 1480.2 1268.7 1479.6 1269.8 1479.3C1270.9 1478.9 1272.5 1478.4 1273.9 1478.2C1275.4 1478 1277.2 1477.9 1278.6 1478.1C1280 1478.3 1281.5 1478.8 1282.4 1479.6C1283.3 1480.4 1284 1481.5 1284.2 1482.7C1284.4 1483.9 1284.1 1485.4 1283.5 1486.7C1283 1488 1281.5 1490 1281.1 1490.7"/><path id="p42" d="M1279.6 1488.1C1277.5 1488.8 1270.9 1490.9 1267.1 1492.3C1263.3 1493.7 1258.4 1495.8 1256.7 1496.5"/><path id="p43" d="M1256.7 1496.5C1255.7 1498.9 1254.2 1505.2 1250.4 1511.1C1246.6 1517 1239.3 1526.8 1233.7 1532C1228.1 1537.2 1221.5 1539.6 1217 1542.4C1212.5 1545.2 1208.2 1546.3 1206.5 1548.7C1204.8 1551.1 1206.5 1555.6 1206.5 1557"/><path id="p44" d="M1114.6 1497.5C1119.1 1499.8 1134.5 1506 1141.8 1511.1C1149.1 1516.1 1151.5 1527.8 1158.5 1527.8C1165.5 1527.8 1177 1517.4 1183.6 1511.1C1190.2 1504.8 1196.1 1496.5 1198.2 1490.2C1200.3 1483.9 1194 1476.6 1196.1 1473.5C1198.2 1470.4 1207.9 1469.3 1210.7 1471.4C1213.5 1473.5 1210 1481.1 1212.8 1486C1215.6 1490.9 1223.9 1495.8 1227.4 1500.7C1230.9 1505.6 1232.7 1510.1 1233.7 1515.3C1234.8 1520.5 1233.7 1529.2 1233.7 1532"/><path id="p45" d="M1392.4 1268.8C1393.1 1270.5 1395.2 1274.3 1396.6 1279.2C1398 1284.1 1400.8 1292.8 1400.8 1298C1400.8 1303.2 1397.3 1308.5 1396.6 1310.6"/><path id="p46" d="M1404.5 1277.3C1404.4 1278.2 1404.5 1281.5 1404.2 1282.9C1403.9 1284.4 1403.3 1285.6 1402.9 1286C1402.5 1286.4 1401.9 1286 1401.6 1285.1C1401.4 1284.2 1401.2 1282.5 1401.3 1280.7C1401.5 1279 1402 1276.6 1402.6 1274.9C1403.3 1273.1 1404.3 1271.1 1405.3 1270.1C1406.3 1269.1 1407.6 1268.5 1408.6 1268.6C1409.7 1268.8 1410.8 1269.8 1411.5 1271.1C1412.3 1272.4 1412.9 1274.6 1413.2 1276.5C1413.5 1278.4 1413.4 1280.8 1413.3 1282.4C1413.1 1284.1 1412.6 1285.7 1412.2 1286.3C1411.7 1287 1411.1 1287 1410.8 1286.5C1410.4 1285.9 1410.1 1284.4 1410.2 1282.8C1410.2 1281.3 1410.5 1278.9 1411 1277.1C1411.6 1275.2 1412.5 1273.1 1413.4 1271.8C1414.3 1270.5 1415.6 1269.5 1416.7 1269.4C1417.7 1269.2 1418.9 1269.8 1419.8 1270.9C1420.6 1272 1421.4 1273.9 1421.8 1275.7C1422.2 1277.6 1422.3 1280 1422.3 1281.8C1422.2 1283.6 1421.8 1285.5 1421.4 1286.4C1421 1287.4 1420.3 1287.8 1420 1287.6C1419.6 1287.3 1419.1 1286.1 1419.1 1284.8C1419 1283.4 1419.1 1281.2 1419.5 1279.3C1419.9 1277.5 1420.7 1275.2 1421.6 1273.7C1422.4 1272.2 1423.6 1270.8 1424.7 1270.4C1425.8 1269.9 1427 1270.1 1427.9 1270.9C1428.9 1271.7 1429.8 1273.4 1430.3 1275.1C1430.9 1276.8 1431.1 1279.2 1431.2 1281.1C1431.2 1282.9 1430.9 1285.1 1430.6 1286.3C1430.2 1287.5 1429.6 1288.4 1429.2 1288.4C1428.8 1288.4 1428.2 1287.7 1428.1 1286.5C1427.9 1285.4 1427.8 1283.4 1428.1 1281.6C1428.4 1279.8 1429 1277.4 1429.8 1275.7C1430.6 1274.1 1431.7 1272.4 1432.7 1271.6C1433.8 1270.9 1435.1 1270.7 1436.1 1271.1C1437.1 1271.6 1438.1 1273 1438.7 1274.5C1439.4 1276 1439.8 1278.4 1440 1280.3C1440.1 1282.2 1440 1284.5 1439.7 1285.9C1439.4 1287.4 1438.8 1288.6 1438.4 1289C1438 1289.4 1437.4 1289 1437.1 1288.1C1436.9 1287.2 1436.7 1285.5 1436.8 1283.7C1437 1282 1437.5 1279.6 1438.1 1277.9C1438.8 1276.1 1439.8 1274.1 1440.8 1273.1C1441.8 1272.1 1443.1 1271.5 1444.1 1271.6C1445.2 1271.8 1446.3 1272.8 1447 1274.1C1447.8 1275.4 1448.4 1277.6 1448.7 1279.5C1449 1281.4 1448.9 1283.8 1448.8 1285.4C1448.6 1287.1 1448.1 1288.7 1447.7 1289.3C1447.2 1290 1446.6 1290 1446.3 1289.5C1445.9 1288.9 1445.6 1287.4 1445.7 1285.8C1445.7 1284.3 1446 1281.9 1446.5 1280.1C1447.1 1278.2 1448 1276.1 1448.9 1274.8C1449.8 1273.5 1451.1 1272.5 1452.2 1272.4C1453.2 1272.2 1454.4 1272.8 1455.3 1273.9C1456.1 1275 1456.9 1276.9 1457.3 1278.7C1457.7 1280.6 1457.8 1283 1457.8 1284.8C1457.7 1286.6 1457.3 1288.5 1456.9 1289.4C1456.5 1290.4 1455.8 1290.8 1455.5 1290.6C1455.1 1290.3 1454.6 1289.1 1454.6 1287.8C1454.5 1286.4 1454.6 1284.2 1455 1282.3C1455.4 1280.5 1456.2 1278.2 1457.1 1276.7C1457.9 1275.2 1459.1 1273.8 1460.2 1273.4C1461.3 1272.9 1462.5 1273.1 1463.4 1273.9C1464.4 1274.7 1465.3 1276.4 1465.8 1278.1C1466.4 1279.8 1466.6 1282.2 1466.7 1284.1C1466.7 1285.9 1466.4 1288.1 1466.1 1289.3C1465.7 1290.5 1465.1 1291.4 1464.7 1291.4C1464.3 1291.4 1463.7 1290.7 1463.6 1289.5C1463.4 1288.4 1463.3 1286.4 1463.6 1284.6C1463.9 1282.8 1464.5 1280.4 1465.3 1278.7C1466.1 1277.1 1467.2 1275.4 1468.2 1274.6C1469.3 1273.9 1470.6 1273.7 1471.6 1274.1C1472.6 1274.6 1473.6 1276 1474.2 1277.5C1474.9 1279 1475.3 1282.3 1475.5 1283.3"/><path id="p47" d="M1396.4 1311.6C1395.5 1311.5 1392.7 1311.2 1391.3 1311.1C1390 1311 1388.9 1310.8 1388.5 1310.9C1388.1 1310.9 1388.4 1311 1389 1311.3C1389.7 1311.6 1391.1 1312.1 1392.5 1312.6C1393.9 1313.2 1396 1314 1397.4 1314.7C1398.9 1315.5 1400.6 1316.3 1401.5 1317C1402.4 1317.8 1402.9 1318.5 1402.8 1319C1402.7 1319.5 1401.9 1319.9 1400.8 1320.1C1399.6 1320.3 1397.8 1320.4 1396.1 1320.4C1394.4 1320.3 1392.3 1320.1 1390.8 1320C1389.3 1319.9 1387.8 1319.6 1387 1319.6C1386.3 1319.6 1386.1 1319.6 1386.4 1319.8C1386.7 1320 1387.8 1320.3 1389 1320.8C1390.2 1321.3 1392.2 1322 1393.7 1322.7C1395.3 1323.4 1397.1 1324.2 1398.3 1325C1399.4 1325.7 1400.4 1326.5 1400.7 1327.1C1400.9 1327.7 1400.5 1328.2 1399.7 1328.5C1398.9 1328.9 1397.3 1329 1395.7 1329.1C1394.2 1329.1 1392 1329 1390.4 1328.8C1388.8 1328.7 1387 1328.5 1385.9 1328.4C1384.9 1328.3 1384.2 1328.2 1384.1 1328.3C1384.1 1328.4 1384.8 1328.7 1385.8 1329C1386.7 1329.4 1388.4 1330 1390 1330.7C1391.5 1331.3 1393.5 1332.2 1394.8 1332.9C1396.2 1333.7 1397.5 1334.5 1398.1 1335.2C1398.7 1335.8 1398.8 1336.4 1398.3 1336.9C1397.8 1337.3 1396.6 1337.6 1395.2 1337.7C1393.9 1337.8 1391.8 1337.7 1390.1 1337.7C1388.4 1337.6 1386.4 1337.3 1385.1 1337.2C1383.8 1337.1 1382.7 1336.9 1382.3 1337C1381.9 1337 1382.1 1337.1 1382.8 1337.4C1383.4 1337.7 1384.9 1338.2 1386.3 1338.7C1387.7 1339.3 1389.7 1340.1 1391.2 1340.8C1392.7 1341.6 1394.3 1342.4 1395.2 1343.1C1396.1 1343.9 1396.7 1344.6 1396.6 1345.1C1396.4 1345.6 1395.6 1346 1394.5 1346.2C1393.4 1346.4 1391.5 1346.5 1389.8 1346.5C1388.2 1346.4 1386 1346.2 1384.5 1346.1C1383 1346 1381.5 1345.7 1380.8 1345.7C1380.1 1345.7 1379.8 1345.7 1380.1 1345.9C1380.5 1346.1 1381.6 1346.4 1382.8 1346.9C1384 1347.4 1385.9 1348.1 1387.5 1348.8C1389 1349.5 1390.9 1350.3 1392 1351.1C1393.2 1351.8 1394.2 1352.6 1394.4 1353.2C1394.7 1353.8 1394.3 1354.3 1393.5 1354.6C1392.6 1355 1391.1 1355.1 1389.5 1355.2C1387.9 1355.2 1385.8 1355.1 1384.2 1354.9C1382.5 1354.8 1380.7 1354.6 1379.7 1354.5C1378.6 1354.4 1377.9 1354.3 1377.9 1354.4C1377.9 1354.5 1378.5 1354.8 1379.5 1355.1C1380.5 1355.5 1382.2 1356.1 1383.7 1356.8C1385.2 1357.4 1387.2 1358.3 1388.6 1359C1389.9 1359.8 1391.3 1360.6 1391.9 1361.3C1392.5 1361.9 1392.6 1362.5 1392.1 1363C1391.6 1363.4 1390.4 1363.7 1389 1363.8C1387.6 1363.9 1384.7 1363.8 1383.9 1363.8"/><path id="p48" d="M1384.1 1362.8C1383.8 1364.9 1381.3 1372.5 1382 1375.3C1382.7 1378.1 1384.1 1379.5 1388.3 1379.5C1392.5 1379.5 1403.2 1375.3 1407 1375.3C1410.8 1375.3 1410.5 1378.8 1411.2 1379.5"/><path id="p49" d="M1411.6 1380.4C1410.9 1380.8 1408.7 1382.1 1407.8 1382.7C1406.8 1383.3 1405.9 1383.8 1405.6 1384C1405.4 1384.2 1405.6 1384.2 1406.3 1384.1C1406.9 1384 1408.2 1383.6 1409.5 1383.3C1410.9 1383.1 1412.7 1382.7 1414.2 1382.5C1415.6 1382.3 1417.3 1382.2 1418.3 1382.3C1419.3 1382.4 1420 1382.8 1420.2 1383.3C1420.4 1383.8 1419.9 1384.5 1419.2 1385.3C1418.5 1386.1 1417.2 1387.2 1416 1388C1414.8 1388.9 1413.2 1389.8 1412 1390.5C1410.9 1391.2 1409.8 1391.8 1409.3 1392.1C1408.8 1392.5 1408.7 1392.6 1409.1 1392.5C1409.5 1392.5 1410.5 1392.2 1411.7 1392C1412.8 1391.7 1414.6 1391.3 1416.1 1391C1417.6 1390.8 1419.4 1390.6 1420.6 1390.6C1421.7 1390.6 1422.8 1390.8 1423.2 1391.2C1423.6 1391.6 1423.6 1392.3 1423.1 1393C1422.6 1393.7 1421.5 1394.7 1420.4 1395.6C1419.3 1396.5 1417.6 1397.5 1416.4 1398.2C1415.2 1399 1413.8 1399.7 1413.1 1400.1C1412.4 1400.6 1412 1400.8 1412.1 1400.9C1412.2 1401 1413 1400.7 1414 1400.5C1415 1400.3 1416.6 1399.9 1418 1399.6C1419.5 1399.4 1421.4 1399.1 1422.7 1399C1424 1398.9 1425.3 1399 1426 1399.3C1426.7 1399.6 1426.9 1400.1 1426.7 1400.8C1426.5 1401.4 1425.6 1402.3 1424.6 1403.2C1423.7 1404 1422.1 1405.1 1420.8 1405.9C1419.6 1406.7 1418.1 1407.5 1417.2 1408.1C1416.3 1408.6 1415.5 1409 1415.4 1409.2C1415.3 1409.3 1415.7 1409.2 1416.4 1409.1C1417.2 1408.9 1418.6 1408.5 1420 1408.3C1421.4 1408 1423.3 1407.6 1424.7 1407.5C1426.1 1407.3 1427.7 1407.3 1428.6 1407.4C1429.5 1407.6 1430.1 1408 1430.1 1408.6C1430.1 1409.1 1429.6 1410 1428.8 1410.8C1427.9 1411.6 1426.5 1412.6 1425.3 1413.5C1424.1 1414.3 1422.4 1415.2 1421.4 1415.9C1420.3 1416.5 1419.3 1417 1418.9 1417.3C1418.5 1417.6 1418.6 1417.6 1419.1 1417.6C1419.7 1417.5 1420.8 1417.2 1422.1 1416.9C1423.3 1416.6 1425.2 1416.2 1426.6 1416C1428.1 1415.8 1429.8 1415.6 1430.9 1415.7C1432 1415.8 1432.9 1416 1433.2 1416.5C1433.5 1416.9 1433.3 1417.7 1432.7 1418.4C1432.1 1419.2 1430.9 1420.2 1429.7 1421.1C1428.5 1421.9 1426.9 1422.9 1425.7 1423.6C1424.5 1424.3 1423.3 1425 1422.7 1425.4C1422.1 1425.8 1421.8 1425.9 1422.1 1426C1422.3 1426 1423.2 1425.7 1424.3 1425.5C1425.4 1425.3 1427.1 1424.8 1428.6 1424.6C1430 1424.4 1431.9 1424.1 1433.1 1424C1434.4 1424 1435.6 1424.1 1436.1 1424.5C1436.7 1424.8 1436.8 1425.4 1436.4 1426.1C1436.1 1426.8 1435.1 1427.8 1434 1428.6C1433 1429.5 1431.4 1430.5 1430.1 1431.3C1428.9 1432.1 1427.4 1432.9 1426.6 1433.4C1425.8 1433.9 1425.2 1434.2 1425.2 1434.3C1425.2 1434.4 1425.8 1434.2 1426.7 1434.1C1427.6 1433.9 1429.1 1433.5 1430.5 1433.2C1431.9 1432.9 1433.8 1432.6 1435.2 1432.5C1436.6 1432.4 1438 1432.4 1438.8 1432.6C1439.6 1432.8 1440 1433.3 1439.9 1433.9C1439.8 1434.5 1439.1 1435.4 1438.2 1436.2C1437.3 1437.1 1435.2 1438.5 1434.6 1438.9"/><path id="p50" d="M1434.2 1438 L1442.6 1448.4"/><path id="p51" d="M1442.9 1451.5C1442.2 1451.8 1439.9 1452.7 1438.8 1453.1C1437.7 1453.6 1436.7 1453.8 1436.4 1454C1436.1 1454.2 1436.2 1454.2 1436.8 1454.2C1437.4 1454.2 1438.7 1454.1 1440 1454.2C1441.3 1454.2 1443.1 1454.3 1444.6 1454.5C1446 1454.7 1447.7 1455 1448.8 1455.4C1449.9 1455.9 1450.7 1456.5 1451 1457.2C1451.2 1457.9 1450.9 1458.8 1450.3 1459.6C1449.6 1460.4 1448.3 1461.3 1447.1 1462C1445.8 1462.8 1444.1 1463.5 1442.8 1464C1441.5 1464.6 1440.1 1465 1439.4 1465.3C1438.6 1465.6 1438.2 1465.7 1438.3 1465.8C1438.5 1465.9 1439.2 1465.8 1440.2 1465.8C1441.2 1465.8 1442.8 1465.8 1444.3 1465.9C1445.7 1466 1447.6 1466.1 1448.9 1466.5C1450.3 1466.8 1451.6 1467.3 1452.3 1467.9C1453 1468.4 1453.3 1469.2 1453.1 1470C1452.8 1470.7 1452 1471.6 1451 1472.4C1450 1473.2 1448.4 1474.1 1447 1474.7C1445.7 1475.4 1444 1476 1442.9 1476.4C1441.9 1476.8 1440.9 1477.1 1440.6 1477.3C1440.2 1477.4 1440.4 1477.4 1441 1477.5C1441.6 1477.5 1442.8 1477.4 1444.1 1477.4C1445.4 1477.5 1447.2 1477.5 1448.7 1477.7C1450.2 1477.9 1451.9 1478.2 1453 1478.7C1454 1479.1 1454.9 1479.8 1455.1 1480.5C1455.4 1481.2 1455.1 1482 1454.4 1482.8C1453.8 1483.6 1452.4 1484.5 1451.2 1485.3C1450 1486 1448.2 1486.7 1446.9 1487.3C1445.7 1487.8 1444.3 1488.3 1443.5 1488.5C1442.8 1488.8 1442.3 1489 1442.5 1489C1442.6 1489.1 1443.4 1489 1444.3 1489.1C1445.3 1489.1 1447 1489 1448.4 1489.1C1449.9 1489.2 1451.7 1489.4 1453.1 1489.7C1454.4 1490.1 1455.8 1490.5 1456.4 1491.1C1457.1 1491.7 1457.4 1492.5 1457.2 1493.2C1457 1494 1456.1 1494.9 1455.1 1495.7C1454.1 1496.5 1451.8 1497.6 1451.2 1498"/><path id="p52" d="M1450.9 1496.5C1449.5 1494.8 1446.8 1487 1442.6 1486C1438.4 1485 1432.4 1487.8 1425.8 1490.2C1419.2 1492.7 1410.2 1497.9 1402.9 1500.7C1395.6 1503.5 1386.2 1503.4 1382 1506.9C1377.8 1510.4 1378.8 1515.6 1377.8 1521.5C1376.8 1527.4 1377.4 1536.1 1375.7 1542.4C1374 1548.7 1365.3 1556 1367.4 1559.1C1369.5 1562.2 1381 1562.2 1388.3 1561.2C1395.6 1560.2 1407 1556.7 1411.2 1552.9C1415.4 1549.1 1413.7 1543.5 1413.3 1538.3C1412.9 1533.1 1410.5 1525.7 1409.1 1521.5C1407.7 1517.3 1405.7 1514.6 1405 1513.2"/><path id="p53" d="M1377.8 1521.5C1375 1518 1366.3 1506.3 1361.1 1500.7C1355.9 1495.1 1351.7 1488.1 1346.5 1488.1C1341.3 1488.1 1332.2 1495.1 1329.8 1500.7C1327.4 1506.3 1328.4 1515.9 1331.9 1521.5C1335.4 1527.1 1344.1 1531.3 1350.7 1534.1C1357.3 1536.9 1365.9 1536.2 1371.5 1538.3C1377.1 1540.4 1382 1545.2 1384.1 1546.6"/><path id="p54" d="M1524.5 1304.6C1524.6 1305.4 1525.1 1308.2 1525.1 1309.6C1525 1310.9 1524.6 1312.1 1524.2 1312.5C1523.8 1312.9 1523.1 1312.7 1522.6 1312C1522.1 1311.3 1521.5 1309.8 1521.3 1308.3C1521.1 1306.8 1521 1304.6 1521.2 1302.9C1521.5 1301.3 1522.1 1299.4 1522.8 1298.3C1523.5 1297.2 1524.6 1296.4 1525.6 1296.4C1526.6 1296.3 1527.8 1297 1528.7 1298C1529.7 1299 1530.6 1300.8 1531.2 1302.4C1531.8 1304 1532.1 1306.1 1532.2 1307.6C1532.3 1309 1532 1310.5 1531.7 1311.2C1531.3 1311.8 1530.7 1312 1530.2 1311.6C1529.7 1311.1 1529 1309.9 1528.7 1308.6C1528.4 1307.2 1528.1 1305.1 1528.2 1303.4C1528.4 1301.7 1528.8 1299.7 1529.4 1298.4C1530 1297.1 1531 1296 1531.9 1295.7C1532.9 1295.3 1534.1 1295.6 1535.1 1296.4C1536.1 1297.2 1537.1 1298.7 1537.8 1300.2C1538.5 1301.8 1539 1303.9 1539.2 1305.4C1539.4 1307 1539.3 1308.7 1539.1 1309.6C1538.8 1310.6 1538.2 1311.1 1537.7 1310.9C1537.2 1310.8 1536.5 1309.9 1536.1 1308.7C1535.7 1307.6 1535.3 1305.6 1535.3 1303.9C1535.3 1302.2 1535.6 1300.1 1536.1 1298.6C1536.6 1297.2 1537.4 1295.8 1538.3 1295.2C1539.2 1294.6 1540.4 1294.5 1541.4 1295C1542.4 1295.5 1543.6 1296.8 1544.4 1298.2C1545.1 1299.6 1545.8 1301.7 1546.2 1303.3C1546.5 1304.9 1546.5 1306.8 1546.4 1307.9C1546.2 1309.1 1545.7 1309.9 1545.2 1310.1C1544.8 1310.2 1544 1309.7 1543.6 1308.7C1543.1 1307.8 1542.7 1306 1542.5 1304.4C1542.4 1302.8 1542.5 1300.6 1542.9 1299C1543.2 1297.4 1543.9 1295.7 1544.8 1294.9C1545.6 1294 1546.7 1293.6 1547.7 1293.8C1548.7 1294.1 1549.9 1295.1 1550.8 1296.3C1551.7 1297.5 1552.5 1299.4 1553 1301.1C1553.4 1302.7 1553.6 1304.7 1553.6 1306.1C1553.5 1307.4 1553.1 1308.6 1552.7 1309C1552.3 1309.4 1551.6 1309.2 1551.1 1308.5C1550.6 1307.8 1550 1306.3 1549.8 1304.8C1549.6 1303.3 1549.5 1301.1 1549.7 1299.4C1550 1297.8 1550.6 1295.9 1551.3 1294.8C1552 1293.7 1553.1 1292.9 1554.1 1292.9C1555.1 1292.8 1556.3 1293.5 1557.2 1294.5C1558.2 1295.5 1559.1 1297.3 1559.7 1298.9C1560.3 1300.5 1560.6 1302.6 1560.7 1304.1C1560.8 1305.5 1560.5 1307 1560.2 1307.7C1559.8 1308.3 1559.2 1308.5 1558.7 1308.1C1558.2 1307.6 1557.5 1306.4 1557.2 1305.1C1556.9 1303.7 1556.6 1301.6 1556.7 1299.9C1556.9 1298.2 1557.3 1296.2 1557.9 1294.9C1558.5 1293.6 1559.5 1292.5 1560.4 1292.2C1561.4 1291.8 1562.6 1292.1 1563.6 1292.9C1564.6 1293.7 1565.6 1295.2 1566.3 1296.7C1567 1298.3 1567.5 1300.4 1567.7 1301.9C1567.9 1303.5 1567.8 1305.2 1567.6 1306.1C1567.3 1307.1 1566.7 1307.6 1566.2 1307.4C1565.7 1307.3 1565 1306.4 1564.6 1305.2C1564.2 1304.1 1563.8 1302.1 1563.8 1300.4C1563.8 1298.7 1564.1 1296.6 1564.6 1295.1C1565.1 1293.7 1565.9 1292.3 1566.8 1291.7C1567.7 1291.1 1568.9 1291 1569.9 1291.5C1570.9 1292 1572.1 1293.3 1572.9 1294.7C1573.6 1296.1 1574.3 1298.2 1574.7 1299.8C1575 1301.4 1575 1303.3 1574.9 1304.4C1574.7 1305.6 1574.2 1306.4 1573.7 1306.6C1573.3 1306.7 1572.5 1306.2 1572.1 1305.2C1571.6 1304.3 1571.2 1302.5 1571 1300.9C1570.9 1299.3 1571 1297.1 1571.4 1295.5C1571.7 1293.9 1572.4 1292.2 1573.3 1291.4C1574.1 1290.5 1575.2 1290.1 1576.2 1290.3C1577.2 1290.6 1578.4 1291.6 1579.3 1292.8C1580.2 1294 1581.1 1296.8 1581.5 1297.6"/><path id="p55" d="M1578.4 1298C1580.8 1295.6 1590.8 1287.2 1592.8 1283.6C1594.8 1280 1588.8 1277.2 1590.4 1276.4C1592 1275.6 1599.6 1276.8 1602.4 1278.8C1605.2 1280.8 1608.4 1285.6 1607.2 1288.4C1606 1291.2 1598.4 1292.8 1595.2 1295.6C1592 1298.4 1589.2 1303.6 1588 1305.2"/><path id="p56" d="M1587.9 1306.2C1587.2 1306.3 1584.7 1306.6 1583.5 1306.8C1582.3 1307 1581.3 1307 1581 1307.2C1580.7 1307.3 1580.9 1307.4 1581.5 1307.7C1582.2 1307.9 1583.5 1308.2 1584.8 1308.5C1586.1 1308.9 1588 1309.4 1589.4 1309.9C1590.8 1310.4 1592.3 1311 1593.1 1311.6C1594 1312.2 1594.5 1312.9 1594.5 1313.4C1594.4 1314 1593.7 1314.6 1592.7 1315.1C1591.7 1315.5 1590.1 1315.9 1588.6 1316.2C1587.2 1316.6 1585.3 1316.8 1584 1316.9C1582.6 1317.1 1581.4 1317.2 1580.8 1317.4C1580.2 1317.5 1580 1317.6 1580.4 1317.8C1580.8 1318 1581.8 1318.2 1583 1318.5C1584.2 1318.8 1585.9 1319.3 1587.4 1319.7C1588.8 1320.2 1590.5 1320.8 1591.6 1321.4C1592.6 1322 1593.5 1322.6 1593.7 1323.2C1593.9 1323.8 1593.6 1324.4 1592.8 1324.9C1592.1 1325.4 1590.6 1325.9 1589.2 1326.2C1587.9 1326.6 1586 1326.9 1584.5 1327.1C1583.1 1327.3 1581.6 1327.4 1580.7 1327.5C1579.9 1327.7 1579.4 1327.8 1579.5 1327.9C1579.6 1328.1 1580.3 1328.3 1581.3 1328.5C1582.3 1328.8 1583.9 1329.2 1585.4 1329.6C1586.8 1330.1 1588.6 1330.6 1589.8 1331.2C1591.1 1331.7 1592.2 1332.4 1592.7 1333C1593.2 1333.6 1593.2 1334.2 1592.7 1334.8C1592.2 1335.3 1591 1335.8 1589.8 1336.2C1588.5 1336.6 1586.7 1336.9 1585.2 1337.2C1583.7 1337.4 1582 1337.6 1580.9 1337.7C1579.9 1337.9 1579 1337.9 1578.8 1338.1C1578.7 1338.2 1579.1 1338.4 1579.8 1338.6C1580.6 1338.9 1582 1339.2 1583.4 1339.6C1584.7 1339.9 1586.6 1340.4 1587.9 1341C1589.3 1341.5 1590.7 1342.1 1591.5 1342.7C1592.2 1343.3 1592.6 1344 1592.3 1344.6C1592.1 1345.1 1591.3 1345.7 1590.2 1346.1C1589.1 1346.6 1587.4 1346.9 1585.9 1347.2C1584.4 1347.5 1582.5 1347.7 1581.3 1347.9C1580.1 1348 1578.9 1348.1 1578.5 1348.3C1578 1348.4 1578 1348.5 1578.5 1348.7C1579 1348.9 1580.2 1349.2 1581.5 1349.5C1582.7 1349.9 1584.6 1350.3 1586 1350.8C1587.4 1351.3 1589 1351.9 1590 1352.5C1590.9 1353.1 1591.7 1353.7 1591.7 1354.3C1591.8 1354.9 1591.3 1355.5 1590.4 1356C1589.5 1356.5 1588 1356.9 1586.5 1357.2C1585.1 1357.6 1583.2 1357.8 1581.8 1358C1580.5 1358.2 1579 1358.3 1578.3 1358.4C1577.6 1358.6 1577.3 1358.7 1577.5 1358.8C1577.7 1359 1578.7 1359.2 1579.7 1359.5C1580.8 1359.8 1582.5 1360.2 1584 1360.7C1585.4 1361.1 1587.2 1361.7 1588.3 1362.3C1589.5 1362.8 1590.5 1363.5 1590.8 1364.1C1591.2 1364.7 1591 1365.3 1590.4 1365.8C1589.8 1366.4 1588.4 1366.8 1587.1 1367.2C1585.8 1367.6 1583.9 1367.9 1582.5 1368.1C1581 1368.4 1579.4 1368.5 1578.4 1368.6C1577.5 1368.8 1576.8 1368.8 1576.7 1369C1576.7 1369.2 1577.3 1369.3 1578.1 1369.6C1579 1369.8 1580.6 1370.2 1582 1370.6C1583.4 1371 1585.2 1371.5 1586.5 1372.1C1587.8 1372.6 1589.1 1373.3 1589.7 1373.9C1590.3 1374.5 1590.5 1375.1 1590.2 1375.7C1589.8 1376.2 1588.8 1376.7 1587.6 1377.2C1586.4 1377.6 1583.9 1378 1583.1 1378.2"/><path id="p57" d="M1583.2 1377.2C1582 1379.2 1576.4 1386 1576 1389.2C1575.6 1392.4 1577.6 1396 1580.8 1396.4C1584 1396.8 1589.6 1390 1595.2 1391.6C1600.8 1393.2 1611.2 1403.6 1614.4 1406"/><path id="p58" d="M1613.6 1406.7C1613 1406.2 1610.7 1404.5 1609.6 1403.7C1608.5 1402.9 1607.5 1402.2 1607.1 1402.1C1606.6 1402 1606.6 1402.2 1606.8 1402.9C1607.1 1403.5 1607.8 1404.8 1608.5 1406.1C1609.2 1407.4 1610.3 1409.2 1611 1410.8C1611.7 1412.3 1612.4 1414.1 1612.7 1415.3C1613 1416.5 1613 1417.6 1612.6 1418.1C1612.2 1418.7 1611.4 1418.7 1610.3 1418.5C1609.3 1418.2 1607.7 1417.4 1606.3 1416.5C1604.9 1415.7 1603.2 1414.4 1601.9 1413.5C1600.6 1412.6 1599.3 1411.5 1598.5 1411C1597.7 1410.6 1597.2 1410.3 1597.1 1410.6C1597 1410.8 1597.4 1411.6 1597.9 1412.6C1598.4 1413.6 1599.4 1415.3 1600.1 1416.7C1600.9 1418.2 1601.9 1420.1 1602.4 1421.5C1602.9 1423 1603.4 1424.5 1603.4 1425.4C1603.3 1426.3 1602.9 1426.9 1602.1 1427C1601.4 1427.2 1600.1 1426.7 1598.9 1426.1C1597.6 1425.5 1595.9 1424.4 1594.4 1423.5C1593 1422.5 1591.5 1421.3 1590.4 1420.5C1589.3 1419.7 1588.3 1419 1587.9 1418.9C1587.4 1418.8 1587.4 1419 1587.6 1419.7C1587.9 1420.3 1588.6 1421.6 1589.3 1422.9C1590 1424.2 1591.1 1426 1591.8 1427.6C1592.5 1429.1 1593.2 1430.9 1593.5 1432.1C1593.8 1433.3 1593.8 1434.4 1593.4 1434.9C1593 1435.5 1592.2 1435.5 1591.1 1435.3C1590.1 1435 1588.5 1434.2 1587.1 1433.3C1585.7 1432.5 1584 1431.2 1582.7 1430.3C1581.4 1429.4 1580.1 1428.3 1579.3 1427.8C1578.5 1427.4 1578 1427.1 1577.9 1427.4C1577.8 1427.6 1578.2 1428.4 1578.7 1429.4C1579.2 1430.4 1580.2 1432.1 1580.9 1433.5C1581.7 1435 1582.7 1436.9 1583.2 1438.3C1583.7 1439.8 1584.2 1441.3 1584.2 1442.2C1584.1 1443.1 1583.7 1443.7 1582.9 1443.8C1582.2 1444 1580.9 1443.5 1579.7 1442.9C1578.4 1442.3 1576 1440.7 1575.2 1440.3"/><path id="p59" d="M1576 1439.6C1573.6 1440 1565.6 1439.2 1561.6 1442C1557.6 1444.8 1553.6 1454 1552 1456.4"/><path id="p60" d="M1549.2 1457.4C1548.9 1456.9 1547.9 1455.1 1547.6 1454.1C1547.3 1453.2 1547.3 1452.3 1547.4 1451.9C1547.6 1451.5 1548 1451.4 1548.4 1451.8C1548.8 1452.1 1549.4 1453 1549.7 1453.9C1550.1 1454.9 1550.4 1456.4 1550.5 1457.6C1550.5 1458.9 1550.4 1460.4 1550 1461.5C1549.6 1462.6 1548.9 1463.6 1548.1 1464.1C1547.3 1464.6 1546.2 1464.8 1545.2 1464.5C1544.2 1464.3 1543 1463.5 1542.1 1462.7C1541.2 1461.8 1540.3 1460.5 1539.7 1459.5C1539.1 1458.5 1538.7 1457.2 1538.6 1456.4C1538.5 1455.6 1538.6 1455 1538.9 1454.8C1539.1 1454.6 1539.7 1454.9 1540.1 1455.5C1540.4 1456 1541 1457.1 1541.3 1458.3C1541.5 1459.4 1541.8 1460.9 1541.7 1462.2C1541.6 1463.4 1541.3 1464.9 1540.7 1465.8C1540.2 1466.7 1539.3 1467.5 1538.4 1467.7C1537.5 1468 1536.4 1467.8 1535.4 1467.3C1534.3 1466.9 1533.2 1465.9 1532.4 1464.9C1531.6 1463.9 1530.8 1462.6 1530.4 1461.6C1529.9 1460.6 1529.7 1459.5 1529.8 1458.9C1529.8 1458.2 1530.1 1457.9 1530.4 1458C1530.7 1458 1531.3 1458.6 1531.7 1459.4C1532.1 1460.2 1532.6 1461.5 1532.7 1462.7C1532.9 1463.9 1533 1465.5 1532.7 1466.7C1532.5 1467.9 1532 1469.1 1531.3 1469.9C1530.6 1470.6 1529.6 1471 1528.6 1471C1527.7 1471.1 1526.5 1470.6 1525.5 1469.9C1524.5 1469.2 1523.2 1467.5 1522.8 1467"/><path id="p61" d="M1525.6 1466C1527.6 1468 1533.6 1474.8 1537.6 1478C1541.6 1481.2 1547.6 1484 1549.6 1485.2"/><path id="p62" d="M1549.6 1485.2C1550.8 1487.2 1557.6 1496 1556.8 1497.2C1556 1498.4 1547.2 1489.6 1544.8 1492.4C1542.4 1495.2 1542 1506.8 1542.4 1514C1542.8 1521.2 1544.4 1533.2 1547.2 1535.6C1550 1538 1558 1534.8 1559.2 1528.4C1560.4 1522 1555.2 1502.4 1554.4 1497.2"/><path id="p63" d="M1547.2 1530C1544.8 1532.1 1535.6 1537.9 1532.8 1542.8C1530 1547.7 1530 1556.4 1530.4 1559.6C1530.8 1562.8 1537.6 1562 1535.2 1562C1532.8 1562 1521.2 1560.2 1516 1559.6C1510.8 1559 1503.2 1561.6 1504 1558.4C1504.8 1555.2 1518 1543.4 1520.8 1540.4"/><path id="p64" d="M1649.1 1299.6C1648.7 1300.5 1647.6 1303.5 1646.9 1304.8C1646.2 1306.1 1645.2 1307 1644.7 1307.2C1644.3 1307.5 1643.9 1307 1644.1 1306.2C1644.2 1305.3 1644.8 1303.7 1645.7 1302.2C1646.5 1300.8 1647.9 1298.8 1649.2 1297.4C1650.6 1296.1 1652.3 1294.7 1653.7 1294.1C1655.1 1293.5 1656.6 1293.4 1657.6 1293.9C1658.6 1294.4 1659.4 1295.8 1659.7 1297.2C1660 1298.7 1659.9 1300.9 1659.5 1302.8C1659.2 1304.7 1658.3 1307 1657.6 1308.5C1656.9 1310 1655.9 1311.4 1655.3 1312C1654.7 1312.6 1654.1 1312.6 1654 1312.1C1653.9 1311.6 1654.2 1310.3 1654.8 1308.9C1655.4 1307.6 1656.6 1305.6 1657.8 1304.2C1659 1302.7 1660.7 1301 1662.1 1300.1C1663.6 1299.2 1665.2 1298.6 1666.4 1298.8C1667.6 1298.9 1668.6 1299.8 1669.2 1301C1669.8 1302.2 1669.9 1304.2 1669.8 1306C1669.6 1307.9 1669 1310.2 1668.3 1311.9C1667.7 1313.7 1666.6 1315.4 1666 1316.4C1665.3 1317.3 1664.5 1317.8 1664.2 1317.7C1663.9 1317.5 1663.8 1316.6 1664.2 1315.5C1664.6 1314.4 1665.5 1312.5 1666.5 1311C1667.6 1309.5 1669.1 1307.6 1670.6 1306.4C1672 1305.3 1673.7 1304.3 1675 1304C1676.3 1303.8 1677.6 1304.2 1678.4 1305.1C1679.2 1306 1679.7 1307.6 1679.8 1309.3C1679.8 1311 1679.4 1313.4 1678.9 1315.2C1678.4 1317.1 1677.4 1319.1 1676.7 1320.4C1676 1321.7 1675 1322.6 1674.5 1322.8C1674.1 1323.1 1673.7 1322.6 1673.9 1321.8C1674 1320.9 1674.6 1319.3 1675.5 1317.8C1676.3 1316.4 1677.7 1314.4 1679 1313C1680.4 1311.7 1682.1 1310.3 1683.5 1309.7C1684.9 1309.1 1686.4 1309 1687.4 1309.5C1688.4 1310 1689.2 1311.4 1689.5 1312.8C1689.8 1314.3 1689.7 1316.5 1689.3 1318.4C1689 1320.3 1688.1 1322.6 1687.4 1324.1C1686.7 1325.6 1685.7 1327 1685.1 1327.6C1684.5 1328.2 1683.9 1328.2 1683.8 1327.7C1683.7 1327.2 1684 1325.9 1684.6 1324.5C1685.2 1323.2 1686.4 1321.2 1687.6 1319.8C1688.8 1318.3 1690.5 1316.6 1691.9 1315.7C1693.4 1314.8 1695 1314.2 1696.2 1314.4C1697.4 1314.5 1698.4 1315.4 1699 1316.6C1699.6 1317.8 1699.7 1319.8 1699.6 1321.6C1699.4 1323.5 1698.8 1325.8 1698.1 1327.5C1697.5 1329.3 1696.4 1331 1695.8 1332C1695.1 1332.9 1694.3 1333.4 1694 1333.3C1693.7 1333.1 1693.6 1332.2 1694 1331.1C1694.4 1330 1695.3 1328.1 1696.3 1326.6C1697.4 1325.1 1698.9 1323.2 1700.4 1322C1701.8 1320.9 1703.5 1319.9 1704.8 1319.6C1706.1 1319.4 1707.4 1319.8 1708.2 1320.7C1709 1321.6 1709.5 1323.2 1709.6 1324.9C1709.6 1326.6 1708.8 1329.8 1708.7 1330.8"/><path id="p65" d="M1648 1288.4C1652 1288.8 1666 1288.8 1672 1290.8C1678 1292.8 1680.4 1301.2 1684 1300.4C1687.6 1299.6 1689.2 1288.8 1693.6 1286C1698 1283.2 1705.2 1283.6 1710.4 1283.6C1715.6 1283.6 1721.6 1283.6 1724.8 1286C1728 1288.4 1728.8 1296 1729.6 1298"/><path id="p66" d="M1730.6 1298C1730.8 1298.8 1731.5 1301.7 1731.9 1303C1732.3 1304.3 1732.5 1305.4 1732.8 1305.7C1733 1306 1733.2 1305.7 1733.4 1305C1733.6 1304.2 1733.8 1302.6 1734.1 1301C1734.4 1299.5 1734.8 1297.3 1735.2 1295.6C1735.6 1294 1736.2 1292.2 1736.8 1291.2C1737.3 1290.2 1738 1289.6 1738.7 1289.7C1739.3 1289.7 1740.1 1290.6 1740.7 1291.7C1741.3 1292.8 1742 1294.8 1742.5 1296.4C1743.1 1298.1 1743.5 1300.2 1743.9 1301.6C1744.3 1303 1744.6 1304.4 1744.9 1304.9C1745.1 1305.5 1745.3 1305.5 1745.5 1304.9C1745.7 1304.3 1745.9 1303 1746.2 1301.5C1746.5 1300.1 1746.8 1297.9 1747.2 1296.2C1747.6 1294.5 1748.1 1292.6 1748.6 1291.4C1749.2 1290.2 1749.9 1289.3 1750.5 1289.2C1751.2 1289.1 1751.9 1289.6 1752.5 1290.6C1753.2 1291.5 1753.9 1293.3 1754.4 1294.9C1755 1296.5 1755.5 1298.6 1755.9 1300.2C1756.3 1301.7 1756.7 1303.3 1756.9 1304C1757.2 1304.8 1757.4 1305.1 1757.6 1304.7C1757.9 1304.4 1758 1303.2 1758.3 1301.9C1758.6 1300.6 1758.8 1298.5 1759.2 1296.8C1759.6 1295.1 1760 1293.1 1760.6 1291.7C1761.1 1290.4 1761.7 1289.2 1762.4 1288.9C1763 1288.5 1763.7 1288.8 1764.4 1289.5C1765 1290.3 1765.7 1291.8 1766.3 1293.4C1766.9 1294.9 1767.4 1297.1 1767.9 1298.7C1768.3 1300.3 1768.7 1302 1769 1303C1769.3 1304 1769.5 1304.5 1769.8 1304.4C1770 1304.3 1770.1 1303.4 1770.4 1302.3C1770.6 1301.1 1770.9 1299.1 1771.2 1297.5C1771.6 1295.8 1772 1293.6 1772.5 1292.2C1773 1290.7 1773.6 1289.3 1774.2 1288.7C1774.8 1288.1 1775.5 1288.1 1776.2 1288.6C1776.9 1289.2 1777.6 1290.5 1778.2 1291.9C1778.8 1293.3 1779.4 1295.5 1779.9 1297.1C1780.3 1298.8 1780.7 1300.7 1781.1 1301.8C1781.4 1303 1781.6 1303.8 1781.9 1303.9C1782.1 1304 1782.3 1303.4 1782.5 1302.5C1782.7 1301.5 1782.9 1299.7 1783.3 1298.1C1783.6 1296.4 1784 1294.2 1784.4 1292.7C1784.9 1291.1 1785.5 1289.5 1786.1 1288.7C1786.7 1287.9 1787.4 1287.6 1788 1287.9C1788.7 1288.2 1789.4 1289.3 1790 1290.6C1790.7 1291.9 1791.3 1293.9 1791.8 1295.6C1792.3 1297.2 1792.7 1299.3 1793.1 1300.6C1793.5 1301.9 1793.7 1303 1794 1303.3C1794.2 1303.6 1794.4 1303.3 1794.6 1302.6C1794.8 1301.8 1795 1300.2 1795.3 1298.6C1795.6 1297.1 1796 1294.9 1796.4 1293.2C1796.8 1291.6 1797.4 1289.8 1798 1288.8C1798.5 1287.8 1799.2 1287.2 1799.9 1287.3C1800.5 1287.3 1801.3 1288.2 1801.9 1289.3C1802.5 1290.4 1803.2 1292.4 1803.7 1294C1804.3 1295.7 1804.7 1297.8 1805.1 1299.2C1805.5 1300.6 1805.8 1302 1806.1 1302.5C1806.3 1303.1 1806.5 1303.1 1806.7 1302.5C1806.9 1301.9 1807.1 1300.6 1807.4 1299.1C1807.7 1297.7 1808 1295.5 1808.4 1293.8C1808.8 1292.1 1809.3 1290.2 1809.8 1289C1810.4 1287.8 1811.1 1286.9 1811.7 1286.8C1812.4 1286.7 1813.1 1287.2 1813.7 1288.2C1814.4 1289.1 1815.1 1290.9 1815.6 1292.5C1816.2 1294.1 1816.7 1296.2 1817.1 1297.8C1817.5 1299.3 1817.9 1300.9 1818.1 1301.6C1818.4 1302.4 1818.6 1302.7 1818.8 1302.3C1819.1 1302 1819.2 1300.8 1819.5 1299.5C1819.8 1298.2 1820 1296.1 1820.4 1294.4C1820.8 1292.7 1821.2 1290.7 1821.8 1289.3C1822.3 1288 1822.9 1286.8 1823.6 1286.5C1824.2 1286.1 1824.9 1286.4 1825.6 1287.1C1826.2 1287.9 1826.9 1289.4 1827.5 1291C1828.1 1292.5 1828.6 1294.7 1829.1 1296.3C1829.5 1297.9 1829.9 1299.6 1830.2 1300.6C1830.5 1301.6 1830.7 1302.1 1831 1302C1831.2 1301.9 1831.3 1301 1831.6 1299.9C1831.8 1298.7 1832.1 1296.7 1832.4 1295.1C1832.8 1293.4 1833.2 1291.2 1833.7 1289.8C1834.2 1288.3 1834.8 1286.9 1835.4 1286.3C1836 1285.7 1836.7 1285.7 1837.4 1286.2C1838.1 1286.8 1838.8 1288.1 1839.4 1289.5C1840 1290.9 1840.6 1293.1 1841.1 1294.7C1841.5 1296.4 1841.9 1298.3 1842.3 1299.4C1842.6 1300.6 1842.8 1301.4 1843.1 1301.5C1843.3 1301.6 1843.5 1301 1843.7 1300.1C1843.9 1299.1 1844.1 1297.3 1844.5 1295.7C1844.8 1294 1845.2 1291.8 1845.6 1290.3C1846.1 1288.7 1846.7 1287.1 1847.3 1286.3C1847.9 1285.5 1848.6 1285.2 1849.2 1285.5C1849.9 1285.8 1850.6 1286.9 1851.2 1288.2C1851.9 1289.5 1852.7 1292.3 1853 1293.2"/><path id="p67" d="M1703.2 1328.6C1702.8 1329.1 1701.5 1330.6 1700.8 1331.3C1700.2 1332 1699.5 1332.6 1699.2 1332.8C1698.9 1333 1698.8 1332.9 1699.1 1332.7C1699.4 1332.5 1700.1 1332 1701 1331.6C1701.9 1331.2 1703.1 1330.5 1704.3 1330.1C1705.5 1329.8 1706.9 1329.4 1708.1 1329.3C1709.2 1329.2 1710.4 1329.4 1711.1 1329.8C1711.9 1330.2 1712.4 1330.9 1712.6 1331.7C1712.7 1332.5 1712.5 1333.7 1712.1 1334.8C1711.7 1335.8 1710.9 1337.1 1710.2 1338.1C1709.5 1339.1 1708.5 1340.1 1707.8 1340.8C1707.2 1341.5 1706.5 1342.1 1706.2 1342.3C1705.9 1342.5 1705.8 1342.4 1706.1 1342.2C1706.4 1342 1707.1 1341.5 1708 1341.1C1708.9 1340.7 1710.1 1340 1711.3 1339.6C1712.5 1339.3 1713.9 1338.9 1715.1 1338.8C1716.2 1338.7 1717.4 1338.9 1718.1 1339.3C1718.9 1339.7 1719.4 1340.4 1719.6 1341.2C1719.7 1342 1719.5 1343.2 1719.1 1344.3C1718.7 1345.3 1717.5 1347.1 1717.2 1347.6"/><path id="p68" d="M1716 1346C1718.3 1348.8 1730.5 1359.2 1729.6 1362.8C1728.7 1366.4 1717.6 1367.6 1710.4 1367.6C1703.2 1367.6 1690.8 1364.4 1686.4 1362.8C1682 1361.2 1680.8 1357.6 1684 1358C1687.2 1358.4 1702 1364 1705.6 1365.2"/><path id="p69" d="M1706.3 1371.3C1705.5 1372.1 1702.9 1374.5 1701.7 1375.7C1700.5 1376.9 1699.4 1377.9 1699.1 1378.4C1698.9 1379 1699.2 1379.1 1700.1 1379.1C1701 1379.1 1702.7 1378.5 1704.6 1378.2C1706.4 1377.8 1709 1377.1 1711.1 1376.8C1713.2 1376.4 1715.6 1376.1 1717.3 1376.2C1718.9 1376.4 1720.3 1376.8 1721 1377.6C1721.6 1378.3 1721.5 1379.6 1720.9 1380.9C1720.4 1382.3 1719 1384 1717.7 1385.6C1716.3 1387.2 1714.3 1389.1 1712.9 1390.5C1711.4 1391.9 1709.8 1393.2 1709 1394.1C1708.2 1395 1707.8 1395.6 1708.1 1395.8C1708.4 1396.1 1709.5 1395.8 1711 1395.6C1712.4 1395.3 1714.6 1394.6 1716.7 1394.2C1718.8 1393.8 1721.4 1393.2 1723.4 1393.1C1725.4 1393 1727.4 1393 1728.5 1393.4C1729.7 1393.9 1730.4 1394.7 1730.4 1395.8C1730.4 1396.9 1729.6 1398.5 1728.6 1400C1727.6 1401.5 1725.8 1403.4 1724.3 1404.9C1722.8 1406.5 1720.9 1408.1 1719.7 1409.3C1718.5 1410.5 1717.4 1411.5 1717.1 1412C1716.9 1412.6 1717.2 1412.7 1718.1 1412.7C1719 1412.7 1720.7 1412.1 1722.6 1411.8C1724.4 1411.4 1727 1410.7 1729.1 1410.4C1731.2 1410 1733.6 1409.7 1735.3 1409.8C1736.9 1410 1738.3 1410.4 1739 1411.2C1739.6 1411.9 1739.5 1413.2 1738.9 1414.5C1738.4 1415.9 1737 1417.6 1735.7 1419.2C1734.3 1420.8 1732.3 1422.7 1730.9 1424.1C1729.4 1425.5 1727.8 1426.8 1727 1427.7C1726.2 1428.6 1725.8 1429.2 1726.1 1429.4C1726.4 1429.7 1727.5 1429.4 1729 1429.2C1730.4 1428.9 1732.6 1428.2 1734.7 1427.8C1736.8 1427.4 1739.4 1426.8 1741.4 1426.7C1743.4 1426.6 1745.4 1426.6 1746.5 1427C1747.7 1427.5 1748.4 1428.3 1748.4 1429.4C1748.4 1430.5 1747.6 1432.1 1746.6 1433.6C1745.6 1435.1 1743 1437.7 1742.3 1438.5"/><path id="p70" d="M1741.6 1437.2C1735.6 1440 1710 1449.6 1705.6 1454C1701.2 1458.4 1713.6 1462 1715.2 1463.6"/><path id="p71" d="M1715.2 1463.6C1717.6 1468 1728.4 1484 1729.6 1490C1730.8 1496 1727.2 1498 1722.4 1499.6C1717.6 1501.2 1706 1497.2 1700.8 1499.6C1695.6 1502 1692 1510 1691.2 1514C1690.4 1518 1691.2 1520.8 1696 1523.6C1700.8 1526.4 1710 1529.6 1720 1530.8C1730 1532 1744 1532.4 1756 1530.8C1768 1529.2 1780 1524.4 1792 1521.2C1804 1518 1816 1516 1828 1511.6C1840 1507.2 1854 1496.8 1864 1494.8C1874 1492.8 1880.8 1500.4 1888 1499.6C1895.2 1498.8 1902.8 1494.4 1907.2 1490C1911.6 1485.6 1914.4 1479.6 1914.4 1473.2C1914.4 1466.8 1907.6 1457.6 1907.2 1451.6C1906.8 1445.6 1907.2 1440.4 1912 1437.2C1916.8 1434 1932.8 1435.6 1936 1432.4C1939.2 1429.2 1935.2 1424.4 1931.2 1418C1927.2 1411.6 1915.2 1398 1912 1394"/></defs><g fill="none" stroke-linecap="round" stroke-linejoin="round"><use href="#p35" stroke="#222" stroke-opacity="0.4" stroke-width="7.4"/><use href="#p35" stroke="#3430c0" stroke-width="6"/><use href="#p36" stroke="#222" stroke-opacity="0.4" stroke-width="6.1"/><use href="#p36" stroke="#3430c0" stroke-width="4.7"/><use href="#p37" stroke="#222" stroke-opacity="0.4" stroke-width="3.3"/><use href="#p37" stroke="#3430c0" stroke-width="2.4"/><use href="#p38" stroke="#222" stroke-opacity="0.4" stroke-width="3.3"/><use href="#p38" stroke="#3430c0" stroke-width="2.4"/><use href="#p39" stroke="#222" stroke-opacity="0.4" stroke-width="7.4"/><use href="#p39" stroke="#3430c0" stroke-width="6"/><use href="#p40" stroke="#222" stroke-opacity="0.4" stroke-width="6.6"/><use href="#p40" stroke="#f2c80c" stroke-width="5.2"/><use href="#p41" stroke="#222" stroke-opacity="0.4" stroke-width="5.8"/><use href="#p41" stroke="#f2c80c" stroke-width="4.4"/><use href="#p42" stroke="#222" stroke-opacity="0.4" stroke-width="3.3"/><use href="#p42" stroke="#f2c80c" stroke-width="2.4"/><use href="#p43" stroke="#222" stroke-opacity="0.4" stroke-width="2.9"/><use href="#p43" stroke="#d81414" stroke-width="2"/><use href="#p44" stroke="#222" stroke-opacity="0.4" stroke-width="2.9"/><use href="#p44" stroke="#d81414" stroke-width="2"/><use href="#p45" stroke="#222" stroke-opacity="0.4" stroke-width="3.3"/><use href="#p45" stroke="#3430c0" stroke-width="2.4"/><use href="#p46" stroke="#222" stroke-opacity="0.4" stroke-width="6.1"/><use href="#p46" stroke="#3430c0" stroke-width="4.7"/><use href="#p47" stroke="#222" stroke-opacity="0.4" stroke-width="7.4"/><use href="#p47" stroke="#3430c0" stroke-width="6"/><use href="#p48" stroke="#222" stroke-opacity="0.4" stroke-width="3.5"/><use href="#p48" stroke="#f2c80c" stroke-width="2.6"/><use href="#p49" stroke="#222" stroke-opacity="0.4" stroke-width="6.9"/><use href="#p49" stroke="#f2c80c" stroke-width="5.5"/><use href="#p50" stroke="#222" stroke-opacity="0.4" stroke-width="3.3"/><use href="#p50" stroke="#f2c80c" stroke-width="2.4"/><use href="#p51" stroke="#222" stroke-opacity="0.4" stroke-width="6.9"/><use href="#p51" stroke="#f2c80c" stroke-width="5.5"/><use href="#p52" stroke="#222" stroke-opacity="0.4" stroke-width="2.9"/><use href="#p52" stroke="#d81414" stroke-width="2"/><use href="#p53" stroke="#222" stroke-opacity="0.4" stroke-width="2.9"/><use href="#p53" stroke="#d81414" stroke-width="2"/><use href="#p54" stroke="#222" stroke-opacity="0.4" stroke-width="6.1"/><use href="#p54" stroke="#3430c0" stroke-width="4.7"/><use href="#p55" stroke="#222" stroke-opacity="0.4" stroke-width="3.3"/><use href="#p55" stroke="#3430c0" stroke-width="2.4"/><use href="#p56" stroke="#222" stroke-opacity="0.4" stroke-width="7.4"/><use href="#p56" stroke="#3430c0" stroke-width="6"/><use href="#p57" stroke="#222" stroke-opacity="0.4" stroke-width="3.5"/><use href="#p57" stroke="#f2c80c" stroke-width="2.6"/><use href="#p58" stroke="#222" stroke-opacity="0.4" stroke-width="7.1"/><use href="#p58" stroke="#f2c80c" stroke-width="5.7"/><use href="#p59" stroke="#222" stroke-opacity="0.4" stroke-width="3.3"/><use href="#p59" stroke="#f2c80c" stroke-width="2.4"/><use href="#p60" stroke="#222" stroke-opacity="0.4" stroke-width="6.1"/><use href="#p60" stroke="#f2c80c" stroke-width="4.7"/><use href="#p61" stroke="#222" stroke-opacity="0.4" stroke-width="3.3"/><use href="#p61" stroke="#f2c80c" stroke-width="2.4"/><use href="#p62" stroke="#222" stroke-opacity="0.4" stroke-width="2.9"/><use href="#p62" stroke="#d81414" stroke-width="2"/><use href="#p63" stroke="#222" stroke-opacity="0.4" stroke-width="2.9"/><use href="#p63" stroke="#d81414" stroke-width="2"/><use href="#p64" stroke="#222" stroke-opacity="0.4" stroke-width="6.1"/><use href="#p64" stroke="#3430c0" stroke-width="4.7"/><use href="#p65" stroke="#222" stroke-opacity="0.4" stroke-width="3.3"/><use href="#p65" stroke="#3430c0" stroke-width="2.4"/><use href="#p66" stroke="#222" stroke-opacity="0.4" stroke-width="7.1"/><use href="#p66" stroke="#3430c0" stroke-width="5.7"/><use href="#p67" stroke="#222" stroke-opacity="0.4" stroke-width="6.9"/><use href="#p67" stroke="#f2c80c" stroke-width="5.5"/><use href="#p68" stroke="#222" stroke-opacity="0.4" stroke-width="3.5"/><use href="#p68" stroke="#f2c80c" stroke-width="2.6"/><use href="#p69" stroke="#222" stroke-opacity="0.4" stroke-width="7.1"/><use href="#p69" stroke="#f2c80c" stroke-width="5.7"/><use href="#p70" stroke="#222" stroke-opacity="0.4" stroke-width="3.3"/><use href="#p70" stroke="#f2c80c" stroke-width="2.4"/><use href="#p71" stroke="#222" stroke-opacity="0.4" stroke-width="2.9"/><use href="#p71" stroke="#d81414" stroke-width="2"/></g></svg></body></html>
